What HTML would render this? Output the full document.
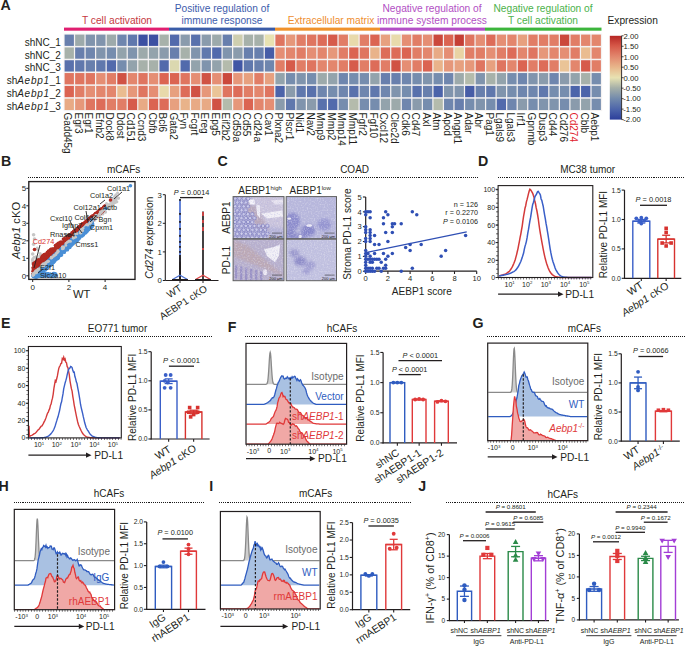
<!DOCTYPE html>
<html><head><meta charset="utf-8"><style>
html,body{margin:0;padding:0;background:#fff;width:685px;height:646px;overflow:hidden}
svg{display:block;font-family:"Liberation Sans",sans-serif}
</style></head><body>
<svg width="685" height="646" viewBox="0 0 685 646" font-family="Liberation Sans, sans-serif" font-size="10" fill="#231f20">
<rect width="685" height="646" fill="#fff"/>
<rect x="63.6" y="33.6" width="538.54" height="77.52" fill="#f4f2f2"/>
<rect x="64.6" y="34.6" width="9.3" height="11.3" fill="#687fad"/>
<rect x="75.14" y="34.6" width="9.3" height="11.3" fill="#9daaab"/>
<rect x="85.68" y="34.6" width="9.3" height="11.3" fill="#8094ad"/>
<rect x="96.22" y="34.6" width="9.3" height="11.3" fill="#8094ad"/>
<rect x="106.76" y="34.6" width="9.3" height="11.3" fill="#9daaab"/>
<rect x="117.3" y="34.6" width="9.3" height="11.3" fill="#6f86ae"/>
<rect x="127.84" y="34.6" width="9.3" height="11.3" fill="#6078ad"/>
<rect x="138.38" y="34.6" width="9.3" height="11.3" fill="#3c50a2"/>
<rect x="148.92" y="34.6" width="9.3" height="11.3" fill="#3c50a2"/>
<rect x="159.46" y="34.6" width="9.3" height="11.3" fill="#a7b1aa"/>
<rect x="170" y="34.6" width="9.3" height="11.3" fill="#526aac"/>
<rect x="180.54" y="34.6" width="9.3" height="11.3" fill="#8a9bac"/>
<rect x="191.08" y="34.6" width="9.3" height="11.3" fill="#5971ac"/>
<rect x="201.62" y="34.6" width="9.3" height="11.3" fill="#8a9bac"/>
<rect x="212.16" y="34.6" width="9.3" height="11.3" fill="#9daaab"/>
<rect x="222.7" y="34.6" width="9.3" height="11.3" fill="#687fad"/>
<rect x="233.24" y="34.6" width="9.3" height="11.3" fill="#ceceaf"/>
<rect x="243.78" y="34.6" width="9.3" height="11.3" fill="#a7b1aa"/>
<rect x="254.32" y="34.6" width="9.3" height="11.3" fill="#a7b1aa"/>
<rect x="264.86" y="34.6" width="9.3" height="11.3" fill="#e8e2b2"/>
<rect x="275.4" y="34.6" width="9.3" height="11.3" fill="#df7560"/>
<rect x="285.94" y="34.6" width="9.3" height="11.3" fill="#e6977a"/>
<rect x="296.48" y="34.6" width="9.3" height="11.3" fill="#e17d66"/>
<rect x="307.02" y="34.6" width="9.3" height="11.3" fill="#df7560"/>
<rect x="317.56" y="34.6" width="9.3" height="11.3" fill="#dd6c59"/>
<rect x="328.1" y="34.6" width="9.3" height="11.3" fill="#d65b4b"/>
<rect x="338.64" y="34.6" width="9.3" height="11.3" fill="#e17d66"/>
<rect x="349.18" y="34.6" width="9.3" height="11.3" fill="#e8daab"/>
<rect x="359.72" y="34.6" width="9.3" height="11.3" fill="#e17d66"/>
<rect x="370.26" y="34.6" width="9.3" height="11.3" fill="#db6452"/>
<rect x="380.8" y="34.6" width="9.3" height="11.3" fill="#e7a07f"/>
<rect x="391.34" y="34.6" width="9.3" height="11.3" fill="#e8daab"/>
<rect x="401.88" y="34.6" width="9.3" height="11.3" fill="#e58e74"/>
<rect x="412.42" y="34.6" width="9.3" height="11.3" fill="#e17d66"/>
<rect x="422.96" y="34.6" width="9.3" height="11.3" fill="#e58e74"/>
<rect x="433.5" y="34.6" width="9.3" height="11.3" fill="#cb483c"/>
<rect x="444.04" y="34.6" width="9.3" height="11.3" fill="#db6452"/>
<rect x="454.58" y="34.6" width="9.3" height="11.3" fill="#c53f35"/>
<rect x="465.12" y="34.6" width="9.3" height="11.3" fill="#df7560"/>
<rect x="475.66" y="34.6" width="9.3" height="11.3" fill="#e58e74"/>
<rect x="486.2" y="34.6" width="9.3" height="11.3" fill="#dd6c59"/>
<rect x="496.74" y="34.6" width="9.3" height="11.3" fill="#e58e74"/>
<rect x="507.28" y="34.6" width="9.3" height="11.3" fill="#e3866d"/>
<rect x="517.82" y="34.6" width="9.3" height="11.3" fill="#e7a07f"/>
<rect x="528.36" y="34.6" width="9.3" height="11.3" fill="#e17d66"/>
<rect x="538.9" y="34.6" width="9.3" height="11.3" fill="#e17d66"/>
<rect x="549.44" y="34.6" width="9.3" height="11.3" fill="#e17d66"/>
<rect x="559.98" y="34.6" width="9.3" height="11.3" fill="#cb483c"/>
<rect x="570.52" y="34.6" width="9.3" height="11.3" fill="#e17d66"/>
<rect x="581.06" y="34.6" width="9.3" height="11.3" fill="#e3866d"/>
<rect x="591.6" y="34.6" width="9.3" height="11.3" fill="#e3866d"/>
<rect x="64.6" y="47.42" width="9.3" height="11.3" fill="#a7b1aa"/>
<rect x="75.14" y="47.42" width="9.3" height="11.3" fill="#687fad"/>
<rect x="85.68" y="47.42" width="9.3" height="11.3" fill="#6f86ae"/>
<rect x="96.22" y="47.42" width="9.3" height="11.3" fill="#8094ad"/>
<rect x="106.76" y="47.42" width="9.3" height="11.3" fill="#768dae"/>
<rect x="117.3" y="47.42" width="9.3" height="11.3" fill="#93a3ac"/>
<rect x="127.84" y="47.42" width="9.3" height="11.3" fill="#8094ad"/>
<rect x="138.38" y="47.42" width="9.3" height="11.3" fill="#9daaab"/>
<rect x="148.92" y="47.42" width="9.3" height="11.3" fill="#93a3ac"/>
<rect x="159.46" y="47.42" width="9.3" height="11.3" fill="#8a9bac"/>
<rect x="170" y="47.42" width="9.3" height="11.3" fill="#687fad"/>
<rect x="180.54" y="47.42" width="9.3" height="11.3" fill="#a7b1aa"/>
<rect x="191.08" y="47.42" width="9.3" height="11.3" fill="#8094ad"/>
<rect x="201.62" y="47.42" width="9.3" height="11.3" fill="#6078ad"/>
<rect x="212.16" y="47.42" width="9.3" height="11.3" fill="#526aac"/>
<rect x="222.7" y="47.42" width="9.3" height="11.3" fill="#8094ad"/>
<rect x="233.24" y="47.42" width="9.3" height="11.3" fill="#8a9bac"/>
<rect x="243.78" y="47.42" width="9.3" height="11.3" fill="#687fad"/>
<rect x="254.32" y="47.42" width="9.3" height="11.3" fill="#687fad"/>
<rect x="264.86" y="47.42" width="9.3" height="11.3" fill="#475da7"/>
<rect x="275.4" y="47.42" width="9.3" height="11.3" fill="#e58e74"/>
<rect x="285.94" y="47.42" width="9.3" height="11.3" fill="#e3866d"/>
<rect x="296.48" y="47.42" width="9.3" height="11.3" fill="#e17d66"/>
<rect x="307.02" y="47.42" width="9.3" height="11.3" fill="#e58e74"/>
<rect x="317.56" y="47.42" width="9.3" height="11.3" fill="#e3866d"/>
<rect x="328.1" y="47.42" width="9.3" height="11.3" fill="#e6977a"/>
<rect x="338.64" y="47.42" width="9.3" height="11.3" fill="#e17d66"/>
<rect x="349.18" y="47.42" width="9.3" height="11.3" fill="#db6452"/>
<rect x="359.72" y="47.42" width="9.3" height="11.3" fill="#df7560"/>
<rect x="370.26" y="47.42" width="9.3" height="11.3" fill="#e9b38a"/>
<rect x="380.8" y="47.42" width="9.3" height="11.3" fill="#dd6c59"/>
<rect x="391.34" y="47.42" width="9.3" height="11.3" fill="#dd6c59"/>
<rect x="401.88" y="47.42" width="9.3" height="11.3" fill="#db6452"/>
<rect x="412.42" y="47.42" width="9.3" height="11.3" fill="#e17d66"/>
<rect x="422.96" y="47.42" width="9.3" height="11.3" fill="#e3866d"/>
<rect x="433.5" y="47.42" width="9.3" height="11.3" fill="#e8aa85"/>
<rect x="444.04" y="47.42" width="9.3" height="11.3" fill="#e58e74"/>
<rect x="454.58" y="47.42" width="9.3" height="11.3" fill="#e9d3a4"/>
<rect x="465.12" y="47.42" width="9.3" height="11.3" fill="#e17d66"/>
<rect x="475.66" y="47.42" width="9.3" height="11.3" fill="#e17d66"/>
<rect x="486.2" y="47.42" width="9.3" height="11.3" fill="#e58e74"/>
<rect x="496.74" y="47.42" width="9.3" height="11.3" fill="#e17d66"/>
<rect x="507.28" y="47.42" width="9.3" height="11.3" fill="#dd6c59"/>
<rect x="517.82" y="47.42" width="9.3" height="11.3" fill="#e3866d"/>
<rect x="528.36" y="47.42" width="9.3" height="11.3" fill="#df7560"/>
<rect x="538.9" y="47.42" width="9.3" height="11.3" fill="#e6977a"/>
<rect x="549.44" y="47.42" width="9.3" height="11.3" fill="#e3866d"/>
<rect x="559.98" y="47.42" width="9.3" height="11.3" fill="#e58e74"/>
<rect x="570.52" y="47.42" width="9.3" height="11.3" fill="#e17d66"/>
<rect x="581.06" y="47.42" width="9.3" height="11.3" fill="#eabc90"/>
<rect x="591.6" y="47.42" width="9.3" height="11.3" fill="#e3866d"/>
<rect x="64.6" y="60.24" width="9.3" height="11.3" fill="#5971ac"/>
<rect x="75.14" y="60.24" width="9.3" height="11.3" fill="#6078ad"/>
<rect x="85.68" y="60.24" width="9.3" height="11.3" fill="#687fad"/>
<rect x="96.22" y="60.24" width="9.3" height="11.3" fill="#6078ad"/>
<rect x="106.76" y="60.24" width="9.3" height="11.3" fill="#526aac"/>
<rect x="117.3" y="60.24" width="9.3" height="11.3" fill="#768dae"/>
<rect x="127.84" y="60.24" width="9.3" height="11.3" fill="#93a3ac"/>
<rect x="138.38" y="60.24" width="9.3" height="11.3" fill="#a7b1aa"/>
<rect x="148.92" y="60.24" width="9.3" height="11.3" fill="#a7b1aa"/>
<rect x="159.46" y="60.24" width="9.3" height="11.3" fill="#526aac"/>
<rect x="170" y="60.24" width="9.3" height="11.3" fill="#dbd8b0"/>
<rect x="180.54" y="60.24" width="9.3" height="11.3" fill="#526aac"/>
<rect x="191.08" y="60.24" width="9.3" height="11.3" fill="#93a3ac"/>
<rect x="201.62" y="60.24" width="9.3" height="11.3" fill="#8094ad"/>
<rect x="212.16" y="60.24" width="9.3" height="11.3" fill="#93a3ac"/>
<rect x="222.7" y="60.24" width="9.3" height="11.3" fill="#b4bbac"/>
<rect x="233.24" y="60.24" width="9.3" height="11.3" fill="#4157a5"/>
<rect x="243.78" y="60.24" width="9.3" height="11.3" fill="#6078ad"/>
<rect x="254.32" y="60.24" width="9.3" height="11.3" fill="#687fad"/>
<rect x="264.86" y="60.24" width="9.3" height="11.3" fill="#6f86ae"/>
<rect x="275.4" y="60.24" width="9.3" height="11.3" fill="#e17d66"/>
<rect x="285.94" y="60.24" width="9.3" height="11.3" fill="#d65b4b"/>
<rect x="296.48" y="60.24" width="9.3" height="11.3" fill="#e17d66"/>
<rect x="307.02" y="60.24" width="9.3" height="11.3" fill="#df7560"/>
<rect x="317.56" y="60.24" width="9.3" height="11.3" fill="#e3866d"/>
<rect x="328.1" y="60.24" width="9.3" height="11.3" fill="#e3866d"/>
<rect x="338.64" y="60.24" width="9.3" height="11.3" fill="#e17d66"/>
<rect x="349.18" y="60.24" width="9.3" height="11.3" fill="#d65b4b"/>
<rect x="359.72" y="60.24" width="9.3" height="11.3" fill="#e17d66"/>
<rect x="370.26" y="60.24" width="9.3" height="11.3" fill="#dd6c59"/>
<rect x="380.8" y="60.24" width="9.3" height="11.3" fill="#e17d66"/>
<rect x="391.34" y="60.24" width="9.3" height="11.3" fill="#d05244"/>
<rect x="401.88" y="60.24" width="9.3" height="11.3" fill="#e58e74"/>
<rect x="412.42" y="60.24" width="9.3" height="11.3" fill="#e17d66"/>
<rect x="422.96" y="60.24" width="9.3" height="11.3" fill="#db6452"/>
<rect x="433.5" y="60.24" width="9.3" height="11.3" fill="#e9b38a"/>
<rect x="444.04" y="60.24" width="9.3" height="11.3" fill="#e6977a"/>
<rect x="454.58" y="60.24" width="9.3" height="11.3" fill="#e7a07f"/>
<rect x="465.12" y="60.24" width="9.3" height="11.3" fill="#e6977a"/>
<rect x="475.66" y="60.24" width="9.3" height="11.3" fill="#df7560"/>
<rect x="486.2" y="60.24" width="9.3" height="11.3" fill="#e7a07f"/>
<rect x="496.74" y="60.24" width="9.3" height="11.3" fill="#df7560"/>
<rect x="507.28" y="60.24" width="9.3" height="11.3" fill="#e3866d"/>
<rect x="517.82" y="60.24" width="9.3" height="11.3" fill="#db6452"/>
<rect x="528.36" y="60.24" width="9.3" height="11.3" fill="#e17d66"/>
<rect x="538.9" y="60.24" width="9.3" height="11.3" fill="#dd6c59"/>
<rect x="549.44" y="60.24" width="9.3" height="11.3" fill="#e17d66"/>
<rect x="559.98" y="60.24" width="9.3" height="11.3" fill="#eac497"/>
<rect x="570.52" y="60.24" width="9.3" height="11.3" fill="#e3866d"/>
<rect x="581.06" y="60.24" width="9.3" height="11.3" fill="#d65b4b"/>
<rect x="591.6" y="60.24" width="9.3" height="11.3" fill="#e17d66"/>
<rect x="64.6" y="73.06" width="9.3" height="11.3" fill="#df7560"/>
<rect x="75.14" y="73.06" width="9.3" height="11.3" fill="#df7560"/>
<rect x="85.68" y="73.06" width="9.3" height="11.3" fill="#df7560"/>
<rect x="96.22" y="73.06" width="9.3" height="11.3" fill="#e58e74"/>
<rect x="106.76" y="73.06" width="9.3" height="11.3" fill="#e17d66"/>
<rect x="117.3" y="73.06" width="9.3" height="11.3" fill="#d05244"/>
<rect x="127.84" y="73.06" width="9.3" height="11.3" fill="#e3866d"/>
<rect x="138.38" y="73.06" width="9.3" height="11.3" fill="#df7560"/>
<rect x="148.92" y="73.06" width="9.3" height="11.3" fill="#e58e74"/>
<rect x="159.46" y="73.06" width="9.3" height="11.3" fill="#db6452"/>
<rect x="170" y="73.06" width="9.3" height="11.3" fill="#db6452"/>
<rect x="180.54" y="73.06" width="9.3" height="11.3" fill="#df7560"/>
<rect x="191.08" y="73.06" width="9.3" height="11.3" fill="#e58e74"/>
<rect x="201.62" y="73.06" width="9.3" height="11.3" fill="#d05244"/>
<rect x="212.16" y="73.06" width="9.3" height="11.3" fill="#e58e74"/>
<rect x="222.7" y="73.06" width="9.3" height="11.3" fill="#cb483c"/>
<rect x="233.24" y="73.06" width="9.3" height="11.3" fill="#e6977a"/>
<rect x="243.78" y="73.06" width="9.3" height="11.3" fill="#e7a07f"/>
<rect x="254.32" y="73.06" width="9.3" height="11.3" fill="#e17d66"/>
<rect x="264.86" y="73.06" width="9.3" height="11.3" fill="#e7a07f"/>
<rect x="275.4" y="73.06" width="9.3" height="11.3" fill="#93a3ac"/>
<rect x="285.94" y="73.06" width="9.3" height="11.3" fill="#768dae"/>
<rect x="296.48" y="73.06" width="9.3" height="11.3" fill="#8094ad"/>
<rect x="307.02" y="73.06" width="9.3" height="11.3" fill="#768dae"/>
<rect x="317.56" y="73.06" width="9.3" height="11.3" fill="#9daaab"/>
<rect x="328.1" y="73.06" width="9.3" height="11.3" fill="#93a3ac"/>
<rect x="338.64" y="73.06" width="9.3" height="11.3" fill="#6f86ae"/>
<rect x="349.18" y="73.06" width="9.3" height="11.3" fill="#768dae"/>
<rect x="359.72" y="73.06" width="9.3" height="11.3" fill="#768dae"/>
<rect x="370.26" y="73.06" width="9.3" height="11.3" fill="#93a3ac"/>
<rect x="380.8" y="73.06" width="9.3" height="11.3" fill="#687fad"/>
<rect x="391.34" y="73.06" width="9.3" height="11.3" fill="#687fad"/>
<rect x="401.88" y="73.06" width="9.3" height="11.3" fill="#6f86ae"/>
<rect x="412.42" y="73.06" width="9.3" height="11.3" fill="#768dae"/>
<rect x="422.96" y="73.06" width="9.3" height="11.3" fill="#8094ad"/>
<rect x="433.5" y="73.06" width="9.3" height="11.3" fill="#768dae"/>
<rect x="444.04" y="73.06" width="9.3" height="11.3" fill="#6f86ae"/>
<rect x="454.58" y="73.06" width="9.3" height="11.3" fill="#9daaab"/>
<rect x="465.12" y="73.06" width="9.3" height="11.3" fill="#b4bbac"/>
<rect x="475.66" y="73.06" width="9.3" height="11.3" fill="#8094ad"/>
<rect x="486.2" y="73.06" width="9.3" height="11.3" fill="#a7b1aa"/>
<rect x="496.74" y="73.06" width="9.3" height="11.3" fill="#93a3ac"/>
<rect x="507.28" y="73.06" width="9.3" height="11.3" fill="#768dae"/>
<rect x="517.82" y="73.06" width="9.3" height="11.3" fill="#6f86ae"/>
<rect x="528.36" y="73.06" width="9.3" height="11.3" fill="#8094ad"/>
<rect x="538.9" y="73.06" width="9.3" height="11.3" fill="#8a9bac"/>
<rect x="549.44" y="73.06" width="9.3" height="11.3" fill="#6f86ae"/>
<rect x="559.98" y="73.06" width="9.3" height="11.3" fill="#8a9bac"/>
<rect x="570.52" y="73.06" width="9.3" height="11.3" fill="#93a3ac"/>
<rect x="581.06" y="73.06" width="9.3" height="11.3" fill="#a7b1aa"/>
<rect x="591.6" y="73.06" width="9.3" height="11.3" fill="#768dae"/>
<rect x="64.6" y="85.88" width="9.3" height="11.3" fill="#db6452"/>
<rect x="75.14" y="85.88" width="9.3" height="11.3" fill="#e17d66"/>
<rect x="85.68" y="85.88" width="9.3" height="11.3" fill="#e58e74"/>
<rect x="96.22" y="85.88" width="9.3" height="11.3" fill="#e3866d"/>
<rect x="106.76" y="85.88" width="9.3" height="11.3" fill="#e3866d"/>
<rect x="117.3" y="85.88" width="9.3" height="11.3" fill="#eabc90"/>
<rect x="127.84" y="85.88" width="9.3" height="11.3" fill="#e6977a"/>
<rect x="138.38" y="85.88" width="9.3" height="11.3" fill="#df7560"/>
<rect x="148.92" y="85.88" width="9.3" height="11.3" fill="#e58e74"/>
<rect x="159.46" y="85.88" width="9.3" height="11.3" fill="#e8daab"/>
<rect x="170" y="85.88" width="9.3" height="11.3" fill="#e7a07f"/>
<rect x="180.54" y="85.88" width="9.3" height="11.3" fill="#dd6c59"/>
<rect x="191.08" y="85.88" width="9.3" height="11.3" fill="#d05244"/>
<rect x="201.62" y="85.88" width="9.3" height="11.3" fill="#e6977a"/>
<rect x="212.16" y="85.88" width="9.3" height="11.3" fill="#eac497"/>
<rect x="222.7" y="85.88" width="9.3" height="11.3" fill="#df7560"/>
<rect x="233.24" y="85.88" width="9.3" height="11.3" fill="#dd6c59"/>
<rect x="243.78" y="85.88" width="9.3" height="11.3" fill="#e17d66"/>
<rect x="254.32" y="85.88" width="9.3" height="11.3" fill="#e3866d"/>
<rect x="264.86" y="85.88" width="9.3" height="11.3" fill="#df7560"/>
<rect x="275.4" y="85.88" width="9.3" height="11.3" fill="#4c64aa"/>
<rect x="285.94" y="85.88" width="9.3" height="11.3" fill="#8a9bac"/>
<rect x="296.48" y="85.88" width="9.3" height="11.3" fill="#6078ad"/>
<rect x="307.02" y="85.88" width="9.3" height="11.3" fill="#5971ac"/>
<rect x="317.56" y="85.88" width="9.3" height="11.3" fill="#6f86ae"/>
<rect x="328.1" y="85.88" width="9.3" height="11.3" fill="#768dae"/>
<rect x="338.64" y="85.88" width="9.3" height="11.3" fill="#6f86ae"/>
<rect x="349.18" y="85.88" width="9.3" height="11.3" fill="#5971ac"/>
<rect x="359.72" y="85.88" width="9.3" height="11.3" fill="#6f86ae"/>
<rect x="370.26" y="85.88" width="9.3" height="11.3" fill="#6078ad"/>
<rect x="380.8" y="85.88" width="9.3" height="11.3" fill="#6f86ae"/>
<rect x="391.34" y="85.88" width="9.3" height="11.3" fill="#8094ad"/>
<rect x="401.88" y="85.88" width="9.3" height="11.3" fill="#768dae"/>
<rect x="412.42" y="85.88" width="9.3" height="11.3" fill="#5971ac"/>
<rect x="422.96" y="85.88" width="9.3" height="11.3" fill="#687fad"/>
<rect x="433.5" y="85.88" width="9.3" height="11.3" fill="#4c64aa"/>
<rect x="444.04" y="85.88" width="9.3" height="11.3" fill="#8094ad"/>
<rect x="454.58" y="85.88" width="9.3" height="11.3" fill="#8094ad"/>
<rect x="465.12" y="85.88" width="9.3" height="11.3" fill="#475da7"/>
<rect x="475.66" y="85.88" width="9.3" height="11.3" fill="#687fad"/>
<rect x="486.2" y="85.88" width="9.3" height="11.3" fill="#6078ad"/>
<rect x="496.74" y="85.88" width="9.3" height="11.3" fill="#8094ad"/>
<rect x="507.28" y="85.88" width="9.3" height="11.3" fill="#768dae"/>
<rect x="517.82" y="85.88" width="9.3" height="11.3" fill="#6f86ae"/>
<rect x="528.36" y="85.88" width="9.3" height="11.3" fill="#6f86ae"/>
<rect x="538.9" y="85.88" width="9.3" height="11.3" fill="#6078ad"/>
<rect x="549.44" y="85.88" width="9.3" height="11.3" fill="#768dae"/>
<rect x="559.98" y="85.88" width="9.3" height="11.3" fill="#768dae"/>
<rect x="570.52" y="85.88" width="9.3" height="11.3" fill="#4c64aa"/>
<rect x="581.06" y="85.88" width="9.3" height="11.3" fill="#4c64aa"/>
<rect x="591.6" y="85.88" width="9.3" height="11.3" fill="#768dae"/>
<rect x="64.6" y="98.7" width="9.3" height="11.3" fill="#e8aa85"/>
<rect x="75.14" y="98.7" width="9.3" height="11.3" fill="#e6977a"/>
<rect x="85.68" y="98.7" width="9.3" height="11.3" fill="#df7560"/>
<rect x="96.22" y="98.7" width="9.3" height="11.3" fill="#dd6c59"/>
<rect x="106.76" y="98.7" width="9.3" height="11.3" fill="#e17d66"/>
<rect x="117.3" y="98.7" width="9.3" height="11.3" fill="#e17d66"/>
<rect x="127.84" y="98.7" width="9.3" height="11.3" fill="#d65b4b"/>
<rect x="138.38" y="98.7" width="9.3" height="11.3" fill="#e8aa85"/>
<rect x="148.92" y="98.7" width="9.3" height="11.3" fill="#db6452"/>
<rect x="159.46" y="98.7" width="9.3" height="11.3" fill="#dd6c59"/>
<rect x="170" y="98.7" width="9.3" height="11.3" fill="#e7a07f"/>
<rect x="180.54" y="98.7" width="9.3" height="11.3" fill="#e9b38a"/>
<rect x="191.08" y="98.7" width="9.3" height="11.3" fill="#e8aa85"/>
<rect x="201.62" y="98.7" width="9.3" height="11.3" fill="#e8aa85"/>
<rect x="212.16" y="98.7" width="9.3" height="11.3" fill="#d05244"/>
<rect x="222.7" y="98.7" width="9.3" height="11.3" fill="#b4bbac"/>
<rect x="233.24" y="98.7" width="9.3" height="11.3" fill="#e6977a"/>
<rect x="243.78" y="98.7" width="9.3" height="11.3" fill="#db6452"/>
<rect x="254.32" y="98.7" width="9.3" height="11.3" fill="#e3866d"/>
<rect x="264.86" y="98.7" width="9.3" height="11.3" fill="#e58e74"/>
<rect x="275.4" y="98.7" width="9.3" height="11.3" fill="#8a9bac"/>
<rect x="285.94" y="98.7" width="9.3" height="11.3" fill="#6078ad"/>
<rect x="296.48" y="98.7" width="9.3" height="11.3" fill="#8094ad"/>
<rect x="307.02" y="98.7" width="9.3" height="11.3" fill="#8a9bac"/>
<rect x="317.56" y="98.7" width="9.3" height="11.3" fill="#5971ac"/>
<rect x="328.1" y="98.7" width="9.3" height="11.3" fill="#526aac"/>
<rect x="338.64" y="98.7" width="9.3" height="11.3" fill="#768dae"/>
<rect x="349.18" y="98.7" width="9.3" height="11.3" fill="#b4bbac"/>
<rect x="359.72" y="98.7" width="9.3" height="11.3" fill="#768dae"/>
<rect x="370.26" y="98.7" width="9.3" height="11.3" fill="#768dae"/>
<rect x="380.8" y="98.7" width="9.3" height="11.3" fill="#93a3ac"/>
<rect x="391.34" y="98.7" width="9.3" height="11.3" fill="#9daaab"/>
<rect x="401.88" y="98.7" width="9.3" height="11.3" fill="#6f86ae"/>
<rect x="412.42" y="98.7" width="9.3" height="11.3" fill="#8a9bac"/>
<rect x="422.96" y="98.7" width="9.3" height="11.3" fill="#768dae"/>
<rect x="433.5" y="98.7" width="9.3" height="11.3" fill="#b4bbac"/>
<rect x="444.04" y="98.7" width="9.3" height="11.3" fill="#6f86ae"/>
<rect x="454.58" y="98.7" width="9.3" height="11.3" fill="#687fad"/>
<rect x="465.12" y="98.7" width="9.3" height="11.3" fill="#768dae"/>
<rect x="475.66" y="98.7" width="9.3" height="11.3" fill="#8094ad"/>
<rect x="486.2" y="98.7" width="9.3" height="11.3" fill="#768dae"/>
<rect x="496.74" y="98.7" width="9.3" height="11.3" fill="#526aac"/>
<rect x="507.28" y="98.7" width="9.3" height="11.3" fill="#6f86ae"/>
<rect x="517.82" y="98.7" width="9.3" height="11.3" fill="#8a9bac"/>
<rect x="528.36" y="98.7" width="9.3" height="11.3" fill="#768dae"/>
<rect x="538.9" y="98.7" width="9.3" height="11.3" fill="#8094ad"/>
<rect x="549.44" y="98.7" width="9.3" height="11.3" fill="#8094ad"/>
<rect x="559.98" y="98.7" width="9.3" height="11.3" fill="#768dae"/>
<rect x="570.52" y="98.7" width="9.3" height="11.3" fill="#8a9bac"/>
<rect x="581.06" y="98.7" width="9.3" height="11.3" fill="#93a3ac"/>
<rect x="591.6" y="98.7" width="9.3" height="11.3" fill="#768dae"/>
<text x="60.8" y="45.85" text-anchor="end">shNC_1</text>
<text x="60.8" y="58.67" text-anchor="end">shNC_2</text>
<text x="60.8" y="71.49" text-anchor="end">shNC_3</text>
<text x="60.8" y="84.31" text-anchor="end">sh<tspan font-style="italic" letter-spacing="0.7">Aebp1</tspan>_1</text>
<text x="60.8" y="97.13" text-anchor="end">sh<tspan font-style="italic" letter-spacing="0.7">Aebp1</tspan>_2</text>
<text x="60.8" y="109.95" text-anchor="end">sh<tspan font-style="italic" letter-spacing="0.7">Aebp1</tspan>_3</text>
<text x="64.25" y="112.5" transform="rotate(90 64.25 112.5)">Gadd45g</text>
<text x="74.79" y="112.5" transform="rotate(90 74.79 112.5)">Egr3</text>
<text x="85.33" y="112.5" transform="rotate(90 85.33 112.5)">Egr1</text>
<text x="95.87" y="112.5" transform="rotate(90 95.87 112.5)">Efnb2</text>
<text x="106.41" y="112.5" transform="rotate(90 106.41 112.5)">Dock8</text>
<text x="116.95" y="112.5" transform="rotate(90 116.95 112.5)">Ddost</text>
<text x="127.49" y="112.5" transform="rotate(90 127.49 112.5)">Cd151</text>
<text x="138.03" y="112.5" transform="rotate(90 138.03 112.5)">Ccnd3</text>
<text x="148.57" y="112.5" transform="rotate(90 148.57 112.5)">Cbfb</text>
<text x="159.11" y="112.5" transform="rotate(90 159.11 112.5)">Bcl6</text>
<text x="169.65" y="112.5" transform="rotate(90 169.65 112.5)">Gata2</text>
<text x="180.19" y="112.5" transform="rotate(90 180.19 112.5)">Fyn</text>
<text x="190.73" y="112.5" transform="rotate(90 190.73 112.5)">Fcgrt</text>
<text x="201.27" y="112.5" transform="rotate(90 201.27 112.5)">Ereg</text>
<text x="211.81" y="112.5" transform="rotate(90 211.81 112.5)">Epg5</text>
<text x="222.35" y="112.5" transform="rotate(90 222.35 112.5)">Eif2b2</text>
<text x="232.89" y="112.5" transform="rotate(90 232.89 112.5)">Cd59a</text>
<text x="243.43" y="112.5" transform="rotate(90 243.43 112.5)">Cd55</text>
<text x="253.97" y="112.5" transform="rotate(90 253.97 112.5)">Cd24a</text>
<text x="264.51" y="112.5" transform="rotate(90 264.51 112.5)">Cav1</text>
<text x="275.05" y="112.5" transform="rotate(90 275.05 112.5)">Plxna2</text>
<text x="285.59" y="112.5" transform="rotate(90 285.59 112.5)">Plscr1</text>
<text x="296.13" y="112.5" transform="rotate(90 296.13 112.5)">Nid1</text>
<text x="306.67" y="112.5" transform="rotate(90 306.67 112.5)">Nav2</text>
<text x="317.21" y="112.5" transform="rotate(90 317.21 112.5)">Mmp9</text>
<text x="327.75" y="112.5" transform="rotate(90 327.75 112.5)">Mmp2</text>
<text x="338.29" y="112.5" transform="rotate(90 338.29 112.5)">Mmp14</text>
<text x="348.83" y="112.5" transform="rotate(90 348.83 112.5)">Mmp11</text>
<text x="359.37" y="112.5" transform="rotate(90 359.37 112.5)">Fgfr2</text>
<text x="369.91" y="112.5" transform="rotate(90 369.91 112.5)">Fgf10</text>
<text x="380.45" y="112.5" transform="rotate(90 380.45 112.5)">Cxcl12</text>
<text x="390.99" y="112.5" transform="rotate(90 390.99 112.5)">Clec2d</text>
<text x="401.53" y="112.5" transform="rotate(90 401.53 112.5)">Cdk6</text>
<text x="412.07" y="112.5" transform="rotate(90 412.07 112.5)">Cd47</text>
<text x="422.61" y="112.5" transform="rotate(90 422.61 112.5)">Axl</text>
<text x="433.15" y="112.5" transform="rotate(90 433.15 112.5)">Atm</text>
<text x="443.69" y="112.5" transform="rotate(90 443.69 112.5)">Apod</text>
<text x="454.23" y="112.5" transform="rotate(90 454.23 112.5)">Angpt1</text>
<text x="464.77" y="112.5" transform="rotate(90 464.77 112.5)">Adar</text>
<text x="475.31" y="112.5" transform="rotate(90 475.31 112.5)">Abr</text>
<text x="485.85" y="112.5" transform="rotate(90 485.85 112.5)">Pag1</text>
<text x="496.39" y="112.5" transform="rotate(90 496.39 112.5)">Lgals9</text>
<text x="506.93" y="112.5" transform="rotate(90 506.93 112.5)">Lgals3</text>
<text x="517.47" y="112.5" transform="rotate(90 517.47 112.5)">Irf1</text>
<text x="528.01" y="112.5" transform="rotate(90 528.01 112.5)">Gpnmb</text>
<text x="538.55" y="112.5" transform="rotate(90 538.55 112.5)">Dusp3</text>
<text x="549.09" y="112.5" transform="rotate(90 549.09 112.5)">Cd44</text>
<text x="559.63" y="112.5" transform="rotate(90 559.63 112.5)">Cd276</text>
<text x="570.17" y="112.5" fill="#e0202a" transform="rotate(90 570.17 112.5)">Cd274</text>
<text x="580.71" y="112.5" transform="rotate(90 580.71 112.5)">Cblb</text>
<text x="591.25" y="112.5" transform="rotate(90 591.25 112.5)">Aebp1</text>
<rect x="64" y="27.6" width="105" height="3.1" fill="#e01f70"/>
<rect x="169" y="27.6" width="106" height="3.1" fill="#3a5ca8"/>
<rect x="275" y="27.6" width="105" height="3.1" fill="#f0922c"/>
<rect x="380" y="27.6" width="105" height="3.1" fill="#b34fc6"/>
<rect x="485" y="27.6" width="116.5" height="3.1" fill="#3cb53c"/>
<text x="117" y="24.3" text-anchor="middle" fill="#c5383e" font-size="10.2">T cell activation</text>
<text x="222" y="12.2" text-anchor="middle" fill="#3d5cac" font-size="10.2">Positive regulation of</text>
<text x="222" y="24.3" text-anchor="middle" fill="#3d5cac" font-size="10.2">immune response</text>
<text x="331" y="24.3" text-anchor="middle" fill="#ee8e2e" font-size="10.2">Extracellular matrix</text>
<text x="432" y="12.2" text-anchor="middle" fill="#b24fc4" font-size="10.2">Negative regulation of</text>
<text x="432" y="24.3" text-anchor="middle" fill="#b24fc4" font-size="10.2">immune system process</text>
<text x="543" y="12.2" text-anchor="middle" fill="#4cb24c" font-size="10.2">Negative regulation of</text>
<text x="543" y="24.3" text-anchor="middle" fill="#4cb24c" font-size="10.2">T cell activation</text>
<text x="0.6" y="9.6" font-weight="bold" font-size="14.2">A</text>
<defs><linearGradient id="cb" x1="0" y1="1" x2="0" y2="0"><stop offset="0" stop-color="#2c3e9b"/><stop offset="0.12" stop-color="#4c64aa"/><stop offset="0.25" stop-color="#728aac"/><stop offset="0.38" stop-color="#a6b0a8"/><stop offset="0.5" stop-color="#e8e2b2"/><stop offset="0.62" stop-color="#e8b88c"/><stop offset="0.75" stop-color="#e2886e"/><stop offset="0.88" stop-color="#d65848"/><stop offset="1" stop-color="#b62624"/></linearGradient></defs>
<rect x="609.8" y="35.8" width="11.6" height="83.8" fill="url(#cb)"/>
<line x1="621.6" y1="35.8" x2="621.6" y2="119.6" stroke="#231f20" stroke-width="0.9"/>
<text x="607.5" y="24.2" font-size="10.2">Expression</text>
<line x1="621.6" y1="35.8" x2="623.6" y2="35.8" stroke="#231f20" stroke-width="0.8"/>
<text x="623.6" y="38.6" font-size="7.7">2.00</text>
<line x1="621.6" y1="46.27" x2="623.6" y2="46.27" stroke="#231f20" stroke-width="0.8"/>
<text x="623.6" y="49.07" font-size="7.7">1.50</text>
<line x1="621.6" y1="56.75" x2="623.6" y2="56.75" stroke="#231f20" stroke-width="0.8"/>
<text x="623.6" y="59.55" font-size="7.7">1.00</text>
<line x1="621.6" y1="67.22" x2="623.6" y2="67.22" stroke="#231f20" stroke-width="0.8"/>
<text x="623.6" y="70.02" font-size="7.7">0.50</text>
<line x1="621.6" y1="77.7" x2="623.6" y2="77.7" stroke="#231f20" stroke-width="0.8"/>
<text x="623.6" y="80.5" font-size="7.7">0.00</text>
<line x1="621.6" y1="88.17" x2="623.6" y2="88.17" stroke="#231f20" stroke-width="0.8"/>
<text x="623.3" y="90.97" font-size="7.7">-0.50</text>
<line x1="621.6" y1="98.65" x2="623.6" y2="98.65" stroke="#231f20" stroke-width="0.8"/>
<text x="623.3" y="101.45" font-size="7.7">-1.00</text>
<line x1="621.6" y1="109.12" x2="623.6" y2="109.12" stroke="#231f20" stroke-width="0.8"/>
<text x="623.3" y="111.92" font-size="7.7">-1.50</text>
<line x1="621.6" y1="119.6" x2="623.6" y2="119.6" stroke="#231f20" stroke-width="0.8"/>
<text x="623.3" y="122.4" font-size="7.7">-2.00</text>
<text x="1" y="165.9" font-weight="bold" font-size="14.2">B</text>
<text x="123.6" y="173" text-anchor="middle">mCAFs</text>
<path d="M28 177.5 H219" stroke="#1a1a1a" stroke-width="1.3" stroke-dasharray="1.1 1" shape-rendering="crispEdges"/>
<clipPath id="cpB"><rect x="29.4" y="182.2" width="105" height="96.6"/></clipPath>
<g clip-path="url(#cpB)">
<circle cx="48.21" cy="262.95" r="1.5" fill="#c6c6c6"/>
<circle cx="80.13" cy="232.13" r="1.5" fill="#c6c6c6"/>
<circle cx="82.2" cy="229.3" r="1.5" fill="#c6c6c6"/>
<circle cx="102.92" cy="210.45" r="1.5" fill="#c6c6c6"/>
<circle cx="49.9" cy="258.56" r="1.5" fill="#c6c6c6"/>
<circle cx="67.83" cy="235.36" r="1.5" fill="#c6c6c6"/>
<circle cx="102.82" cy="213.9" r="1.5" fill="#c6c6c6"/>
<circle cx="41.66" cy="255.48" r="1.5" fill="#c6c6c6"/>
<circle cx="72.63" cy="241.86" r="1.5" fill="#c6c6c6"/>
<circle cx="93.36" cy="219.78" r="1.5" fill="#c6c6c6"/>
<circle cx="95.03" cy="218.58" r="1.5" fill="#c6c6c6"/>
<circle cx="78.93" cy="232.82" r="1.5" fill="#c6c6c6"/>
<circle cx="105.76" cy="207.46" r="1.5" fill="#c6c6c6"/>
<circle cx="68.06" cy="243.53" r="1.5" fill="#c6c6c6"/>
<circle cx="90.7" cy="226.41" r="1.5" fill="#c6c6c6"/>
<circle cx="111.42" cy="206.02" r="1.5" fill="#c6c6c6"/>
<circle cx="65.55" cy="242.42" r="1.5" fill="#c6c6c6"/>
<circle cx="112.91" cy="200.68" r="1.5" fill="#c6c6c6"/>
<circle cx="40.63" cy="263.46" r="1.5" fill="#c6c6c6"/>
<circle cx="64.8" cy="239.84" r="1.5" fill="#c6c6c6"/>
<circle cx="82.28" cy="230.41" r="1.5" fill="#c6c6c6"/>
<circle cx="60.41" cy="247.08" r="1.5" fill="#c6c6c6"/>
<circle cx="57.43" cy="254.98" r="1.5" fill="#c6c6c6"/>
<circle cx="109.69" cy="205.92" r="1.5" fill="#c6c6c6"/>
<circle cx="87.58" cy="220.65" r="1.5" fill="#c6c6c6"/>
<circle cx="118.64" cy="198.1" r="1.5" fill="#c6c6c6"/>
<circle cx="86.55" cy="223.29" r="1.5" fill="#c6c6c6"/>
<circle cx="115.91" cy="194.81" r="1.5" fill="#c6c6c6"/>
<circle cx="109.74" cy="207.6" r="1.5" fill="#c6c6c6"/>
<circle cx="46.14" cy="264.27" r="1.5" fill="#c6c6c6"/>
<circle cx="102.33" cy="212.81" r="1.5" fill="#c6c6c6"/>
<circle cx="35.88" cy="256.63" r="1.5" fill="#c6c6c6"/>
<circle cx="37.44" cy="268.41" r="1.5" fill="#c6c6c6"/>
<circle cx="41.67" cy="263.05" r="1.5" fill="#c6c6c6"/>
<circle cx="106.49" cy="203.58" r="1.5" fill="#c6c6c6"/>
<circle cx="34.76" cy="272.06" r="1.5" fill="#c6c6c6"/>
<circle cx="91.12" cy="223.72" r="1.5" fill="#c6c6c6"/>
<circle cx="117.57" cy="193.05" r="1.5" fill="#c6c6c6"/>
<circle cx="71.01" cy="237.95" r="1.5" fill="#c6c6c6"/>
<circle cx="36.7" cy="270.14" r="1.5" fill="#c6c6c6"/>
<circle cx="45.1" cy="264.05" r="1.5" fill="#c6c6c6"/>
<circle cx="62.32" cy="248.91" r="1.5" fill="#c6c6c6"/>
<circle cx="34.66" cy="268.78" r="1.5" fill="#c6c6c6"/>
<circle cx="115.29" cy="200.7" r="1.5" fill="#c6c6c6"/>
<circle cx="108.92" cy="206.91" r="1.5" fill="#c6c6c6"/>
<circle cx="72.35" cy="236.93" r="1.5" fill="#c6c6c6"/>
<circle cx="83.93" cy="230.45" r="1.5" fill="#c6c6c6"/>
<circle cx="81.67" cy="231.77" r="1.5" fill="#c6c6c6"/>
<circle cx="113.43" cy="203.37" r="1.5" fill="#c6c6c6"/>
<circle cx="91.31" cy="221.38" r="1.5" fill="#c6c6c6"/>
<circle cx="48.19" cy="262.85" r="1.5" fill="#c6c6c6"/>
<circle cx="72.44" cy="232.64" r="1.5" fill="#c6c6c6"/>
<circle cx="74.95" cy="233.94" r="1.5" fill="#c6c6c6"/>
<circle cx="77.89" cy="233.43" r="1.5" fill="#c6c6c6"/>
<circle cx="33.5" cy="266.8" r="1.5" fill="#c6c6c6"/>
<circle cx="35.67" cy="265.89" r="1.5" fill="#c6c6c6"/>
<circle cx="87.32" cy="227.07" r="1.5" fill="#c6c6c6"/>
<circle cx="93.04" cy="216.83" r="1.5" fill="#c6c6c6"/>
<circle cx="33.6" cy="270.05" r="1.5" fill="#c6c6c6"/>
<circle cx="115.77" cy="198.82" r="1.5" fill="#c6c6c6"/>
<circle cx="79.08" cy="229.99" r="1.5" fill="#c6c6c6"/>
<circle cx="54.84" cy="256.06" r="1.5" fill="#c6c6c6"/>
<circle cx="58.98" cy="249.48" r="1.5" fill="#c6c6c6"/>
<circle cx="79.35" cy="232.94" r="1.5" fill="#c6c6c6"/>
<circle cx="96.42" cy="214.47" r="1.5" fill="#c6c6c6"/>
<circle cx="33.84" cy="268.69" r="1.5" fill="#c6c6c6"/>
<circle cx="54.01" cy="254.82" r="1.5" fill="#c6c6c6"/>
<circle cx="48.27" cy="256.75" r="1.5" fill="#c6c6c6"/>
<circle cx="44.35" cy="267.64" r="1.5" fill="#c6c6c6"/>
<circle cx="38.3" cy="266.94" r="1.5" fill="#c6c6c6"/>
<circle cx="102.53" cy="209.12" r="1.5" fill="#c6c6c6"/>
<circle cx="65" cy="244.58" r="1.5" fill="#c6c6c6"/>
<circle cx="56.23" cy="254.58" r="1.5" fill="#c6c6c6"/>
<circle cx="84.53" cy="225.62" r="1.5" fill="#c6c6c6"/>
<circle cx="47.21" cy="263.42" r="1.5" fill="#c6c6c6"/>
<circle cx="39.59" cy="268.09" r="1.5" fill="#c6c6c6"/>
<circle cx="99.85" cy="212.66" r="1.5" fill="#c6c6c6"/>
<circle cx="51.44" cy="259.11" r="1.5" fill="#c6c6c6"/>
<circle cx="99.89" cy="215.97" r="1.5" fill="#c6c6c6"/>
<circle cx="56.95" cy="256.03" r="1.5" fill="#c6c6c6"/>
<circle cx="40.19" cy="253.55" r="1.5" fill="#c6c6c6"/>
<circle cx="50.85" cy="259.78" r="1.5" fill="#c6c6c6"/>
<circle cx="63.36" cy="245" r="1.5" fill="#c6c6c6"/>
<circle cx="62.46" cy="246.6" r="1.5" fill="#c6c6c6"/>
<circle cx="32.84" cy="258.78" r="1.5" fill="#c6c6c6"/>
<circle cx="118.22" cy="198.19" r="1.5" fill="#c6c6c6"/>
<circle cx="64.64" cy="240.81" r="1.5" fill="#c6c6c6"/>
<circle cx="46.98" cy="263.59" r="1.5" fill="#c6c6c6"/>
<circle cx="93.78" cy="217.26" r="1.5" fill="#c6c6c6"/>
<circle cx="72.25" cy="241.64" r="1.5" fill="#c6c6c6"/>
<circle cx="52.29" cy="257.99" r="1.5" fill="#c6c6c6"/>
<circle cx="36.16" cy="266.35" r="1.5" fill="#c6c6c6"/>
<circle cx="100.19" cy="214.1" r="1.5" fill="#c6c6c6"/>
<circle cx="34.81" cy="266.1" r="1.5" fill="#c6c6c6"/>
<circle cx="111.7" cy="198.65" r="1.5" fill="#c6c6c6"/>
<circle cx="77.6" cy="236.81" r="1.5" fill="#c6c6c6"/>
<circle cx="33.18" cy="269.97" r="1.5" fill="#c6c6c6"/>
<circle cx="53.18" cy="257.74" r="1.5" fill="#c6c6c6"/>
<circle cx="62.83" cy="249.8" r="1.5" fill="#c6c6c6"/>
<circle cx="113.26" cy="202.68" r="1.5" fill="#c6c6c6"/>
<circle cx="49.36" cy="261.15" r="1.5" fill="#c6c6c6"/>
<circle cx="105.37" cy="212.29" r="1.5" fill="#c6c6c6"/>
<circle cx="57.5" cy="251.75" r="1.5" fill="#c6c6c6"/>
<circle cx="45.09" cy="267.81" r="1.5" fill="#c6c6c6"/>
<circle cx="43.16" cy="266.4" r="1.5" fill="#c6c6c6"/>
<circle cx="98.34" cy="211.18" r="1.5" fill="#c6c6c6"/>
<circle cx="101.52" cy="213.83" r="1.5" fill="#c6c6c6"/>
<circle cx="32.95" cy="262.96" r="1.5" fill="#c6c6c6"/>
<circle cx="35.08" cy="266.64" r="1.5" fill="#c6c6c6"/>
<circle cx="73" cy="240.36" r="1.5" fill="#c6c6c6"/>
<circle cx="96.83" cy="214.99" r="1.5" fill="#c6c6c6"/>
<circle cx="32.74" cy="274.22" r="1.5" fill="#c6c6c6"/>
<circle cx="39.84" cy="259.01" r="1.5" fill="#c6c6c6"/>
<circle cx="104.64" cy="206.72" r="1.5" fill="#c6c6c6"/>
<circle cx="54.5" cy="253.7" r="1.5" fill="#c6c6c6"/>
<circle cx="54.39" cy="257.13" r="1.5" fill="#c6c6c6"/>
<circle cx="78.51" cy="230.38" r="1.5" fill="#c6c6c6"/>
<circle cx="58.27" cy="250.88" r="1.5" fill="#c6c6c6"/>
<circle cx="39.78" cy="255.91" r="1.5" fill="#c6c6c6"/>
<circle cx="59.93" cy="251.33" r="1.5" fill="#c6c6c6"/>
<circle cx="36.89" cy="264.13" r="1.5" fill="#c6c6c6"/>
<circle cx="80.18" cy="231.03" r="1.5" fill="#c6c6c6"/>
<circle cx="99.29" cy="216.12" r="1.5" fill="#c6c6c6"/>
<circle cx="81.93" cy="231.88" r="1.5" fill="#c6c6c6"/>
<circle cx="70.17" cy="239.77" r="1.5" fill="#c6c6c6"/>
<circle cx="89.61" cy="225.9" r="1.5" fill="#c6c6c6"/>
<circle cx="66.99" cy="241.93" r="1.5" fill="#c6c6c6"/>
<circle cx="48.77" cy="263.76" r="1.5" fill="#c6c6c6"/>
<circle cx="36.37" cy="264.04" r="1.5" fill="#c6c6c6"/>
<circle cx="107.19" cy="205.59" r="1.5" fill="#c6c6c6"/>
<circle cx="113" cy="204.76" r="1.5" fill="#c6c6c6"/>
<circle cx="98.27" cy="211.42" r="1.5" fill="#c6c6c6"/>
<circle cx="50.13" cy="260.23" r="1.5" fill="#c6c6c6"/>
<circle cx="100.49" cy="212.57" r="1.5" fill="#c6c6c6"/>
<circle cx="85.69" cy="223.36" r="1.5" fill="#c6c6c6"/>
<circle cx="86.19" cy="228.59" r="1.5" fill="#c6c6c6"/>
<circle cx="92.62" cy="221.04" r="1.5" fill="#c6c6c6"/>
<circle cx="78.62" cy="233.34" r="1.5" fill="#c6c6c6"/>
<circle cx="32.85" cy="263.82" r="1.5" fill="#c6c6c6"/>
<circle cx="34.76" cy="271.62" r="1.5" fill="#c6c6c6"/>
<circle cx="107.27" cy="206.39" r="1.5" fill="#c6c6c6"/>
<circle cx="103.33" cy="209.78" r="1.5" fill="#c6c6c6"/>
<circle cx="39.61" cy="258.24" r="1.5" fill="#c6c6c6"/>
<circle cx="102.79" cy="207.86" r="1.5" fill="#c6c6c6"/>
<circle cx="99.05" cy="215.04" r="1.5" fill="#c6c6c6"/>
<circle cx="34.32" cy="263.82" r="1.5" fill="#c6c6c6"/>
<circle cx="90.8" cy="218.77" r="1.5" fill="#c6c6c6"/>
<circle cx="112.8" cy="199.17" r="1.5" fill="#c6c6c6"/>
<circle cx="35.74" cy="262.79" r="1.5" fill="#c6c6c6"/>
<circle cx="101.98" cy="211.4" r="1.5" fill="#c6c6c6"/>
<circle cx="49.16" cy="258.55" r="1.5" fill="#c6c6c6"/>
<circle cx="81.27" cy="230.43" r="1.5" fill="#c6c6c6"/>
<circle cx="58.83" cy="253.37" r="1.5" fill="#c6c6c6"/>
<circle cx="61.34" cy="250.19" r="1.5" fill="#c6c6c6"/>
<circle cx="37.1" cy="248.02" r="1.5" fill="#c6c6c6"/>
<circle cx="62.75" cy="247.51" r="1.5" fill="#c6c6c6"/>
<circle cx="93.96" cy="216.97" r="1.5" fill="#c6c6c6"/>
<circle cx="94.82" cy="215.09" r="1.5" fill="#c6c6c6"/>
<circle cx="86.8" cy="228.01" r="1.5" fill="#c6c6c6"/>
<circle cx="83.84" cy="228.41" r="1.5" fill="#c6c6c6"/>
<circle cx="109" cy="204.42" r="1.5" fill="#c6c6c6"/>
<circle cx="94.04" cy="217.94" r="1.5" fill="#c6c6c6"/>
<circle cx="110.96" cy="205.66" r="1.5" fill="#c6c6c6"/>
<circle cx="91.17" cy="221.66" r="1.5" fill="#c6c6c6"/>
<circle cx="44.25" cy="264.65" r="1.5" fill="#c6c6c6"/>
<circle cx="78.41" cy="231.6" r="1.5" fill="#c6c6c6"/>
<circle cx="54.41" cy="254.77" r="1.5" fill="#c6c6c6"/>
<circle cx="114.75" cy="196.27" r="1.5" fill="#c6c6c6"/>
<circle cx="52.85" cy="257.24" r="1.5" fill="#c6c6c6"/>
<circle cx="104.55" cy="211.36" r="1.5" fill="#c6c6c6"/>
<circle cx="78.32" cy="233.37" r="1.5" fill="#c6c6c6"/>
<circle cx="33.65" cy="266.36" r="1.5" fill="#c6c6c6"/>
<circle cx="43.23" cy="265.14" r="1.5" fill="#c6c6c6"/>
<circle cx="58.24" cy="253.36" r="1.5" fill="#c6c6c6"/>
<circle cx="41.16" cy="257.63" r="1.5" fill="#c6c6c6"/>
<circle cx="79.67" cy="232.1" r="1.5" fill="#c6c6c6"/>
<circle cx="67.64" cy="240.87" r="1.5" fill="#c6c6c6"/>
<circle cx="75.76" cy="239.19" r="1.5" fill="#c6c6c6"/>
<circle cx="68.83" cy="242.74" r="1.5" fill="#c6c6c6"/>
<circle cx="61.66" cy="252.91" r="1.5" fill="#c6c6c6"/>
<circle cx="92.6" cy="217.6" r="1.5" fill="#c6c6c6"/>
<circle cx="47.56" cy="262.08" r="1.5" fill="#c6c6c6"/>
<circle cx="47.97" cy="261.77" r="1.5" fill="#c6c6c6"/>
<circle cx="115.29" cy="202.58" r="1.5" fill="#c6c6c6"/>
<circle cx="104.58" cy="209.01" r="1.5" fill="#c6c6c6"/>
<circle cx="49.84" cy="257.88" r="1.5" fill="#c6c6c6"/>
<circle cx="44.33" cy="265.68" r="1.5" fill="#c6c6c6"/>
<circle cx="109.24" cy="209.12" r="1.5" fill="#c6c6c6"/>
<circle cx="49.56" cy="258.31" r="1.5" fill="#c6c6c6"/>
<circle cx="63.67" cy="248.14" r="1.5" fill="#c6c6c6"/>
<circle cx="92.15" cy="219.63" r="1.5" fill="#c6c6c6"/>
<circle cx="102.57" cy="210.41" r="1.5" fill="#c6c6c6"/>
<circle cx="52.51" cy="258.76" r="1.5" fill="#c6c6c6"/>
<circle cx="86.96" cy="222.91" r="1.5" fill="#c6c6c6"/>
<circle cx="32.92" cy="267.52" r="1.5" fill="#c6c6c6"/>
<circle cx="69.24" cy="240.79" r="1.5" fill="#c6c6c6"/>
<circle cx="114.94" cy="196.63" r="1.5" fill="#c6c6c6"/>
<circle cx="60.85" cy="250.35" r="1.5" fill="#c6c6c6"/>
<circle cx="51.14" cy="258.48" r="1.5" fill="#c6c6c6"/>
<circle cx="85.99" cy="222.54" r="1.5" fill="#c6c6c6"/>
<circle cx="110.16" cy="200.87" r="1.5" fill="#c6c6c6"/>
<circle cx="37.98" cy="267.64" r="1.5" fill="#c6c6c6"/>
<circle cx="96.43" cy="216.48" r="1.5" fill="#c6c6c6"/>
<circle cx="87" cy="227.13" r="1.5" fill="#c6c6c6"/>
<circle cx="84.9" cy="226.54" r="1.5" fill="#c6c6c6"/>
<circle cx="94.63" cy="219.9" r="1.5" fill="#c6c6c6"/>
<circle cx="115.56" cy="200.3" r="1.5" fill="#c6c6c6"/>
<circle cx="39.07" cy="261.5" r="1.5" fill="#c6c6c6"/>
<circle cx="91.09" cy="221.39" r="1.5" fill="#c6c6c6"/>
<circle cx="87.25" cy="226.31" r="1.5" fill="#c6c6c6"/>
<circle cx="84.1" cy="228.48" r="1.5" fill="#c6c6c6"/>
<circle cx="82.69" cy="227.13" r="1.5" fill="#c6c6c6"/>
<circle cx="85.02" cy="222.73" r="1.5" fill="#c6c6c6"/>
<circle cx="39.74" cy="266.99" r="1.5" fill="#c6c6c6"/>
<circle cx="55.8" cy="254.45" r="1.5" fill="#c6c6c6"/>
<circle cx="75.55" cy="238.75" r="1.5" fill="#c6c6c6"/>
<circle cx="84.27" cy="229.63" r="1.5" fill="#c6c6c6"/>
<circle cx="43.53" cy="264.63" r="1.5" fill="#c6c6c6"/>
<circle cx="36.19" cy="258.1" r="1.5" fill="#c6c6c6"/>
<circle cx="74.46" cy="236.88" r="1.5" fill="#c6c6c6"/>
<circle cx="50.42" cy="260.97" r="1.5" fill="#c6c6c6"/>
<circle cx="60.2" cy="249.38" r="1.5" fill="#c6c6c6"/>
<circle cx="70.94" cy="240.45" r="1.5" fill="#c6c6c6"/>
<circle cx="48.94" cy="259.93" r="1.5" fill="#c6c6c6"/>
<circle cx="55.91" cy="255.9" r="1.5" fill="#c6c6c6"/>
<circle cx="61.92" cy="252.04" r="1.5" fill="#c6c6c6"/>
<circle cx="57.59" cy="253.24" r="1.5" fill="#c6c6c6"/>
<circle cx="103.87" cy="208.35" r="1.5" fill="#c6c6c6"/>
<circle cx="38.16" cy="258.97" r="1.5" fill="#c6c6c6"/>
<circle cx="91.99" cy="218.07" r="1.5" fill="#c6c6c6"/>
<circle cx="44.16" cy="263.7" r="1.5" fill="#c6c6c6"/>
<circle cx="93.56" cy="217.01" r="1.5" fill="#c6c6c6"/>
<circle cx="100.74" cy="212.63" r="1.5" fill="#c6c6c6"/>
<circle cx="41.37" cy="262.81" r="1.5" fill="#c6c6c6"/>
<circle cx="73.04" cy="237.16" r="1.5" fill="#c6c6c6"/>
<circle cx="76.8" cy="234.08" r="1.5" fill="#c6c6c6"/>
<circle cx="97.35" cy="214.07" r="1.5" fill="#c6c6c6"/>
<circle cx="34" cy="257.13" r="1.5" fill="#c6c6c6"/>
<circle cx="114.32" cy="202.27" r="1.5" fill="#c6c6c6"/>
<circle cx="78.18" cy="231.4" r="1.5" fill="#c6c6c6"/>
<circle cx="82.95" cy="225.52" r="1.5" fill="#c6c6c6"/>
<circle cx="53.14" cy="256.83" r="1.5" fill="#c6c6c6"/>
<circle cx="105.2" cy="211.58" r="1.5" fill="#c6c6c6"/>
<circle cx="91.94" cy="220.38" r="1.5" fill="#c6c6c6"/>
<circle cx="32.76" cy="262.96" r="1.5" fill="#c6c6c6"/>
<circle cx="69.78" cy="243.54" r="1.5" fill="#c6c6c6"/>
<circle cx="44.8" cy="264.36" r="1.5" fill="#c6c6c6"/>
<circle cx="73.21" cy="235.28" r="1.5" fill="#c6c6c6"/>
<circle cx="84.12" cy="227.25" r="1.5" fill="#c6c6c6"/>
<circle cx="65.51" cy="250.22" r="1.5" fill="#c6c6c6"/>
<circle cx="108.45" cy="207.84" r="1.5" fill="#c6c6c6"/>
<circle cx="40.6" cy="256.37" r="1.5" fill="#c6c6c6"/>
<circle cx="35.12" cy="268.54" r="1.5" fill="#c6c6c6"/>
<circle cx="36.76" cy="267" r="1.5" fill="#c6c6c6"/>
<circle cx="55.1" cy="252.12" r="1.5" fill="#c6c6c6"/>
<circle cx="40.51" cy="260.78" r="1.5" fill="#c6c6c6"/>
<circle cx="112.02" cy="204.64" r="1.5" fill="#c6c6c6"/>
<circle cx="90.88" cy="221.8" r="1.5" fill="#c6c6c6"/>
<circle cx="99.84" cy="215.52" r="1.5" fill="#c6c6c6"/>
<circle cx="112.51" cy="200.22" r="1.5" fill="#c6c6c6"/>
<circle cx="94.89" cy="219.84" r="1.5" fill="#c6c6c6"/>
<circle cx="69.16" cy="241.09" r="1.5" fill="#c6c6c6"/>
<circle cx="36.76" cy="270.28" r="1.5" fill="#c6c6c6"/>
<circle cx="70.26" cy="239.32" r="1.5" fill="#c6c6c6"/>
<circle cx="89.26" cy="225.47" r="1.5" fill="#c6c6c6"/>
<circle cx="84.44" cy="228.13" r="1.5" fill="#c6c6c6"/>
<circle cx="53.57" cy="259.66" r="1.5" fill="#c6c6c6"/>
<circle cx="61.76" cy="247.56" r="1.5" fill="#c6c6c6"/>
<circle cx="43.84" cy="261.94" r="1.5" fill="#c6c6c6"/>
<circle cx="58.79" cy="253.28" r="1.5" fill="#c6c6c6"/>
<circle cx="59.13" cy="253.83" r="1.5" fill="#c6c6c6"/>
<circle cx="47.12" cy="262.42" r="1.5" fill="#c6c6c6"/>
<circle cx="32.77" cy="260.94" r="1.5" fill="#c6c6c6"/>
<circle cx="41.15" cy="266.19" r="1.5" fill="#c6c6c6"/>
<circle cx="46" cy="261.78" r="1.5" fill="#c6c6c6"/>
<circle cx="42.94" cy="263.67" r="1.5" fill="#c6c6c6"/>
<circle cx="33.86" cy="271.29" r="1.5" fill="#c6c6c6"/>
<circle cx="69.64" cy="240.72" r="1.5" fill="#c6c6c6"/>
<circle cx="65.85" cy="244.47" r="1.5" fill="#c6c6c6"/>
<circle cx="62.31" cy="248.12" r="1.5" fill="#c6c6c6"/>
<circle cx="61.92" cy="248.97" r="1.5" fill="#c6c6c6"/>
<circle cx="61.34" cy="242.97" r="1.5" fill="#c6c6c6"/>
<circle cx="46.74" cy="261.22" r="1.5" fill="#c6c6c6"/>
<circle cx="37.81" cy="270.03" r="1.5" fill="#c6c6c6"/>
<circle cx="81.89" cy="230.59" r="1.5" fill="#c6c6c6"/>
<circle cx="35.19" cy="272.41" r="1.5" fill="#c6c6c6"/>
<circle cx="97.96" cy="216.97" r="1.5" fill="#c6c6c6"/>
<circle cx="67.4" cy="241.47" r="1.5" fill="#c6c6c6"/>
<circle cx="49.16" cy="260.77" r="1.5" fill="#c6c6c6"/>
<circle cx="50.42" cy="257.56" r="1.5" fill="#c6c6c6"/>
<circle cx="56.91" cy="255.81" r="1.5" fill="#c6c6c6"/>
<circle cx="37.77" cy="249.86" r="1.5" fill="#c6c6c6"/>
<circle cx="79.04" cy="231.97" r="1.5" fill="#c6c6c6"/>
<circle cx="37.57" cy="269.95" r="1.5" fill="#c6c6c6"/>
<circle cx="35.31" cy="262.64" r="1.5" fill="#c6c6c6"/>
<circle cx="45.35" cy="267.51" r="1.5" fill="#c6c6c6"/>
<circle cx="116.86" cy="201.86" r="1.5" fill="#c6c6c6"/>
<circle cx="111.04" cy="202.55" r="1.5" fill="#c6c6c6"/>
<circle cx="113.37" cy="199.11" r="1.5" fill="#c6c6c6"/>
<circle cx="80.42" cy="230.86" r="1.5" fill="#c6c6c6"/>
<circle cx="100.85" cy="212.84" r="1.5" fill="#b02a22"/>
<circle cx="51.49" cy="250.21" r="1.5" fill="#b02a22"/>
<circle cx="39.39" cy="266.11" r="1.5" fill="#b02a22"/>
<circle cx="54.38" cy="249.81" r="1.5" fill="#b02a22"/>
<circle cx="99.43" cy="213.87" r="1.5" fill="#b02a22"/>
<circle cx="84.67" cy="223.73" r="1.5" fill="#b02a22"/>
<circle cx="92.13" cy="218.56" r="1.5" fill="#b02a22"/>
<circle cx="99.03" cy="213.48" r="1.5" fill="#b02a22"/>
<circle cx="60.2" cy="249.03" r="1.5" fill="#b02a22"/>
<circle cx="87.74" cy="222.8" r="1.5" fill="#b02a22"/>
<circle cx="49.81" cy="258.88" r="1.5" fill="#b02a22"/>
<circle cx="83.19" cy="225.92" r="1.5" fill="#b02a22"/>
<circle cx="82.42" cy="228.07" r="1.5" fill="#b02a22"/>
<circle cx="65.52" cy="244.74" r="1.5" fill="#b02a22"/>
<circle cx="82.43" cy="229.9" r="1.5" fill="#b02a22"/>
<circle cx="64.03" cy="240.84" r="1.5" fill="#b02a22"/>
<circle cx="79.86" cy="231.98" r="1.5" fill="#b02a22"/>
<circle cx="47.57" cy="253.53" r="1.5" fill="#b02a22"/>
<circle cx="77.19" cy="228.77" r="1.5" fill="#b02a22"/>
<circle cx="94.99" cy="216.63" r="1.5" fill="#b02a22"/>
<circle cx="96.93" cy="213.42" r="1.5" fill="#b02a22"/>
<circle cx="54.35" cy="253.07" r="1.5" fill="#b02a22"/>
<circle cx="36.71" cy="268.37" r="1.5" fill="#b02a22"/>
<circle cx="101.58" cy="212.13" r="1.5" fill="#b02a22"/>
<circle cx="71.63" cy="239.43" r="1.5" fill="#b02a22"/>
<circle cx="37.25" cy="264.76" r="1.5" fill="#b02a22"/>
<circle cx="47.81" cy="261.54" r="1.5" fill="#b02a22"/>
<circle cx="41.86" cy="260.89" r="1.5" fill="#b02a22"/>
<circle cx="72.89" cy="238.69" r="1.5" fill="#b02a22"/>
<circle cx="47.07" cy="252.29" r="1.5" fill="#b02a22"/>
<circle cx="46.4" cy="258" r="1.5" fill="#b02a22"/>
<circle cx="60.55" cy="243.5" r="1.5" fill="#b02a22"/>
<circle cx="74.31" cy="231.96" r="1.5" fill="#b02a22"/>
<circle cx="69.1" cy="241.27" r="1.5" fill="#b02a22"/>
<circle cx="43.52" cy="265.28" r="1.5" fill="#b02a22"/>
<circle cx="91.33" cy="221.45" r="1.5" fill="#b02a22"/>
<circle cx="33.9" cy="262.94" r="1.5" fill="#b02a22"/>
<circle cx="44.98" cy="255" r="1.5" fill="#b02a22"/>
<circle cx="37.56" cy="266.84" r="1.5" fill="#b02a22"/>
<circle cx="46.58" cy="254.53" r="1.5" fill="#b02a22"/>
<circle cx="75.15" cy="232.52" r="1.5" fill="#b02a22"/>
<circle cx="86.34" cy="221.31" r="1.5" fill="#b02a22"/>
<circle cx="55.23" cy="249.94" r="1.5" fill="#b02a22"/>
<circle cx="62.46" cy="247.79" r="1.5" fill="#b02a22"/>
<circle cx="92.1" cy="218.34" r="1.5" fill="#b02a22"/>
<circle cx="90.5" cy="221.83" r="1.5" fill="#b02a22"/>
<circle cx="69.4" cy="238.97" r="1.5" fill="#b02a22"/>
<circle cx="83.76" cy="228.5" r="1.5" fill="#b02a22"/>
<circle cx="55.24" cy="251.17" r="1.5" fill="#b02a22"/>
<circle cx="36.68" cy="266.52" r="1.5" fill="#b02a22"/>
<circle cx="84.33" cy="226.16" r="1.5" fill="#b02a22"/>
<circle cx="77.65" cy="230.67" r="1.5" fill="#b02a22"/>
<circle cx="45.99" cy="260.68" r="1.5" fill="#b02a22"/>
<circle cx="104.76" cy="208.5" r="1.5" fill="#b02a22"/>
<circle cx="61.37" cy="248.93" r="1.5" fill="#b02a22"/>
<circle cx="46.25" cy="262.15" r="1.5" fill="#b02a22"/>
<circle cx="99.62" cy="211.2" r="1.5" fill="#b02a22"/>
<circle cx="95.19" cy="213.32" r="1.5" fill="#b02a22"/>
<circle cx="74.9" cy="230.16" r="1.5" fill="#b02a22"/>
<circle cx="69.14" cy="239.57" r="1.5" fill="#b02a22"/>
<circle cx="100.97" cy="209.12" r="1.5" fill="#b02a22"/>
<circle cx="101.1" cy="211.12" r="1.5" fill="#b02a22"/>
<circle cx="87.28" cy="223.66" r="1.5" fill="#b02a22"/>
<circle cx="104.89" cy="205.84" r="1.5" fill="#b02a22"/>
<circle cx="51.4" cy="249.23" r="1.5" fill="#b02a22"/>
<circle cx="43.99" cy="264.74" r="1.5" fill="#b02a22"/>
<circle cx="83.33" cy="227.83" r="1.5" fill="#b02a22"/>
<circle cx="67.92" cy="238.71" r="1.5" fill="#b02a22"/>
<circle cx="34.83" cy="265.48" r="1.5" fill="#b02a22"/>
<circle cx="50.27" cy="256.06" r="1.5" fill="#b02a22"/>
<circle cx="55.14" cy="248.47" r="1.5" fill="#b02a22"/>
<circle cx="85.21" cy="226.18" r="1.5" fill="#b02a22"/>
<circle cx="38.66" cy="267.74" r="1.5" fill="#b02a22"/>
<circle cx="59.93" cy="250.29" r="1.5" fill="#b02a22"/>
<circle cx="41.9" cy="259.32" r="1.5" fill="#b02a22"/>
<circle cx="81.64" cy="224.3" r="1.5" fill="#b02a22"/>
<circle cx="103.48" cy="207.21" r="1.5" fill="#b02a22"/>
<circle cx="57.14" cy="252.3" r="1.5" fill="#b02a22"/>
<circle cx="52.8" cy="253.52" r="1.5" fill="#b02a22"/>
<circle cx="68.41" cy="239.17" r="1.5" fill="#b02a22"/>
<circle cx="56.21" cy="246.29" r="1.5" fill="#b02a22"/>
<circle cx="50.91" cy="255.17" r="1.5" fill="#b02a22"/>
<circle cx="96.14" cy="213.66" r="1.5" fill="#b02a22"/>
<circle cx="51.77" cy="256.51" r="1.5" fill="#b02a22"/>
<circle cx="89.86" cy="223.11" r="1.5" fill="#b02a22"/>
<circle cx="40.47" cy="263.51" r="1.5" fill="#b02a22"/>
<circle cx="69.15" cy="241.37" r="1.5" fill="#b02a22"/>
<circle cx="35.4" cy="271.64" r="1.5" fill="#b02a22"/>
<circle cx="87.01" cy="223.54" r="1.5" fill="#b02a22"/>
<circle cx="103.45" cy="207.69" r="1.5" fill="#b02a22"/>
<circle cx="103.45" cy="210.59" r="1.5" fill="#b02a22"/>
<circle cx="44.02" cy="265.19" r="1.5" fill="#b02a22"/>
<circle cx="61.48" cy="247.01" r="1.5" fill="#b02a22"/>
<circle cx="35.46" cy="267.66" r="1.5" fill="#b02a22"/>
<circle cx="38.06" cy="268.15" r="1.5" fill="#b02a22"/>
<circle cx="48.27" cy="253.49" r="1.5" fill="#b02a22"/>
<circle cx="60.45" cy="248.57" r="1.5" fill="#b02a22"/>
<circle cx="35.03" cy="269.49" r="1.5" fill="#b02a22"/>
<circle cx="76.06" cy="231.46" r="1.5" fill="#b02a22"/>
<circle cx="98.17" cy="211.96" r="1.5" fill="#b02a22"/>
<circle cx="48.27" cy="260.54" r="1.5" fill="#b02a22"/>
<circle cx="86.1" cy="222.12" r="1.5" fill="#b02a22"/>
<circle cx="67.13" cy="237.51" r="1.5" fill="#b02a22"/>
<circle cx="70.35" cy="239.54" r="1.5" fill="#b02a22"/>
<circle cx="42.93" cy="266.18" r="1.5" fill="#b02a22"/>
<circle cx="77.25" cy="228.56" r="1.5" fill="#b02a22"/>
<circle cx="97.66" cy="214.2" r="1.5" fill="#b02a22"/>
<circle cx="78.96" cy="226.88" r="1.5" fill="#b02a22"/>
<circle cx="90.43" cy="219.72" r="1.5" fill="#b02a22"/>
<circle cx="60.17" cy="246.53" r="1.5" fill="#b02a22"/>
<circle cx="43.06" cy="264.89" r="1.5" fill="#b02a22"/>
<circle cx="80.36" cy="225.2" r="1.5" fill="#b02a22"/>
<circle cx="69.99" cy="238.9" r="1.5" fill="#b02a22"/>
<circle cx="55.65" cy="251.1" r="1.5" fill="#b02a22"/>
<circle cx="89.57" cy="221.37" r="1.5" fill="#b02a22"/>
<circle cx="101.86" cy="211.72" r="1.5" fill="#b02a22"/>
<circle cx="53.01" cy="252.72" r="1.5" fill="#b02a22"/>
<circle cx="59.99" cy="243.19" r="1.5" fill="#b02a22"/>
<circle cx="91.5" cy="216.67" r="1.5" fill="#b02a22"/>
<circle cx="74.92" cy="236.77" r="1.5" fill="#b02a22"/>
<circle cx="72.05" cy="235.95" r="1.5" fill="#b02a22"/>
<circle cx="65.55" cy="243.84" r="1.5" fill="#b02a22"/>
<circle cx="82.33" cy="224.29" r="1.5" fill="#b02a22"/>
<circle cx="38.61" cy="263.35" r="1.5" fill="#b02a22"/>
<circle cx="57.05" cy="249.29" r="1.5" fill="#b02a22"/>
<circle cx="96.84" cy="212.15" r="1.5" fill="#b02a22"/>
<circle cx="77.28" cy="233.83" r="1.5" fill="#b02a22"/>
<circle cx="98.81" cy="214.4" r="1.5" fill="#b02a22"/>
<circle cx="57.91" cy="245.17" r="1.5" fill="#b02a22"/>
<circle cx="53.1" cy="255.08" r="1.5" fill="#b02a22"/>
<circle cx="101.12" cy="208.78" r="1.5" fill="#b02a22"/>
<circle cx="53.19" cy="253.88" r="1.5" fill="#b02a22"/>
<circle cx="50.69" cy="258.38" r="1.5" fill="#b02a22"/>
<circle cx="48.47" cy="250.99" r="1.5" fill="#b02a22"/>
<circle cx="37.15" cy="269.8" r="1.5" fill="#b02a22"/>
<circle cx="45.03" cy="263.9" r="1.5" fill="#b02a22"/>
<circle cx="68.43" cy="237.3" r="1.5" fill="#b02a22"/>
<circle cx="92.33" cy="217.92" r="1.5" fill="#b02a22"/>
<circle cx="90.73" cy="222.32" r="1.5" fill="#b02a22"/>
<circle cx="50.7" cy="249.44" r="1.5" fill="#b02a22"/>
<circle cx="36.55" cy="269.96" r="1.5" fill="#b02a22"/>
<circle cx="65.2" cy="244.24" r="1.5" fill="#b02a22"/>
<circle cx="69.92" cy="241.29" r="1.5" fill="#b02a22"/>
<circle cx="47.49" cy="252.09" r="1.5" fill="#b02a22"/>
<circle cx="41.3" cy="257.83" r="1.5" fill="#b02a22"/>
<circle cx="43.54" cy="254.78" r="1.5" fill="#b02a22"/>
<circle cx="79.66" cy="228.63" r="1.5" fill="#b02a22"/>
<circle cx="41.17" cy="267.59" r="1.5" fill="#b02a22"/>
<circle cx="86.19" cy="225.86" r="1.5" fill="#b02a22"/>
<circle cx="44.32" cy="256.49" r="1.5" fill="#b02a22"/>
<circle cx="95.2" cy="218.12" r="1.5" fill="#b02a22"/>
<circle cx="101.98" cy="210.12" r="1.5" fill="#b02a22"/>
<circle cx="57.85" cy="252.02" r="1.5" fill="#b02a22"/>
<circle cx="58.39" cy="242.91" r="1.5" fill="#b02a22"/>
<circle cx="50.6" cy="258.45" r="1.5" fill="#b02a22"/>
<circle cx="41.37" cy="266.89" r="1.5" fill="#b02a22"/>
<circle cx="55.69" cy="245.97" r="1.5" fill="#b02a22"/>
<circle cx="37.01" cy="270.29" r="1.5" fill="#b02a22"/>
<circle cx="100.28" cy="209.16" r="1.5" fill="#b02a22"/>
<circle cx="103.5" cy="209.94" r="1.5" fill="#b02a22"/>
<circle cx="55.83" cy="245.42" r="1.5" fill="#b02a22"/>
<circle cx="65.37" cy="240.26" r="1.5" fill="#b02a22"/>
<circle cx="52.9" cy="257.01" r="1.5" fill="#b02a22"/>
<circle cx="55.18" cy="248.36" r="1.5" fill="#b02a22"/>
<circle cx="87.94" cy="222.08" r="1.5" fill="#b02a22"/>
<circle cx="63.82" cy="243.18" r="1.5" fill="#b02a22"/>
<circle cx="62.21" cy="244.61" r="1.5" fill="#b02a22"/>
<circle cx="91.92" cy="220.57" r="1.5" fill="#b02a22"/>
<circle cx="73.55" cy="231.25" r="1.5" fill="#b02a22"/>
<circle cx="93.12" cy="219.57" r="1.5" fill="#b02a22"/>
<circle cx="102.19" cy="208.46" r="1.5" fill="#b02a22"/>
<circle cx="42.87" cy="264.31" r="1.5" fill="#b02a22"/>
<circle cx="45.19" cy="263.92" r="1.5" fill="#b02a22"/>
<circle cx="103.38" cy="209.44" r="1.5" fill="#b02a22"/>
<circle cx="95.03" cy="218.08" r="1.5" fill="#b02a22"/>
<circle cx="33.36" cy="264.87" r="1.5" fill="#b02a22"/>
<circle cx="88.88" cy="218.36" r="1.5" fill="#b02a22"/>
<circle cx="80.49" cy="228.83" r="1.5" fill="#b02a22"/>
<circle cx="86.7" cy="225.75" r="1.5" fill="#b02a22"/>
<circle cx="69.49" cy="239.08" r="1.5" fill="#b02a22"/>
<circle cx="41.44" cy="261.81" r="1.5" fill="#b02a22"/>
<circle cx="53.6" cy="252.37" r="1.5" fill="#b02a22"/>
<circle cx="57.21" cy="250.99" r="1.5" fill="#b02a22"/>
<circle cx="56.12" cy="249.2" r="1.5" fill="#b02a22"/>
<circle cx="103.55" cy="206.85" r="1.5" fill="#b02a22"/>
<circle cx="94.2" cy="215.09" r="1.5" fill="#b02a22"/>
<circle cx="51.03" cy="248.97" r="1.5" fill="#b02a22"/>
<circle cx="49.83" cy="259.21" r="1.5" fill="#b02a22"/>
<circle cx="66.54" cy="239" r="1.5" fill="#b02a22"/>
<circle cx="54.87" cy="249.78" r="1.5" fill="#b02a22"/>
<circle cx="50.72" cy="249.35" r="1.5" fill="#b02a22"/>
<circle cx="62.99" cy="244.46" r="1.5" fill="#b02a22"/>
<circle cx="68.82" cy="235.68" r="1.5" fill="#b02a22"/>
<circle cx="104.03" cy="208.37" r="1.5" fill="#b02a22"/>
<circle cx="62.16" cy="243.84" r="1.5" fill="#b02a22"/>
<circle cx="36.54" cy="268.21" r="1.5" fill="#b02a22"/>
<circle cx="93.05" cy="216.41" r="1.5" fill="#b02a22"/>
<circle cx="35.94" cy="262.97" r="1.5" fill="#b02a22"/>
<circle cx="57.97" cy="243.33" r="1.5" fill="#b02a22"/>
<circle cx="56.71" cy="252.29" r="1.5" fill="#b02a22"/>
<circle cx="70.11" cy="234.53" r="1.5" fill="#b02a22"/>
<circle cx="61.39" cy="241.86" r="1.5" fill="#b02a22"/>
<circle cx="82.48" cy="228.18" r="1.5" fill="#b02a22"/>
<circle cx="52" cy="253.78" r="1.5" fill="#b02a22"/>
<circle cx="59.05" cy="248.87" r="1.5" fill="#b02a22"/>
<circle cx="77.91" cy="228.21" r="1.5" fill="#b02a22"/>
<circle cx="72.8" cy="238.17" r="1.5" fill="#b02a22"/>
<circle cx="46.38" cy="260.12" r="1.5" fill="#b02a22"/>
<circle cx="75.09" cy="236.12" r="1.5" fill="#b02a22"/>
<circle cx="37.3" cy="268.73" r="1.5" fill="#b02a22"/>
<circle cx="50.76" cy="258.93" r="1.5" fill="#b02a22"/>
<circle cx="69.37" cy="234.76" r="1.5" fill="#b02a22"/>
<circle cx="69.04" cy="236.84" r="1.5" fill="#b02a22"/>
<circle cx="91.56" cy="217.26" r="1.5" fill="#b02a22"/>
<circle cx="98.21" cy="213.85" r="1.5" fill="#b02a22"/>
<circle cx="80.26" cy="231.51" r="1.5" fill="#b02a22"/>
<circle cx="95.6" cy="216.45" r="1.5" fill="#b02a22"/>
<circle cx="64.65" cy="238.93" r="1.5" fill="#b02a22"/>
<circle cx="51.02" cy="257.63" r="1.5" fill="#b02a22"/>
<circle cx="91.18" cy="219.1" r="1.5" fill="#b02a22"/>
<circle cx="37.5" cy="271.1" r="1.5" fill="#b02a22"/>
<circle cx="55.61" cy="254.57" r="1.5" fill="#b02a22"/>
<circle cx="91.87" cy="220.68" r="1.5" fill="#b02a22"/>
<circle cx="50.14" cy="256.61" r="1.5" fill="#b02a22"/>
<circle cx="67.35" cy="241.03" r="1.5" fill="#b02a22"/>
<circle cx="76.15" cy="231.52" r="1.5" fill="#b02a22"/>
<circle cx="61.77" cy="248.5" r="1.5" fill="#b02a22"/>
<circle cx="103.44" cy="208.15" r="1.5" fill="#b02a22"/>
<circle cx="37.42" cy="267.25" r="1.5" fill="#b02a22"/>
<circle cx="85.74" cy="220.88" r="1.5" fill="#b02a22"/>
<circle cx="36.34" cy="272.25" r="1.5" fill="#b02a22"/>
<circle cx="64.99" cy="243.2" r="1.5" fill="#b02a22"/>
<circle cx="96.74" cy="213.04" r="1.5" fill="#b02a22"/>
<circle cx="54.2" cy="252.73" r="1.5" fill="#b02a22"/>
<circle cx="72.68" cy="232.42" r="1.5" fill="#b02a22"/>
<circle cx="45.16" cy="260.99" r="1.5" fill="#b02a22"/>
<circle cx="37.73" cy="264.46" r="1.5" fill="#b02a22"/>
<circle cx="34.04" cy="263.31" r="1.5" fill="#b02a22"/>
<circle cx="68.24" cy="239.03" r="1.5" fill="#b02a22"/>
<circle cx="37.53" cy="269.44" r="1.5" fill="#b02a22"/>
<circle cx="64.16" cy="239.69" r="1.5" fill="#b02a22"/>
<circle cx="69.39" cy="240.37" r="1.5" fill="#b02a22"/>
<circle cx="103.67" cy="208.09" r="1.5" fill="#b02a22"/>
<circle cx="68.59" cy="241.65" r="1.5" fill="#b02a22"/>
<circle cx="51.85" cy="249.29" r="1.5" fill="#b02a22"/>
<circle cx="40.56" cy="263.42" r="1.5" fill="#b02a22"/>
<circle cx="75.49" cy="234.43" r="1.5" fill="#b02a22"/>
<circle cx="86.91" cy="220.56" r="1.5" fill="#b02a22"/>
<circle cx="93.84" cy="215.99" r="1.5" fill="#b02a22"/>
<circle cx="45.27" cy="263.8" r="1.5" fill="#b02a22"/>
<circle cx="61.52" cy="247.19" r="1.5" fill="#b02a22"/>
<circle cx="44.62" cy="255.59" r="1.5" fill="#b02a22"/>
<circle cx="46.12" cy="255" r="1.5" fill="#b02a22"/>
<circle cx="100.15" cy="213.39" r="1.5" fill="#b02a22"/>
<circle cx="98.25" cy="214.02" r="1.5" fill="#b02a22"/>
<circle cx="45.84" cy="262.35" r="1.5" fill="#b02a22"/>
<circle cx="34.67" cy="268.95" r="1.5" fill="#b02a22"/>
<circle cx="57.99" cy="244.84" r="1.5" fill="#b02a22"/>
<circle cx="91.92" cy="221.1" r="1.5" fill="#b02a22"/>
<circle cx="59.22" cy="248.58" r="1.5" fill="#b02a22"/>
<circle cx="43.52" cy="263.87" r="1.5" fill="#b02a22"/>
<circle cx="49.39" cy="253.88" r="1.5" fill="#b02a22"/>
<circle cx="54.81" cy="254.76" r="1.5" fill="#b02a22"/>
<circle cx="46.42" cy="259.33" r="1.5" fill="#b02a22"/>
<circle cx="71.32" cy="238.9" r="1.5" fill="#b02a22"/>
<circle cx="81.58" cy="229.84" r="1.5" fill="#b02a22"/>
<circle cx="79.37" cy="229.17" r="1.5" fill="#b02a22"/>
<circle cx="43.39" cy="258.21" r="1.5" fill="#b02a22"/>
<circle cx="58.71" cy="247.6" r="1.5" fill="#b02a22"/>
<circle cx="73.81" cy="233.78" r="1.5" fill="#b02a22"/>
<circle cx="62.22" cy="248.31" r="1.5" fill="#b02a22"/>
<circle cx="88.31" cy="219.79" r="1.5" fill="#b02a22"/>
<circle cx="65.75" cy="241.14" r="1.5" fill="#b02a22"/>
<circle cx="49.74" cy="251.03" r="1.5" fill="#b02a22"/>
<circle cx="80.5" cy="230.77" r="1.5" fill="#b02a22"/>
<circle cx="90.7" cy="216.93" r="1.5" fill="#b02a22"/>
<circle cx="55.22" cy="245.36" r="1.5" fill="#b02a22"/>
<circle cx="65.22" cy="244.85" r="1.5" fill="#b02a22"/>
<circle cx="82.9" cy="227.94" r="1.5" fill="#b02a22"/>
<circle cx="84.09" cy="225.3" r="1.5" fill="#b02a22"/>
<circle cx="38.94" cy="264.87" r="1.5" fill="#b02a22"/>
<circle cx="93.31" cy="217.95" r="1.5" fill="#b02a22"/>
<circle cx="69.41" cy="235.31" r="1.5" fill="#b02a22"/>
<circle cx="62.53" cy="244.72" r="1.5" fill="#b02a22"/>
<circle cx="72.68" cy="232.99" r="1.5" fill="#b02a22"/>
<circle cx="45.24" cy="263.61" r="1.5" fill="#b02a22"/>
<circle cx="86.33" cy="223.58" r="1.5" fill="#b02a22"/>
<circle cx="52.15" cy="249.14" r="1.5" fill="#b02a22"/>
<circle cx="95.96" cy="215.3" r="1.5" fill="#b02a22"/>
<circle cx="104.18" cy="206.84" r="1.5" fill="#b02a22"/>
<circle cx="85.31" cy="226.07" r="1.5" fill="#b02a22"/>
<circle cx="33.2" cy="267.8" r="1.5" fill="#b02a22"/>
<circle cx="84.31" cy="226.62" r="1.5" fill="#b02a22"/>
<circle cx="64.9" cy="241.97" r="1.5" fill="#b02a22"/>
<circle cx="48.45" cy="254.64" r="1.5" fill="#b02a22"/>
<circle cx="71.15" cy="238.05" r="1.5" fill="#b02a22"/>
<circle cx="39.06" cy="264.44" r="1.5" fill="#b02a22"/>
<circle cx="53.35" cy="250.17" r="1.5" fill="#b02a22"/>
<circle cx="43.18" cy="262.71" r="1.5" fill="#b02a22"/>
<circle cx="44.77" cy="261.15" r="1.5" fill="#b02a22"/>
<circle cx="72.19" cy="238.93" r="1.5" fill="#b02a22"/>
<circle cx="35.67" cy="268.29" r="1.5" fill="#b02a22"/>
<circle cx="45.13" cy="259.76" r="1.5" fill="#b02a22"/>
<circle cx="42.82" cy="265.77" r="1.5" fill="#b02a22"/>
<circle cx="69.27" cy="234.82" r="1.5" fill="#b02a22"/>
<circle cx="94.7" cy="216.54" r="1.5" fill="#b02a22"/>
<circle cx="58.93" cy="251.26" r="1.5" fill="#b02a22"/>
<circle cx="50.29" cy="257.2" r="1.5" fill="#b02a22"/>
<circle cx="100.46" cy="213.12" r="1.5" fill="#b02a22"/>
<circle cx="100.97" cy="211.27" r="1.5" fill="#b02a22"/>
<circle cx="61.61" cy="247.51" r="1.5" fill="#b02a22"/>
<circle cx="102.12" cy="211.39" r="1.5" fill="#b02a22"/>
<circle cx="71.81" cy="236.48" r="1.5" fill="#b02a22"/>
<circle cx="44.99" cy="262.79" r="1.5" fill="#b02a22"/>
<circle cx="103.94" cy="207.25" r="1.5" fill="#b02a22"/>
<circle cx="84.18" cy="222.84" r="1.5" fill="#b02a22"/>
<circle cx="38.36" cy="263.09" r="1.5" fill="#b02a22"/>
<circle cx="85.5" cy="226.24" r="1.5" fill="#b02a22"/>
<circle cx="63.3" cy="239.11" r="1.5" fill="#b02a22"/>
<circle cx="53.85" cy="249.31" r="1.5" fill="#b02a22"/>
<circle cx="42.69" cy="259.89" r="1.5" fill="#b02a22"/>
<circle cx="49.81" cy="255.64" r="1.5" fill="#b02a22"/>
<circle cx="57.12" cy="245.33" r="1.5" fill="#b02a22"/>
<circle cx="85.06" cy="224.99" r="1.5" fill="#b02a22"/>
<circle cx="80.62" cy="229.39" r="1.5" fill="#b02a22"/>
<circle cx="89.68" cy="222.33" r="1.5" fill="#b02a22"/>
<circle cx="69.77" cy="237.61" r="1.5" fill="#b02a22"/>
<circle cx="58.26" cy="251.98" r="1.5" fill="#b02a22"/>
<circle cx="43.01" cy="259.96" r="1.5" fill="#b02a22"/>
<circle cx="45.8" cy="256.11" r="1.5" fill="#b02a22"/>
<circle cx="66.84" cy="236.48" r="1.5" fill="#b02a22"/>
<circle cx="93.08" cy="216.7" r="1.5" fill="#b02a22"/>
<circle cx="57.13" cy="253.02" r="1.5" fill="#b02a22"/>
<circle cx="70.71" cy="235.36" r="1.5" fill="#b02a22"/>
<circle cx="98.84" cy="214.3" r="1.5" fill="#b02a22"/>
<circle cx="42.24" cy="256" r="1.5" fill="#b02a22"/>
<circle cx="84.64" cy="225.49" r="1.5" fill="#b02a22"/>
<circle cx="84.57" cy="227.46" r="1.5" fill="#b02a22"/>
<circle cx="69.76" cy="236.87" r="1.5" fill="#b02a22"/>
<circle cx="74.26" cy="236.76" r="1.5" fill="#b02a22"/>
<circle cx="40.82" cy="262.03" r="1.5" fill="#b02a22"/>
<circle cx="95.94" cy="217.16" r="1.5" fill="#b02a22"/>
<circle cx="33.01" cy="274.86" r="1.5" fill="#b02a22"/>
<circle cx="88.19" cy="222.94" r="1.5" fill="#b02a22"/>
<circle cx="63.21" cy="238.96" r="1.5" fill="#b02a22"/>
<circle cx="74.82" cy="235.64" r="1.5" fill="#b02a22"/>
<circle cx="81.68" cy="230.64" r="1.5" fill="#b02a22"/>
<circle cx="50.66" cy="252.75" r="1.5" fill="#b02a22"/>
<circle cx="43.06" cy="265.98" r="1.5" fill="#b02a22"/>
<circle cx="67.83" cy="241.44" r="1.5" fill="#b02a22"/>
<circle cx="102.81" cy="211.02" r="1.5" fill="#b02a22"/>
<circle cx="89.51" cy="221.79" r="1.5" fill="#b02a22"/>
<circle cx="89.76" cy="221.25" r="1.5" fill="#b02a22"/>
<circle cx="79.11" cy="231.4" r="1.5" fill="#b02a22"/>
<circle cx="46.7" cy="258.97" r="1.5" fill="#b02a22"/>
<circle cx="89.36" cy="222.16" r="1.5" fill="#b02a22"/>
<circle cx="47.07" cy="259.04" r="1.5" fill="#b02a22"/>
<circle cx="38.19" cy="267.99" r="1.5" fill="#b02a22"/>
<circle cx="71.93" cy="236.09" r="1.5" fill="#b02a22"/>
<circle cx="73.78" cy="236.39" r="1.5" fill="#b02a22"/>
<circle cx="33.94" cy="274.38" r="1.5" fill="#b02a22"/>
<circle cx="54.73" cy="254.22" r="1.5" fill="#b02a22"/>
<circle cx="71.63" cy="238.48" r="1.5" fill="#b02a22"/>
<circle cx="86.38" cy="223.21" r="1.5" fill="#b02a22"/>
<circle cx="78.72" cy="228.72" r="1.5" fill="#b02a22"/>
<circle cx="68.09" cy="240.43" r="1.5" fill="#b02a22"/>
<circle cx="52.55" cy="257.12" r="1.5" fill="#b02a22"/>
<circle cx="88.91" cy="221.67" r="1.5" fill="#b02a22"/>
<circle cx="38.43" cy="259.87" r="1.5" fill="#b02a22"/>
<circle cx="72.62" cy="234.84" r="1.5" fill="#b02a22"/>
<circle cx="61.95" cy="248.16" r="1.5" fill="#b02a22"/>
<circle cx="105.06" cy="208.78" r="1.5" fill="#b02a22"/>
<circle cx="56.68" cy="244.14" r="1.5" fill="#b02a22"/>
<circle cx="39.86" cy="264.41" r="1.5" fill="#b02a22"/>
<circle cx="64.97" cy="244.6" r="1.5" fill="#b02a22"/>
<circle cx="99.12" cy="213.17" r="1.5" fill="#b02a22"/>
<circle cx="33.24" cy="270.52" r="1.5" fill="#b02a22"/>
<circle cx="32.9" cy="267.63" r="1.5" fill="#b02a22"/>
<circle cx="94.74" cy="214.2" r="1.5" fill="#b02a22"/>
<circle cx="35.26" cy="266.1" r="1.5" fill="#b02a22"/>
<circle cx="52.29" cy="253.87" r="1.5" fill="#b02a22"/>
<circle cx="51.99" cy="255.77" r="1.5" fill="#b02a22"/>
<circle cx="40.55" cy="262.25" r="1.5" fill="#b02a22"/>
<circle cx="37.73" cy="259.88" r="1.5" fill="#b02a22"/>
<circle cx="35.02" cy="262.07" r="1.5" fill="#b02a22"/>
<circle cx="44.46" cy="264.4" r="1.5" fill="#b02a22"/>
<circle cx="85.06" cy="224.82" r="1.5" fill="#b02a22"/>
<circle cx="86.93" cy="223.34" r="1.5" fill="#b02a22"/>
<circle cx="76.29" cy="235.3" r="1.5" fill="#b02a22"/>
<circle cx="79.6" cy="229.69" r="1.5" fill="#b02a22"/>
<circle cx="102.1" cy="211.88" r="1.5" fill="#b02a22"/>
<circle cx="36.48" cy="265.05" r="1.5" fill="#b02a22"/>
<circle cx="99.24" cy="213.03" r="1.5" fill="#b02a22"/>
<circle cx="82.45" cy="226.88" r="1.5" fill="#b02a22"/>
<circle cx="58.46" cy="248.53" r="1.5" fill="#b02a22"/>
<circle cx="74.1" cy="237.52" r="1.5" fill="#b02a22"/>
<circle cx="52.35" cy="250.86" r="1.5" fill="#b02a22"/>
<circle cx="49.02" cy="256.72" r="1.5" fill="#b02a22"/>
<circle cx="48.92" cy="258" r="1.5" fill="#b02a22"/>
<circle cx="77.82" cy="229.41" r="1.5" fill="#b02a22"/>
<circle cx="101.67" cy="210.65" r="1.5" fill="#b02a22"/>
<circle cx="45.21" cy="261.51" r="1.5" fill="#b02a22"/>
<circle cx="35.89" cy="270.84" r="1.5" fill="#b02a22"/>
<circle cx="72.81" cy="234.78" r="1.5" fill="#b02a22"/>
<circle cx="47.87" cy="260.55" r="1.5" fill="#b02a22"/>
<circle cx="38.33" cy="269.22" r="1.5" fill="#b02a22"/>
<circle cx="66.58" cy="243.1" r="1.5" fill="#b02a22"/>
<circle cx="95.89" cy="215.24" r="1.5" fill="#b02a22"/>
<circle cx="54.81" cy="252.07" r="1.5" fill="#b02a22"/>
<circle cx="34.8" cy="265.68" r="1.5" fill="#b02a22"/>
<circle cx="85.54" cy="225.44" r="1.5" fill="#b02a22"/>
<circle cx="83.57" cy="227.73" r="1.5" fill="#b02a22"/>
<circle cx="46.36" cy="261.52" r="1.5" fill="#b02a22"/>
<circle cx="44.8" cy="258.85" r="1.5" fill="#b02a22"/>
<circle cx="77.17" cy="230.08" r="1.5" fill="#b02a22"/>
<circle cx="38.69" cy="261.95" r="1.5" fill="#b02a22"/>
<circle cx="64.86" cy="243.67" r="1.5" fill="#b02a22"/>
<circle cx="66.7" cy="241.6" r="1.5" fill="#b02a22"/>
<circle cx="45.03" cy="261.06" r="1.5" fill="#b02a22"/>
<circle cx="77.48" cy="229.93" r="1.5" fill="#b02a22"/>
<circle cx="98.36" cy="214.76" r="1.5" fill="#b02a22"/>
<circle cx="96.47" cy="213.42" r="1.5" fill="#b02a22"/>
<circle cx="82.6" cy="223.5" r="1.5" fill="#b02a22"/>
<circle cx="40.89" cy="259.97" r="1.5" fill="#b02a22"/>
<circle cx="97.13" cy="216.14" r="1.5" fill="#b02a22"/>
<circle cx="73.57" cy="231.09" r="1.5" fill="#b02a22"/>
<circle cx="51.46" cy="250.17" r="1.5" fill="#b02a22"/>
<circle cx="97.68" cy="214.35" r="1.5" fill="#b02a22"/>
<circle cx="41.37" cy="266.13" r="1.5" fill="#b02a22"/>
<circle cx="91.67" cy="219.7" r="1.5" fill="#b02a22"/>
<circle cx="53.07" cy="253.49" r="1.5" fill="#b02a22"/>
<circle cx="99.4" cy="213.6" r="1.5" fill="#b02a22"/>
<circle cx="33.59" cy="263.46" r="1.5" fill="#b02a22"/>
<circle cx="53.15" cy="253.98" r="1.5" fill="#b02a22"/>
<circle cx="103.18" cy="210.1" r="1.5" fill="#b02a22"/>
<circle cx="37.56" cy="261.15" r="1.5" fill="#b02a22"/>
<circle cx="48.03" cy="260.07" r="1.5" fill="#b02a22"/>
<circle cx="100.15" cy="213.02" r="1.5" fill="#b02a22"/>
<circle cx="97.27" cy="215.18" r="1.5" fill="#b02a22"/>
<circle cx="52.19" cy="256.37" r="1.5" fill="#b02a22"/>
<circle cx="69.63" cy="237.95" r="1.5" fill="#b02a22"/>
<circle cx="59" cy="247.66" r="1.5" fill="#b02a22"/>
<circle cx="51.82" cy="250.09" r="1.5" fill="#b02a22"/>
<circle cx="99.85" cy="210.86" r="1.5" fill="#b02a22"/>
<circle cx="90.88" cy="222.01" r="1.5" fill="#b02a22"/>
<circle cx="48.48" cy="259.81" r="1.5" fill="#b02a22"/>
<circle cx="42" cy="256.37" r="1.5" fill="#b02a22"/>
<circle cx="97.59" cy="211.82" r="1.5" fill="#b02a22"/>
<circle cx="70.8" cy="240.15" r="1.5" fill="#b02a22"/>
<circle cx="61.1" cy="249.33" r="1.5" fill="#b02a22"/>
<circle cx="97.54" cy="215.22" r="1.5" fill="#b02a22"/>
<circle cx="51.12" cy="249.3" r="1.5" fill="#b02a22"/>
<circle cx="45.06" cy="254.53" r="1.5" fill="#b02a22"/>
<circle cx="52.74" cy="251.38" r="1.5" fill="#b02a22"/>
<circle cx="38.88" cy="259.92" r="1.5" fill="#b02a22"/>
<circle cx="59.02" cy="249.14" r="1.5" fill="#b02a22"/>
<circle cx="78.11" cy="230.37" r="1.5" fill="#b02a22"/>
<circle cx="48.52" cy="260.4" r="1.5" fill="#b02a22"/>
<circle cx="72.12" cy="239.35" r="1.5" fill="#b02a22"/>
<circle cx="94.93" cy="217.21" r="1.5" fill="#b02a22"/>
<circle cx="42.98" cy="263.59" r="1.5" fill="#b02a22"/>
<circle cx="39.33" cy="266.96" r="1.5" fill="#b02a22"/>
<circle cx="69.7" cy="239.17" r="1.5" fill="#b02a22"/>
<circle cx="54.39" cy="253.75" r="1.5" fill="#b02a22"/>
<circle cx="65.47" cy="239.42" r="1.5" fill="#b02a22"/>
<circle cx="61.88" cy="242.54" r="1.5" fill="#b02a22"/>
<circle cx="65.19" cy="245.24" r="1.5" fill="#b02a22"/>
<circle cx="43.03" cy="257.23" r="1.5" fill="#b02a22"/>
<circle cx="64.94" cy="243.57" r="1.5" fill="#b02a22"/>
<circle cx="67.64" cy="236.94" r="1.5" fill="#b02a22"/>
<circle cx="57.34" cy="250.49" r="1.5" fill="#b02a22"/>
<circle cx="56.66" cy="253.59" r="1.5" fill="#b02a22"/>
<circle cx="69.82" cy="238.48" r="1.5" fill="#b02a22"/>
<circle cx="66.16" cy="241.91" r="1.5" fill="#b02a22"/>
<circle cx="64.44" cy="240.93" r="1.5" fill="#b02a22"/>
<circle cx="44.09" cy="254.5" r="1.5" fill="#b02a22"/>
<circle cx="39.39" cy="259.96" r="1.5" fill="#b02a22"/>
<circle cx="43.35" cy="257.67" r="1.5" fill="#b02a22"/>
<circle cx="49.19" cy="260.1" r="1.5" fill="#b02a22"/>
<circle cx="69.51" cy="235.46" r="1.5" fill="#b02a22"/>
<circle cx="92.89" cy="215.9" r="1.5" fill="#b02a22"/>
<circle cx="103.49" cy="210.52" r="1.5" fill="#b02a22"/>
<circle cx="57.61" cy="252.24" r="1.5" fill="#b02a22"/>
<circle cx="85.86" cy="224.63" r="1.5" fill="#b02a22"/>
<circle cx="85" cy="222.99" r="1.5" fill="#b02a22"/>
<circle cx="105.02" cy="206.88" r="1.5" fill="#b02a22"/>
<circle cx="95.23" cy="215.91" r="1.5" fill="#b02a22"/>
<circle cx="37.24" cy="261.36" r="1.5" fill="#b02a22"/>
<circle cx="37.89" cy="270.38" r="1.5" fill="#b02a22"/>
<circle cx="91.71" cy="220.39" r="1.5" fill="#b02a22"/>
<circle cx="78.72" cy="233.28" r="1.5" fill="#b02a22"/>
<circle cx="45.76" cy="256.68" r="1.5" fill="#b02a22"/>
<circle cx="34.66" cy="268.8" r="1.5" fill="#b02a22"/>
<circle cx="100.14" cy="213.09" r="1.5" fill="#b02a22"/>
<circle cx="81.97" cy="225.92" r="1.5" fill="#b02a22"/>
<circle cx="75.49" cy="231.17" r="1.5" fill="#b02a22"/>
<circle cx="81.46" cy="230.81" r="1.5" fill="#b02a22"/>
<circle cx="44.47" cy="259.97" r="1.5" fill="#b02a22"/>
<circle cx="102.7" cy="210.76" r="1.5" fill="#b02a22"/>
<circle cx="72.98" cy="238.1" r="1.5" fill="#b02a22"/>
<circle cx="93" cy="218.4" r="1.5" fill="#b02a22"/>
<circle cx="68.11" cy="238.27" r="1.5" fill="#b02a22"/>
<circle cx="40.8" cy="260.69" r="1.5" fill="#b02a22"/>
<circle cx="89.33" cy="218.94" r="1.5" fill="#b02a22"/>
<circle cx="50.65" cy="257.6" r="1.5" fill="#b02a22"/>
<circle cx="42.67" cy="256.8" r="1.5" fill="#b02a22"/>
<circle cx="61.9" cy="246.2" r="1.5" fill="#b02a22"/>
<circle cx="68" cy="238.09" r="1.5" fill="#b02a22"/>
<circle cx="53.24" cy="254.37" r="1.5" fill="#b02a22"/>
<circle cx="86.72" cy="221.7" r="1.5" fill="#b02a22"/>
<circle cx="51.67" cy="257.86" r="1.5" fill="#b02a22"/>
<circle cx="99.39" cy="211.37" r="1.5" fill="#b02a22"/>
<circle cx="73.54" cy="235.8" r="1.5" fill="#b02a22"/>
<circle cx="101.83" cy="210.72" r="1.5" fill="#b02a22"/>
<circle cx="46.15" cy="262.73" r="1.5" fill="#b02a22"/>
<circle cx="55.59" cy="249.65" r="1.5" fill="#b02a22"/>
<circle cx="56.56" cy="244.88" r="1.5" fill="#b02a22"/>
<circle cx="77.76" cy="231.69" r="1.5" fill="#b02a22"/>
<circle cx="78.56" cy="229.92" r="1.5" fill="#b02a22"/>
<circle cx="75.31" cy="233.56" r="1.5" fill="#b02a22"/>
<circle cx="68.19" cy="239.8" r="1.5" fill="#b02a22"/>
<circle cx="91.79" cy="220.72" r="1.5" fill="#b02a22"/>
<circle cx="88.21" cy="223.43" r="1.5" fill="#b02a22"/>
<circle cx="93.15" cy="219.93" r="1.5" fill="#b02a22"/>
<circle cx="65.36" cy="242.69" r="1.5" fill="#b02a22"/>
<circle cx="82.49" cy="229.08" r="1.5" fill="#b02a22"/>
<circle cx="49.32" cy="259.61" r="1.5" fill="#b02a22"/>
<circle cx="71.07" cy="236.57" r="1.5" fill="#b02a22"/>
<circle cx="32.72" cy="274.31" r="1.5" fill="#b02a22"/>
<circle cx="45" cy="254.1" r="1.5" fill="#b02a22"/>
<circle cx="63.15" cy="243.5" r="1.5" fill="#b02a22"/>
<circle cx="51.23" cy="252.73" r="1.5" fill="#b02a22"/>
<circle cx="90.35" cy="219.36" r="1.5" fill="#b02a22"/>
<circle cx="32.75" cy="271.37" r="1.5" fill="#b02a22"/>
<circle cx="65.65" cy="245.22" r="1.5" fill="#b02a22"/>
<circle cx="88.56" cy="223.01" r="1.5" fill="#b02a22"/>
<circle cx="51.49" cy="252.9" r="1.5" fill="#b02a22"/>
<circle cx="72.83" cy="235.71" r="1.5" fill="#b02a22"/>
<circle cx="93.98" cy="217.15" r="1.5" fill="#b02a22"/>
<circle cx="55.03" cy="254.85" r="1.5" fill="#b02a22"/>
<circle cx="70.43" cy="238.86" r="1.5" fill="#b02a22"/>
<circle cx="69.2" cy="240.07" r="1.5" fill="#b02a22"/>
<circle cx="33" cy="275.17" r="1.5" fill="#b02a22"/>
<circle cx="42.2" cy="266.38" r="1.5" fill="#b02a22"/>
<circle cx="93.36" cy="217.34" r="1.5" fill="#b02a22"/>
<circle cx="47.66" cy="255.14" r="1.5" fill="#b02a22"/>
<circle cx="76.59" cy="235.12" r="1.5" fill="#b02a22"/>
<circle cx="85.56" cy="226.18" r="1.5" fill="#b02a22"/>
<circle cx="104.89" cy="209.01" r="1.5" fill="#b02a22"/>
<circle cx="50.96" cy="257.19" r="1.5" fill="#b02a22"/>
<circle cx="94.2" cy="215.19" r="1.5" fill="#b02a22"/>
<circle cx="72.42" cy="238.5" r="1.5" fill="#b02a22"/>
<circle cx="61.21" cy="243.79" r="1.5" fill="#b02a22"/>
<circle cx="35.85" cy="262.05" r="1.5" fill="#b02a22"/>
<circle cx="92.57" cy="215.8" r="1.5" fill="#b02a22"/>
<circle cx="81.5" cy="227.28" r="1.5" fill="#b02a22"/>
<circle cx="103.12" cy="210.21" r="1.5" fill="#b02a22"/>
<circle cx="52.35" cy="256.92" r="1.5" fill="#b02a22"/>
<circle cx="43.7" cy="257.33" r="1.5" fill="#b02a22"/>
<circle cx="38.15" cy="262.71" r="1.5" fill="#b02a22"/>
<circle cx="58.85" cy="243.83" r="1.5" fill="#b02a22"/>
<circle cx="86.21" cy="222.77" r="1.5" fill="#b02a22"/>
<circle cx="92.86" cy="220.28" r="1.5" fill="#b02a22"/>
<circle cx="49.53" cy="257.35" r="1.5" fill="#b02a22"/>
<circle cx="61.26" cy="244.08" r="1.5" fill="#b02a22"/>
<circle cx="95.54" cy="214.55" r="1.5" fill="#b02a22"/>
<circle cx="99.44" cy="211.51" r="1.5" fill="#b02a22"/>
<circle cx="55.98" cy="250.28" r="1.5" fill="#b02a22"/>
<circle cx="85.35" cy="222.56" r="1.5" fill="#b02a22"/>
<circle cx="56.95" cy="250.9" r="1.5" fill="#b02a22"/>
<circle cx="75.08" cy="235.63" r="1.5" fill="#b02a22"/>
<circle cx="95.84" cy="217.63" r="1.5" fill="#b02a22"/>
<circle cx="77.68" cy="231.56" r="1.5" fill="#b02a22"/>
<circle cx="44.69" cy="259.38" r="1.5" fill="#b02a22"/>
<circle cx="64.56" cy="238.23" r="1.5" fill="#b02a22"/>
<circle cx="95.97" cy="215.06" r="1.5" fill="#b02a22"/>
<circle cx="94.93" cy="214.19" r="1.5" fill="#b02a22"/>
<circle cx="42.69" cy="257.78" r="1.5" fill="#b02a22"/>
<circle cx="91.94" cy="215.9" r="1.5" fill="#b02a22"/>
<circle cx="86.21" cy="224.69" r="1.5" fill="#b02a22"/>
<circle cx="45.46" cy="257.72" r="1.5" fill="#b02a22"/>
<circle cx="45.76" cy="256.15" r="1.5" fill="#b02a22"/>
<circle cx="72.04" cy="233.5" r="1.5" fill="#b02a22"/>
<circle cx="55.98" cy="252.22" r="1.5" fill="#b02a22"/>
<circle cx="97.53" cy="213.31" r="1.5" fill="#b02a22"/>
<circle cx="57.55" cy="248.39" r="1.5" fill="#b02a22"/>
<circle cx="61.72" cy="243.97" r="1.5" fill="#b02a22"/>
<circle cx="67.72" cy="241.85" r="1.5" fill="#b02a22"/>
<circle cx="103.48" cy="207.16" r="1.5" fill="#b02a22"/>
<circle cx="86.13" cy="225.4" r="1.5" fill="#b02a22"/>
<circle cx="44.64" cy="257.43" r="1.5" fill="#b02a22"/>
<circle cx="91.08" cy="218.85" r="1.5" fill="#b02a22"/>
<circle cx="45.95" cy="256.46" r="1.5" fill="#b02a22"/>
<circle cx="68.21" cy="240.75" r="1.5" fill="#b02a22"/>
<circle cx="73.14" cy="235.81" r="1.5" fill="#b02a22"/>
<circle cx="77.68" cy="229.46" r="1.5" fill="#b02a22"/>
<circle cx="103.73" cy="210.16" r="1.5" fill="#b02a22"/>
<circle cx="71.79" cy="232.55" r="1.5" fill="#b02a22"/>
<circle cx="78.31" cy="230.31" r="1.5" fill="#b02a22"/>
<circle cx="93.48" cy="219.74" r="1.5" fill="#b02a22"/>
<circle cx="88.77" cy="221.02" r="1.5" fill="#b02a22"/>
<circle cx="72.79" cy="237.14" r="1.5" fill="#b02a22"/>
<circle cx="75.43" cy="235.88" r="1.5" fill="#b02a22"/>
<circle cx="68.38" cy="241.47" r="1.5" fill="#b02a22"/>
<circle cx="99.68" cy="210.73" r="1.5" fill="#b02a22"/>
<circle cx="64.46" cy="240.51" r="1.5" fill="#b02a22"/>
<circle cx="58.02" cy="248.35" r="1.5" fill="#b02a22"/>
<circle cx="42.44" cy="257.56" r="1.5" fill="#b02a22"/>
<circle cx="86.55" cy="221.96" r="1.5" fill="#b02a22"/>
<circle cx="37.4" cy="262.27" r="1.5" fill="#b02a22"/>
<circle cx="33.26" cy="269.31" r="1.5" fill="#b02a22"/>
<circle cx="65.57" cy="245.22" r="1.5" fill="#b02a22"/>
<circle cx="60.71" cy="242.2" r="1.5" fill="#b02a22"/>
<circle cx="75.82" cy="234.41" r="1.5" fill="#b02a22"/>
<circle cx="90.46" cy="221.13" r="1.5" fill="#b02a22"/>
<circle cx="96.95" cy="215.15" r="1.5" fill="#b02a22"/>
<circle cx="37.05" cy="260.31" r="1.5" fill="#b02a22"/>
<circle cx="36.65" cy="270.02" r="1.5" fill="#b02a22"/>
<circle cx="87.09" cy="225.31" r="1.5" fill="#b02a22"/>
<circle cx="69.77" cy="235.05" r="1.5" fill="#b02a22"/>
<circle cx="73.22" cy="236.49" r="1.5" fill="#b02a22"/>
<circle cx="86.08" cy="221.87" r="1.5" fill="#b02a22"/>
<circle cx="72.42" cy="234.98" r="1.5" fill="#b02a22"/>
<circle cx="53.54" cy="253.42" r="1.5" fill="#b02a22"/>
<circle cx="104.45" cy="205.94" r="1.5" fill="#b02a22"/>
<circle cx="32.77" cy="274.09" r="1.5" fill="#b02a22"/>
<circle cx="46.75" cy="254.86" r="1.5" fill="#b02a22"/>
<circle cx="45.07" cy="263.19" r="1.5" fill="#b02a22"/>
<circle cx="86.69" cy="225.44" r="1.5" fill="#b02a22"/>
<circle cx="103.3" cy="209.32" r="1.5" fill="#b02a22"/>
<circle cx="97.07" cy="212.81" r="1.5" fill="#b02a22"/>
<circle cx="45.51" cy="255.99" r="1.5" fill="#b02a22"/>
<circle cx="60.21" cy="249.07" r="1.5" fill="#b02a22"/>
<circle cx="35.15" cy="265.8" r="1.5" fill="#b02a22"/>
<circle cx="71.04" cy="238.76" r="1.5" fill="#b02a22"/>
<circle cx="91.9" cy="220.6" r="1.5" fill="#b02a22"/>
<circle cx="62.39" cy="247.98" r="1.5" fill="#b02a22"/>
<circle cx="55.54" cy="246.46" r="1.5" fill="#b02a22"/>
<circle cx="66.48" cy="243.87" r="1.5" fill="#b02a22"/>
<circle cx="47.53" cy="256.06" r="1.5" fill="#b02a22"/>
<circle cx="50.39" cy="250.65" r="1.5" fill="#b02a22"/>
<circle cx="36.01" cy="262.7" r="1.5" fill="#b02a22"/>
<circle cx="75.64" cy="230.55" r="1.5" fill="#b02a22"/>
<circle cx="55.82" cy="254.09" r="1.5" fill="#b02a22"/>
<circle cx="43.15" cy="260.01" r="1.5" fill="#b02a22"/>
<circle cx="34" cy="273.74" r="1.5" fill="#b02a22"/>
<circle cx="87.96" cy="219.93" r="1.5" fill="#b02a22"/>
<circle cx="93.73" cy="215.47" r="1.5" fill="#b02a22"/>
<circle cx="70.59" cy="234.22" r="1.5" fill="#b02a22"/>
<circle cx="81.42" cy="227.79" r="1.5" fill="#b02a22"/>
<circle cx="61" cy="249.56" r="1.5" fill="#b02a22"/>
<circle cx="37.8" cy="269.02" r="1.5" fill="#b02a22"/>
<circle cx="63.58" cy="246.7" r="1.5" fill="#b02a22"/>
<circle cx="102.75" cy="209.27" r="1.5" fill="#b02a22"/>
<circle cx="84.72" cy="222.48" r="1.5" fill="#b02a22"/>
<circle cx="46.82" cy="253.59" r="1.5" fill="#b02a22"/>
<circle cx="101.77" cy="211.42" r="1.5" fill="#b02a22"/>
<circle cx="40.08" cy="260.32" r="1.5" fill="#b02a22"/>
<circle cx="96.37" cy="213.51" r="1.5" fill="#b02a22"/>
<circle cx="59.73" cy="246.09" r="1.5" fill="#b02a22"/>
<circle cx="39.33" cy="267.79" r="1.5" fill="#b02a22"/>
<circle cx="60.5" cy="243.94" r="1.5" fill="#b02a22"/>
<circle cx="37.75" cy="260.4" r="1.5" fill="#b02a22"/>
<circle cx="34.22" cy="262.63" r="1.5" fill="#b02a22"/>
<circle cx="47.55" cy="253.86" r="1.5" fill="#b02a22"/>
<circle cx="90.75" cy="217.12" r="1.5" fill="#b02a22"/>
<circle cx="64.27" cy="241.24" r="1.5" fill="#b02a22"/>
<circle cx="51.39" cy="250.51" r="1.5" fill="#b02a22"/>
<circle cx="39.01" cy="260.02" r="1.5" fill="#b02a22"/>
<circle cx="73.4" cy="238.04" r="1.5" fill="#b02a22"/>
<circle cx="100.44" cy="212.42" r="1.5" fill="#b02a22"/>
<circle cx="36.47" cy="270.12" r="1.5" fill="#b02a22"/>
<circle cx="34.08" cy="272.03" r="1.5" fill="#b02a22"/>
<circle cx="82.37" cy="223.61" r="1.5" fill="#b02a22"/>
<circle cx="76.36" cy="229.67" r="1.5" fill="#b02a22"/>
<circle cx="91.08" cy="218.46" r="1.5" fill="#b02a22"/>
<circle cx="57.99" cy="250.84" r="1.5" fill="#b02a22"/>
<circle cx="42.08" cy="261.91" r="1.5" fill="#b02a22"/>
<circle cx="45.31" cy="256.75" r="1.5" fill="#b02a22"/>
<circle cx="53.41" cy="251.76" r="1.5" fill="#b02a22"/>
<circle cx="69.94" cy="237.09" r="1.5" fill="#b02a22"/>
<circle cx="42.03" cy="265.15" r="1.5" fill="#b02a22"/>
<circle cx="80.73" cy="230.61" r="1.5" fill="#b02a22"/>
<circle cx="79.42" cy="226.19" r="1.5" fill="#b02a22"/>
<circle cx="58.34" cy="243.26" r="1.5" fill="#b02a22"/>
<circle cx="75.06" cy="229.91" r="1.5" fill="#b02a22"/>
<circle cx="68.43" cy="237.2" r="1.5" fill="#b02a22"/>
<circle cx="80.26" cy="231.13" r="1.5" fill="#b02a22"/>
<circle cx="67.81" cy="239.34" r="1.5" fill="#b02a22"/>
<circle cx="63.78" cy="242.04" r="1.5" fill="#b02a22"/>
<circle cx="97.9" cy="212.27" r="1.5" fill="#b02a22"/>
<circle cx="90.3" cy="222.28" r="1.5" fill="#b02a22"/>
<circle cx="81.85" cy="226.91" r="1.5" fill="#b02a22"/>
<circle cx="100.2" cy="213.62" r="1.5" fill="#b02a22"/>
<circle cx="43.17" cy="255.32" r="1.5" fill="#b02a22"/>
<circle cx="57.13" cy="247.2" r="1.5" fill="#b02a22"/>
<circle cx="73.35" cy="236.01" r="1.5" fill="#b02a22"/>
<circle cx="61.94" cy="244.58" r="1.5" fill="#b02a22"/>
<circle cx="103.92" cy="208.45" r="1.5" fill="#b02a22"/>
<circle cx="88.58" cy="223.07" r="1.5" fill="#b02a22"/>
<circle cx="82.51" cy="226.51" r="1.5" fill="#b02a22"/>
<circle cx="84.95" cy="222.39" r="1.5" fill="#b02a22"/>
<circle cx="37.19" cy="260.27" r="1.5" fill="#b02a22"/>
<circle cx="74.75" cy="235.73" r="1.5" fill="#b02a22"/>
<circle cx="63.84" cy="246.61" r="1.5" fill="#b02a22"/>
<circle cx="47.15" cy="253.95" r="1.5" fill="#b02a22"/>
<circle cx="82.46" cy="224.54" r="1.5" fill="#b02a22"/>
<circle cx="42.5" cy="266.01" r="1.5" fill="#b02a22"/>
<circle cx="57.63" cy="248.97" r="1.5" fill="#b02a22"/>
<circle cx="82.44" cy="228.6" r="1.5" fill="#b02a22"/>
<circle cx="84.48" cy="224.96" r="1.5" fill="#b02a22"/>
<circle cx="51.16" cy="251.26" r="1.5" fill="#b02a22"/>
<circle cx="36.81" cy="265.89" r="1.5" fill="#b02a22"/>
<circle cx="44.2" cy="264.88" r="1.5" fill="#b02a22"/>
<circle cx="64.87" cy="242.44" r="1.5" fill="#b02a22"/>
<circle cx="74.93" cy="234.78" r="1.5" fill="#b02a22"/>
<circle cx="99.51" cy="210.98" r="1.5" fill="#b02a22"/>
<circle cx="41.94" cy="267.12" r="1.5" fill="#b02a22"/>
<circle cx="101.97" cy="210.68" r="1.5" fill="#b02a22"/>
<circle cx="38.76" cy="268.83" r="1.5" fill="#b02a22"/>
<circle cx="81.62" cy="230" r="1.5" fill="#b02a22"/>
<circle cx="57.17" cy="247.48" r="1.5" fill="#b02a22"/>
<circle cx="55.68" cy="249.01" r="1.5" fill="#b02a22"/>
<circle cx="101" cy="209.69" r="1.5" fill="#b02a22"/>
<circle cx="76.12" cy="231.83" r="1.5" fill="#b02a22"/>
<circle cx="52.63" cy="251.75" r="1.5" fill="#b02a22"/>
<circle cx="77.71" cy="230.77" r="1.5" fill="#b02a22"/>
<circle cx="65.79" cy="239.43" r="1.5" fill="#b02a22"/>
<circle cx="45.33" cy="257.07" r="1.5" fill="#b02a22"/>
<circle cx="103.39" cy="210.64" r="1.5" fill="#b02a22"/>
<circle cx="48.6" cy="250.81" r="1.5" fill="#b02a22"/>
<circle cx="37.35" cy="262.34" r="1.5" fill="#b02a22"/>
<circle cx="72.54" cy="238.79" r="1.5" fill="#b02a22"/>
<circle cx="76.23" cy="235.63" r="1.5" fill="#b02a22"/>
<circle cx="93.19" cy="218.96" r="1.5" fill="#b02a22"/>
<circle cx="99.07" cy="210.71" r="1.5" fill="#b02a22"/>
<circle cx="40.8" cy="264.71" r="1.5" fill="#b02a22"/>
<circle cx="41.85" cy="259.42" r="1.5" fill="#b02a22"/>
<circle cx="38.16" cy="270.22" r="1.5" fill="#b02a22"/>
<circle cx="39.48" cy="259.99" r="1.5" fill="#b02a22"/>
<circle cx="48.25" cy="258.93" r="1.5" fill="#b02a22"/>
<circle cx="62.5" cy="244.19" r="1.5" fill="#b02a22"/>
<circle cx="60.08" cy="242.02" r="1.5" fill="#b02a22"/>
<circle cx="54.84" cy="251.6" r="1.5" fill="#b02a22"/>
<circle cx="94.2" cy="218.32" r="1.5" fill="#b02a22"/>
<circle cx="43.28" cy="257.17" r="1.5" fill="#b02a22"/>
<circle cx="53.09" cy="248.38" r="1.5" fill="#b02a22"/>
<circle cx="91.07" cy="220.5" r="1.5" fill="#b02a22"/>
<circle cx="54.29" cy="255.3" r="1.5" fill="#b02a22"/>
<circle cx="95.09" cy="216.58" r="1.5" fill="#b02a22"/>
<circle cx="51.96" cy="257.8" r="1.5" fill="#4a8fd6"/>
<circle cx="45.23" cy="269.31" r="1.5" fill="#4a8fd6"/>
<circle cx="39.97" cy="271.52" r="1.5" fill="#4a8fd6"/>
<circle cx="69.2" cy="244.4" r="1.5" fill="#4a8fd6"/>
<circle cx="61.61" cy="250.45" r="1.5" fill="#4a8fd6"/>
<circle cx="43.31" cy="270.63" r="1.5" fill="#4a8fd6"/>
<circle cx="86.59" cy="228.77" r="1.5" fill="#4a8fd6"/>
<circle cx="46.7" cy="268.3" r="1.5" fill="#4a8fd6"/>
<circle cx="43.87" cy="265.2" r="1.5" fill="#4a8fd6"/>
<circle cx="69.28" cy="246.87" r="1.5" fill="#4a8fd6"/>
<circle cx="65.93" cy="244.57" r="1.5" fill="#4a8fd6"/>
<circle cx="91.95" cy="220.94" r="1.5" fill="#4a8fd6"/>
<circle cx="52.05" cy="264.05" r="1.5" fill="#4a8fd6"/>
<circle cx="79.83" cy="236.54" r="1.5" fill="#4a8fd6"/>
<circle cx="37.1" cy="276.6" r="1.5" fill="#4a8fd6"/>
<circle cx="55.41" cy="253.75" r="1.5" fill="#4a8fd6"/>
<circle cx="79.63" cy="238.2" r="1.5" fill="#4a8fd6"/>
<circle cx="35.7" cy="274.67" r="1.5" fill="#4a8fd6"/>
<circle cx="86.9" cy="226.76" r="1.5" fill="#4a8fd6"/>
<circle cx="49.66" cy="264.44" r="1.5" fill="#4a8fd6"/>
<circle cx="57.89" cy="258.77" r="1.5" fill="#4a8fd6"/>
<circle cx="83.94" cy="233.63" r="1.5" fill="#4a8fd6"/>
<circle cx="74.39" cy="237.31" r="1.5" fill="#4a8fd6"/>
<circle cx="73.13" cy="241.25" r="1.5" fill="#4a8fd6"/>
<circle cx="60.42" cy="252.83" r="1.5" fill="#4a8fd6"/>
<circle cx="49.8" cy="259.92" r="1.5" fill="#4a8fd6"/>
<circle cx="87.59" cy="226.36" r="1.5" fill="#4a8fd6"/>
<circle cx="38.65" cy="276.25" r="1.5" fill="#4a8fd6"/>
<circle cx="62.13" cy="252.13" r="1.5" fill="#4a8fd6"/>
<circle cx="51.79" cy="257.79" r="1.5" fill="#4a8fd6"/>
<circle cx="51.39" cy="263.31" r="1.5" fill="#4a8fd6"/>
<circle cx="47.98" cy="267.13" r="1.5" fill="#4a8fd6"/>
<circle cx="49.75" cy="265.37" r="1.5" fill="#4a8fd6"/>
<circle cx="42.61" cy="268.25" r="1.5" fill="#4a8fd6"/>
<circle cx="39.88" cy="268.73" r="1.5" fill="#4a8fd6"/>
<circle cx="62.85" cy="249.07" r="1.5" fill="#4a8fd6"/>
<circle cx="63.78" cy="247.2" r="1.5" fill="#4a8fd6"/>
<circle cx="50.1" cy="260.48" r="1.5" fill="#4a8fd6"/>
<circle cx="86.69" cy="225.35" r="1.5" fill="#4a8fd6"/>
<circle cx="56.38" cy="258.91" r="1.5" fill="#4a8fd6"/>
<circle cx="65.92" cy="245.49" r="1.5" fill="#4a8fd6"/>
<circle cx="93.15" cy="219.56" r="1.5" fill="#4a8fd6"/>
<circle cx="40.31" cy="267.64" r="1.5" fill="#4a8fd6"/>
<circle cx="57.76" cy="257.68" r="1.5" fill="#4a8fd6"/>
<circle cx="48.47" cy="261.73" r="1.5" fill="#4a8fd6"/>
<circle cx="80.21" cy="231.27" r="1.5" fill="#4a8fd6"/>
<circle cx="34.3" cy="277.01" r="1.5" fill="#4a8fd6"/>
<circle cx="63.15" cy="247.33" r="1.5" fill="#4a8fd6"/>
<circle cx="67.77" cy="248.43" r="1.5" fill="#4a8fd6"/>
<circle cx="58.61" cy="252.33" r="1.5" fill="#4a8fd6"/>
<circle cx="69.12" cy="245.92" r="1.5" fill="#4a8fd6"/>
<circle cx="36.16" cy="272.72" r="1.5" fill="#4a8fd6"/>
<circle cx="54.01" cy="258.25" r="1.5" fill="#4a8fd6"/>
<circle cx="47.96" cy="265.01" r="1.5" fill="#4a8fd6"/>
<circle cx="46.92" cy="268.04" r="1.5" fill="#4a8fd6"/>
<circle cx="52.53" cy="257.57" r="1.5" fill="#4a8fd6"/>
<circle cx="37.24" cy="271.02" r="1.5" fill="#4a8fd6"/>
<circle cx="44.65" cy="269.93" r="1.5" fill="#4a8fd6"/>
<circle cx="56.4" cy="255.57" r="1.5" fill="#4a8fd6"/>
<circle cx="90.69" cy="228.36" r="1.5" fill="#4a8fd6"/>
<circle cx="78.14" cy="234.17" r="1.5" fill="#4a8fd6"/>
<circle cx="51.09" cy="260.92" r="1.5" fill="#4a8fd6"/>
<circle cx="47.07" cy="263.44" r="1.5" fill="#4a8fd6"/>
<circle cx="44.48" cy="265.09" r="1.5" fill="#4a8fd6"/>
<circle cx="77.1" cy="237.8" r="1.5" fill="#4a8fd6"/>
<circle cx="58.15" cy="254.18" r="1.5" fill="#4a8fd6"/>
<circle cx="68.5" cy="246.36" r="1.5" fill="#4a8fd6"/>
<circle cx="34.54" cy="276.23" r="1.5" fill="#4a8fd6"/>
<circle cx="51.95" cy="263.88" r="1.5" fill="#4a8fd6"/>
<circle cx="77.56" cy="235.46" r="1.5" fill="#4a8fd6"/>
<circle cx="34.62" cy="275.54" r="1.5" fill="#4a8fd6"/>
<circle cx="57.8" cy="253.78" r="1.5" fill="#4a8fd6"/>
<circle cx="38.23" cy="273.29" r="1.5" fill="#4a8fd6"/>
<circle cx="46.87" cy="266.86" r="1.5" fill="#4a8fd6"/>
<circle cx="63.22" cy="248.22" r="1.5" fill="#4a8fd6"/>
<circle cx="82.01" cy="232.08" r="1.5" fill="#4a8fd6"/>
<circle cx="37.54" cy="271.72" r="1.5" fill="#4a8fd6"/>
<circle cx="35.95" cy="274.26" r="1.5" fill="#4a8fd6"/>
<circle cx="87.37" cy="231.19" r="1.5" fill="#4a8fd6"/>
<circle cx="70.92" cy="240.25" r="1.5" fill="#4a8fd6"/>
<circle cx="46.01" cy="263.43" r="1.5" fill="#4a8fd6"/>
<circle cx="53.78" cy="259.5" r="1.5" fill="#4a8fd6"/>
<circle cx="34.51" cy="276.03" r="1.5" fill="#4a8fd6"/>
<circle cx="56.95" cy="256.78" r="1.5" fill="#4a8fd6"/>
<circle cx="82.04" cy="231.68" r="1.5" fill="#4a8fd6"/>
<circle cx="67.83" cy="243.85" r="1.5" fill="#4a8fd6"/>
<circle cx="58.69" cy="254.97" r="1.5" fill="#4a8fd6"/>
<circle cx="35.93" cy="274.91" r="1.5" fill="#4a8fd6"/>
<circle cx="61.61" cy="248.99" r="1.5" fill="#4a8fd6"/>
<circle cx="46.53" cy="267.7" r="1.5" fill="#4a8fd6"/>
<circle cx="52.39" cy="257.51" r="1.5" fill="#4a8fd6"/>
<circle cx="48.6" cy="263.34" r="1.5" fill="#4a8fd6"/>
<circle cx="55.33" cy="255.88" r="1.5" fill="#4a8fd6"/>
<circle cx="50.81" cy="259.11" r="1.5" fill="#4a8fd6"/>
<circle cx="61.75" cy="251.87" r="1.5" fill="#4a8fd6"/>
<circle cx="37.78" cy="273.81" r="1.5" fill="#4a8fd6"/>
<circle cx="49.94" cy="265.9" r="1.5" fill="#4a8fd6"/>
<circle cx="89.28" cy="223.25" r="1.5" fill="#4a8fd6"/>
<circle cx="73.71" cy="238.95" r="1.5" fill="#4a8fd6"/>
<circle cx="38.94" cy="275.11" r="1.5" fill="#4a8fd6"/>
<circle cx="87.34" cy="229.9" r="1.5" fill="#4a8fd6"/>
<circle cx="69.95" cy="247.52" r="1.5" fill="#4a8fd6"/>
<circle cx="64.9" cy="249.59" r="1.5" fill="#4a8fd6"/>
<circle cx="70.96" cy="245.56" r="1.5" fill="#4a8fd6"/>
<circle cx="83.95" cy="229.27" r="1.5" fill="#4a8fd6"/>
<circle cx="44.21" cy="267.55" r="1.5" fill="#4a8fd6"/>
<circle cx="67.02" cy="245.16" r="1.5" fill="#4a8fd6"/>
<circle cx="84.25" cy="233.26" r="1.5" fill="#4a8fd6"/>
<circle cx="73.12" cy="240.93" r="1.5" fill="#4a8fd6"/>
<circle cx="73.65" cy="237.99" r="1.5" fill="#4a8fd6"/>
<circle cx="80.83" cy="230.99" r="1.5" fill="#4a8fd6"/>
<circle cx="87.03" cy="228.86" r="1.5" fill="#4a8fd6"/>
<circle cx="48.17" cy="261.37" r="1.5" fill="#4a8fd6"/>
<circle cx="67.64" cy="245.4" r="1.5" fill="#4a8fd6"/>
<circle cx="73.74" cy="237.33" r="1.5" fill="#4a8fd6"/>
<circle cx="85.19" cy="229.02" r="1.5" fill="#4a8fd6"/>
<circle cx="57.8" cy="256.63" r="1.5" fill="#4a8fd6"/>
<circle cx="68.05" cy="244.88" r="1.5" fill="#4a8fd6"/>
<circle cx="49.07" cy="262.48" r="1.5" fill="#4a8fd6"/>
<circle cx="34.93" cy="273.96" r="1.5" fill="#4a8fd6"/>
<circle cx="81.99" cy="229.88" r="1.5" fill="#4a8fd6"/>
<circle cx="37.62" cy="276.08" r="1.5" fill="#4a8fd6"/>
<circle cx="53.84" cy="258.59" r="1.5" fill="#4a8fd6"/>
<circle cx="66.88" cy="248.12" r="1.5" fill="#4a8fd6"/>
<circle cx="50.58" cy="263.52" r="1.5" fill="#4a8fd6"/>
<circle cx="33.62" cy="276.55" r="1.5" fill="#4a8fd6"/>
<circle cx="69.24" cy="242.77" r="1.5" fill="#4a8fd6"/>
<circle cx="77.09" cy="236.08" r="1.5" fill="#4a8fd6"/>
<circle cx="67.8" cy="244.21" r="1.5" fill="#4a8fd6"/>
<circle cx="82.43" cy="234.33" r="1.5" fill="#4a8fd6"/>
<circle cx="43.84" cy="269.6" r="1.5" fill="#4a8fd6"/>
<circle cx="89.56" cy="223.65" r="1.5" fill="#4a8fd6"/>
<circle cx="43.24" cy="271.64" r="1.5" fill="#4a8fd6"/>
<circle cx="90.9" cy="221.75" r="1.5" fill="#4a8fd6"/>
<circle cx="78.77" cy="239" r="1.5" fill="#4a8fd6"/>
<circle cx="47.37" cy="266.56" r="1.5" fill="#4a8fd6"/>
<circle cx="49.34" cy="264.81" r="1.5" fill="#4a8fd6"/>
<circle cx="61.99" cy="250.66" r="1.5" fill="#4a8fd6"/>
<circle cx="39.65" cy="272.59" r="1.5" fill="#4a8fd6"/>
<circle cx="73.98" cy="238.33" r="1.5" fill="#4a8fd6"/>
<circle cx="35.57" cy="272.35" r="1.5" fill="#4a8fd6"/>
<circle cx="47.15" cy="268.63" r="1.5" fill="#4a8fd6"/>
<circle cx="76.74" cy="240.57" r="1.5" fill="#4a8fd6"/>
<circle cx="77.11" cy="234.44" r="1.5" fill="#4a8fd6"/>
<circle cx="54.56" cy="261.4" r="1.5" fill="#4a8fd6"/>
<circle cx="83.66" cy="235.04" r="1.5" fill="#4a8fd6"/>
<circle cx="81.61" cy="234.53" r="1.5" fill="#4a8fd6"/>
<circle cx="77.98" cy="239.59" r="1.5" fill="#4a8fd6"/>
<circle cx="57.16" cy="252.23" r="1.5" fill="#4a8fd6"/>
<circle cx="50.22" cy="258.52" r="1.5" fill="#4a8fd6"/>
<circle cx="47.91" cy="264.51" r="1.5" fill="#4a8fd6"/>
<circle cx="48.05" cy="261.85" r="1.5" fill="#4a8fd6"/>
<circle cx="38.07" cy="271.78" r="1.5" fill="#4a8fd6"/>
<circle cx="62.45" cy="251.16" r="1.5" fill="#4a8fd6"/>
<circle cx="89.6" cy="222.62" r="1.5" fill="#4a8fd6"/>
<circle cx="46.9" cy="261.87" r="1.5" fill="#4a8fd6"/>
<circle cx="88.76" cy="227.32" r="1.5" fill="#4a8fd6"/>
<circle cx="71.2" cy="244.95" r="1.5" fill="#4a8fd6"/>
<circle cx="33.69" cy="276.5" r="1.5" fill="#4a8fd6"/>
<circle cx="69.45" cy="243.3" r="1.5" fill="#4a8fd6"/>
<circle cx="76.86" cy="235.76" r="1.5" fill="#4a8fd6"/>
<circle cx="48.19" cy="261.74" r="1.5" fill="#4a8fd6"/>
<circle cx="75.52" cy="238.11" r="1.5" fill="#4a8fd6"/>
<circle cx="41.31" cy="268.79" r="1.5" fill="#4a8fd6"/>
<circle cx="65.66" cy="246.54" r="1.5" fill="#4a8fd6"/>
<circle cx="67.19" cy="248.88" r="1.5" fill="#4a8fd6"/>
<circle cx="70.17" cy="245.79" r="1.5" fill="#4a8fd6"/>
<circle cx="49.69" cy="265.19" r="1.5" fill="#4a8fd6"/>
<circle cx="89.45" cy="225.88" r="1.5" fill="#4a8fd6"/>
<circle cx="34.55" cy="273.26" r="1.5" fill="#4a8fd6"/>
<circle cx="77.6" cy="239.53" r="1.5" fill="#4a8fd6"/>
<circle cx="75.5" cy="238.52" r="1.5" fill="#4a8fd6"/>
<circle cx="63.95" cy="246.43" r="1.5" fill="#4a8fd6"/>
<circle cx="67.56" cy="249.91" r="1.5" fill="#4a8fd6"/>
<circle cx="44.09" cy="268.18" r="1.5" fill="#4a8fd6"/>
<circle cx="83.6" cy="232.21" r="1.5" fill="#4a8fd6"/>
<circle cx="52.46" cy="257.73" r="1.5" fill="#4a8fd6"/>
<circle cx="76.03" cy="241.49" r="1.5" fill="#4a8fd6"/>
<circle cx="85.35" cy="228.67" r="1.5" fill="#4a8fd6"/>
<circle cx="76.8" cy="239.79" r="1.5" fill="#4a8fd6"/>
<circle cx="53.93" cy="260.32" r="1.5" fill="#4a8fd6"/>
<circle cx="54.56" cy="255.56" r="1.5" fill="#4a8fd6"/>
<circle cx="33.62" cy="275.62" r="1.5" fill="#4a8fd6"/>
<circle cx="35.47" cy="272.29" r="1.5" fill="#4a8fd6"/>
<circle cx="50.59" cy="259.27" r="1.5" fill="#4a8fd6"/>
<circle cx="75.97" cy="235.84" r="1.5" fill="#4a8fd6"/>
<circle cx="66.72" cy="246.92" r="1.5" fill="#4a8fd6"/>
<circle cx="52.36" cy="262.61" r="1.5" fill="#4a8fd6"/>
<circle cx="57.66" cy="254.94" r="1.5" fill="#4a8fd6"/>
<circle cx="71.81" cy="241.13" r="1.5" fill="#4a8fd6"/>
<circle cx="42.99" cy="272.06" r="1.5" fill="#4a8fd6"/>
<circle cx="77.24" cy="237.21" r="1.5" fill="#4a8fd6"/>
<circle cx="61.23" cy="252.49" r="1.5" fill="#4a8fd6"/>
<circle cx="49.21" cy="259.73" r="1.5" fill="#4a8fd6"/>
<circle cx="64.24" cy="252.08" r="1.5" fill="#4a8fd6"/>
<circle cx="38.29" cy="276.62" r="1.5" fill="#4a8fd6"/>
<circle cx="53.83" cy="262.5" r="1.5" fill="#4a8fd6"/>
<circle cx="78.38" cy="234.16" r="1.5" fill="#4a8fd6"/>
<circle cx="44.5" cy="270.11" r="1.5" fill="#4a8fd6"/>
<circle cx="91.99" cy="225.78" r="1.5" fill="#4a8fd6"/>
<circle cx="66.68" cy="246.9" r="1.5" fill="#4a8fd6"/>
<circle cx="79.2" cy="237.68" r="1.5" fill="#4a8fd6"/>
<circle cx="82.55" cy="230.45" r="1.5" fill="#4a8fd6"/>
<circle cx="82.08" cy="236.16" r="1.5" fill="#4a8fd6"/>
<circle cx="66.07" cy="243.95" r="1.5" fill="#4a8fd6"/>
<circle cx="43.13" cy="269.39" r="1.5" fill="#4a8fd6"/>
<circle cx="56.91" cy="258.97" r="1.5" fill="#4a8fd6"/>
<circle cx="70.27" cy="244.85" r="1.5" fill="#4a8fd6"/>
<circle cx="41.1" cy="270.25" r="1.5" fill="#4a8fd6"/>
<circle cx="74.61" cy="242.7" r="1.5" fill="#4a8fd6"/>
<circle cx="86.91" cy="226.26" r="1.5" fill="#4a8fd6"/>
<circle cx="61.58" cy="255.21" r="1.5" fill="#4a8fd6"/>
<circle cx="37.83" cy="270.17" r="1.5" fill="#4a8fd6"/>
<circle cx="42.75" cy="270.39" r="1.5" fill="#4a8fd6"/>
<circle cx="50.96" cy="262.66" r="1.5" fill="#4a8fd6"/>
<circle cx="82.09" cy="234.9" r="1.5" fill="#4a8fd6"/>
<circle cx="35.33" cy="276.85" r="1.5" fill="#4a8fd6"/>
<circle cx="80.22" cy="235.74" r="1.5" fill="#4a8fd6"/>
<circle cx="84.46" cy="232.8" r="1.5" fill="#4a8fd6"/>
<circle cx="68.52" cy="247.86" r="1.5" fill="#4a8fd6"/>
<circle cx="64.21" cy="246.14" r="1.5" fill="#4a8fd6"/>
<circle cx="48.62" cy="266.71" r="1.5" fill="#4a8fd6"/>
<circle cx="51.62" cy="260.17" r="1.5" fill="#4a8fd6"/>
<circle cx="85.05" cy="231.16" r="1.5" fill="#4a8fd6"/>
<circle cx="79.74" cy="234.34" r="1.5" fill="#4a8fd6"/>
<circle cx="61.95" cy="248.05" r="1.5" fill="#4a8fd6"/>
<circle cx="43.75" cy="265.23" r="1.5" fill="#4a8fd6"/>
<circle cx="63.76" cy="249.45" r="1.5" fill="#4a8fd6"/>
<circle cx="36.92" cy="274.96" r="1.5" fill="#4a8fd6"/>
<circle cx="38.43" cy="271.65" r="1.5" fill="#4a8fd6"/>
<circle cx="34.71" cy="275.74" r="1.5" fill="#4a8fd6"/>
<circle cx="40.74" cy="274.02" r="1.5" fill="#4a8fd6"/>
<circle cx="53.14" cy="261.67" r="1.5" fill="#4a8fd6"/>
<circle cx="57.95" cy="253.3" r="1.5" fill="#4a8fd6"/>
<circle cx="82.91" cy="230.02" r="1.5" fill="#4a8fd6"/>
<circle cx="62.39" cy="251.6" r="1.5" fill="#4a8fd6"/>
<circle cx="92.94" cy="224.06" r="1.5" fill="#4a8fd6"/>
<circle cx="35.89" cy="274.51" r="1.5" fill="#4a8fd6"/>
<circle cx="90.2" cy="227.85" r="1.5" fill="#4a8fd6"/>
<circle cx="53.55" cy="256.05" r="1.5" fill="#4a8fd6"/>
<circle cx="47.71" cy="266.05" r="1.5" fill="#4a8fd6"/>
<circle cx="42.69" cy="271.81" r="1.5" fill="#4a8fd6"/>
<circle cx="47.5" cy="265.69" r="1.5" fill="#4a8fd6"/>
<circle cx="73.56" cy="238.39" r="1.5" fill="#4a8fd6"/>
<circle cx="62.62" cy="251.3" r="1.5" fill="#4a8fd6"/>
<circle cx="47.7" cy="264.24" r="1.5" fill="#4a8fd6"/>
<circle cx="69.38" cy="247.86" r="1.5" fill="#4a8fd6"/>
<circle cx="48.56" cy="260.91" r="1.5" fill="#4a8fd6"/>
<circle cx="61.9" cy="251.71" r="1.5" fill="#4a8fd6"/>
<circle cx="60.68" cy="255.46" r="1.5" fill="#4a8fd6"/>
<circle cx="43.87" cy="267.58" r="1.5" fill="#4a8fd6"/>
<circle cx="59.72" cy="250.81" r="1.5" fill="#4a8fd6"/>
<circle cx="58.71" cy="253.53" r="1.5" fill="#4a8fd6"/>
<circle cx="53.93" cy="260.47" r="1.5" fill="#4a8fd6"/>
<circle cx="92.44" cy="226.78" r="1.5" fill="#4a8fd6"/>
<circle cx="44.79" cy="265.71" r="1.5" fill="#4a8fd6"/>
<circle cx="90.02" cy="222.3" r="1.5" fill="#4a8fd6"/>
<circle cx="37.81" cy="270.16" r="1.5" fill="#4a8fd6"/>
<circle cx="90.71" cy="224.53" r="1.5" fill="#4a8fd6"/>
<circle cx="57.4" cy="252.34" r="1.5" fill="#4a8fd6"/>
<circle cx="85.77" cy="233.12" r="1.5" fill="#4a8fd6"/>
<circle cx="73.18" cy="243.98" r="1.5" fill="#4a8fd6"/>
<circle cx="65.66" cy="246.11" r="1.5" fill="#4a8fd6"/>
<circle cx="42.63" cy="267.22" r="1.5" fill="#4a8fd6"/>
<circle cx="41.01" cy="269.16" r="1.5" fill="#4a8fd6"/>
<circle cx="35.69" cy="271.99" r="1.5" fill="#4a8fd6"/>
<circle cx="86.63" cy="231.07" r="1.5" fill="#4a8fd6"/>
<circle cx="81.28" cy="232.05" r="1.5" fill="#4a8fd6"/>
<circle cx="58.45" cy="254.45" r="1.5" fill="#4a8fd6"/>
<circle cx="79.52" cy="233.33" r="1.5" fill="#4a8fd6"/>
<circle cx="62.23" cy="251.03" r="1.5" fill="#4a8fd6"/>
<circle cx="82.98" cy="230.48" r="1.5" fill="#4a8fd6"/>
<circle cx="33.72" cy="276.12" r="1.5" fill="#4a8fd6"/>
<circle cx="85.75" cy="226.76" r="1.5" fill="#4a8fd6"/>
<circle cx="69.31" cy="241.6" r="1.5" fill="#4a8fd6"/>
<circle cx="47.82" cy="264.87" r="1.5" fill="#4a8fd6"/>
<circle cx="38.49" cy="272.11" r="1.5" fill="#4a8fd6"/>
<circle cx="66.83" cy="245.58" r="1.5" fill="#4a8fd6"/>
<circle cx="77.52" cy="239.42" r="1.5" fill="#4a8fd6"/>
<circle cx="48.28" cy="265.56" r="1.5" fill="#4a8fd6"/>
<circle cx="77.5" cy="237.38" r="1.5" fill="#4a8fd6"/>
<circle cx="67.11" cy="246.69" r="1.5" fill="#4a8fd6"/>
<circle cx="76.48" cy="239.08" r="1.5" fill="#4a8fd6"/>
<circle cx="47.81" cy="265.08" r="1.5" fill="#4a8fd6"/>
<circle cx="74.65" cy="238.96" r="1.5" fill="#4a8fd6"/>
<circle cx="86.54" cy="226.96" r="1.5" fill="#4a8fd6"/>
<circle cx="64.64" cy="248.97" r="1.5" fill="#4a8fd6"/>
<circle cx="67.87" cy="243.24" r="1.5" fill="#4a8fd6"/>
<circle cx="71.94" cy="239.09" r="1.5" fill="#4a8fd6"/>
<circle cx="63.52" cy="249.1" r="1.5" fill="#4a8fd6"/>
<circle cx="73.65" cy="243.07" r="1.5" fill="#4a8fd6"/>
<circle cx="92.31" cy="221.08" r="1.5" fill="#4a8fd6"/>
<circle cx="87.45" cy="227.27" r="1.5" fill="#4a8fd6"/>
<circle cx="61.74" cy="248.06" r="1.5" fill="#4a8fd6"/>
<circle cx="84.17" cy="228.55" r="1.5" fill="#4a8fd6"/>
<circle cx="48.18" cy="262.12" r="1.5" fill="#4a8fd6"/>
<circle cx="45.69" cy="264.3" r="1.5" fill="#4a8fd6"/>
<circle cx="48.8" cy="263.24" r="1.5" fill="#4a8fd6"/>
<circle cx="53.01" cy="261.18" r="1.5" fill="#4a8fd6"/>
<circle cx="88.93" cy="229.68" r="1.5" fill="#4a8fd6"/>
<circle cx="53.92" cy="259.73" r="1.5" fill="#4a8fd6"/>
<circle cx="76.02" cy="239.78" r="1.5" fill="#4a8fd6"/>
<circle cx="55.36" cy="254.78" r="1.5" fill="#4a8fd6"/>
<circle cx="77.63" cy="237.74" r="1.5" fill="#4a8fd6"/>
<circle cx="52.51" cy="260.9" r="1.5" fill="#4a8fd6"/>
<circle cx="36.67" cy="276.42" r="1.5" fill="#4a8fd6"/>
<circle cx="86.7" cy="232.07" r="1.5" fill="#4a8fd6"/>
<circle cx="39.09" cy="273.42" r="1.5" fill="#4a8fd6"/>
<circle cx="79.16" cy="232.6" r="1.5" fill="#4a8fd6"/>
<circle cx="68.29" cy="242.89" r="1.5" fill="#4a8fd6"/>
<circle cx="44.8" cy="263.56" r="1.5" fill="#4a8fd6"/>
<circle cx="48.39" cy="266.21" r="1.5" fill="#4a8fd6"/>
<circle cx="66.82" cy="248.83" r="1.5" fill="#4a8fd6"/>
<circle cx="91.4" cy="221.42" r="1.5" fill="#4a8fd6"/>
<circle cx="83.38" cy="234.46" r="1.5" fill="#4a8fd6"/>
<circle cx="70.74" cy="241.61" r="1.5" fill="#4a8fd6"/>
<circle cx="42.42" cy="268.39" r="1.5" fill="#4a8fd6"/>
<circle cx="53.76" cy="256.7" r="1.5" fill="#4a8fd6"/>
<circle cx="72.33" cy="242.44" r="1.5" fill="#4a8fd6"/>
<circle cx="47.08" cy="262.26" r="1.5" fill="#4a8fd6"/>
<circle cx="61.41" cy="253.08" r="1.5" fill="#4a8fd6"/>
<circle cx="71.77" cy="243" r="1.5" fill="#4a8fd6"/>
<circle cx="86.6" cy="230.34" r="1.5" fill="#4a8fd6"/>
<circle cx="57.95" cy="256.55" r="1.5" fill="#4a8fd6"/>
<circle cx="71.72" cy="240.75" r="1.5" fill="#4a8fd6"/>
<circle cx="41.96" cy="268.35" r="1.5" fill="#4a8fd6"/>
<circle cx="75.1" cy="240.84" r="1.5" fill="#4a8fd6"/>
<circle cx="49.73" cy="262.46" r="1.5" fill="#4a8fd6"/>
<circle cx="37.05" cy="274.54" r="1.5" fill="#4a8fd6"/>
<circle cx="58.36" cy="256.36" r="1.5" fill="#4a8fd6"/>
<circle cx="84.27" cy="227.43" r="1.5" fill="#4a8fd6"/>
<circle cx="91.05" cy="221.87" r="1.5" fill="#4a8fd6"/>
<circle cx="90.97" cy="228.28" r="1.5" fill="#4a8fd6"/>
<circle cx="45.01" cy="264.95" r="1.5" fill="#4a8fd6"/>
<circle cx="40.76" cy="273.74" r="1.5" fill="#4a8fd6"/>
<circle cx="77.56" cy="240.43" r="1.5" fill="#4a8fd6"/>
<circle cx="80.78" cy="232.57" r="1.5" fill="#4a8fd6"/>
<circle cx="78.67" cy="234.48" r="1.5" fill="#4a8fd6"/>
<circle cx="51.22" cy="260.2" r="1.5" fill="#4a8fd6"/>
<circle cx="73.96" cy="238.52" r="1.5" fill="#4a8fd6"/>
<circle cx="65.18" cy="248.47" r="1.5" fill="#4a8fd6"/>
<circle cx="79.98" cy="234.12" r="1.5" fill="#4a8fd6"/>
<circle cx="56.64" cy="256.22" r="1.5" fill="#4a8fd6"/>
<circle cx="59.08" cy="255.4" r="1.5" fill="#4a8fd6"/>
<circle cx="38.74" cy="269.96" r="1.5" fill="#4a8fd6"/>
<circle cx="35.26" cy="274.77" r="1.5" fill="#4a8fd6"/>
<circle cx="83.47" cy="231.92" r="1.5" fill="#4a8fd6"/>
<circle cx="69.93" cy="247.16" r="1.5" fill="#4a8fd6"/>
<circle cx="81.71" cy="231.24" r="1.5" fill="#4a8fd6"/>
<circle cx="45.02" cy="266.75" r="1.5" fill="#4a8fd6"/>
<circle cx="45.42" cy="266.84" r="1.5" fill="#4a8fd6"/>
<circle cx="37.28" cy="272.75" r="1.5" fill="#4a8fd6"/>
<circle cx="75.34" cy="236.83" r="1.5" fill="#4a8fd6"/>
<circle cx="40.97" cy="272.17" r="1.5" fill="#4a8fd6"/>
<circle cx="43.42" cy="271.22" r="1.5" fill="#4a8fd6"/>
<circle cx="68.48" cy="248.1" r="1.5" fill="#4a8fd6"/>
<circle cx="63.46" cy="249.44" r="1.5" fill="#4a8fd6"/>
<circle cx="47.06" cy="261.63" r="1.5" fill="#4a8fd6"/>
<circle cx="90.28" cy="222.87" r="1.5" fill="#4a8fd6"/>
<circle cx="37.37" cy="277.04" r="1.5" fill="#4a8fd6"/>
<circle cx="63.74" cy="249.89" r="1.5" fill="#4a8fd6"/>
<circle cx="88.03" cy="228.8" r="1.5" fill="#4a8fd6"/>
<circle cx="47.13" cy="262.94" r="1.5" fill="#4a8fd6"/>
<circle cx="71.19" cy="243.85" r="1.5" fill="#4a8fd6"/>
<circle cx="45.2" cy="264.49" r="1.5" fill="#4a8fd6"/>
<circle cx="62.02" cy="247.89" r="1.5" fill="#4a8fd6"/>
<circle cx="80.63" cy="234.99" r="1.5" fill="#4a8fd6"/>
<circle cx="41.07" cy="270.71" r="1.5" fill="#4a8fd6"/>
<circle cx="67.17" cy="243.32" r="1.5" fill="#4a8fd6"/>
<circle cx="57.2" cy="257.63" r="1.5" fill="#4a8fd6"/>
<circle cx="58.72" cy="255.69" r="1.5" fill="#4a8fd6"/>
<circle cx="45.66" cy="270" r="1.5" fill="#4a8fd6"/>
<circle cx="71.95" cy="242.18" r="1.5" fill="#4a8fd6"/>
<circle cx="34.03" cy="275.48" r="1.5" fill="#4a8fd6"/>
<circle cx="33.67" cy="276.42" r="1.5" fill="#4a8fd6"/>
<circle cx="42.5" cy="266.93" r="1.5" fill="#4a8fd6"/>
<circle cx="49.83" cy="259.57" r="1.5" fill="#4a8fd6"/>
<circle cx="48.53" cy="263.26" r="1.5" fill="#4a8fd6"/>
<circle cx="40.17" cy="271.38" r="1.5" fill="#4a8fd6"/>
<circle cx="90" cy="226.91" r="1.5" fill="#4a8fd6"/>
<circle cx="90.33" cy="222.15" r="1.5" fill="#4a8fd6"/>
<circle cx="71.48" cy="240.29" r="1.5" fill="#4a8fd6"/>
<circle cx="89.07" cy="225.97" r="1.5" fill="#4a8fd6"/>
<circle cx="75.35" cy="240.82" r="1.5" fill="#4a8fd6"/>
<circle cx="40.07" cy="268.27" r="1.5" fill="#4a8fd6"/>
<circle cx="81.02" cy="235.98" r="1.5" fill="#4a8fd6"/>
<circle cx="57.45" cy="251.92" r="1.5" fill="#4a8fd6"/>
<circle cx="34.6" cy="275.74" r="1.5" fill="#4a8fd6"/>
<circle cx="53.83" cy="259.78" r="1.5" fill="#4a8fd6"/>
<circle cx="80.84" cy="230.37" r="1.5" fill="#4a8fd6"/>
<circle cx="76.85" cy="241.18" r="1.5" fill="#4a8fd6"/>
<circle cx="84.8" cy="233.06" r="1.5" fill="#4a8fd6"/>
<circle cx="57.81" cy="255.54" r="1.5" fill="#4a8fd6"/>
<circle cx="39.09" cy="274.27" r="1.5" fill="#4a8fd6"/>
<circle cx="71.42" cy="241.5" r="1.5" fill="#4a8fd6"/>
<circle cx="35.8" cy="272.66" r="1.5" fill="#4a8fd6"/>
<circle cx="55.51" cy="260.28" r="1.5" fill="#4a8fd6"/>
<circle cx="59.73" cy="255.93" r="1.5" fill="#4a8fd6"/>
<circle cx="43.06" cy="266.47" r="1.5" fill="#4a8fd6"/>
<circle cx="45.83" cy="264.16" r="1.5" fill="#4a8fd6"/>
<circle cx="80.02" cy="233.33" r="1.5" fill="#4a8fd6"/>
<circle cx="50.66" cy="262.71" r="1.5" fill="#4a8fd6"/>
<circle cx="58.22" cy="257.43" r="1.5" fill="#4a8fd6"/>
<circle cx="73.68" cy="242.83" r="1.5" fill="#4a8fd6"/>
<circle cx="57.05" cy="254.62" r="1.5" fill="#4a8fd6"/>
<circle cx="58.56" cy="258.07" r="1.5" fill="#4a8fd6"/>
<circle cx="89.67" cy="225.97" r="1.5" fill="#4a8fd6"/>
<circle cx="61.07" cy="248.83" r="1.5" fill="#4a8fd6"/>
<circle cx="84.07" cy="231.45" r="1.5" fill="#4a8fd6"/>
<circle cx="56.13" cy="253.92" r="1.5" fill="#4a8fd6"/>
<circle cx="59.68" cy="254.65" r="1.5" fill="#4a8fd6"/>
<circle cx="47.68" cy="262.31" r="1.5" fill="#4a8fd6"/>
<circle cx="62.17" cy="250.68" r="1.5" fill="#4a8fd6"/>
<circle cx="33.86" cy="273.78" r="1.5" fill="#4a8fd6"/>
<circle cx="53.86" cy="260" r="1.5" fill="#4a8fd6"/>
<circle cx="54.32" cy="254.77" r="1.5" fill="#4a8fd6"/>
<circle cx="46.23" cy="263.18" r="1.5" fill="#4a8fd6"/>
<circle cx="78.04" cy="234.17" r="1.5" fill="#4a8fd6"/>
<circle cx="92.09" cy="221.68" r="1.5" fill="#4a8fd6"/>
<circle cx="42.67" cy="265.48" r="1.5" fill="#4a8fd6"/>
<circle cx="60.95" cy="251.95" r="1.5" fill="#4a8fd6"/>
<circle cx="79.12" cy="236.47" r="1.5" fill="#4a8fd6"/>
<circle cx="64.11" cy="245.94" r="1.5" fill="#4a8fd6"/>
<circle cx="88.57" cy="224.64" r="1.5" fill="#4a8fd6"/>
<circle cx="45.72" cy="263.51" r="1.5" fill="#4a8fd6"/>
<circle cx="66.9" cy="247.58" r="1.5" fill="#4a8fd6"/>
<circle cx="50.41" cy="259.74" r="1.5" fill="#4a8fd6"/>
<circle cx="34.02" cy="275.71" r="1.5" fill="#4a8fd6"/>
<circle cx="39.39" cy="269.76" r="1.5" fill="#4a8fd6"/>
<circle cx="77.24" cy="238.54" r="1.5" fill="#4a8fd6"/>
<circle cx="40.3" cy="274.84" r="1.5" fill="#4a8fd6"/>
<circle cx="75.01" cy="240.63" r="1.5" fill="#4a8fd6"/>
<circle cx="50.72" cy="265.08" r="1.5" fill="#4a8fd6"/>
<circle cx="57.92" cy="255.68" r="1.5" fill="#4a8fd6"/>
<circle cx="92.19" cy="225.85" r="1.5" fill="#4a8fd6"/>
<circle cx="42.43" cy="266.27" r="1.5" fill="#4a8fd6"/>
<circle cx="44.3" cy="264.49" r="1.5" fill="#4a8fd6"/>
<circle cx="85.84" cy="229.3" r="1.5" fill="#4a8fd6"/>
<circle cx="60.02" cy="251.7" r="1.5" fill="#4a8fd6"/>
<circle cx="61.27" cy="251.06" r="1.5" fill="#4a8fd6"/>
<circle cx="75.56" cy="237.77" r="1.5" fill="#4a8fd6"/>
<circle cx="84.65" cy="232.87" r="1.5" fill="#4a8fd6"/>
<circle cx="84.73" cy="231.99" r="1.5" fill="#4a8fd6"/>
<circle cx="42.24" cy="268.42" r="1.5" fill="#4a8fd6"/>
<circle cx="82.94" cy="230.56" r="1.5" fill="#4a8fd6"/>
<circle cx="65.94" cy="245.18" r="1.5" fill="#4a8fd6"/>
<circle cx="81.92" cy="231.33" r="1.5" fill="#4a8fd6"/>
<circle cx="53.12" cy="261.59" r="1.5" fill="#4a8fd6"/>
<circle cx="37.78" cy="269.92" r="1.5" fill="#4a8fd6"/>
<circle cx="56.89" cy="255.14" r="1.5" fill="#4a8fd6"/>
<circle cx="39.02" cy="271.16" r="1.5" fill="#4a8fd6"/>
<circle cx="78.36" cy="238.97" r="1.5" fill="#4a8fd6"/>
<circle cx="88.24" cy="229.14" r="1.5" fill="#4a8fd6"/>
<circle cx="37.01" cy="272.81" r="1.5" fill="#4a8fd6"/>
<circle cx="58.31" cy="251.16" r="1.5" fill="#4a8fd6"/>
<circle cx="79.09" cy="233.55" r="1.5" fill="#4a8fd6"/>
<circle cx="79.05" cy="236.59" r="1.5" fill="#4a8fd6"/>
<circle cx="47.57" cy="262.95" r="1.5" fill="#4a8fd6"/>
<circle cx="58.42" cy="251.99" r="1.5" fill="#4a8fd6"/>
<circle cx="34.05" cy="275.95" r="1.5" fill="#4a8fd6"/>
<circle cx="45.35" cy="264.38" r="1.5" fill="#4a8fd6"/>
<circle cx="79.5" cy="236.73" r="1.5" fill="#4a8fd6"/>
<circle cx="56.06" cy="253.21" r="1.5" fill="#4a8fd6"/>
<circle cx="78" cy="234.45" r="1.5" fill="#4a8fd6"/>
<circle cx="38.37" cy="274.59" r="1.5" fill="#4a8fd6"/>
<circle cx="87.15" cy="225.99" r="1.5" fill="#4a8fd6"/>
<circle cx="64.24" cy="251.97" r="1.5" fill="#4a8fd6"/>
<circle cx="62.68" cy="249.11" r="1.5" fill="#4a8fd6"/>
<circle cx="41.35" cy="266.73" r="1.5" fill="#4a8fd6"/>
<circle cx="86.26" cy="231.1" r="1.5" fill="#4a8fd6"/>
<circle cx="42.75" cy="269.69" r="1.5" fill="#4a8fd6"/>
<circle cx="43.35" cy="269.98" r="1.5" fill="#4a8fd6"/>
<circle cx="54" cy="259.77" r="1.5" fill="#4a8fd6"/>
<circle cx="63.59" cy="246.57" r="1.5" fill="#4a8fd6"/>
<circle cx="65.74" cy="248.64" r="1.5" fill="#4a8fd6"/>
<circle cx="35.64" cy="272.01" r="1.5" fill="#4a8fd6"/>
<circle cx="47.74" cy="265.73" r="1.5" fill="#4a8fd6"/>
<circle cx="91.83" cy="223.06" r="1.5" fill="#4a8fd6"/>
<circle cx="84.14" cy="232.21" r="1.5" fill="#4a8fd6"/>
<circle cx="47.93" cy="263.38" r="1.5" fill="#4a8fd6"/>
<circle cx="83.25" cy="231.21" r="1.5" fill="#4a8fd6"/>
<circle cx="61.85" cy="252.77" r="1.5" fill="#4a8fd6"/>
<circle cx="40.92" cy="269.92" r="1.5" fill="#4a8fd6"/>
<circle cx="62.71" cy="250.74" r="1.5" fill="#4a8fd6"/>
<circle cx="73.48" cy="238.65" r="1.5" fill="#4a8fd6"/>
<circle cx="59.87" cy="252.52" r="1.5" fill="#4a8fd6"/>
<circle cx="38.52" cy="274.74" r="1.5" fill="#4a8fd6"/>
<circle cx="90.67" cy="225" r="1.5" fill="#4a8fd6"/>
<circle cx="56.05" cy="255.35" r="1.5" fill="#4a8fd6"/>
<circle cx="58.62" cy="253" r="1.5" fill="#4a8fd6"/>
<circle cx="47.84" cy="267.56" r="1.5" fill="#4a8fd6"/>
<circle cx="53.39" cy="256.72" r="1.5" fill="#4a8fd6"/>
<circle cx="71.36" cy="239.08" r="1.5" fill="#4a8fd6"/>
<circle cx="52.62" cy="259.95" r="1.5" fill="#4a8fd6"/>
<circle cx="81.57" cy="231.44" r="1.5" fill="#4a8fd6"/>
<circle cx="35.92" cy="277.18" r="1.5" fill="#4a8fd6"/>
<circle cx="56.51" cy="255.99" r="1.5" fill="#4a8fd6"/>
<circle cx="92.51" cy="221.77" r="1.5" fill="#4a8fd6"/>
<circle cx="46.14" cy="263.86" r="1.5" fill="#4a8fd6"/>
<circle cx="53.92" cy="255.81" r="1.5" fill="#4a8fd6"/>
<circle cx="86.77" cy="228.21" r="1.5" fill="#4a8fd6"/>
<circle cx="76.13" cy="236.26" r="1.5" fill="#4a8fd6"/>
<circle cx="71.83" cy="245.22" r="1.5" fill="#4a8fd6"/>
<circle cx="45.5" cy="269.78" r="1.5" fill="#4a8fd6"/>
<circle cx="48.61" cy="264.89" r="1.5" fill="#4a8fd6"/>
<circle cx="89.53" cy="225.3" r="1.5" fill="#4a8fd6"/>
<circle cx="88.84" cy="225.43" r="1.5" fill="#4a8fd6"/>
<circle cx="57.63" cy="258.36" r="1.5" fill="#4a8fd6"/>
<circle cx="67.8" cy="242.55" r="1.5" fill="#4a8fd6"/>
<circle cx="41" cy="270.42" r="1.5" fill="#4a8fd6"/>
<circle cx="51.82" cy="257.25" r="1.5" fill="#4a8fd6"/>
<circle cx="81.26" cy="231.89" r="1.5" fill="#4a8fd6"/>
<circle cx="87.06" cy="226.85" r="1.5" fill="#4a8fd6"/>
<circle cx="42.86" cy="267.87" r="1.5" fill="#4a8fd6"/>
<circle cx="82.04" cy="235.77" r="1.5" fill="#4a8fd6"/>
<circle cx="65.33" cy="246" r="1.5" fill="#4a8fd6"/>
<circle cx="63.17" cy="248.06" r="1.5" fill="#4a8fd6"/>
<circle cx="53.09" cy="255.86" r="1.5" fill="#4a8fd6"/>
<circle cx="34.34" cy="275.59" r="1.5" fill="#4a8fd6"/>
<circle cx="46.25" cy="266.24" r="1.5" fill="#4a8fd6"/>
<circle cx="35.38" cy="275.91" r="1.5" fill="#4a8fd6"/>
<circle cx="75.24" cy="238.17" r="1.5" fill="#4a8fd6"/>
<circle cx="57.49" cy="257.56" r="1.5" fill="#4a8fd6"/>
<circle cx="50.55" cy="258.52" r="1.5" fill="#4a8fd6"/>
<circle cx="39.15" cy="275.28" r="1.5" fill="#4a8fd6"/>
<circle cx="48.2" cy="260.61" r="1.5" fill="#4a8fd6"/>
<circle cx="65.51" cy="245.07" r="1.5" fill="#4a8fd6"/>
<circle cx="57" cy="257.65" r="1.5" fill="#4a8fd6"/>
<circle cx="45.67" cy="265.27" r="1.5" fill="#4a8fd6"/>
<circle cx="88.89" cy="229.18" r="1.5" fill="#4a8fd6"/>
<circle cx="84.76" cy="226.9" r="1.5" fill="#4a8fd6"/>
<circle cx="91.55" cy="224.19" r="1.5" fill="#4a8fd6"/>
<circle cx="41.02" cy="274.16" r="1.5" fill="#4a8fd6"/>
<circle cx="39.56" cy="275.49" r="1.5" fill="#4a8fd6"/>
<circle cx="34.91" cy="272.89" r="1.5" fill="#4a8fd6"/>
<circle cx="59.81" cy="253.72" r="1.5" fill="#4a8fd6"/>
<circle cx="66.74" cy="249.07" r="1.5" fill="#4a8fd6"/>
<circle cx="38.78" cy="273.99" r="1.5" fill="#4a8fd6"/>
<circle cx="50.71" cy="264.98" r="1.5" fill="#4a8fd6"/>
<circle cx="69.27" cy="245.69" r="1.5" fill="#4a8fd6"/>
<circle cx="40.06" cy="274.41" r="1.5" fill="#4a8fd6"/>
<circle cx="48.88" cy="260.83" r="1.5" fill="#4a8fd6"/>
<circle cx="56.64" cy="258.06" r="1.5" fill="#4a8fd6"/>
<circle cx="50.82" cy="260.91" r="1.5" fill="#4a8fd6"/>
<circle cx="67.93" cy="243.59" r="1.5" fill="#4a8fd6"/>
<circle cx="39.33" cy="270.98" r="1.5" fill="#4a8fd6"/>
<circle cx="74.76" cy="240.56" r="1.5" fill="#4a8fd6"/>
<circle cx="44.45" cy="268.22" r="1.5" fill="#4a8fd6"/>
<circle cx="82.67" cy="233.5" r="1.5" fill="#4a8fd6"/>
<circle cx="42.83" cy="265.44" r="1.5" fill="#4a8fd6"/>
<circle cx="92.4" cy="224.61" r="1.5" fill="#4a8fd6"/>
<circle cx="47.95" cy="265.7" r="1.5" fill="#4a8fd6"/>
<circle cx="66.43" cy="247.82" r="1.5" fill="#4a8fd6"/>
<circle cx="52.96" cy="260.5" r="1.5" fill="#4a8fd6"/>
<circle cx="54.35" cy="257.02" r="1.5" fill="#4a8fd6"/>
<circle cx="50.92" cy="262.93" r="1.5" fill="#4a8fd6"/>
<circle cx="84.22" cy="228.93" r="1.5" fill="#4a8fd6"/>
<circle cx="37.05" cy="271.99" r="1.5" fill="#4a8fd6"/>
<circle cx="77.51" cy="235.54" r="1.5" fill="#4a8fd6"/>
<circle cx="34.01" cy="276.29" r="1.5" fill="#4a8fd6"/>
<circle cx="36.68" cy="276.1" r="1.5" fill="#4a8fd6"/>
<circle cx="61.95" cy="253.74" r="1.5" fill="#4a8fd6"/>
<circle cx="82.58" cy="234.59" r="1.5" fill="#4a8fd6"/>
<circle cx="85.64" cy="228.28" r="1.5" fill="#4a8fd6"/>
<circle cx="80.91" cy="233.46" r="1.5" fill="#4a8fd6"/>
<circle cx="70.91" cy="240.65" r="1.5" fill="#4a8fd6"/>
<circle cx="69.24" cy="241.33" r="1.5" fill="#4a8fd6"/>
<circle cx="84.24" cy="228.16" r="1.5" fill="#4a8fd6"/>
<circle cx="65.75" cy="250.2" r="1.5" fill="#4a8fd6"/>
<circle cx="82.09" cy="235.31" r="1.5" fill="#4a8fd6"/>
<circle cx="56.93" cy="252.62" r="1.5" fill="#4a8fd6"/>
<circle cx="92.37" cy="221.54" r="1.5" fill="#4a8fd6"/>
<circle cx="84.5" cy="229.52" r="1.5" fill="#4a8fd6"/>
<circle cx="57.88" cy="254.97" r="1.5" fill="#4a8fd6"/>
<circle cx="64.27" cy="251.03" r="1.5" fill="#4a8fd6"/>
<circle cx="66.87" cy="244.05" r="1.5" fill="#4a8fd6"/>
<circle cx="63.45" cy="246.76" r="1.5" fill="#4a8fd6"/>
<circle cx="83.81" cy="228.55" r="1.5" fill="#4a8fd6"/>
<circle cx="53.28" cy="259.58" r="1.5" fill="#4a8fd6"/>
<circle cx="51.95" cy="263.33" r="1.5" fill="#4a8fd6"/>
<circle cx="79.86" cy="233.22" r="1.5" fill="#4a8fd6"/>
<circle cx="57.15" cy="257.22" r="1.5" fill="#4a8fd6"/>
<circle cx="62.13" cy="251.81" r="1.5" fill="#4a8fd6"/>
<circle cx="51.63" cy="260.92" r="1.5" fill="#4a8fd6"/>
<circle cx="67.17" cy="249.39" r="1.5" fill="#4a8fd6"/>
<circle cx="52.51" cy="262.01" r="1.5" fill="#4a8fd6"/>
<circle cx="44.56" cy="265.35" r="1.5" fill="#4a8fd6"/>
<circle cx="45.59" cy="269.46" r="1.5" fill="#4a8fd6"/>
<circle cx="38.11" cy="271.25" r="1.5" fill="#4a8fd6"/>
<circle cx="59.54" cy="254.79" r="1.5" fill="#4a8fd6"/>
<circle cx="71.51" cy="239.51" r="1.5" fill="#4a8fd6"/>
<circle cx="54.84" cy="259.2" r="1.5" fill="#4a8fd6"/>
<circle cx="40.64" cy="267.87" r="1.5" fill="#4a8fd6"/>
<circle cx="81.87" cy="229.41" r="1.5" fill="#4a8fd6"/>
<circle cx="37.29" cy="271.34" r="1.5" fill="#4a8fd6"/>
<circle cx="82.59" cy="230.82" r="1.5" fill="#4a8fd6"/>
<circle cx="57.18" cy="255.61" r="1.5" fill="#4a8fd6"/>
<circle cx="86.23" cy="225.57" r="1.5" fill="#4a8fd6"/>
<circle cx="43.41" cy="267.2" r="1.5" fill="#4a8fd6"/>
<circle cx="70.29" cy="240.7" r="1.5" fill="#4a8fd6"/>
<circle cx="57.52" cy="255.52" r="1.5" fill="#4a8fd6"/>
<circle cx="36.56" cy="272.99" r="1.5" fill="#4a8fd6"/>
<circle cx="36.35" cy="277.18" r="1.5" fill="#4a8fd6"/>
<circle cx="41.53" cy="270.56" r="1.5" fill="#4a8fd6"/>
<circle cx="45.47" cy="266.63" r="1.5" fill="#4a8fd6"/>
<circle cx="51.91" cy="264.2" r="1.5" fill="#4a8fd6"/>
<circle cx="65.69" cy="246.38" r="1.5" fill="#4a8fd6"/>
<circle cx="42.69" cy="268.45" r="1.5" fill="#4a8fd6"/>
<circle cx="78.62" cy="237.31" r="1.5" fill="#4a8fd6"/>
<circle cx="74.29" cy="239.7" r="1.5" fill="#4a8fd6"/>
<circle cx="89.05" cy="225.26" r="1.5" fill="#4a8fd6"/>
<circle cx="64.36" cy="252.45" r="1.5" fill="#4a8fd6"/>
<circle cx="79.69" cy="234.41" r="1.5" fill="#4a8fd6"/>
<circle cx="80.04" cy="236.48" r="1.5" fill="#4a8fd6"/>
<circle cx="49.12" cy="261.94" r="1.5" fill="#4a8fd6"/>
<circle cx="77.59" cy="235.6" r="1.5" fill="#4a8fd6"/>
<circle cx="52.46" cy="259.91" r="1.5" fill="#4a8fd6"/>
<circle cx="37.12" cy="271.98" r="1.5" fill="#4a8fd6"/>
<circle cx="92.47" cy="221.06" r="1.5" fill="#4a8fd6"/>
<circle cx="80.77" cy="230.44" r="1.5" fill="#4a8fd6"/>
<circle cx="49.92" cy="262.07" r="1.5" fill="#4a8fd6"/>
<circle cx="50.25" cy="265.31" r="1.5" fill="#4a8fd6"/>
<circle cx="90.58" cy="223.13" r="1.5" fill="#4a8fd6"/>
<circle cx="40.33" cy="274.22" r="1.5" fill="#4a8fd6"/>
<circle cx="80" cy="234.48" r="1.5" fill="#4a8fd6"/>
<circle cx="36.24" cy="271.35" r="1.5" fill="#4a8fd6"/>
<circle cx="73.23" cy="242.01" r="1.5" fill="#4a8fd6"/>
<circle cx="59.4" cy="252.02" r="1.5" fill="#4a8fd6"/>
<circle cx="48.09" cy="262.68" r="1.5" fill="#4a8fd6"/>
<circle cx="56.5" cy="256.79" r="1.5" fill="#4a8fd6"/>
<circle cx="56.26" cy="254.93" r="1.5" fill="#4a8fd6"/>
<circle cx="45.18" cy="267.58" r="1.5" fill="#4a8fd6"/>
<circle cx="89.19" cy="223.65" r="1.5" fill="#4a8fd6"/>
<circle cx="78.54" cy="236.82" r="1.5" fill="#4a8fd6"/>
<circle cx="45.56" cy="263.43" r="1.5" fill="#4a8fd6"/>
<circle cx="82.67" cy="229.43" r="1.5" fill="#4a8fd6"/>
<circle cx="39.34" cy="268.89" r="1.5" fill="#4a8fd6"/>
<circle cx="81.26" cy="232.26" r="1.5" fill="#4a8fd6"/>
<circle cx="33.64" cy="275.31" r="1.5" fill="#4a8fd6"/>
<circle cx="62.63" cy="250.09" r="1.5" fill="#4a8fd6"/>
<circle cx="40.87" cy="273.11" r="1.5" fill="#4a8fd6"/>
<circle cx="73.71" cy="238.46" r="1.5" fill="#4a8fd6"/>
<circle cx="50.58" cy="259.58" r="1.5" fill="#4a8fd6"/>
<circle cx="34.48" cy="277" r="1.5" fill="#4a8fd6"/>
<circle cx="47.99" cy="265.01" r="1.5" fill="#4a8fd6"/>
<circle cx="82.78" cy="230.45" r="1.5" fill="#4a8fd6"/>
<circle cx="48.67" cy="262.1" r="1.5" fill="#4a8fd6"/>
<circle cx="59.99" cy="249.7" r="1.5" fill="#4a8fd6"/>
<circle cx="54.79" cy="256.11" r="1.5" fill="#4a8fd6"/>
<circle cx="38.93" cy="274.76" r="1.5" fill="#4a8fd6"/>
<circle cx="49.08" cy="274.97" r="1.5" fill="#4a8fd6"/>
<circle cx="34.43" cy="274.13" r="1.5" fill="#4a8fd6"/>
<circle cx="41.63" cy="273.59" r="1.5" fill="#4a8fd6"/>
<circle cx="47.92" cy="275.84" r="1.5" fill="#4a8fd6"/>
<circle cx="50.4" cy="274.6" r="1.5" fill="#4a8fd6"/>
<circle cx="41.04" cy="273.89" r="1.5" fill="#4a8fd6"/>
<circle cx="40.46" cy="276.17" r="1.5" fill="#4a8fd6"/>
<circle cx="33.72" cy="274.53" r="1.5" fill="#4a8fd6"/>
<circle cx="39.14" cy="276.12" r="1.5" fill="#4a8fd6"/>
<circle cx="33.82" cy="273.97" r="1.5" fill="#4a8fd6"/>
<circle cx="39.27" cy="273.67" r="1.5" fill="#4a8fd6"/>
<circle cx="53.72" cy="273.81" r="1.5" fill="#4a8fd6"/>
<circle cx="37.98" cy="273.37" r="1.5" fill="#4a8fd6"/>
<circle cx="47.36" cy="273.71" r="1.5" fill="#4a8fd6"/>
<circle cx="54.06" cy="275.56" r="1.5" fill="#4a8fd6"/>
<circle cx="41.53" cy="273.54" r="1.5" fill="#4a8fd6"/>
<circle cx="39.53" cy="276.33" r="1.5" fill="#4a8fd6"/>
<circle cx="33.6" cy="274.73" r="1.5" fill="#4a8fd6"/>
<circle cx="39.92" cy="273.36" r="1.5" fill="#4a8fd6"/>
<circle cx="32.95" cy="275.28" r="1.5" fill="#4a8fd6"/>
<circle cx="49.45" cy="274.55" r="1.5" fill="#4a8fd6"/>
<circle cx="52.31" cy="274.4" r="1.5" fill="#4a8fd6"/>
<circle cx="53.23" cy="273.29" r="1.5" fill="#4a8fd6"/>
<circle cx="52.99" cy="274.57" r="1.5" fill="#4a8fd6"/>
<circle cx="42.08" cy="274.82" r="1.5" fill="#4a8fd6"/>
<circle cx="37.88" cy="275.78" r="1.5" fill="#4a8fd6"/>
<circle cx="44.92" cy="275.14" r="1.5" fill="#4a8fd6"/>
<circle cx="41.83" cy="276.38" r="1.5" fill="#4a8fd6"/>
<circle cx="55.78" cy="275.51" r="1.5" fill="#4a8fd6"/>
<circle cx="43.99" cy="275.45" r="1.5" fill="#4a8fd6"/>
<circle cx="45.77" cy="273.94" r="1.5" fill="#4a8fd6"/>
<circle cx="54.77" cy="274.56" r="1.5" fill="#4a8fd6"/>
<circle cx="54.76" cy="275.39" r="1.5" fill="#4a8fd6"/>
<circle cx="43.83" cy="275.49" r="1.5" fill="#4a8fd6"/>
<circle cx="55.42" cy="276.22" r="1.5" fill="#4a8fd6"/>
<circle cx="37.99" cy="273.99" r="1.5" fill="#4a8fd6"/>
<circle cx="38.31" cy="276.45" r="1.5" fill="#4a8fd6"/>
<circle cx="41.37" cy="275.05" r="1.5" fill="#4a8fd6"/>
<circle cx="43.4" cy="275.86" r="1.5" fill="#4a8fd6"/>
<circle cx="40.88" cy="275.67" r="1.5" fill="#4a8fd6"/>
<circle cx="36.83" cy="274.9" r="1.5" fill="#4a8fd6"/>
<circle cx="38.06" cy="276" r="1.5" fill="#4a8fd6"/>
<circle cx="54.57" cy="273.57" r="1.5" fill="#4a8fd6"/>
<circle cx="41.64" cy="274.82" r="1.5" fill="#4a8fd6"/>
<circle cx="34.99" cy="276.61" r="1.5" fill="#4a8fd6"/>
<circle cx="44.78" cy="273.37" r="1.5" fill="#4a8fd6"/>
<circle cx="34.55" cy="275.08" r="1.5" fill="#4a8fd6"/>
<circle cx="51.37" cy="276.64" r="1.5" fill="#4a8fd6"/>
<circle cx="46.5" cy="275.76" r="1.5" fill="#4a8fd6"/>
<circle cx="50.45" cy="273.79" r="1.5" fill="#4a8fd6"/>
<circle cx="53.47" cy="273.94" r="1.5" fill="#4a8fd6"/>
<circle cx="34.75" cy="274.37" r="1.5" fill="#4a8fd6"/>
<circle cx="45.87" cy="275.62" r="1.5" fill="#4a8fd6"/>
<circle cx="37.43" cy="275.02" r="1.5" fill="#4a8fd6"/>
<circle cx="42.64" cy="275.25" r="1.5" fill="#4a8fd6"/>
<circle cx="55.13" cy="275.87" r="1.5" fill="#4a8fd6"/>
<circle cx="52.84" cy="276.17" r="1.5" fill="#4a8fd6"/>
<circle cx="48.93" cy="275.12" r="1.5" fill="#4a8fd6"/>
<circle cx="41.97" cy="275" r="1.5" fill="#4a8fd6"/>
<circle cx="35.83" cy="275.9" r="1.5" fill="#4a8fd6"/>
<circle cx="42.39" cy="276" r="1.5" fill="#4a8fd6"/>
<circle cx="52.59" cy="274.26" r="1.5" fill="#4a8fd6"/>
<circle cx="47.51" cy="274.24" r="1.5" fill="#4a8fd6"/>
<circle cx="36.53" cy="276.64" r="1.5" fill="#4a8fd6"/>
<circle cx="34.57" cy="273.58" r="1.5" fill="#4a8fd6"/>
<circle cx="44.17" cy="273.27" r="1.5" fill="#4a8fd6"/>
<circle cx="40.32" cy="275.33" r="1.5" fill="#4a8fd6"/>
<circle cx="47.97" cy="273.71" r="1.5" fill="#4a8fd6"/>
<circle cx="42.76" cy="274.98" r="1.5" fill="#4a8fd6"/>
<circle cx="41.07" cy="275.84" r="1.5" fill="#4a8fd6"/>
<circle cx="54.02" cy="273.51" r="1.5" fill="#4a8fd6"/>
<circle cx="42.97" cy="276.19" r="1.5" fill="#4a8fd6"/>
<circle cx="53.18" cy="275.05" r="1.5" fill="#4a8fd6"/>
<circle cx="50.28" cy="275.22" r="1.5" fill="#4a8fd6"/>
<circle cx="34.59" cy="274.06" r="1.5" fill="#4a8fd6"/>
<circle cx="35.19" cy="273.39" r="1.5" fill="#4a8fd6"/>
<circle cx="36.68" cy="275.48" r="1.5" fill="#4a8fd6"/>
<circle cx="32.78" cy="275.91" r="1.5" fill="#4a8fd6"/>
<circle cx="47.99" cy="276.35" r="1.5" fill="#4a8fd6"/>
<circle cx="35.38" cy="276.46" r="1.5" fill="#4a8fd6"/>
<circle cx="33.02" cy="274.87" r="1.5" fill="#4a8fd6"/>
<circle cx="38.01" cy="274.04" r="1.5" fill="#4a8fd6"/>
<circle cx="48.67" cy="274.91" r="1.5" fill="#4a8fd6"/>
<circle cx="54.54" cy="273.28" r="1.5" fill="#4a8fd6"/>
<circle cx="39.94" cy="273.96" r="1.5" fill="#4a8fd6"/>
<circle cx="49.03" cy="276.02" r="1.5" fill="#4a8fd6"/>
<circle cx="51.16" cy="276.55" r="1.5" fill="#4a8fd6"/>
<circle cx="48.54" cy="273.51" r="1.5" fill="#4a8fd6"/>
<circle cx="48.02" cy="274.23" r="1.5" fill="#4a8fd6"/>
<circle cx="48.21" cy="275.24" r="1.5" fill="#4a8fd6"/>
<circle cx="35.3" cy="275.35" r="1.5" fill="#4a8fd6"/>
<circle cx="40.03" cy="273.83" r="1.5" fill="#4a8fd6"/>
<circle cx="53.4" cy="273.28" r="1.5" fill="#4a8fd6"/>
<circle cx="40.53" cy="273.55" r="1.5" fill="#4a8fd6"/>
<circle cx="53.95" cy="276.6" r="1.5" fill="#4a8fd6"/>
<circle cx="45.58" cy="276.34" r="1.5" fill="#4a8fd6"/>
<circle cx="34.58" cy="275.12" r="1.5" fill="#4a8fd6"/>
<circle cx="49.3" cy="276.05" r="1.5" fill="#4a8fd6"/>
<circle cx="40.26" cy="274.98" r="1.5" fill="#4a8fd6"/>
<circle cx="45.51" cy="276.24" r="1.5" fill="#4a8fd6"/>
<circle cx="36.78" cy="276.63" r="1.5" fill="#4a8fd6"/>
<circle cx="40.27" cy="273.22" r="1.5" fill="#4a8fd6"/>
<circle cx="37.08" cy="274.03" r="1.5" fill="#4a8fd6"/>
<circle cx="47.96" cy="273.66" r="1.5" fill="#4a8fd6"/>
<circle cx="51.61" cy="276.46" r="1.5" fill="#4a8fd6"/>
<circle cx="40.46" cy="273.76" r="1.5" fill="#4a8fd6"/>
<circle cx="47.9" cy="273.68" r="1.5" fill="#4a8fd6"/>
<circle cx="33.46" cy="273.74" r="1.5" fill="#4a8fd6"/>
<circle cx="42.02" cy="273.92" r="1.5" fill="#4a8fd6"/>
<circle cx="46.42" cy="275.43" r="1.5" fill="#4a8fd6"/>
<circle cx="45.07" cy="276.59" r="1.5" fill="#4a8fd6"/>
<circle cx="54.71" cy="273.62" r="1.5" fill="#4a8fd6"/>
<circle cx="47.97" cy="274.41" r="1.5" fill="#4a8fd6"/>
<circle cx="50.02" cy="275.14" r="1.5" fill="#4a8fd6"/>
<circle cx="38.42" cy="274.4" r="1.5" fill="#4a8fd6"/>
<circle cx="55.85" cy="273.64" r="1.5" fill="#4a8fd6"/>
<circle cx="51.48" cy="276.1" r="1.5" fill="#4a8fd6"/>
<circle cx="40.03" cy="275.69" r="1.5" fill="#4a8fd6"/>
<circle cx="45.98" cy="273.52" r="1.5" fill="#4a8fd6"/>
<circle cx="47.31" cy="274.63" r="1.5" fill="#4a8fd6"/>
<circle cx="57.86" cy="251.68" r="1.4" fill="#c6c6c6"/>
<circle cx="106.97" cy="206.26" r="1.4" fill="#c6c6c6"/>
<circle cx="99.75" cy="214.28" r="1.4" fill="#c6c6c6"/>
<circle cx="43.68" cy="266.1" r="1.4" fill="#c6c6c6"/>
<circle cx="33.27" cy="274.42" r="1.4" fill="#c6c6c6"/>
<circle cx="42.27" cy="266.28" r="1.4" fill="#c6c6c6"/>
<circle cx="106.86" cy="207.53" r="1.4" fill="#c6c6c6"/>
<circle cx="36.09" cy="272.27" r="1.4" fill="#c6c6c6"/>
<circle cx="33.09" cy="274.27" r="1.4" fill="#c6c6c6"/>
<circle cx="51.13" cy="258.13" r="1.4" fill="#c6c6c6"/>
<circle cx="39.48" cy="268.71" r="1.4" fill="#c6c6c6"/>
<circle cx="37.97" cy="269.04" r="1.4" fill="#c6c6c6"/>
<circle cx="38.38" cy="269.79" r="1.4" fill="#c6c6c6"/>
<circle cx="74.31" cy="237.58" r="1.4" fill="#c6c6c6"/>
<circle cx="47.56" cy="261.49" r="1.4" fill="#c6c6c6"/>
<circle cx="46.58" cy="262.47" r="1.4" fill="#c6c6c6"/>
<circle cx="95.59" cy="217.67" r="1.4" fill="#c6c6c6"/>
<circle cx="42.76" cy="264.66" r="1.4" fill="#c6c6c6"/>
<circle cx="36.85" cy="272.15" r="1.4" fill="#c6c6c6"/>
<circle cx="33.68" cy="273.76" r="1.4" fill="#c6c6c6"/>
<circle cx="65.85" cy="245.38" r="1.4" fill="#c6c6c6"/>
<circle cx="85.77" cy="225.98" r="1.4" fill="#c6c6c6"/>
<circle cx="97.87" cy="215.87" r="1.4" fill="#c6c6c6"/>
<circle cx="86.88" cy="224.93" r="1.4" fill="#c6c6c6"/>
<circle cx="85.77" cy="227.56" r="1.4" fill="#c6c6c6"/>
<circle cx="51.51" cy="257.92" r="1.4" fill="#c6c6c6"/>
<circle cx="82.73" cy="230.68" r="1.4" fill="#c6c6c6"/>
<circle cx="48.6" cy="261.31" r="1.4" fill="#c6c6c6"/>
<circle cx="34.95" cy="272.26" r="1.4" fill="#c6c6c6"/>
<circle cx="89.73" cy="223.58" r="1.4" fill="#c6c6c6"/>
<circle cx="84.68" cy="227.25" r="1.4" fill="#c6c6c6"/>
<circle cx="95.63" cy="218.12" r="1.4" fill="#c6c6c6"/>
<circle cx="73.28" cy="238.27" r="1.4" fill="#c6c6c6"/>
<circle cx="36.29" cy="271.51" r="1.4" fill="#c6c6c6"/>
<circle cx="43.97" cy="265.08" r="1.4" fill="#c6c6c6"/>
<circle cx="73.58" cy="236.84" r="1.4" fill="#c6c6c6"/>
<circle cx="104.78" cy="210.08" r="1.4" fill="#c6c6c6"/>
<circle cx="32.9" cy="275.42" r="1.4" fill="#c6c6c6"/>
<circle cx="80.16" cy="232.99" r="1.4" fill="#c6c6c6"/>
<circle cx="52.08" cy="257.62" r="1.4" fill="#c6c6c6"/>
<circle cx="75.6" cy="237.22" r="1.4" fill="#c6c6c6"/>
<circle cx="58.4" cy="251.61" r="1.4" fill="#c6c6c6"/>
<circle cx="91.9" cy="220" r="1.4" fill="#c6c6c6"/>
<circle cx="63.7" cy="247.41" r="1.4" fill="#c6c6c6"/>
<circle cx="81.03" cy="233.01" r="1.4" fill="#c6c6c6"/>
<circle cx="102.27" cy="211.47" r="1.4" fill="#c6c6c6"/>
<circle cx="63.38" cy="247.08" r="1.4" fill="#c6c6c6"/>
<circle cx="99.4" cy="214.22" r="1.4" fill="#c6c6c6"/>
<circle cx="73.44" cy="237.56" r="1.4" fill="#c6c6c6"/>
<circle cx="93.82" cy="218.94" r="1.4" fill="#c6c6c6"/>
<circle cx="87.89" cy="225.07" r="1.4" fill="#c6c6c6"/>
<circle cx="44.8" cy="264.59" r="1.4" fill="#c6c6c6"/>
<circle cx="62.27" cy="246.91" r="1.4" fill="#c6c6c6"/>
<circle cx="34.02" cy="274.57" r="1.4" fill="#c6c6c6"/>
<circle cx="42.49" cy="264.6" r="1.4" fill="#c6c6c6"/>
<circle cx="93.94" cy="217.96" r="1.4" fill="#c6c6c6"/>
<circle cx="101.48" cy="212.62" r="1.4" fill="#c6c6c6"/>
<circle cx="34.71" cy="272.93" r="1.4" fill="#c6c6c6"/>
<circle cx="45.56" cy="263.77" r="1.4" fill="#c6c6c6"/>
<circle cx="51.35" cy="257.25" r="1.4" fill="#c6c6c6"/>
<circle cx="83.02" cy="228.34" r="1.4" fill="#c6c6c6"/>
<circle cx="91.18" cy="222.05" r="1.4" fill="#c6c6c6"/>
<circle cx="48.05" cy="261.15" r="1.4" fill="#c6c6c6"/>
<circle cx="35.99" cy="270.53" r="1.4" fill="#c6c6c6"/>
<circle cx="35.34" cy="271.69" r="1.4" fill="#c6c6c6"/>
<circle cx="56.51" cy="253.27" r="1.4" fill="#c6c6c6"/>
<circle cx="87" cy="224.58" r="1.4" fill="#c6c6c6"/>
<circle cx="90.13" cy="222.88" r="1.4" fill="#c6c6c6"/>
<circle cx="38.01" cy="269.54" r="1.4" fill="#c6c6c6"/>
<circle cx="54.72" cy="255.46" r="1.4" fill="#c6c6c6"/>
<circle cx="33.03" cy="274.01" r="1.4" fill="#c6c6c6"/>
<circle cx="37.27" cy="270.54" r="1.4" fill="#c6c6c6"/>
<circle cx="77.05" cy="233.65" r="1.4" fill="#c6c6c6"/>
<circle cx="85.3" cy="226.8" r="1.4" fill="#c6c6c6"/>
<circle cx="70.52" cy="241.47" r="1.4" fill="#c6c6c6"/>
<circle cx="62.34" cy="248.9" r="1.4" fill="#c6c6c6"/>
<circle cx="92.25" cy="219.69" r="1.4" fill="#c6c6c6"/>
<circle cx="65.92" cy="243.47" r="1.4" fill="#c6c6c6"/>
<circle cx="41.95" cy="266.32" r="1.4" fill="#c6c6c6"/>
<circle cx="74.96" cy="234.18" r="1.4" fill="#c6c6c6"/>
<circle cx="63.33" cy="248.67" r="1.4" fill="#c6c6c6"/>
<circle cx="74.66" cy="236.57" r="1.4" fill="#c6c6c6"/>
<circle cx="43.43" cy="263.66" r="1.4" fill="#c6c6c6"/>
<circle cx="87.82" cy="225.11" r="1.4" fill="#c6c6c6"/>
<circle cx="81.36" cy="230.76" r="1.4" fill="#c6c6c6"/>
<circle cx="106.48" cy="208.01" r="1.4" fill="#c6c6c6"/>
<circle cx="81.62" cy="229.35" r="1.4" fill="#c6c6c6"/>
<circle cx="57.86" cy="250.63" r="1.4" fill="#c6c6c6"/>
<circle cx="34.7" cy="272.8" r="1.4" fill="#c6c6c6"/>
<circle cx="57.39" cy="252.84" r="1.4" fill="#c6c6c6"/>
<circle cx="36.24" cy="272.92" r="1.4" fill="#c6c6c6"/>
<circle cx="91.61" cy="221.15" r="1.4" fill="#c6c6c6"/>
<circle cx="104.16" cy="208.48" r="1.4" fill="#c6c6c6"/>
<circle cx="55.88" cy="254.66" r="1.4" fill="#c6c6c6"/>
<circle cx="102.72" cy="210.69" r="1.4" fill="#c6c6c6"/>
<circle cx="68.87" cy="241.12" r="1.4" fill="#c6c6c6"/>
<circle cx="53.42" cy="256.47" r="1.4" fill="#c6c6c6"/>
<circle cx="44.92" cy="264.06" r="1.4" fill="#c6c6c6"/>
<circle cx="33.19" cy="275.24" r="1.4" fill="#c6c6c6"/>
<circle cx="91.01" cy="221.27" r="1.4" fill="#c6c6c6"/>
<circle cx="45.61" cy="262.75" r="1.4" fill="#c6c6c6"/>
<circle cx="41.72" cy="265.52" r="1.4" fill="#c6c6c6"/>
<circle cx="93.19" cy="220.02" r="1.4" fill="#c6c6c6"/>
<circle cx="80.6" cy="231.19" r="1.4" fill="#c6c6c6"/>
<circle cx="108.45" cy="205.92" r="1.4" fill="#c6c6c6"/>
<circle cx="67.34" cy="242.25" r="1.4" fill="#c6c6c6"/>
<circle cx="103.85" cy="209.43" r="1.4" fill="#c6c6c6"/>
<circle cx="54.45" cy="255.15" r="1.4" fill="#c6c6c6"/>
<circle cx="90.27" cy="223.13" r="1.4" fill="#c6c6c6"/>
<circle cx="69" cy="241.25" r="1.4" fill="#c6c6c6"/>
<circle cx="34.51" cy="249.55" r="1.8" fill="#b02a22"/>
<circle cx="33.61" cy="244.3" r="1.8" fill="#c6c6c6"/>
<circle cx="33.61" cy="234.68" r="1.8" fill="#c6c6c6"/>
<circle cx="32.7" cy="260.05" r="1.8" fill="#c6c6c6"/>
<circle cx="34.51" cy="239.05" r="1.8" fill="#c6c6c6"/>
<circle cx="106.01" cy="208.43" r="1.8" fill="#4a8fd6"/>
<circle cx="130.44" cy="185.68" r="1.8" fill="#4a8fd6"/>
<circle cx="110.53" cy="200.03" r="1.8" fill="#b02a22"/>
<circle cx="91.53" cy="219.8" r="1.8" fill="#4a8fd6"/>
<circle cx="86.1" cy="227.68" r="1.8" fill="#4a8fd6"/>
<circle cx="32.7" cy="253.93" r="1.8" fill="#c6c6c6"/>
<circle cx="96.05" cy="215.43" r="1.8" fill="#c6c6c6"/>
<circle cx="100.58" cy="211.93" r="1.8" fill="#c6c6c6"/>
</g>
<rect x="28.8" y="181.6" width="106.2" height="97.8" fill="none" stroke="#231f20" stroke-width="1.35"/>
<line x1="26.3" y1="275.8" x2="28.8" y2="275.8" stroke="#231f20" stroke-width="1"/>
<text x="26.2" y="278.7" text-anchor="end" font-size="8">0</text>
<line x1="26.3" y1="258.3" x2="28.8" y2="258.3" stroke="#231f20" stroke-width="1"/>
<text x="26.2" y="261.2" text-anchor="end" font-size="8">1</text>
<line x1="26.3" y1="240.8" x2="28.8" y2="240.8" stroke="#231f20" stroke-width="1"/>
<text x="26.2" y="243.7" text-anchor="end" font-size="8">2</text>
<line x1="26.3" y1="223.3" x2="28.8" y2="223.3" stroke="#231f20" stroke-width="1"/>
<text x="26.2" y="226.2" text-anchor="end" font-size="8">3</text>
<line x1="26.3" y1="205.8" x2="28.8" y2="205.8" stroke="#231f20" stroke-width="1"/>
<text x="26.2" y="208.7" text-anchor="end" font-size="8">4</text>
<line x1="26.3" y1="188.3" x2="28.8" y2="188.3" stroke="#231f20" stroke-width="1"/>
<text x="26.2" y="191.2" text-anchor="end" font-size="8">5</text>
<line x1="32.7" y1="279.4" x2="32.7" y2="282" stroke="#231f20" stroke-width="1"/>
<text x="32.7" y="289.5" text-anchor="middle" font-size="8">0</text>
<line x1="68.9" y1="279.4" x2="68.9" y2="282" stroke="#231f20" stroke-width="1"/>
<text x="68.9" y="289.5" text-anchor="middle" font-size="8">2</text>
<line x1="105.1" y1="279.4" x2="105.1" y2="282" stroke="#231f20" stroke-width="1"/>
<text x="105.1" y="289.5" text-anchor="middle" font-size="8">4</text>
<text x="81.7" y="297.5" text-anchor="middle" font-size="11.2">WT</text>
<text x="20.03" y="230.5" text-anchor="middle" font-size="11.2" transform="rotate(-90 20.03 230.5)"><tspan font-style="italic">Aebp1</tspan> cKO</text>
<text x="107" y="190.5" font-size="7.3">Col1a1</text>
<text x="90" y="198" font-size="7.3">Col1a2</text>
<text x="73.6" y="210" font-size="7.3">Col12a1 Actb</text>
<text x="98.5" y="221.5" font-size="7.3">Bgn</text>
<text x="74.5" y="219.5" font-size="7.3">Col6a2</text>
<text x="50" y="220.5" font-size="7.3">Cxcl10</text>
<text x="62" y="227.5" font-size="7.3">Igfbp7</text>
<text x="90" y="229.5" font-size="7.3">Cpxm1</text>
<text x="50" y="236.5" font-size="7.3">Rnase4</text>
<text x="75.5" y="247" font-size="7.3">Cmss1</text>
<text x="32.8" y="244" fill="#d8322e" font-size="7.3">Cd274</text>
<text x="40" y="270" font-size="7.3">E2f1</text>
<text x="40" y="277.5" font-size="7.3">Slc2a10</text>
<line x1="122" y1="192" x2="114" y2="199" stroke="#231f20" stroke-width="0.9"/>
<line x1="105" y1="200" x2="100" y2="204" stroke="#231f20" stroke-width="0.9"/>
<line x1="86" y1="211" x2="88" y2="222" stroke="#231f20" stroke-width="0.9"/>
<line x1="96" y1="216" x2="90" y2="222" stroke="#231f20" stroke-width="0.9"/>
<line x1="70" y1="221" x2="76" y2="233" stroke="#231f20" stroke-width="0.9"/>
<line x1="77" y1="226" x2="82" y2="233" stroke="#231f20" stroke-width="0.9"/>
<line x1="65" y1="235" x2="72" y2="235" stroke="#231f20" stroke-width="0.9"/>
<line x1="40" y1="245" x2="34" y2="268" stroke="#231f20" stroke-width="0.9"/>
<line x1="43" y1="269" x2="38" y2="273" stroke="#231f20" stroke-width="0.9"/>
<line x1="165.3" y1="194.8" x2="165.3" y2="280.5" stroke="#231f20" stroke-width="1.1"/>
<line x1="165.3" y1="280.5" x2="218.5" y2="280.5" stroke="#231f20" stroke-width="1.1"/>
<line x1="162.8" y1="280.5" x2="165.3" y2="280.5" stroke="#231f20" stroke-width="1"/>
<text x="161.8" y="283.3" text-anchor="end" font-size="7.8">0</text>
<line x1="162.8" y1="251.9" x2="165.3" y2="251.9" stroke="#231f20" stroke-width="1"/>
<text x="161.8" y="254.7" text-anchor="end" font-size="7.8">1</text>
<line x1="162.8" y1="223.3" x2="165.3" y2="223.3" stroke="#231f20" stroke-width="1"/>
<text x="161.8" y="226.1" text-anchor="end" font-size="7.8">2</text>
<line x1="162.8" y1="194.7" x2="165.3" y2="194.7" stroke="#231f20" stroke-width="1"/>
<text x="161.8" y="197.5" text-anchor="end" font-size="7.8">3</text>
<line x1="180" y1="280.5" x2="180" y2="283" stroke="#231f20" stroke-width="1"/>
<line x1="203" y1="280.5" x2="203" y2="283" stroke="#231f20" stroke-width="1"/>
<text x="153.17" y="237.6" text-anchor="middle" font-size="10.2" transform="rotate(-90 153.17 237.6)"><tspan font-style="italic">Cd274</tspan> expression</text>
<line x1="180" y1="197.6" x2="203" y2="197.6" stroke="#231f20" stroke-width="1.3"/>
<text x="191.5" y="194.6" text-anchor="middle" font-size="7.3"><tspan font-style="italic">P</tspan> = 0.0014</text>
<line x1="180" y1="200" x2="180" y2="279" stroke="#4a6fd0" stroke-width="1.7"/>
<rect x="179.1" y="199" width="1.8" height="1.8" fill="#231f20"/>
<rect x="179.1" y="213" width="1.8" height="1.8" fill="#231f20"/>
<rect x="179.1" y="221" width="1.8" height="1.8" fill="#231f20"/>
<rect x="179.1" y="228" width="1.8" height="1.8" fill="#231f20"/>
<rect x="179.1" y="235" width="1.8" height="1.8" fill="#231f20"/>
<rect x="179.1" y="241" width="1.8" height="1.8" fill="#231f20"/>
<rect x="179.1" y="246" width="1.8" height="1.8" fill="#231f20"/>
<rect x="179.1" y="251" width="1.8" height="1.8" fill="#231f20"/>
<rect x="179.1" y="255" width="1.8" height="3.3" fill="#231f20"/>
<rect x="179.1" y="258" width="1.8" height="3.3" fill="#231f20"/>
<rect x="179.1" y="261" width="1.8" height="3.3" fill="#231f20"/>
<rect x="179.1" y="264" width="1.8" height="3.3" fill="#231f20"/>
<rect x="179.1" y="266" width="1.8" height="3.3" fill="#231f20"/>
<rect x="179.1" y="268" width="1.8" height="3.3" fill="#231f20"/>
<rect x="179.1" y="270" width="1.8" height="3.3" fill="#231f20"/>
<rect x="179.1" y="272" width="1.8" height="3.3" fill="#231f20"/>
<rect x="179.1" y="274" width="1.8" height="3.3" fill="#231f20"/>
<rect x="179.1" y="276" width="1.8" height="3.3" fill="#231f20"/>
<line x1="180" y1="262" x2="180" y2="279" stroke="#231f20" stroke-width="1.7"/>
<line x1="203" y1="211.5" x2="203" y2="279" stroke="#231f20" stroke-width="1.7"/>
<line x1="203" y1="212" x2="203" y2="216" stroke="#dd4444" stroke-width="1.7"/>
<line x1="203" y1="220" x2="203" y2="223" stroke="#dd4444" stroke-width="1.7"/>
<line x1="203" y1="227" x2="203" y2="231" stroke="#dd4444" stroke-width="1.7"/>
<line x1="203" y1="248" x2="203" y2="250" stroke="#dd4444" stroke-width="1.7"/>
<path d="M172.5 279.6 L180 275.3 L187.5 279.6" fill="none" stroke="#4a6fd0" stroke-width="1.2"/>
<rect x="172" y="279" width="16" height="1.8" fill="#231f20"/>
<path d="M195.5 279.6 L203 275.3 L210.5 279.6" fill="none" stroke="#dd4444" stroke-width="1.2"/>
<rect x="195" y="279" width="16" height="1.8" fill="#231f20"/>
<text x="182.5" y="290" text-anchor="end" transform="rotate(-33 182.5 290)">WT</text>
<text x="208" y="290.5" text-anchor="end" transform="rotate(-33 208 290.5)">AEBP1 cKO</text>
<defs><filter id="tex" x="0" y="0" width="100%" height="100%"><feTurbulence type="fractalNoise" baseFrequency="0.9" numOctaves="2" seed="4"/><feColorMatrix values="0 0 0 0 0.45  0 0 0 0 0.44  0 0 0 0 0.75  0 0 0 -2.2 1.2"/></filter><filter id="tex2" x="0" y="0" width="100%" height="100%"><feTurbulence type="fractalNoise" baseFrequency="0.7" numOctaves="1" seed="9"/><feColorMatrix values="0 0 0 0 0.95  0 0 0 0 0.94  0 0 0 0 0.98  0 0 0 -2.4 1.25"/></filter><filter id="bl2" x="-20%" y="-20%" width="140%" height="140%"><feGaussianBlur stdDeviation="1.6"/></filter><filter id="bl1" x="-20%" y="-20%" width="140%" height="140%"><feGaussianBlur stdDeviation="0.7"/></filter></defs>
<text x="217.5" y="166" font-weight="bold" font-size="14.2">C</text>
<text x="354.6" y="172.5" text-anchor="middle">COAD</text>
<path d="M221 177.5 H478" stroke="#1a1a1a" stroke-width="1.3" stroke-dasharray="1.1 1" shape-rendering="crispEdges"/>
<clipPath id="ci1"><rect x="233.1" y="196.6" width="50.9" height="42.1"/></clipPath>
<g clip-path="url(#ci1)">
<rect x="233.1" y="196.6" width="50.9" height="42.1" fill="#b6b4d8"/>
<g filter="url(#bl2)">
<path d="M251.1 194.6 L286 194.6 L286 228.6 L267.1 226.6 L255.1 214.6 Z" fill="#cac4dc"/>
<path d="M243.1 202.6 L257.1 206.6 L269.1 230.6 L255.1 228.6 Z" fill="#b8a8bc"/>
</g>
<g filter="url(#bl1)">
<path d="M248.1 199.6 L254.1 199.6 L255.1 204.6 L250.1 204.6 Z" fill="#f6f4fa"/>
<path d="M256.1 204.6 L260.1 205.6 L260.1 218.6 L257.1 214.6 Z" fill="#f0eef6"/>
<path d="M261.1 213.6 L282.1 210.6 L283.1 216.6 L267.1 218.6 Z" fill="#f2f0f6"/>
<path d="M271.1 200.6 L283.1 199.6 L283.1 204.6 L275.1 204.6 Z" fill="#e8e4f0"/>
</g>
<circle cx="235.1" cy="198.6" r="1.75" fill="#c8c8e8" stroke="#7c7cc0" stroke-width="0.8"/>
<circle cx="239.4" cy="198.6" r="1.75" fill="#c8c8e8" stroke="#7c7cc0" stroke-width="0.8"/>
<circle cx="243.7" cy="198.6" r="1.75" fill="#c8c8e8" stroke="#7c7cc0" stroke-width="0.8"/>
<circle cx="248" cy="198.6" r="1.75" fill="#c8c8e8" stroke="#7c7cc0" stroke-width="0.8"/>
<circle cx="237.25" cy="202.5" r="1.75" fill="#c8c8e8" stroke="#7c7cc0" stroke-width="0.8"/>
<circle cx="241.55" cy="202.5" r="1.75" fill="#c8c8e8" stroke="#7c7cc0" stroke-width="0.8"/>
<circle cx="245.85" cy="202.5" r="1.75" fill="#c8c8e8" stroke="#7c7cc0" stroke-width="0.8"/>
<circle cx="235.1" cy="206.4" r="1.75" fill="#c8c8e8" stroke="#7c7cc0" stroke-width="0.8"/>
<circle cx="239.4" cy="206.4" r="1.75" fill="#c8c8e8" stroke="#7c7cc0" stroke-width="0.8"/>
<circle cx="243.7" cy="206.4" r="1.75" fill="#c8c8e8" stroke="#7c7cc0" stroke-width="0.8"/>
<circle cx="248" cy="206.4" r="1.75" fill="#c8c8e8" stroke="#7c7cc0" stroke-width="0.8"/>
<circle cx="237.25" cy="210.3" r="1.75" fill="#c8c8e8" stroke="#7c7cc0" stroke-width="0.8"/>
<circle cx="241.55" cy="210.3" r="1.75" fill="#c8c8e8" stroke="#7c7cc0" stroke-width="0.8"/>
<circle cx="245.85" cy="210.3" r="1.75" fill="#c8c8e8" stroke="#7c7cc0" stroke-width="0.8"/>
<circle cx="235.1" cy="214.2" r="1.75" fill="#c8c8e8" stroke="#7c7cc0" stroke-width="0.8"/>
<circle cx="239.4" cy="214.2" r="1.75" fill="#c8c8e8" stroke="#7c7cc0" stroke-width="0.8"/>
<circle cx="243.7" cy="214.2" r="1.75" fill="#c8c8e8" stroke="#7c7cc0" stroke-width="0.8"/>
<circle cx="248" cy="214.2" r="1.75" fill="#c8c8e8" stroke="#7c7cc0" stroke-width="0.8"/>
<circle cx="252.3" cy="214.2" r="1.75" fill="#c8c8e8" stroke="#7c7cc0" stroke-width="0.8"/>
<circle cx="237.25" cy="218.1" r="1.75" fill="#c8c8e8" stroke="#7c7cc0" stroke-width="0.8"/>
<circle cx="241.55" cy="218.1" r="1.75" fill="#c8c8e8" stroke="#7c7cc0" stroke-width="0.8"/>
<circle cx="245.85" cy="218.1" r="1.75" fill="#c8c8e8" stroke="#7c7cc0" stroke-width="0.8"/>
<circle cx="250.15" cy="218.1" r="1.75" fill="#c8c8e8" stroke="#7c7cc0" stroke-width="0.8"/>
<circle cx="254.45" cy="218.1" r="1.75" fill="#c8c8e8" stroke="#7c7cc0" stroke-width="0.8"/>
<circle cx="235.1" cy="222" r="1.75" fill="#c8c8e8" stroke="#7c7cc0" stroke-width="0.8"/>
<circle cx="239.4" cy="222" r="1.75" fill="#c8c8e8" stroke="#7c7cc0" stroke-width="0.8"/>
<circle cx="243.7" cy="222" r="1.75" fill="#c8c8e8" stroke="#7c7cc0" stroke-width="0.8"/>
<circle cx="248" cy="222" r="1.75" fill="#c8c8e8" stroke="#7c7cc0" stroke-width="0.8"/>
<circle cx="252.3" cy="222" r="1.75" fill="#c8c8e8" stroke="#7c7cc0" stroke-width="0.8"/>
<circle cx="237.25" cy="225.9" r="1.75" fill="#c8c8e8" stroke="#7c7cc0" stroke-width="0.8"/>
<circle cx="241.55" cy="225.9" r="1.75" fill="#c8c8e8" stroke="#7c7cc0" stroke-width="0.8"/>
<circle cx="245.85" cy="225.9" r="1.75" fill="#c8c8e8" stroke="#7c7cc0" stroke-width="0.8"/>
<circle cx="250.15" cy="225.9" r="1.75" fill="#c8c8e8" stroke="#7c7cc0" stroke-width="0.8"/>
<circle cx="254.45" cy="225.9" r="1.75" fill="#c8c8e8" stroke="#7c7cc0" stroke-width="0.8"/>
<circle cx="258.75" cy="225.9" r="1.75" fill="#c8c8e8" stroke="#7c7cc0" stroke-width="0.8"/>
<circle cx="263.05" cy="225.9" r="1.75" fill="#c8c8e8" stroke="#7c7cc0" stroke-width="0.8"/>
<circle cx="267.35" cy="225.9" r="1.75" fill="#c8c8e8" stroke="#7c7cc0" stroke-width="0.8"/>
<circle cx="235.1" cy="229.8" r="1.75" fill="#c8c8e8" stroke="#7c7cc0" stroke-width="0.8"/>
<circle cx="239.4" cy="229.8" r="1.75" fill="#c8c8e8" stroke="#7c7cc0" stroke-width="0.8"/>
<circle cx="243.7" cy="229.8" r="1.75" fill="#c8c8e8" stroke="#7c7cc0" stroke-width="0.8"/>
<circle cx="248" cy="229.8" r="1.75" fill="#c8c8e8" stroke="#7c7cc0" stroke-width="0.8"/>
<circle cx="252.3" cy="229.8" r="1.75" fill="#c8c8e8" stroke="#7c7cc0" stroke-width="0.8"/>
<circle cx="256.6" cy="229.8" r="1.75" fill="#c8c8e8" stroke="#7c7cc0" stroke-width="0.8"/>
<circle cx="260.9" cy="229.8" r="1.75" fill="#c8c8e8" stroke="#7c7cc0" stroke-width="0.8"/>
<circle cx="265.2" cy="229.8" r="1.75" fill="#c8c8e8" stroke="#7c7cc0" stroke-width="0.8"/>
<circle cx="237.25" cy="233.7" r="1.75" fill="#c8c8e8" stroke="#7c7cc0" stroke-width="0.8"/>
<circle cx="241.55" cy="233.7" r="1.75" fill="#c8c8e8" stroke="#7c7cc0" stroke-width="0.8"/>
<circle cx="245.85" cy="233.7" r="1.75" fill="#c8c8e8" stroke="#7c7cc0" stroke-width="0.8"/>
<circle cx="250.15" cy="233.7" r="1.75" fill="#c8c8e8" stroke="#7c7cc0" stroke-width="0.8"/>
<circle cx="254.45" cy="233.7" r="1.75" fill="#c8c8e8" stroke="#7c7cc0" stroke-width="0.8"/>
<circle cx="258.75" cy="233.7" r="1.75" fill="#c8c8e8" stroke="#7c7cc0" stroke-width="0.8"/>
<circle cx="263.05" cy="233.7" r="1.75" fill="#c8c8e8" stroke="#7c7cc0" stroke-width="0.8"/>
<circle cx="267.35" cy="233.7" r="1.75" fill="#c8c8e8" stroke="#7c7cc0" stroke-width="0.8"/>
<circle cx="235.1" cy="237.6" r="1.75" fill="#c8c8e8" stroke="#7c7cc0" stroke-width="0.8"/>
<circle cx="239.4" cy="237.6" r="1.75" fill="#c8c8e8" stroke="#7c7cc0" stroke-width="0.8"/>
<circle cx="243.7" cy="237.6" r="1.75" fill="#c8c8e8" stroke="#7c7cc0" stroke-width="0.8"/>
<circle cx="248" cy="237.6" r="1.75" fill="#c8c8e8" stroke="#7c7cc0" stroke-width="0.8"/>
<circle cx="252.3" cy="237.6" r="1.75" fill="#c8c8e8" stroke="#7c7cc0" stroke-width="0.8"/>
<circle cx="256.6" cy="237.6" r="1.75" fill="#c8c8e8" stroke="#7c7cc0" stroke-width="0.8"/>
<circle cx="260.9" cy="237.6" r="1.75" fill="#c8c8e8" stroke="#7c7cc0" stroke-width="0.8"/>
<circle cx="265.2" cy="237.6" r="1.75" fill="#c8c8e8" stroke="#7c7cc0" stroke-width="0.8"/>
<rect x="233.1" y="196.6" width="50.9" height="42.1" filter="url(#tex)" opacity="0.5"/>
<rect x="233.1" y="196.6" width="50.9" height="42.1" filter="url(#tex2)" opacity="0.45"/>
<line x1="272" y1="233.1" x2="282" y2="233.1" stroke="#333" stroke-width="0.6"/>
<text x="276" y="237.5" text-anchor="middle" fill="#222" font-size="4">200 μm</text>
</g>
<rect x="233.1" y="196.6" width="50.9" height="42.1" fill="none" stroke="#5e5e5e" stroke-width="1"/>
<clipPath id="ci2"><rect x="286.2" y="196.6" width="50.3" height="42.1"/></clipPath>
<g clip-path="url(#ci2)">
<rect x="286.2" y="196.6" width="50.3" height="42.1" fill="#b8b8dc"/>
<g filter="url(#bl2)">
<ellipse cx="292.2" cy="221.6" rx="8" ry="9" fill="#8c8ccc"/>
<ellipse cx="308.2" cy="230.6" rx="7" ry="6" fill="#8484c8"/>
<ellipse cx="324.2" cy="224.6" rx="7" ry="6" fill="#9494d0"/>
<ellipse cx="290.2" cy="234.6" rx="6" ry="5" fill="#8888c8"/>
<ellipse cx="300.2" cy="236.6" rx="6" ry="3" fill="#8a8aca"/>
</g>
<ellipse cx="309.2" cy="225.6" rx="3" ry="1.4" fill="#eceaf6"/>
<ellipse cx="289.2" cy="218.6" rx="2" ry="1.2" fill="#eceaf6"/>
<ellipse cx="300.2" cy="236.6" rx="1.6" ry="1.8" fill="#eceaf6"/>
<rect x="286.2" y="196.6" width="50.3" height="42.1" filter="url(#tex)" opacity="0.5"/>
<rect x="286.2" y="196.6" width="50.3" height="42.1" filter="url(#tex2)" opacity="0.45"/>
<line x1="324.5" y1="233.1" x2="334.5" y2="233.1" stroke="#333" stroke-width="0.6"/>
<text x="328.5" y="237.5" text-anchor="middle" fill="#222" font-size="4">200 μm</text>
</g>
<rect x="286.2" y="196.6" width="50.3" height="42.1" fill="none" stroke="#5e5e5e" stroke-width="1"/>
<clipPath id="ci3"><rect x="233.1" y="239.2" width="50.9" height="41.5"/></clipPath>
<g clip-path="url(#ci3)">
<rect x="233.1" y="239.2" width="50.9" height="41.5" fill="#b8b0cc"/>
<g filter="url(#bl2)">
<path d="M231.1 239.2 L247.1 245.2 L286 277.2 L231.1 255.2 Z" fill="#bca8b4"/>
</g>
<g filter="url(#bl1)">
<path d="M264.1 249.2 L273.1 247.2 L280.1 244.2 L279.1 255.2 L275.1 262.2 L267.1 256.2 Z" fill="#f2f0f6"/>
<rect x="235.1" y="265.2" width="2.2" height="14" fill="#9890c4"/>
<rect x="240.1" y="266.4" width="2.2" height="14" fill="#9890c4"/>
<rect x="245.1" y="267.6" width="2.2" height="14" fill="#9890c4"/>
<rect x="250.1" y="268.8" width="2.2" height="14" fill="#9890c4"/>
<rect x="255.1" y="270" width="2.2" height="14" fill="#9890c4"/>
<rect x="260.1" y="271.2" width="2.2" height="14" fill="#9890c4"/>
<ellipse cx="265.1" cy="272.2" rx="2" ry="3" fill="#eeeaf4"/>
</g>
<rect x="233.1" y="239.2" width="50.9" height="41.5" filter="url(#tex)" opacity="0.5"/>
<rect x="233.1" y="239.2" width="50.9" height="41.5" filter="url(#tex2)" opacity="0.45"/>
<line x1="272" y1="275.1" x2="282" y2="275.1" stroke="#333" stroke-width="0.6"/>
<text x="276" y="279.5" text-anchor="middle" fill="#222" font-size="4">200 μm</text>
</g>
<rect x="233.1" y="239.2" width="50.9" height="41.5" fill="none" stroke="#5e5e5e" stroke-width="1"/>
<clipPath id="ci4"><rect x="286.2" y="239.2" width="50.3" height="41.5"/></clipPath>
<g clip-path="url(#ci4)">
<rect x="286.2" y="239.2" width="50.3" height="41.5" fill="#c2c2e0"/>
<g filter="url(#bl2)">
<ellipse cx="294.2" cy="253.2" rx="5" ry="4" fill="#9a98cc"/>
<ellipse cx="300.2" cy="261.2" rx="6" ry="5" fill="#8e8cc8"/>
<ellipse cx="310.2" cy="265.2" rx="5" ry="4" fill="#9e9cd0"/>
<ellipse cx="306.2" cy="271.2" rx="4" ry="3" fill="#a09ed2"/>
</g>
<rect x="286.2" y="239.2" width="50.3" height="41.5" filter="url(#tex)" opacity="0.5"/>
<rect x="286.2" y="239.2" width="50.3" height="41.5" filter="url(#tex2)" opacity="0.45"/>
<line x1="324.5" y1="275.1" x2="334.5" y2="275.1" stroke="#333" stroke-width="0.6"/>
<text x="328.5" y="279.5" text-anchor="middle" fill="#222" font-size="4">200 μm</text>
</g>
<rect x="286.2" y="239.2" width="50.3" height="41.5" fill="none" stroke="#5e5e5e" stroke-width="1"/>
<text x="238.3" y="193.8">AEBP1<tspan font-size="6" dy="-3.5">high</tspan></text>
<text x="289.5" y="193.8">AEBP1<tspan font-size="6" dy="-3.5">low</tspan></text>
<text x="229.8" y="217.6" text-anchor="middle" transform="rotate(-90 229.8 217.6)">AEBP1</text>
<text x="229.8" y="260" text-anchor="middle" transform="rotate(-90 229.8 260)">PD-L1</text>
<line x1="365.7" y1="197" x2="365.7" y2="271.7" stroke="#231f20" stroke-width="1.2"/>
<line x1="365.2" y1="271.2" x2="476.8" y2="271.2" stroke="#231f20" stroke-width="1.2"/>
<line x1="362.9" y1="271.2" x2="365.7" y2="271.2" stroke="#231f20" stroke-width="1.1"/>
<text x="361.7" y="273.9" text-anchor="end" font-size="7.6">0</text>
<line x1="362.9" y1="256.36" x2="365.7" y2="256.36" stroke="#231f20" stroke-width="1.1"/>
<text x="361.7" y="259.06" text-anchor="end" font-size="7.6">1</text>
<line x1="362.9" y1="241.52" x2="365.7" y2="241.52" stroke="#231f20" stroke-width="1.1"/>
<text x="361.7" y="244.22" text-anchor="end" font-size="7.6">2</text>
<line x1="362.9" y1="226.68" x2="365.7" y2="226.68" stroke="#231f20" stroke-width="1.1"/>
<text x="361.7" y="229.38" text-anchor="end" font-size="7.6">3</text>
<line x1="362.9" y1="211.84" x2="365.7" y2="211.84" stroke="#231f20" stroke-width="1.1"/>
<text x="361.7" y="214.54" text-anchor="end" font-size="7.6">4</text>
<line x1="362.9" y1="197" x2="365.7" y2="197" stroke="#231f20" stroke-width="1.1"/>
<text x="361.7" y="199.7" text-anchor="end" font-size="7.6">5</text>
<line x1="365.7" y1="271.2" x2="365.7" y2="274" stroke="#231f20" stroke-width="1.1"/>
<text x="365.7" y="281.4" text-anchor="middle" font-size="7.6">0</text>
<line x1="387.9" y1="271.2" x2="387.9" y2="274" stroke="#231f20" stroke-width="1.1"/>
<text x="387.9" y="281.4" text-anchor="middle" font-size="7.6">2</text>
<line x1="410.1" y1="271.2" x2="410.1" y2="274" stroke="#231f20" stroke-width="1.1"/>
<text x="410.1" y="281.4" text-anchor="middle" font-size="7.6">4</text>
<line x1="432.3" y1="271.2" x2="432.3" y2="274" stroke="#231f20" stroke-width="1.1"/>
<text x="432.3" y="281.4" text-anchor="middle" font-size="7.6">6</text>
<line x1="454.5" y1="271.2" x2="454.5" y2="274" stroke="#231f20" stroke-width="1.1"/>
<text x="454.5" y="281.4" text-anchor="middle" font-size="7.6">8</text>
<line x1="476.7" y1="271.2" x2="476.7" y2="274" stroke="#231f20" stroke-width="1.1"/>
<text x="476.7" y="281.4" text-anchor="middle" font-size="7.6">10</text>
<text x="421.8" y="294.5" text-anchor="middle" font-size="10.1">AEBP1 score</text>
<text x="351.34" y="234" text-anchor="middle" font-size="10.1" transform="rotate(-90 351.34 234)">Stroma PD-L1 score</text>
<text x="477.9" y="206.5" text-anchor="end" font-size="7.2">n = 126</text>
<text x="477.9" y="215" text-anchor="end" font-size="7.2">r = 0.2270</text>
<text x="477.9" y="223.9" text-anchor="end" font-size="7.2"><tspan font-style="italic">P</tspan> = 0.0106</text>
<circle cx="365.7" cy="271.2" r="1.75" fill="#2f4fb4"/>
<circle cx="365.7" cy="268.23" r="1.75" fill="#2f4fb4"/>
<circle cx="365.7" cy="265.26" r="1.75" fill="#2f4fb4"/>
<circle cx="365.7" cy="262.3" r="1.75" fill="#2f4fb4"/>
<circle cx="365.7" cy="259.33" r="1.75" fill="#2f4fb4"/>
<circle cx="365.7" cy="256.36" r="1.75" fill="#2f4fb4"/>
<circle cx="365.7" cy="253.39" r="1.75" fill="#2f4fb4"/>
<circle cx="365.7" cy="250.42" r="1.75" fill="#2f4fb4"/>
<circle cx="365.7" cy="241.52" r="1.75" fill="#2f4fb4"/>
<circle cx="365.7" cy="238.55" r="1.75" fill="#2f4fb4"/>
<circle cx="365.7" cy="232.62" r="1.75" fill="#2f4fb4"/>
<circle cx="365.7" cy="229.65" r="1.75" fill="#2f4fb4"/>
<circle cx="365.7" cy="226.68" r="1.75" fill="#2f4fb4"/>
<circle cx="365.7" cy="214.81" r="1.75" fill="#2f4fb4"/>
<circle cx="365.7" cy="211.84" r="1.75" fill="#2f4fb4"/>
<circle cx="367.92" cy="271.2" r="1.75" fill="#2f4fb4"/>
<circle cx="367.92" cy="268.23" r="1.75" fill="#2f4fb4"/>
<circle cx="367.92" cy="259.33" r="1.75" fill="#2f4fb4"/>
<circle cx="367.92" cy="253.39" r="1.75" fill="#2f4fb4"/>
<circle cx="367.92" cy="211.84" r="1.75" fill="#2f4fb4"/>
<circle cx="370.14" cy="271.2" r="1.75" fill="#2f4fb4"/>
<circle cx="370.14" cy="268.23" r="1.75" fill="#2f4fb4"/>
<circle cx="370.14" cy="262.3" r="1.75" fill="#2f4fb4"/>
<circle cx="370.14" cy="259.33" r="1.75" fill="#2f4fb4"/>
<circle cx="370.14" cy="256.36" r="1.75" fill="#2f4fb4"/>
<circle cx="370.14" cy="241.52" r="1.75" fill="#2f4fb4"/>
<circle cx="370.14" cy="238.55" r="1.75" fill="#2f4fb4"/>
<circle cx="370.14" cy="235.58" r="1.75" fill="#2f4fb4"/>
<circle cx="370.14" cy="232.62" r="1.75" fill="#2f4fb4"/>
<circle cx="370.14" cy="229.65" r="1.75" fill="#2f4fb4"/>
<circle cx="370.14" cy="217.78" r="1.75" fill="#2f4fb4"/>
<circle cx="370.14" cy="211.84" r="1.75" fill="#2f4fb4"/>
<circle cx="372.36" cy="271.2" r="1.75" fill="#2f4fb4"/>
<circle cx="372.36" cy="268.23" r="1.75" fill="#2f4fb4"/>
<circle cx="372.36" cy="262.3" r="1.75" fill="#2f4fb4"/>
<circle cx="372.36" cy="259.33" r="1.75" fill="#2f4fb4"/>
<circle cx="374.58" cy="271.2" r="1.75" fill="#2f4fb4"/>
<circle cx="374.58" cy="259.33" r="1.75" fill="#2f4fb4"/>
<circle cx="374.58" cy="253.39" r="1.75" fill="#2f4fb4"/>
<circle cx="374.58" cy="244.49" r="1.75" fill="#2f4fb4"/>
<circle cx="374.58" cy="235.58" r="1.75" fill="#2f4fb4"/>
<circle cx="376.8" cy="268.23" r="1.75" fill="#2f4fb4"/>
<circle cx="376.8" cy="259.33" r="1.75" fill="#2f4fb4"/>
<circle cx="379.02" cy="268.23" r="1.75" fill="#2f4fb4"/>
<circle cx="379.02" cy="259.33" r="1.75" fill="#2f4fb4"/>
<circle cx="379.02" cy="244.49" r="1.75" fill="#2f4fb4"/>
<circle cx="381.24" cy="271.2" r="1.75" fill="#2f4fb4"/>
<circle cx="381.24" cy="262.3" r="1.75" fill="#2f4fb4"/>
<circle cx="383.46" cy="268.23" r="1.75" fill="#2f4fb4"/>
<circle cx="383.46" cy="253.39" r="1.75" fill="#2f4fb4"/>
<circle cx="383.46" cy="223.71" r="1.75" fill="#2f4fb4"/>
<circle cx="383.46" cy="217.78" r="1.75" fill="#2f4fb4"/>
<circle cx="385.68" cy="268.23" r="1.75" fill="#2f4fb4"/>
<circle cx="385.68" cy="265.26" r="1.75" fill="#2f4fb4"/>
<circle cx="385.68" cy="259.33" r="1.75" fill="#2f4fb4"/>
<circle cx="385.68" cy="232.62" r="1.75" fill="#2f4fb4"/>
<circle cx="385.68" cy="211.84" r="1.75" fill="#2f4fb4"/>
<circle cx="387.9" cy="256.36" r="1.75" fill="#2f4fb4"/>
<circle cx="387.9" cy="241.52" r="1.75" fill="#2f4fb4"/>
<circle cx="387.9" cy="214.81" r="1.75" fill="#2f4fb4"/>
<circle cx="392.34" cy="253.39" r="1.75" fill="#2f4fb4"/>
<circle cx="392.34" cy="232.62" r="1.75" fill="#2f4fb4"/>
<circle cx="392.34" cy="226.68" r="1.75" fill="#2f4fb4"/>
<circle cx="392.34" cy="223.71" r="1.75" fill="#2f4fb4"/>
<circle cx="394.56" cy="223.71" r="1.75" fill="#2f4fb4"/>
<circle cx="401.22" cy="271.2" r="1.75" fill="#2f4fb4"/>
<circle cx="401.22" cy="223.71" r="1.75" fill="#2f4fb4"/>
<circle cx="405.66" cy="247.46" r="1.75" fill="#2f4fb4"/>
<circle cx="410.1" cy="250.42" r="1.75" fill="#2f4fb4"/>
<circle cx="410.1" cy="244.49" r="1.75" fill="#2f4fb4"/>
<circle cx="412.32" cy="268.23" r="1.75" fill="#2f4fb4"/>
<circle cx="412.32" cy="211.84" r="1.75" fill="#2f4fb4"/>
<circle cx="416.76" cy="214.81" r="1.75" fill="#2f4fb4"/>
<circle cx="421.2" cy="244.49" r="1.75" fill="#2f4fb4"/>
<circle cx="441.18" cy="256.36" r="1.75" fill="#2f4fb4"/>
<circle cx="445.62" cy="250.42" r="1.75" fill="#2f4fb4"/>
<circle cx="465.6" cy="235.58" r="1.75" fill="#2f4fb4"/>
<line x1="365.7" y1="252.65" x2="466.71" y2="231.87" stroke="#2f4fb4" stroke-width="1.1"/>
<text x="478" y="165.9" font-weight="bold" font-size="14.2">D</text>
<text x="587.7" y="173" text-anchor="middle">MC38 tumor</text>
<path d="M498 177.5 H685" stroke="#1a1a1a" stroke-width="1.3" stroke-dasharray="1.1 1" shape-rendering="crispEdges"/>
<path d="M499.1 275.79 L499.8 275.63 L500.5 275.49 L501.2 275.31 L501.9 275.15 L502.6 274.95 L503.3 274.76 L504 274.51 L504.7 274.25 L505.4 273.95 L506.1 273.59 L506.8 273.19 L507.5 272.71 L508.2 272.19 L508.9 271.65 L509.6 270.92 L510.3 270.09 L511 269.04 L511.7 267.97 L512.4 266.66 L513.1 265.15 L513.8 263.55 L514.5 261.66 L515.2 259.67 L515.9 257.08 L516.6 254.6 L517.3 251.54 L518 248.58 L518.7 244.94 L519.4 241.28 L520.1 237.32 L520.8 234.11 L521.5 230 L522.2 226.01 L522.9 220.93 L523.6 216.2 L524.3 212.29 L525 208.18 L525.7 205.72 L526.4 201.84 L527.1 199.41 L527.8 196.63 L528.5 193.62 L529.2 191.01 L529.9 189.28 L530.6 189.79 L531.3 190.91 L532 192.14 L532.7 193.39 L533.4 195.6 L534.1 197.5 L534.8 201.28 L535.5 203.76 L536.2 207.97 L536.9 210.77 L537.6 214.75 L538.3 219.01 L539 224.52 L539.7 229.41 L540.4 233.66 L541.1 237.74 L541.8 241.66 L542.5 245.43 L543.2 249.03 L543.9 252.62 L544.6 255.86 L545.3 258.81 L546 261.35 L546.7 263.82 L547.4 265.81 L548.1 267.74 L548.8 269.39 L549.5 270.84 L550.2 272.04 L550.9 273.04 L551.6 273.89 L552.3 274.58 L553 275.18 L553.7 275.66 L554.4 276.04 L555.1 276.36 L555.8 276.62 L556.5 276.82 L557.2 276.98 L557.9 277.11 L558.6 277.2 L559.3 277.28 L560 277.34 L560.7 277.38 L561.4 277.41 L562.1 277.44 L562.8 277.45 L563.5 277.47 L564.2 277.48 L564.9 277.48 L565.6 277.49 L566.3 277.49 L567 277.49 L567.7 277.5 L568.4 277.5 L569.1 277.5 L569.8 277.5 L570.5 277.5 L571.2 277.5 L571.9 277.5 L572.6 277.5 L573.3 277.5 L574 277.5 L574.7 277.5 L575.4 277.5 L576.1 277.5 L576.8 277.5 L577.5 277.5 L578.2 277.5 L578.9 277.5 L579.6 277.5 L580.3 277.5 L581 277.5 L581.7 277.5 L582.4 277.5 L583.1 277.5 L583.8 277.5 L584.5 277.5 L585.2 277.5 L585.9 277.5 L586.6 277.5 L587.3 277.5 L588 277.5 L588.7 277.5 L589.4 277.5 L590.1 277.5 L590.8 277.5 L591.5 277.5" fill="none" stroke="#d43a3a" stroke-width="1.5"/>
<path d="M499.1 275.93 L499.8 275.81 L500.5 275.74 L501.2 275.6 L501.9 275.53 L502.6 275.33 L503.3 275.18 L504 274.95 L504.7 274.83 L505.4 274.67 L506.1 274.54 L506.8 274.38 L507.5 274.2 L508.2 274.04 L508.9 273.82 L509.6 273.57 L510.3 273.27 L511 273 L511.7 272.62 L512.4 272.28 L513.1 271.9 L513.8 271.58 L514.5 271.12 L515.2 270.55 L515.9 269.94 L516.6 268.98 L517.3 268.06 L518 267 L518.7 265.99 L519.4 264.42 L520.1 262.96 L520.8 261.46 L521.5 259.48 L522.2 257.6 L522.9 255.21 L523.6 253.09 L524.3 249.31 L525 246.39 L525.7 244.14 L526.4 241.36 L527.1 237.69 L527.8 233.14 L528.5 229.4 L529.2 225.12 L529.9 220.8 L530.6 217.4 L531.3 212.89 L532 208.35 L532.7 204.45 L533.4 202.43 L534.1 200.07 L534.8 197.16 L535.5 195.5 L536.2 194.82 L536.9 193.17 L537.6 191.7 L538.3 191.47 L539 192.63 L539.7 193.64 L540.4 195.03 L541.1 198.98 L541.8 200.3 L542.5 203.35 L543.2 206.22 L543.9 210.71 L544.6 214.85 L545.3 218.71 L546 223.2 L546.7 226.8 L547.4 231.17 L548.1 235.48 L548.8 239.91 L549.5 244.6 L550.2 249.08 L550.9 252.97 L551.6 256.34 L552.3 259.21 L553 261.78 L553.7 263.78 L554.4 265.85 L555.1 268.06 L555.8 269.56 L556.5 270.97 L557.2 272.02 L557.9 273.14 L558.6 274.07 L559.3 274.82 L560 275.41 L560.7 275.8 L561.4 276.16 L562.1 276.46 L562.8 276.7 L563.5 276.89 L564.2 277.04 L564.9 277.15 L565.6 277.24 L566.3 277.31 L567 277.36 L567.7 277.4 L568.4 277.43 L569.1 277.45 L569.8 277.46 L570.5 277.47 L571.2 277.48 L571.9 277.49 L572.6 277.49 L573.3 277.49 L574 277.5 L574.7 277.5 L575.4 277.5 L576.1 277.5 L576.8 277.5 L577.5 277.5 L578.2 277.5 L578.9 277.5 L579.6 277.5 L580.3 277.5 L581 277.5 L581.7 277.5 L582.4 277.5 L583.1 277.5 L583.8 277.5 L584.5 277.5 L585.2 277.5 L585.9 277.5 L586.6 277.5 L587.3 277.5 L588 277.5 L588.7 277.5 L589.4 277.5 L590.1 277.5 L590.8 277.5 L591.5 277.5" fill="none" stroke="#3a5fc8" stroke-width="1.5"/>
<rect x="498.1" y="185.6" width="94.7" height="91.9" fill="none" stroke="#231f20" stroke-width="1.1"/>
<line x1="495.6" y1="189.3" x2="498.1" y2="189.3" stroke="#231f20" stroke-width="1"/>
<text x="495.1" y="191.8" text-anchor="end" font-size="7">100</text>
<line x1="495.6" y1="207.3" x2="498.1" y2="207.3" stroke="#231f20" stroke-width="1"/>
<text x="495.1" y="209.8" text-anchor="end" font-size="7">80</text>
<line x1="495.6" y1="225" x2="498.1" y2="225" stroke="#231f20" stroke-width="1"/>
<text x="495.1" y="227.5" text-anchor="end" font-size="7">60</text>
<line x1="495.6" y1="242.6" x2="498.1" y2="242.6" stroke="#231f20" stroke-width="1"/>
<text x="495.1" y="245.1" text-anchor="end" font-size="7">40</text>
<line x1="495.6" y1="260.3" x2="498.1" y2="260.3" stroke="#231f20" stroke-width="1"/>
<text x="495.1" y="262.8" text-anchor="end" font-size="7">20</text>
<line x1="495.6" y1="277.5" x2="498.1" y2="277.5" stroke="#231f20" stroke-width="1"/>
<text x="495.1" y="280" text-anchor="end" font-size="7">0</text>
<text x="509.6" y="286.7" font-size="7" text-anchor="middle">10<tspan font-size="4.34" dy="-2.5">1</tspan></text>
<text x="527.2" y="286.7" font-size="7" text-anchor="middle">10<tspan font-size="4.34" dy="-2.5">2</tspan></text>
<text x="545.8" y="286.7" font-size="7" text-anchor="middle">10<tspan font-size="4.34" dy="-2.5">3</tspan></text>
<text x="565" y="286.7" font-size="7" text-anchor="middle">10<tspan font-size="4.34" dy="-2.5">4</tspan></text>
<text x="584.3" y="286.7" font-size="7" text-anchor="middle">10<tspan font-size="4.34" dy="-2.5">5</tspan></text>
<path d="M498.1 278.5 H592.8" stroke="#231f20" stroke-width="2" stroke-dasharray="0.6 2.2"/>
<path d="M497.1 189.6 V277.5" stroke="#231f20" stroke-width="2" stroke-dasharray="0.6 3.8"/>
<line x1="498.1" y1="294.2" x2="560.5" y2="294.2" stroke="#231f20" stroke-width="1.2"/>
<path d="M563.5 294.2 L558 291.6 L558 296.8 Z" fill="#231f20"/>
<text x="565.3" y="297.9" font-size="10.2">PD-L1</text>
<line x1="624.5" y1="190.1" x2="624.5" y2="278.8" stroke="#231f20" stroke-width="1.2"/>
<line x1="624" y1="278.3" x2="681.3" y2="278.3" stroke="#231f20" stroke-width="1.2"/>
<line x1="621.7" y1="278.3" x2="624.5" y2="278.3" stroke="#231f20" stroke-width="1.1"/>
<text x="620.9" y="280.7" text-anchor="end" font-size="6.8">0.0</text>
<line x1="621.7" y1="248.9" x2="624.5" y2="248.9" stroke="#231f20" stroke-width="1.1"/>
<text x="620.9" y="251.3" text-anchor="end" font-size="6.8">0.5</text>
<line x1="621.7" y1="219.5" x2="624.5" y2="219.5" stroke="#231f20" stroke-width="1.1"/>
<text x="620.9" y="221.9" text-anchor="end" font-size="6.8">1.0</text>
<line x1="621.7" y1="190.1" x2="624.5" y2="190.1" stroke="#231f20" stroke-width="1.1"/>
<text x="620.9" y="192.5" text-anchor="end" font-size="6.8">1.5</text>
<text x="607.3" y="234.5" text-anchor="middle" transform="rotate(-90 607.3 234.5)">Relative PD-L1 MFI</text>
<path d="M632.8 278.3 L632.8 221.26 L649.8 221.26 L649.8 278.3" fill="none" stroke="#3a5fc8" stroke-width="1.4"/>
<line x1="641.3" y1="278.3" x2="641.3" y2="281.1" stroke="#231f20" stroke-width="1.1"/>
<line x1="641.3" y1="219.5" x2="641.3" y2="223.03" stroke="#3a5fc8" stroke-width="1.3"/>
<line x1="637.3" y1="219.5" x2="645.3" y2="219.5" stroke="#3a5fc8" stroke-width="1.3"/>
<line x1="637.3" y1="223.03" x2="645.3" y2="223.03" stroke="#3a5fc8" stroke-width="1.3"/>
<line x1="632.8" y1="221.26" x2="649.8" y2="221.26" stroke="#3a5fc8" stroke-width="1.4"/>
<circle cx="636.3" cy="218.32" r="1.9" fill="#3a5fc8"/>
<circle cx="641.3" cy="217.74" r="1.9" fill="#3a5fc8"/>
<circle cx="646.3" cy="218.32" r="1.9" fill="#3a5fc8"/>
<circle cx="639.3" cy="221.26" r="1.9" fill="#3a5fc8"/>
<circle cx="641.3" cy="223.62" r="1.9" fill="#3a5fc8"/>
<circle cx="644.3" cy="220.68" r="1.9" fill="#3a5fc8"/>
<path d="M657.8 278.3 L657.8 239.08 L674.5 239.08 L674.5 278.3" fill="none" stroke="#d7322e" stroke-width="1.4"/>
<line x1="666.15" y1="278.3" x2="666.15" y2="281.1" stroke="#231f20" stroke-width="1.1"/>
<line x1="666.15" y1="235.26" x2="666.15" y2="242.9" stroke="#d7322e" stroke-width="1.3"/>
<line x1="662.15" y1="235.26" x2="670.15" y2="235.26" stroke="#d7322e" stroke-width="1.3"/>
<line x1="662.15" y1="242.9" x2="670.15" y2="242.9" stroke="#d7322e" stroke-width="1.3"/>
<line x1="657.8" y1="239.08" x2="674.5" y2="239.08" stroke="#d7322e" stroke-width="1.4"/>
<rect x="664.35" y="226.52" width="3.6" height="3.6" fill="#d7322e"/>
<rect x="664.35" y="230.64" width="3.6" height="3.6" fill="#d7322e"/>
<rect x="660.35" y="241.22" width="3.6" height="3.6" fill="#d7322e"/>
<rect x="664.35" y="244.16" width="3.6" height="3.6" fill="#d7322e"/>
<rect x="669.35" y="241.22" width="3.6" height="3.6" fill="#d7322e"/>
<line x1="640" y1="205.3" x2="667" y2="205.3" stroke="#231f20" stroke-width="1.3"/>
<text x="653.5" y="202" text-anchor="middle" font-size="7.4"><tspan font-style="italic">P</tspan> = 0.0018</text>
<text x="644" y="287" text-anchor="end" font-size="10.5" transform="rotate(-33 644 287)">WT</text>
<text x="669.5" y="287.5" text-anchor="end" font-size="10.5" transform="rotate(-33 669.5 287.5)"><tspan font-style="italic">Aebp1</tspan> cKO</text>
<text x="1" y="327.9" font-weight="bold" font-size="14.2">E</text>
<text x="117.5" y="332.2" text-anchor="middle">EO771 tumor</text>
<path d="M28 336.5 H212" stroke="#1a1a1a" stroke-width="1.3" stroke-dasharray="1.1 1" shape-rendering="crispEdges"/>
<path d="M29 425.9 L29.4 436.33 L30.1 436.02 L30.8 435.7 L31.5 435.43 L32.2 435.12 L32.9 434.68 L33.6 434.09 L34.3 433.68 L35 433.29 L35.7 432.78 L36.4 432.03 L37.1 431.07 L37.8 430.31 L38.5 429.61 L39.2 429.05 L39.9 427.95 L40.6 427.05 L41.3 426.16 L42 425.88 L42.7 424.74 L43.4 423.36 L44.1 421.9 L44.8 420.58 L45.5 419.08 L46.2 417.13 L46.9 414.95 L47.6 413.05 L48.3 412.06 L49 410.1 L49.7 408.65 L50.4 405.4 L51.1 404.11 L51.8 400.58 L52.5 398.19 L53.2 394.05 L53.9 388.39 L54.6 384.48 L55.3 380.57 L56 381.57 L56.7 378.73 L57.4 375.96 L58.1 371.8 L58.8 368.37 L59.5 366.58 L60.2 365.55 L60.9 363.53 L61.6 363.28 L62.3 358.57 L63 359.34 L63.7 357.23 L64.4 359.98 L65.1 359 L65.8 362.12 L66.5 362.9 L67.2 366.73 L67.9 367.57 L68.6 371.42 L69.3 374.9 L70 380.87 L70.7 384.81 L71.4 388.71 L72.1 391.14 L72.8 396.27 L73.5 400.39 L74.2 405.04 L74.9 408.49 L75.6 412.21 L76.3 415.64 L77 418.94 L77.7 421.98 L78.4 424.49 L79.1 426.35 L79.8 427.82 L80.5 429.35 L81.2 430.8 L81.9 432.17 L82.6 433.27 L83.3 434.23 L84 434.98 L84.7 435.55 L85.4 436.07 L86.1 436.52 L86.8 436.84 L87.5 437.09 L88.2 437.28 L88.9 437.43 L89.6 437.55 L90.3 437.64 L91 437.71 L91.7 437.76 L92.4 437.8 L93.1 437.83 L93.8 437.85 L94.5 437.86 L95.2 437.87 L95.9 437.88 L96.6 437.89 L97.3 437.89 L98 437.89 L98.7 437.9 L99.4 437.9 L100.1 437.9 L100.8 437.9 L101.5 437.9 L102.2 437.9 L102.9 437.9 L103.6 437.9 L104.3 437.9 L105 437.9 L105.7 437.9 L106.4 437.9 L107.1 437.9 L107.8 437.9 L108.5 437.9 L109.2 437.9 L109.9 437.9 L110.6 437.9 L111.3 437.9 L112 437.9 L112.7 437.9 L113.4 437.9 L114.1 437.9 L114.8 437.9 L115.5 437.9 L116.2 437.9 L116.9 437.9 L117.6 437.9 L118.3 437.9 L119 437.9 L119.7 437.9" fill="none" stroke="#d43a3a" stroke-width="1.4"/>
<path d="M29.4 437.9 L30.1 437.9 L30.8 437.9 L31.5 437.9 L32.2 437.9 L32.9 437.9 L33.6 437.9 L34.3 437.9 L35 437.89 L35.7 437.89 L36.4 437.89 L37.1 437.88 L37.8 437.87 L38.5 437.86 L39.2 437.85 L39.9 437.83 L40.6 437.81 L41.3 437.77 L42 437.73 L42.7 437.67 L43.4 437.6 L44.1 437.5 L44.8 437.38 L45.5 437.23 L46.2 437.03 L46.9 436.79 L47.6 436.48 L48.3 436.07 L49 435.59 L49.7 435 L50.4 434.41 L51.1 433.57 L51.8 432.64 L52.5 431.66 L53.2 430.53 L53.9 429.23 L54.6 427.62 L55.3 425.56 L56 423.1 L56.7 420.91 L57.4 418.44 L58.1 416.61 L58.8 413.68 L59.5 411.01 L60.2 407.27 L60.9 403.76 L61.6 401.8 L62.3 397.51 L63 393.9 L63.7 388.82 L64.4 385.95 L65.1 382.96 L65.8 380.68 L66.5 378.1 L67.2 374.56 L67.9 371.77 L68.6 369.63 L69.3 368.39 L70 367.93 L70.7 366.53 L71.4 366.85 L72.1 367.59 L72.8 370.34 L73.5 372.21 L74.2 372.09 L74.9 376.6 L75.6 378.61 L76.3 381.89 L77 383.57 L77.7 387.67 L78.4 391.22 L79.1 395.09 L79.8 399.26 L80.5 404.24 L81.2 407.54 L81.9 410.52 L82.6 413.29 L83.3 416.69 L84 419.55 L84.7 422.81 L85.4 424.95 L86.1 427.52 L86.8 428.71 L87.5 430.12 L88.2 430.95 L88.9 432.24 L89.6 433.32 L90.3 434.31 L91 435.1 L91.7 435.65 L92.4 436.11 L93.1 436.44 L93.8 436.78 L94.5 437.03 L95.2 437.23 L95.9 437.39 L96.6 437.51 L97.3 437.61 L98 437.68 L98.7 437.74 L99.4 437.78 L100.1 437.81 L100.8 437.84 L101.5 437.86 L102.2 437.87 L102.9 437.88 L103.6 437.88 L104.3 437.89 L105 437.89 L105.7 437.89 L106.4 437.9 L107.1 437.9 L107.8 437.9 L108.5 437.9 L109.2 437.9 L109.9 437.9 L110.6 437.9 L111.3 437.9 L112 437.9 L112.7 437.9 L113.4 437.9 L114.1 437.9 L114.8 437.9 L115.5 437.9 L116.2 437.9 L116.9 437.9 L117.6 437.9 L118.3 437.9 L119 437.9 L119.7 437.9" fill="none" stroke="#3a5fc8" stroke-width="1.4"/>
<rect x="28.4" y="346.5" width="92.9" height="91.4" fill="none" stroke="#231f20" stroke-width="1.1"/>
<line x1="25.9" y1="350.8" x2="28.4" y2="350.8" stroke="#231f20" stroke-width="1"/>
<text x="25.4" y="353.3" text-anchor="end" font-size="7">100</text>
<line x1="25.9" y1="368.2" x2="28.4" y2="368.2" stroke="#231f20" stroke-width="1"/>
<text x="25.4" y="370.7" text-anchor="end" font-size="7">80</text>
<line x1="25.9" y1="385.5" x2="28.4" y2="385.5" stroke="#231f20" stroke-width="1"/>
<text x="25.4" y="388" text-anchor="end" font-size="7">60</text>
<line x1="25.9" y1="403.2" x2="28.4" y2="403.2" stroke="#231f20" stroke-width="1"/>
<text x="25.4" y="405.7" text-anchor="end" font-size="7">40</text>
<line x1="25.9" y1="420.5" x2="28.4" y2="420.5" stroke="#231f20" stroke-width="1"/>
<text x="25.4" y="423" text-anchor="end" font-size="7">20</text>
<line x1="25.9" y1="437.9" x2="28.4" y2="437.9" stroke="#231f20" stroke-width="1"/>
<text x="25.4" y="440.4" text-anchor="end" font-size="7">0</text>
<text x="39" y="447.1" font-size="7" text-anchor="middle">10<tspan font-size="4.34" dy="-2.5">1</tspan></text>
<text x="56.8" y="447.1" font-size="7" text-anchor="middle">10<tspan font-size="4.34" dy="-2.5">2</tspan></text>
<text x="75.7" y="447.1" font-size="7" text-anchor="middle">10<tspan font-size="4.34" dy="-2.5">3</tspan></text>
<text x="94.3" y="447.1" font-size="7" text-anchor="middle">10<tspan font-size="4.34" dy="-2.5">4</tspan></text>
<text x="112.9" y="447.1" font-size="7" text-anchor="middle">10<tspan font-size="4.34" dy="-2.5">5</tspan></text>
<path d="M28.4 438.9 H121.3" stroke="#231f20" stroke-width="2" stroke-dasharray="0.6 2.2"/>
<path d="M27.4 350.5 V437.9" stroke="#231f20" stroke-width="2" stroke-dasharray="0.6 3.8"/>
<line x1="28.4" y1="455.2" x2="88.5" y2="455.2" stroke="#231f20" stroke-width="1.2"/>
<path d="M91.5 455.2 L86 452.6 L86 457.8 Z" fill="#231f20"/>
<text x="94.3" y="458.9" font-size="10.2">PD-L1</text>
<line x1="151.2" y1="351.7" x2="151.2" y2="439.5" stroke="#231f20" stroke-width="1.2"/>
<line x1="150.7" y1="439" x2="209.6" y2="439" stroke="#231f20" stroke-width="1.2"/>
<line x1="148.4" y1="439" x2="151.2" y2="439" stroke="#231f20" stroke-width="1.1"/>
<text x="147.6" y="441.4" text-anchor="end" font-size="6.8">0.0</text>
<line x1="148.4" y1="409.9" x2="151.2" y2="409.9" stroke="#231f20" stroke-width="1.1"/>
<text x="147.6" y="412.3" text-anchor="end" font-size="6.8">0.5</text>
<line x1="148.4" y1="380.8" x2="151.2" y2="380.8" stroke="#231f20" stroke-width="1.1"/>
<text x="147.6" y="383.2" text-anchor="end" font-size="6.8">1.0</text>
<line x1="148.4" y1="351.7" x2="151.2" y2="351.7" stroke="#231f20" stroke-width="1.1"/>
<text x="147.6" y="354.1" text-anchor="end" font-size="6.8">1.5</text>
<text x="135.7" y="397.3" text-anchor="middle" transform="rotate(-90 135.7 397.3)">Relative PD-L1 MFI</text>
<path d="M160.3 439 L160.3 381.21 L177 381.21 L177 439" fill="none" stroke="#3a5fc8" stroke-width="1.4"/>
<line x1="168.65" y1="439" x2="168.65" y2="441.8" stroke="#231f20" stroke-width="1.1"/>
<line x1="168.65" y1="378.88" x2="168.65" y2="383.54" stroke="#3a5fc8" stroke-width="1.3"/>
<line x1="164.65" y1="378.88" x2="172.65" y2="378.88" stroke="#3a5fc8" stroke-width="1.3"/>
<line x1="164.65" y1="383.54" x2="172.65" y2="383.54" stroke="#3a5fc8" stroke-width="1.3"/>
<line x1="160.3" y1="381.21" x2="177" y2="381.21" stroke="#3a5fc8" stroke-width="1.4"/>
<circle cx="165.65" cy="374.98" r="1.9" fill="#3a5fc8"/>
<circle cx="170.65" cy="374.98" r="1.9" fill="#3a5fc8"/>
<circle cx="164.65" cy="380.8" r="1.9" fill="#3a5fc8"/>
<circle cx="167.65" cy="382.55" r="1.9" fill="#3a5fc8"/>
<circle cx="164.65" cy="387.78" r="1.9" fill="#3a5fc8"/>
<circle cx="170.65" cy="387.78" r="1.9" fill="#3a5fc8"/>
<path d="M185.4 439 L185.4 412 L201.9 412 L201.9 439" fill="none" stroke="#d7322e" stroke-width="1.4"/>
<line x1="193.65" y1="439" x2="193.65" y2="441.8" stroke="#231f20" stroke-width="1.1"/>
<line x1="193.65" y1="410.25" x2="193.65" y2="413.74" stroke="#d7322e" stroke-width="1.3"/>
<line x1="189.65" y1="410.25" x2="197.65" y2="410.25" stroke="#d7322e" stroke-width="1.3"/>
<line x1="189.65" y1="413.74" x2="197.65" y2="413.74" stroke="#d7322e" stroke-width="1.3"/>
<line x1="185.4" y1="412" x2="201.9" y2="412" stroke="#d7322e" stroke-width="1.4"/>
<rect x="187.85" y="405.77" width="3.6" height="3.6" fill="#d7322e"/>
<rect x="195.85" y="405.77" width="3.6" height="3.6" fill="#d7322e"/>
<rect x="186.85" y="410.43" width="3.6" height="3.6" fill="#d7322e"/>
<rect x="191.85" y="412.76" width="3.6" height="3.6" fill="#d7322e"/>
<rect x="188.85" y="415.08" width="3.6" height="3.6" fill="#d7322e"/>
<rect x="195.85" y="410.43" width="3.6" height="3.6" fill="#d7322e"/>
<line x1="168.9" y1="366.2" x2="194" y2="366.2" stroke="#231f20" stroke-width="1.3"/>
<text x="181.45" y="362.8" text-anchor="middle" font-size="7.6"><tspan font-style="italic">P</tspan> &lt; 0.0001</text>
<text x="171.8" y="451.2" text-anchor="end" font-size="10.5" transform="rotate(-33 171.8 451.2)">WT</text>
<text x="197" y="450" text-anchor="end" font-size="10.5" transform="rotate(-33 197 450)"><tspan font-style="italic">Aebp1</tspan> cKO</text>
<text x="227.7" y="331.6" font-weight="bold" font-size="14.2">F</text>
<text x="342" y="332" text-anchor="middle">hCAFs</text>
<path d="M245 336.5 H440" stroke="#1a1a1a" stroke-width="1.3" stroke-dasharray="1.1 1" shape-rendering="crispEdges"/>
<clipPath id="cpF"><rect x="246" y="343.4" width="100.60000000000002" height="100.80000000000001"/></clipPath>
<g clip-path="url(#cpF)">
<path d="M246.5 384.3 L246.8 384.3 L247.1 384.3 L247.4 384.3 L247.7 384.3 L248 384.3 L248.3 384.3 L248.6 384.3 L248.9 384.3 L249.2 384.3 L249.5 384.3 L249.8 384.3 L250.1 384.3 L250.4 384.3 L250.7 384.3 L251 384.3 L251.3 384.3 L251.6 384.3 L251.9 384.3 L252.2 384.3 L252.5 384.3 L252.8 384.3 L253.1 384.3 L253.4 384.3 L253.7 384.3 L254 384.3 L254.3 384.3 L254.6 384.3 L254.9 384.3 L255.2 384.3 L255.5 384.3 L255.8 384.3 L256.1 384.3 L256.4 384.3 L256.7 384.3 L257 384.3 L257.3 384.3 L257.6 384.3 L257.9 384.3 L258.2 384.3 L258.5 384.3 L258.8 384.3 L259.1 384.3 L259.4 384.3 L259.7 384.3 L260 384.3 L260.3 384.3 L260.6 384.3 L260.9 384.3 L261.2 384.3 L261.5 384.3 L261.8 384.3 L262.1 384.3 L262.4 384.3 L262.7 384.3 L263 384.3 L263.3 384.3 L263.6 384.3 L263.9 384.3 L264.2 384.3 L264.5 384.3 L264.8 384.3 L265.1 384.3 L265.4 384.29 L265.7 384.28 L266 384.26 L266.3 384.2 L266.6 384.06 L266.9 383.78 L267.2 383.23 L267.5 382.27 L267.8 380.67 L268.1 378.26 L268.4 374.9 L268.7 370.63 L269 365.73 L269.3 360.74 L269.6 356.37 L269.9 353.37 L270.2 352.3 L270.5 353.37 L270.8 356.37 L271.1 360.74 L271.4 365.73 L271.7 370.63 L272 374.9 L272.3 378.26 L272.6 380.67 L272.9 382.27 L273.2 383.23 L273.5 383.78 L273.8 384.06 L274.1 384.2 L274.4 384.26 L274.7 384.28 L275 384.29 L275.3 384.3 L275.6 384.3 L275.9 384.3 L276.2 384.3 L276.5 384.3 L276.8 384.3 L277.1 384.3 L277.4 384.3 L277.7 384.3 L278 384.3 L278.3 384.3 L278.6 384.3 L278.9 384.3 L279.2 384.3 L279.5 384.3 L279.8 384.3 L280.1 384.3 L280.4 384.3 L280.7 384.3 L281 384.3 L281.3 384.3 L281.6 384.3 L281.9 384.3 L282.2 384.3 L282.5 384.3 L282.8 384.3 L283.1 384.3 L283.4 384.3 L283.7 384.3 L284 384.3 L284.3 384.3 L284.6 384.3 L284.9 384.3 L285.2 384.3 L285.5 384.3 L285.8 384.3 L286.1 384.3 L286.4 384.3 L286.7 384.3 L287 384.3 L287.3 384.3 L287.6 384.3 L287.9 384.3 L288.2 384.3 L288.5 384.3 L288.8 384.3 L289.1 384.3 L289.4 384.3 L289.7 384.3 L290 384.3 L290.3 384.3 L290.6 384.3 L290.9 384.3 L291.2 384.3 L291.5 384.3 L291.8 384.3 L292.1 384.3 L292.4 384.3 L292.7 384.3 L293 384.3 L293.3 384.3 L293.6 384.3 L293.9 384.3 L294.2 384.3 L294.5 384.3 L294.8 384.3 L295.1 384.3 L295.4 384.3 L295.7 384.3 L296 384.3 L296.3 384.3 L296.6 384.3 L296.9 384.3 L297.2 384.3 L297.5 384.3 L297.8 384.3 L298.1 384.3 L298.4 384.3 L298.7 384.3 L299 384.3 L299.3 384.3 L299.6 384.3 L299.9 384.3 L300.2 384.3 L300.5 384.3 L300.8 384.3 L301.1 384.3 L301.4 384.3 L301.7 384.3 L302 384.3 L302.3 384.3 L302.6 384.3 L302.9 384.3 L303.2 384.3 L303.5 384.3 L303.8 384.3 L304.1 384.3 L304.4 384.3 L304.7 384.3 L305 384.3 L305.3 384.3 L305.6 384.3 L305.9 384.3 L306.2 384.3 L306.5 384.3 L306.8 384.3 L307.1 384.3 L307.4 384.3 L307.7 384.3 L308 384.3 L308.3 384.3 L308.6 384.3 L308.9 384.3 L309.2 384.3 L309.5 384.3 L309.8 384.3 L310.1 384.3 L310.4 384.3 L310.7 384.3 L311 384.3 L311.3 384.3 L311.6 384.3 L311.9 384.3 L312.2 384.3 L312.5 384.3 L312.8 384.3 L313.1 384.3 L313.4 384.3 L313.7 384.3 L314 384.3 L314.3 384.3 L314.6 384.3 L314.9 384.3 L315.2 384.3 L315.5 384.3 L315.8 384.3 L316.1 384.3 L316.4 384.3 L316.7 384.3 L317 384.3 L317.3 384.3 L317.6 384.3 L317.9 384.3 L318.2 384.3 L318.5 384.3 L318.8 384.3 L319.1 384.3 L319.4 384.3 L319.7 384.3 L320 384.3 L320.3 384.3 L320.6 384.3 L320.9 384.3 L321.2 384.3 L321.5 384.3 L321.8 384.3 L322.1 384.3 L322.4 384.3 L322.7 384.3 L323 384.3 L323.3 384.3 L323.6 384.3 L323.9 384.3 L324.2 384.3 L324.5 384.3 L324.8 384.3 L325.1 384.3 L325.4 384.3 L325.7 384.3 L326 384.3 L326.3 384.3 L326.6 384.3 L326.9 384.3 L327.2 384.3 L327.5 384.3 L327.8 384.3 L328.1 384.3 L328.4 384.3 L328.7 384.3 L329 384.3 L329.3 384.3 L329.6 384.3 L329.9 384.3 L330.2 384.3 L330.5 384.3 L330.8 384.3 L331.1 384.3 L331.4 384.3 L331.7 384.3 L332 384.3 L332.3 384.3 L332.6 384.3 L332.9 384.3 L333.2 384.3 L333.5 384.3 L333.8 384.3 L334.1 384.3 L334.4 384.3 L334.7 384.3 L335 384.3 L335.3 384.3 L335.6 384.3 L335.9 384.3 L336.2 384.3 L336.5 384.3 L336.8 384.3 L337.1 384.3 L337.4 384.3 L337.7 384.3 L338 384.3 L338.3 384.3 L338.6 384.3 L338.9 384.3 L339.2 384.3 L339.5 384.3 L339.8 384.3 L340.1 384.3 L340.4 384.3 L340.7 384.3 L341 384.3 L341.3 384.3 L341.6 384.3 L341.9 384.3 L342.2 384.3 L342.5 384.3 L342.8 384.3 L343.1 384.3 L343.4 384.3 L343.7 384.3 L344 384.3 L344.3 384.3 L344.6 384.3 L344.9 384.3 L345.2 384.3 L345.5 384.3 L345.8 384.3 L346.1 384.3 L346.1 384.3 L246.5 384.3 Z" fill="#cfcfcf"/>
<path d="M246.5 384.3 L246.8 384.3 L247.1 384.3 L247.4 384.3 L247.7 384.3 L248 384.3 L248.3 384.3 L248.6 384.3 L248.9 384.3 L249.2 384.3 L249.5 384.3 L249.8 384.3 L250.1 384.3 L250.4 384.3 L250.7 384.3 L251 384.3 L251.3 384.3 L251.6 384.3 L251.9 384.3 L252.2 384.3 L252.5 384.3 L252.8 384.3 L253.1 384.3 L253.4 384.3 L253.7 384.3 L254 384.3 L254.3 384.3 L254.6 384.3 L254.9 384.3 L255.2 384.3 L255.5 384.3 L255.8 384.3 L256.1 384.3 L256.4 384.3 L256.7 384.3 L257 384.3 L257.3 384.3 L257.6 384.3 L257.9 384.3 L258.2 384.3 L258.5 384.3 L258.8 384.3 L259.1 384.3 L259.4 384.3 L259.7 384.3 L260 384.3 L260.3 384.3 L260.6 384.3 L260.9 384.3 L261.2 384.3 L261.5 384.3 L261.8 384.3 L262.1 384.3 L262.4 384.3 L262.7 384.3 L263 384.3 L263.3 384.3 L263.6 384.3 L263.9 384.3 L264.2 384.3 L264.5 384.3 L264.8 384.3 L265.1 384.3 L265.4 384.29 L265.7 384.28 L266 384.26 L266.3 384.2 L266.6 384.06 L266.9 383.78 L267.2 383.23 L267.5 382.27 L267.8 380.67 L268.1 378.26 L268.4 374.9 L268.7 370.63 L269 365.73 L269.3 360.74 L269.6 356.37 L269.9 353.37 L270.2 352.3 L270.5 353.37 L270.8 356.37 L271.1 360.74 L271.4 365.73 L271.7 370.63 L272 374.9 L272.3 378.26 L272.6 380.67 L272.9 382.27 L273.2 383.23 L273.5 383.78 L273.8 384.06 L274.1 384.2 L274.4 384.26 L274.7 384.28 L275 384.29 L275.3 384.3 L275.6 384.3 L275.9 384.3 L276.2 384.3 L276.5 384.3 L276.8 384.3 L277.1 384.3 L277.4 384.3 L277.7 384.3 L278 384.3 L278.3 384.3 L278.6 384.3 L278.9 384.3 L279.2 384.3 L279.5 384.3 L279.8 384.3 L280.1 384.3 L280.4 384.3 L280.7 384.3 L281 384.3 L281.3 384.3 L281.6 384.3 L281.9 384.3 L282.2 384.3 L282.5 384.3 L282.8 384.3 L283.1 384.3 L283.4 384.3 L283.7 384.3 L284 384.3 L284.3 384.3 L284.6 384.3 L284.9 384.3 L285.2 384.3 L285.5 384.3 L285.8 384.3 L286.1 384.3 L286.4 384.3 L286.7 384.3 L287 384.3 L287.3 384.3 L287.6 384.3 L287.9 384.3 L288.2 384.3 L288.5 384.3 L288.8 384.3 L289.1 384.3 L289.4 384.3 L289.7 384.3 L290 384.3 L290.3 384.3 L290.6 384.3 L290.9 384.3 L291.2 384.3 L291.5 384.3 L291.8 384.3 L292.1 384.3 L292.4 384.3 L292.7 384.3 L293 384.3 L293.3 384.3 L293.6 384.3 L293.9 384.3 L294.2 384.3 L294.5 384.3 L294.8 384.3 L295.1 384.3 L295.4 384.3 L295.7 384.3 L296 384.3 L296.3 384.3 L296.6 384.3 L296.9 384.3 L297.2 384.3 L297.5 384.3 L297.8 384.3 L298.1 384.3 L298.4 384.3 L298.7 384.3 L299 384.3 L299.3 384.3 L299.6 384.3 L299.9 384.3 L300.2 384.3 L300.5 384.3 L300.8 384.3 L301.1 384.3 L301.4 384.3 L301.7 384.3 L302 384.3 L302.3 384.3 L302.6 384.3 L302.9 384.3 L303.2 384.3 L303.5 384.3 L303.8 384.3 L304.1 384.3 L304.4 384.3 L304.7 384.3 L305 384.3 L305.3 384.3 L305.6 384.3 L305.9 384.3 L306.2 384.3 L306.5 384.3 L306.8 384.3 L307.1 384.3 L307.4 384.3 L307.7 384.3 L308 384.3 L308.3 384.3 L308.6 384.3 L308.9 384.3 L309.2 384.3 L309.5 384.3 L309.8 384.3 L310.1 384.3 L310.4 384.3 L310.7 384.3 L311 384.3 L311.3 384.3 L311.6 384.3 L311.9 384.3 L312.2 384.3 L312.5 384.3 L312.8 384.3 L313.1 384.3 L313.4 384.3 L313.7 384.3 L314 384.3 L314.3 384.3 L314.6 384.3 L314.9 384.3 L315.2 384.3 L315.5 384.3 L315.8 384.3 L316.1 384.3 L316.4 384.3 L316.7 384.3 L317 384.3 L317.3 384.3 L317.6 384.3 L317.9 384.3 L318.2 384.3 L318.5 384.3 L318.8 384.3 L319.1 384.3 L319.4 384.3 L319.7 384.3 L320 384.3 L320.3 384.3 L320.6 384.3 L320.9 384.3 L321.2 384.3 L321.5 384.3 L321.8 384.3 L322.1 384.3 L322.4 384.3 L322.7 384.3 L323 384.3 L323.3 384.3 L323.6 384.3 L323.9 384.3 L324.2 384.3 L324.5 384.3 L324.8 384.3 L325.1 384.3 L325.4 384.3 L325.7 384.3 L326 384.3 L326.3 384.3 L326.6 384.3 L326.9 384.3 L327.2 384.3 L327.5 384.3 L327.8 384.3 L328.1 384.3 L328.4 384.3 L328.7 384.3 L329 384.3 L329.3 384.3 L329.6 384.3 L329.9 384.3 L330.2 384.3 L330.5 384.3 L330.8 384.3 L331.1 384.3 L331.4 384.3 L331.7 384.3 L332 384.3 L332.3 384.3 L332.6 384.3 L332.9 384.3 L333.2 384.3 L333.5 384.3 L333.8 384.3 L334.1 384.3 L334.4 384.3 L334.7 384.3 L335 384.3 L335.3 384.3 L335.6 384.3 L335.9 384.3 L336.2 384.3 L336.5 384.3 L336.8 384.3 L337.1 384.3 L337.4 384.3 L337.7 384.3 L338 384.3 L338.3 384.3 L338.6 384.3 L338.9 384.3 L339.2 384.3 L339.5 384.3 L339.8 384.3 L340.1 384.3 L340.4 384.3 L340.7 384.3 L341 384.3 L341.3 384.3 L341.6 384.3 L341.9 384.3 L342.2 384.3 L342.5 384.3 L342.8 384.3 L343.1 384.3 L343.4 384.3 L343.7 384.3 L344 384.3 L344.3 384.3 L344.6 384.3 L344.9 384.3 L345.2 384.3 L345.5 384.3 L345.8 384.3 L346.1 384.3" fill="none" stroke="#8a8a8a" stroke-width="1.3"/>
<path d="M246.5 404.4 L247.1 404.4 L247.7 404.4 L248.3 404.4 L248.9 404.4 L249.5 404.4 L250.1 404.4 L250.7 404.4 L251.3 404.4 L251.9 404.4 L252.5 404.4 L253.1 404.4 L253.7 404.4 L254.3 404.4 L254.9 404.4 L255.5 404.4 L256.1 404.4 L256.7 404.4 L257.3 404.4 L257.9 404.4 L258.5 404.4 L259.1 404.4 L259.7 404.4 L260.3 404.4 L260.9 404.4 L261.5 404.4 L262.1 404.4 L262.7 404.4 L263.3 404.4 L263.9 404.4 L264.5 404.19 L265.1 403.9 L265.7 403.64 L266.3 403.39 L266.9 403.05 L267.5 402.71 L268.1 402.28 L268.7 401.85 L269.3 401.36 L269.9 400.84 L270.5 400.53 L271.1 399.25 L271.7 398.66 L272.3 397.69 L272.9 397.91 L273.5 397.35 L274.1 396.7 L274.7 394.74 L275.3 392.36 L275.9 389.97 L276.5 388.4 L277.1 385.71 L277.7 384.19 L278.3 382.38 L278.9 381.54 L279.5 380.35 L280.1 378.64 L280.7 377.48 L281.3 376.35 L281.9 375.83 L282.5 376.04 L283.1 376.15 L283.7 378.25 L284.3 379.05 L284.9 378.85 L285.5 378.24 L286.1 378.22 L286.7 378.43 L287.3 376.84 L287.9 377.53 L288.5 378.16 L289.1 378.98 L289.7 377.96 L290.3 378.51 L290.9 377.52 L291.5 378.26 L292.1 376.72 L292.7 377.88 L293.3 377.09 L293.9 376.71 L294.5 376.19 L295.1 376.45 L295.7 378.19 L296.3 379.19 L296.9 380.33 L297.5 378.8 L298.1 379.6 L298.7 380.58 L299.3 381.24 L299.9 380.24 L300.5 379.75 L301.1 381.03 L301.7 383.04 L302.3 384.11 L302.9 385.26 L303.5 385.71 L304.1 386.71 L304.7 387.33 L305.3 388.58 L305.9 389.92 L306.5 392.63 L307.1 394.48 L307.7 396.19 L308.3 397.3 L308.9 398.36 L309.5 399.37 L310.1 400.07 L310.7 400.78 L311.3 401.47 L311.9 401.96 L312.5 402.54 L313.1 402.95 L313.7 403.34 L314.3 403.57 L314.9 403.79 L315.5 404.03 L316.1 404.27 L316.7 404.4 L317.3 404.4 L317.9 404.4 L318.5 404.4 L319.1 404.4 L319.7 404.4 L320.3 404.4 L320.9 404.4 L321.5 404.4 L322.1 404.4 L322.7 404.4 L323.3 404.4 L323.9 404.4 L324.5 404.4 L325.1 404.4 L325.7 404.4 L326.3 404.4 L326.9 404.4 L327.5 404.4 L328.1 404.4 L328.7 404.4 L329.3 404.4 L329.9 404.4 L330.5 404.4 L331.1 404.4 L331.7 404.4 L332.3 404.4 L332.9 404.4 L333.5 404.4 L334.1 404.4 L334.7 404.4 L335.3 404.4 L335.9 404.4 L336.5 404.4 L337.1 404.4 L337.7 404.4 L338.3 404.4 L338.9 404.4 L339.5 404.4 L340.1 404.4 L340.7 404.4 L341.3 404.4 L341.9 404.4 L342.5 404.4 L343.1 404.4 L343.7 404.4 L344.3 404.4 L344.9 404.4 L345.5 404.4 L346.1 404.4 L346.1 404.4 L246.5 404.4 Z" fill="#a9c1e2"/>
<path d="M246.5 404.4 L247.1 404.4 L247.7 404.4 L248.3 404.4 L248.9 404.4 L249.5 404.4 L250.1 404.4 L250.7 404.4 L251.3 404.4 L251.9 404.4 L252.5 404.4 L253.1 404.4 L253.7 404.4 L254.3 404.4 L254.9 404.4 L255.5 404.4 L256.1 404.4 L256.7 404.4 L257.3 404.4 L257.9 404.4 L258.5 404.4 L259.1 404.4 L259.7 404.4 L260.3 404.4 L260.9 404.4 L261.5 404.4 L262.1 404.4 L262.7 404.4 L263.3 404.4 L263.9 404.4 L264.5 404.19 L265.1 403.9 L265.7 403.64 L266.3 403.39 L266.9 403.05 L267.5 402.71 L268.1 402.28 L268.7 401.85 L269.3 401.36 L269.9 400.84 L270.5 400.53 L271.1 399.25 L271.7 398.66 L272.3 397.69 L272.9 397.91 L273.5 397.35 L274.1 396.7 L274.7 394.74 L275.3 392.36 L275.9 389.97 L276.5 388.4 L277.1 385.71 L277.7 384.19 L278.3 382.38 L278.9 381.54 L279.5 380.35 L280.1 378.64 L280.7 377.48 L281.3 376.35 L281.9 375.83 L282.5 376.04 L283.1 376.15 L283.7 378.25 L284.3 379.05 L284.9 378.85 L285.5 378.24 L286.1 378.22 L286.7 378.43 L287.3 376.84 L287.9 377.53 L288.5 378.16 L289.1 378.98 L289.7 377.96 L290.3 378.51 L290.9 377.52 L291.5 378.26 L292.1 376.72 L292.7 377.88 L293.3 377.09 L293.9 376.71 L294.5 376.19 L295.1 376.45 L295.7 378.19 L296.3 379.19 L296.9 380.33 L297.5 378.8 L298.1 379.6 L298.7 380.58 L299.3 381.24 L299.9 380.24 L300.5 379.75 L301.1 381.03 L301.7 383.04 L302.3 384.11 L302.9 385.26 L303.5 385.71 L304.1 386.71 L304.7 387.33 L305.3 388.58 L305.9 389.92 L306.5 392.63 L307.1 394.48 L307.7 396.19 L308.3 397.3 L308.9 398.36 L309.5 399.37 L310.1 400.07 L310.7 400.78 L311.3 401.47 L311.9 401.96 L312.5 402.54 L313.1 402.95 L313.7 403.34 L314.3 403.57 L314.9 403.79 L315.5 404.03 L316.1 404.27 L316.7 404.4 L317.3 404.4 L317.9 404.4 L318.5 404.4 L319.1 404.4 L319.7 404.4 L320.3 404.4 L320.9 404.4 L321.5 404.4 L322.1 404.4 L322.7 404.4 L323.3 404.4 L323.9 404.4 L324.5 404.4 L325.1 404.4 L325.7 404.4 L326.3 404.4 L326.9 404.4 L327.5 404.4 L328.1 404.4 L328.7 404.4 L329.3 404.4 L329.9 404.4 L330.5 404.4 L331.1 404.4 L331.7 404.4 L332.3 404.4 L332.9 404.4 L333.5 404.4 L334.1 404.4 L334.7 404.4 L335.3 404.4 L335.9 404.4 L336.5 404.4 L337.1 404.4 L337.7 404.4 L338.3 404.4 L338.9 404.4 L339.5 404.4 L340.1 404.4 L340.7 404.4 L341.3 404.4 L341.9 404.4 L342.5 404.4 L343.1 404.4 L343.7 404.4 L344.3 404.4 L344.9 404.4 L345.5 404.4 L346.1 404.4" fill="none" stroke="#2f5cc0" stroke-width="1.3"/>
<path d="M246.5 424.1 L247.1 424.1 L247.7 424.1 L248.3 424.1 L248.9 424.1 L249.5 424.1 L250.1 424.1 L250.7 424.1 L251.3 424.1 L251.9 424.1 L252.5 424.1 L253.1 424.1 L253.7 424.1 L254.3 424.1 L254.9 424.1 L255.5 424.1 L256.1 424.1 L256.7 424.1 L257.3 424.1 L257.9 424.1 L258.5 424.1 L259.1 424.1 L259.7 424.1 L260.3 424.1 L260.9 424.1 L261.5 424.1 L262.1 424.1 L262.7 424.1 L263.3 424.1 L263.9 424.1 L264.5 424.1 L265.1 424.1 L265.7 424.1 L266.3 423.94 L266.9 423.5 L267.5 423.08 L268.1 422.65 L268.7 422.2 L269.3 421.75 L269.9 421.19 L270.5 420.31 L271.1 418.84 L271.7 418.07 L272.3 417.45 L272.9 416.99 L273.5 416.35 L274.1 414.49 L274.7 412.89 L275.3 411.19 L275.9 410.39 L276.5 408.71 L277.1 406.43 L277.7 402.6 L278.3 400.81 L278.9 398.21 L279.5 397.47 L280.1 396.59 L280.7 394.43 L281.3 392.84 L281.9 392.52 L282.5 393.95 L283.1 396.69 L283.7 396.03 L284.3 396.57 L284.9 396.44 L285.5 398.25 L286.1 399.46 L286.7 399.58 L287.3 400.2 L287.9 401.44 L288.5 402.45 L289.1 403.08 L289.7 402.78 L290.3 403.21 L290.9 403.47 L291.5 405.34 L292.1 406.16 L292.7 407.05 L293.3 407.05 L293.9 407.49 L294.5 408.01 L295.1 409.02 L295.7 409.1 L296.3 409.12 L296.9 409.25 L297.5 409.94 L298.1 411.25 L298.7 412.08 L299.3 412.93 L299.9 412.5 L300.5 412.61 L301.1 413.63 L301.7 414.61 L302.3 415.29 L302.9 415.52 L303.5 415.99 L304.1 416.87 L304.7 417.69 L305.3 418.72 L305.9 418.4 L306.5 418.38 L307.1 418.68 L307.7 419.65 L308.3 419.99 L308.9 420 L309.5 420.46 L310.1 421.12 L310.7 421.48 L311.3 421.85 L311.9 422.29 L312.5 422.72 L313.1 423.05 L313.7 423.29 L314.3 423.47 L314.9 423.58 L315.5 423.67 L316.1 423.75 L316.7 423.81 L317.3 423.86 L317.9 423.92 L318.5 423.96 L319.1 424.01 L319.7 424.07 L320.3 424.1 L320.9 424.1 L321.5 424.1 L322.1 424.1 L322.7 424.1 L323.3 424.1 L323.9 424.1 L324.5 424.1 L325.1 424.1 L325.7 424.1 L326.3 424.1 L326.9 424.1 L327.5 424.1 L328.1 424.1 L328.7 424.1 L329.3 424.1 L329.9 424.1 L330.5 424.1 L331.1 424.1 L331.7 424.1 L332.3 424.1 L332.9 424.1 L333.5 424.1 L334.1 424.1 L334.7 424.1 L335.3 424.1 L335.9 424.1 L336.5 424.1 L337.1 424.1 L337.7 424.1 L338.3 424.1 L338.9 424.1 L339.5 424.1 L340.1 424.1 L340.7 424.1 L341.3 424.1 L341.9 424.1 L342.5 424.1 L343.1 424.1 L343.7 424.1 L344.3 424.1 L344.9 424.1 L345.5 424.1 L346.1 424.1 L346.1 424.1 L246.5 424.1 Z" fill="#f0a8a6"/>
<path d="M246.5 424.1 L247.1 424.1 L247.7 424.1 L248.3 424.1 L248.9 424.1 L249.5 424.1 L250.1 424.1 L250.7 424.1 L251.3 424.1 L251.9 424.1 L252.5 424.1 L253.1 424.1 L253.7 424.1 L254.3 424.1 L254.9 424.1 L255.5 424.1 L256.1 424.1 L256.7 424.1 L257.3 424.1 L257.9 424.1 L258.5 424.1 L259.1 424.1 L259.7 424.1 L260.3 424.1 L260.9 424.1 L261.5 424.1 L262.1 424.1 L262.7 424.1 L263.3 424.1 L263.9 424.1 L264.5 424.1 L265.1 424.1 L265.7 424.1 L266.3 423.94 L266.9 423.5 L267.5 423.08 L268.1 422.65 L268.7 422.2 L269.3 421.75 L269.9 421.19 L270.5 420.31 L271.1 418.84 L271.7 418.07 L272.3 417.45 L272.9 416.99 L273.5 416.35 L274.1 414.49 L274.7 412.89 L275.3 411.19 L275.9 410.39 L276.5 408.71 L277.1 406.43 L277.7 402.6 L278.3 400.81 L278.9 398.21 L279.5 397.47 L280.1 396.59 L280.7 394.43 L281.3 392.84 L281.9 392.52 L282.5 393.95 L283.1 396.69 L283.7 396.03 L284.3 396.57 L284.9 396.44 L285.5 398.25 L286.1 399.46 L286.7 399.58 L287.3 400.2 L287.9 401.44 L288.5 402.45 L289.1 403.08 L289.7 402.78 L290.3 403.21 L290.9 403.47 L291.5 405.34 L292.1 406.16 L292.7 407.05 L293.3 407.05 L293.9 407.49 L294.5 408.01 L295.1 409.02 L295.7 409.1 L296.3 409.12 L296.9 409.25 L297.5 409.94 L298.1 411.25 L298.7 412.08 L299.3 412.93 L299.9 412.5 L300.5 412.61 L301.1 413.63 L301.7 414.61 L302.3 415.29 L302.9 415.52 L303.5 415.99 L304.1 416.87 L304.7 417.69 L305.3 418.72 L305.9 418.4 L306.5 418.38 L307.1 418.68 L307.7 419.65 L308.3 419.99 L308.9 420 L309.5 420.46 L310.1 421.12 L310.7 421.48 L311.3 421.85 L311.9 422.29 L312.5 422.72 L313.1 423.05 L313.7 423.29 L314.3 423.47 L314.9 423.58 L315.5 423.67 L316.1 423.75 L316.7 423.81 L317.3 423.86 L317.9 423.92 L318.5 423.96 L319.1 424.01 L319.7 424.07 L320.3 424.1 L320.9 424.1 L321.5 424.1 L322.1 424.1 L322.7 424.1 L323.3 424.1 L323.9 424.1 L324.5 424.1 L325.1 424.1 L325.7 424.1 L326.3 424.1 L326.9 424.1 L327.5 424.1 L328.1 424.1 L328.7 424.1 L329.3 424.1 L329.9 424.1 L330.5 424.1 L331.1 424.1 L331.7 424.1 L332.3 424.1 L332.9 424.1 L333.5 424.1 L334.1 424.1 L334.7 424.1 L335.3 424.1 L335.9 424.1 L336.5 424.1 L337.1 424.1 L337.7 424.1 L338.3 424.1 L338.9 424.1 L339.5 424.1 L340.1 424.1 L340.7 424.1 L341.3 424.1 L341.9 424.1 L342.5 424.1 L343.1 424.1 L343.7 424.1 L344.3 424.1 L344.9 424.1 L345.5 424.1 L346.1 424.1" fill="none" stroke="#e0393a" stroke-width="1.3"/>
<path d="M246.5 444.2 L247.1 444.2 L247.7 444.2 L248.3 444.2 L248.9 444.2 L249.5 444.2 L250.1 444.2 L250.7 444.2 L251.3 444.2 L251.9 444.2 L252.5 444.2 L253.1 444.2 L253.7 444.2 L254.3 444.2 L254.9 444.2 L255.5 444.2 L256.1 444.2 L256.7 444.2 L257.3 444.2 L257.9 444.2 L258.5 444.2 L259.1 444.2 L259.7 444.2 L260.3 444.2 L260.9 444.2 L261.5 444.2 L262.1 444.2 L262.7 444.2 L263.3 444.2 L263.9 444.2 L264.5 444.2 L265.1 444.2 L265.7 444.2 L266.3 444.2 L266.9 444.2 L267.5 444.2 L268.1 444.2 L268.7 443.57 L269.3 442.85 L269.9 442.12 L270.5 441.42 L271.1 440.64 L271.7 439.71 L272.3 438.21 L272.9 436.54 L273.5 435.04 L274.1 433.32 L274.7 431.29 L275.3 428.04 L275.9 425.8 L276.5 423.66 L277.1 423.13 L277.7 423.38 L278.3 423.6 L278.9 423.3 L279.5 422.33 L280.1 423 L280.7 422.95 L281.3 423.34 L281.9 423.53 L282.5 423.89 L283.1 424.44 L283.7 423.81 L284.3 422.52 L284.9 419.91 L285.5 418.43 L286.1 418.79 L286.7 418.94 L287.3 419.22 L287.9 419.93 L288.5 422.35 L289.1 422.23 L289.7 423.29 L290.3 424 L290.9 425.35 L291.5 424.67 L292.1 424.12 L292.7 423.72 L293.3 424.26 L293.9 424.19 L294.5 424.95 L295.1 425.67 L295.7 426.16 L296.3 425.81 L296.9 426.51 L297.5 427.1 L298.1 428.48 L298.7 428.95 L299.3 429.75 L299.9 431.41 L300.5 432.16 L301.1 432.94 L301.7 432.79 L302.3 433.2 L302.9 434.29 L303.5 435.82 L304.1 436.34 L304.7 436.75 L305.3 437.88 L305.9 439.37 L306.5 440.7 L307.1 441.27 L307.7 441.82 L308.3 442.53 L308.9 443.14 L309.5 443.6 L310.1 443.91 L310.7 444.05 L311.3 444.12 L311.9 444.19 L312.5 444.2 L313.1 444.2 L313.7 444.2 L314.3 444.2 L314.9 444.2 L315.5 444.2 L316.1 444.2 L316.7 444.2 L317.3 444.2 L317.9 444.2 L318.5 444.2 L319.1 444.2 L319.7 444.2 L320.3 444.2 L320.9 444.2 L321.5 444.2 L322.1 444.2 L322.7 444.2 L323.3 444.2 L323.9 444.2 L324.5 444.2 L325.1 444.2 L325.7 444.2 L326.3 444.2 L326.9 444.2 L327.5 444.2 L328.1 444.2 L328.7 444.2 L329.3 444.2 L329.9 444.2 L330.5 444.2 L331.1 444.2 L331.7 444.2 L332.3 444.2 L332.9 444.2 L333.5 444.2 L334.1 444.2 L334.7 444.2 L335.3 444.2 L335.9 444.2 L336.5 444.2 L337.1 444.2 L337.7 444.2 L338.3 444.2 L338.9 444.2 L339.5 444.2 L340.1 444.2 L340.7 444.2 L341.3 444.2 L341.9 444.2 L342.5 444.2 L343.1 444.2 L343.7 444.2 L344.3 444.2 L344.9 444.2 L345.5 444.2 L346.1 444.2 L346.1 444.2 L246.5 444.2 Z" fill="#f0a8a6"/>
<path d="M246.5 444.2 L247.1 444.2 L247.7 444.2 L248.3 444.2 L248.9 444.2 L249.5 444.2 L250.1 444.2 L250.7 444.2 L251.3 444.2 L251.9 444.2 L252.5 444.2 L253.1 444.2 L253.7 444.2 L254.3 444.2 L254.9 444.2 L255.5 444.2 L256.1 444.2 L256.7 444.2 L257.3 444.2 L257.9 444.2 L258.5 444.2 L259.1 444.2 L259.7 444.2 L260.3 444.2 L260.9 444.2 L261.5 444.2 L262.1 444.2 L262.7 444.2 L263.3 444.2 L263.9 444.2 L264.5 444.2 L265.1 444.2 L265.7 444.2 L266.3 444.2 L266.9 444.2 L267.5 444.2 L268.1 444.2 L268.7 443.57 L269.3 442.85 L269.9 442.12 L270.5 441.42 L271.1 440.64 L271.7 439.71 L272.3 438.21 L272.9 436.54 L273.5 435.04 L274.1 433.32 L274.7 431.29 L275.3 428.04 L275.9 425.8 L276.5 423.66 L277.1 423.13 L277.7 423.38 L278.3 423.6 L278.9 423.3 L279.5 422.33 L280.1 423 L280.7 422.95 L281.3 423.34 L281.9 423.53 L282.5 423.89 L283.1 424.44 L283.7 423.81 L284.3 422.52 L284.9 419.91 L285.5 418.43 L286.1 418.79 L286.7 418.94 L287.3 419.22 L287.9 419.93 L288.5 422.35 L289.1 422.23 L289.7 423.29 L290.3 424 L290.9 425.35 L291.5 424.67 L292.1 424.12 L292.7 423.72 L293.3 424.26 L293.9 424.19 L294.5 424.95 L295.1 425.67 L295.7 426.16 L296.3 425.81 L296.9 426.51 L297.5 427.1 L298.1 428.48 L298.7 428.95 L299.3 429.75 L299.9 431.41 L300.5 432.16 L301.1 432.94 L301.7 432.79 L302.3 433.2 L302.9 434.29 L303.5 435.82 L304.1 436.34 L304.7 436.75 L305.3 437.88 L305.9 439.37 L306.5 440.7 L307.1 441.27 L307.7 441.82 L308.3 442.53 L308.9 443.14 L309.5 443.6 L310.1 443.91 L310.7 444.05 L311.3 444.12 L311.9 444.19 L312.5 444.2 L313.1 444.2 L313.7 444.2 L314.3 444.2 L314.9 444.2 L315.5 444.2 L316.1 444.2 L316.7 444.2 L317.3 444.2 L317.9 444.2 L318.5 444.2 L319.1 444.2 L319.7 444.2 L320.3 444.2 L320.9 444.2 L321.5 444.2 L322.1 444.2 L322.7 444.2 L323.3 444.2 L323.9 444.2 L324.5 444.2 L325.1 444.2 L325.7 444.2 L326.3 444.2 L326.9 444.2 L327.5 444.2 L328.1 444.2 L328.7 444.2 L329.3 444.2 L329.9 444.2 L330.5 444.2 L331.1 444.2 L331.7 444.2 L332.3 444.2 L332.9 444.2 L333.5 444.2 L334.1 444.2 L334.7 444.2 L335.3 444.2 L335.9 444.2 L336.5 444.2 L337.1 444.2 L337.7 444.2 L338.3 444.2 L338.9 444.2 L339.5 444.2 L340.1 444.2 L340.7 444.2 L341.3 444.2 L341.9 444.2 L342.5 444.2 L343.1 444.2 L343.7 444.2 L344.3 444.2 L344.9 444.2 L345.5 444.2 L346.1 444.2" fill="none" stroke="#e0393a" stroke-width="1.3"/>
</g>
<line x1="290.3" y1="378.2" x2="290.3" y2="444" stroke="#231f20" stroke-width="1.2" stroke-dasharray="2.4 1.6"/>
<text x="343.6" y="379.8" text-anchor="end" fill="#6b6b6b">Isotype</text>
<text x="343.6" y="399.6" text-anchor="end" fill="#2f5cc0">Vector</text>
<text x="343.6" y="419.5" text-anchor="end" fill="#e0393a">sh<tspan font-style="italic">AEBP1</tspan>-1</text>
<text x="343.6" y="439.2" text-anchor="end" fill="#e0393a">sh<tspan font-style="italic">AEBP1</tspan>-2</text>
<rect x="246" y="343.4" width="100.6" height="100.8" fill="none" stroke="#231f20" stroke-width="1.2"/>
<path d="M246 445.2 H346.6" stroke="#231f20" stroke-width="2" stroke-dasharray="0.6 2.2"/>
<text x="253" y="453.6" font-size="7" text-anchor="middle" fill="#231f20">-10<tspan font-size="4.34" dy="-2.6">3</tspan></text>
<text x="269.2" y="453.2" text-anchor="middle" font-size="7">0</text>
<text x="285.2" y="453.6" font-size="7" text-anchor="middle" fill="#231f20">10<tspan font-size="4.34" dy="-2.6">3</tspan></text>
<text x="313.4" y="453.6" font-size="7" text-anchor="middle" fill="#231f20">10<tspan font-size="4.34" dy="-2.6">4</tspan></text>
<text x="337.5" y="453.6" font-size="7" text-anchor="middle" fill="#231f20">10<tspan font-size="4.34" dy="-2.6">5</tspan></text>
<line x1="246" y1="458.7" x2="312.4" y2="458.7" stroke="#231f20" stroke-width="1.2"/>
<path d="M315.4 458.7 L309.9 456.1 L309.9 461.3 Z" fill="#231f20"/>
<text x="318" y="462.4" font-size="10.2">PD-L1</text>
<line x1="383.1" y1="352.45" x2="383.1" y2="443.4" stroke="#231f20" stroke-width="1.2"/>
<line x1="382.6" y1="442.9" x2="457" y2="442.9" stroke="#231f20" stroke-width="1.2"/>
<line x1="380.3" y1="442.9" x2="383.1" y2="442.9" stroke="#231f20" stroke-width="1.1"/>
<text x="379.5" y="445.3" text-anchor="end" font-size="6.8">0.0</text>
<line x1="380.3" y1="412.75" x2="383.1" y2="412.75" stroke="#231f20" stroke-width="1.1"/>
<text x="379.5" y="415.15" text-anchor="end" font-size="6.8">0.5</text>
<line x1="380.3" y1="382.6" x2="383.1" y2="382.6" stroke="#231f20" stroke-width="1.1"/>
<text x="379.5" y="385" text-anchor="end" font-size="6.8">1.0</text>
<line x1="380.3" y1="352.45" x2="383.1" y2="352.45" stroke="#231f20" stroke-width="1.1"/>
<text x="379.5" y="354.85" text-anchor="end" font-size="6.8">1.5</text>
<text x="363.6" y="398" text-anchor="middle" transform="rotate(-90 363.6 398)">Relative PD-L1 MFI</text>
<path d="M390 442.9 L390 382.6 L404.7 382.6 L404.7 442.9" fill="none" stroke="#2f5cc0" stroke-width="1.4"/>
<line x1="397.35" y1="442.9" x2="397.35" y2="445.7" stroke="#231f20" stroke-width="1.1"/>
<line x1="397.35" y1="382.3" x2="397.35" y2="382.9" stroke="#2f5cc0" stroke-width="1.3"/>
<line x1="393.35" y1="382.3" x2="401.35" y2="382.3" stroke="#2f5cc0" stroke-width="1.3"/>
<line x1="393.35" y1="382.9" x2="401.35" y2="382.9" stroke="#2f5cc0" stroke-width="1.3"/>
<line x1="390" y1="382.6" x2="404.7" y2="382.6" stroke="#2f5cc0" stroke-width="1.4"/>
<circle cx="393.35" cy="382.6" r="1.9" fill="#2f5cc0"/>
<circle cx="397.35" cy="382.6" r="1.9" fill="#2f5cc0"/>
<circle cx="401.35" cy="382.6" r="1.9" fill="#2f5cc0"/>
<path d="M412.3 442.9 L412.3 399.48 L426 399.48 L426 442.9" fill="none" stroke="#e0393a" stroke-width="1.4"/>
<line x1="419.15" y1="442.9" x2="419.15" y2="445.7" stroke="#231f20" stroke-width="1.1"/>
<line x1="419.15" y1="399.18" x2="419.15" y2="399.79" stroke="#e0393a" stroke-width="1.3"/>
<line x1="415.15" y1="399.18" x2="423.15" y2="399.18" stroke="#e0393a" stroke-width="1.3"/>
<line x1="415.15" y1="399.79" x2="423.15" y2="399.79" stroke="#e0393a" stroke-width="1.3"/>
<line x1="412.3" y1="399.48" x2="426" y2="399.48" stroke="#e0393a" stroke-width="1.4"/>
<circle cx="415.15" cy="399.48" r="1.9" fill="#e0393a"/>
<circle cx="419.15" cy="398.88" r="1.9" fill="#e0393a"/>
<circle cx="423.15" cy="399.48" r="1.9" fill="#e0393a"/>
<path d="M434.6 442.9 L434.6 401.29 L448.3 401.29 L448.3 442.9" fill="none" stroke="#e0393a" stroke-width="1.4"/>
<line x1="441.45" y1="442.9" x2="441.45" y2="445.7" stroke="#231f20" stroke-width="1.1"/>
<line x1="441.45" y1="400.99" x2="441.45" y2="401.59" stroke="#e0393a" stroke-width="1.3"/>
<line x1="437.45" y1="400.99" x2="445.45" y2="400.99" stroke="#e0393a" stroke-width="1.3"/>
<line x1="437.45" y1="401.59" x2="445.45" y2="401.59" stroke="#e0393a" stroke-width="1.3"/>
<line x1="434.6" y1="401.29" x2="448.3" y2="401.29" stroke="#e0393a" stroke-width="1.4"/>
<circle cx="437.45" cy="401.9" r="1.9" fill="#e0393a"/>
<circle cx="441.45" cy="400.69" r="1.9" fill="#e0393a"/>
<circle cx="445.45" cy="401.29" r="1.9" fill="#e0393a"/>
<line x1="398.5" y1="360.6" x2="442" y2="360.6" stroke="#231f20" stroke-width="1.3"/>
<text x="420.25" y="357.8" text-anchor="middle" font-size="7.3"><tspan font-style="italic">P</tspan> &lt; 0.0001</text>
<line x1="398.5" y1="374.6" x2="420.8" y2="374.6" stroke="#231f20" stroke-width="1.3"/>
<text x="409.65" y="371.8" text-anchor="middle" font-size="7.3"><tspan font-style="italic">P</tspan> &lt; 0.0001</text>
<text x="400" y="454.5" text-anchor="end" font-size="10.4" transform="rotate(-33 400 454.5)">shNC</text>
<text x="422" y="454.5" text-anchor="end" font-size="10.4" transform="rotate(-33 422 454.5)">shAEBP1-1</text>
<text x="444" y="454.5" text-anchor="end" font-size="10.4" transform="rotate(-33 444 454.5)">shAEBP1-2</text>
<text x="472.4" y="327.5" font-weight="bold" font-size="14.2">G</text>
<text x="584.3" y="332.2" text-anchor="middle">mCAFs</text>
<path d="M487 336.5 H685" stroke="#1a1a1a" stroke-width="1.3" stroke-dasharray="1.1 1" shape-rendering="crispEdges"/>
<clipPath id="cpG"><rect x="487.7" y="343.1" width="100.09999999999997" height="97.59999999999997"/></clipPath>
<g clip-path="url(#cpG)">
<path d="M488.2 392.4 L488.5 392.4 L488.8 392.4 L489.1 392.4 L489.4 392.4 L489.7 392.4 L490 392.4 L490.3 392.4 L490.6 392.4 L490.9 392.4 L491.2 392.4 L491.5 392.4 L491.8 392.4 L492.1 392.4 L492.4 392.4 L492.7 392.4 L493 392.4 L493.3 392.4 L493.6 392.4 L493.9 392.4 L494.2 392.4 L494.5 392.4 L494.8 392.4 L495.1 392.4 L495.4 392.4 L495.7 392.4 L496 392.4 L496.3 392.4 L496.6 392.4 L496.9 392.4 L497.2 392.4 L497.5 392.4 L497.8 392.4 L498.1 392.4 L498.4 392.4 L498.7 392.4 L499 392.4 L499.3 392.4 L499.6 392.4 L499.9 392.4 L500.2 392.4 L500.5 392.4 L500.8 392.4 L501.1 392.4 L501.4 392.4 L501.7 392.4 L502 392.4 L502.3 392.4 L502.6 392.4 L502.9 392.4 L503.2 392.4 L503.5 392.4 L503.8 392.4 L504.1 392.4 L504.4 392.4 L504.7 392.4 L505 392.4 L505.3 392.4 L505.6 392.4 L505.9 392.4 L506.2 392.4 L506.5 392.4 L506.8 392.4 L507.1 392.4 L507.4 392.4 L507.7 392.4 L508 392.4 L508.3 392.4 L508.6 392.4 L508.9 392.4 L509.2 392.4 L509.5 392.4 L509.8 392.39 L510.1 392.38 L510.4 392.34 L510.7 392.23 L511 391.97 L511.3 391.43 L511.6 390.34 L511.9 388.39 L512.2 385.2 L512.5 380.48 L512.8 374.23 L513.1 366.87 L513.4 359.33 L513.7 352.94 L514 348.99 L514.3 348.4 L514.6 351.29 L514.9 357.01 L515.2 364.32 L515.5 371.86 L515.8 378.56 L516.1 383.8 L516.4 387.48 L516.7 389.8 L517 391.14 L517.3 391.83 L517.6 392.17 L517.9 392.31 L518.2 392.37 L518.5 392.39 L518.8 392.4 L519.1 392.4 L519.4 392.4 L519.7 392.4 L520 392.4 L520.3 392.4 L520.6 392.4 L520.9 392.4 L521.2 392.4 L521.5 392.4 L521.8 392.4 L522.1 392.4 L522.4 392.4 L522.7 392.4 L523 392.4 L523.3 392.4 L523.6 392.4 L523.9 392.4 L524.2 392.4 L524.5 392.4 L524.8 392.4 L525.1 392.4 L525.4 392.4 L525.7 392.4 L526 392.4 L526.3 392.4 L526.6 392.4 L526.9 392.4 L527.2 392.4 L527.5 392.4 L527.8 392.4 L528.1 392.4 L528.4 392.4 L528.7 392.4 L529 392.4 L529.3 392.4 L529.6 392.4 L529.9 392.4 L530.2 392.4 L530.5 392.4 L530.8 392.4 L531.1 392.4 L531.4 392.4 L531.7 392.4 L532 392.4 L532.3 392.4 L532.6 392.4 L532.9 392.4 L533.2 392.4 L533.5 392.4 L533.8 392.4 L534.1 392.4 L534.4 392.4 L534.7 392.4 L535 392.4 L535.3 392.4 L535.6 392.4 L535.9 392.4 L536.2 392.4 L536.5 392.4 L536.8 392.4 L537.1 392.4 L537.4 392.4 L537.7 392.4 L538 392.4 L538.3 392.4 L538.6 392.4 L538.9 392.4 L539.2 392.4 L539.5 392.4 L539.8 392.4 L540.1 392.4 L540.4 392.4 L540.7 392.4 L541 392.4 L541.3 392.4 L541.6 392.4 L541.9 392.4 L542.2 392.4 L542.5 392.4 L542.8 392.4 L543.1 392.4 L543.4 392.4 L543.7 392.4 L544 392.4 L544.3 392.4 L544.6 392.4 L544.9 392.4 L545.2 392.4 L545.5 392.4 L545.8 392.4 L546.1 392.4 L546.4 392.4 L546.7 392.4 L547 392.4 L547.3 392.4 L547.6 392.4 L547.9 392.4 L548.2 392.4 L548.5 392.4 L548.8 392.4 L549.1 392.4 L549.4 392.4 L549.7 392.4 L550 392.4 L550.3 392.4 L550.6 392.4 L550.9 392.4 L551.2 392.4 L551.5 392.4 L551.8 392.4 L552.1 392.4 L552.4 392.4 L552.7 392.4 L553 392.4 L553.3 392.4 L553.6 392.4 L553.9 392.4 L554.2 392.4 L554.5 392.4 L554.8 392.4 L555.1 392.4 L555.4 392.4 L555.7 392.4 L556 392.4 L556.3 392.4 L556.6 392.4 L556.9 392.4 L557.2 392.4 L557.5 392.4 L557.8 392.4 L558.1 392.4 L558.4 392.4 L558.7 392.4 L559 392.4 L559.3 392.4 L559.6 392.4 L559.9 392.4 L560.2 392.4 L560.5 392.4 L560.8 392.4 L561.1 392.4 L561.4 392.4 L561.7 392.4 L562 392.4 L562.3 392.4 L562.6 392.4 L562.9 392.4 L563.2 392.4 L563.5 392.4 L563.8 392.4 L564.1 392.4 L564.4 392.4 L564.7 392.4 L565 392.4 L565.3 392.4 L565.6 392.4 L565.9 392.4 L566.2 392.4 L566.5 392.4 L566.8 392.4 L567.1 392.4 L567.4 392.4 L567.7 392.4 L568 392.4 L568.3 392.4 L568.6 392.4 L568.9 392.4 L569.2 392.4 L569.5 392.4 L569.8 392.4 L570.1 392.4 L570.4 392.4 L570.7 392.4 L571 392.4 L571.3 392.4 L571.6 392.4 L571.9 392.4 L572.2 392.4 L572.5 392.4 L572.8 392.4 L573.1 392.4 L573.4 392.4 L573.7 392.4 L574 392.4 L574.3 392.4 L574.6 392.4 L574.9 392.4 L575.2 392.4 L575.5 392.4 L575.8 392.4 L576.1 392.4 L576.4 392.4 L576.7 392.4 L577 392.4 L577.3 392.4 L577.6 392.4 L577.9 392.4 L578.2 392.4 L578.5 392.4 L578.8 392.4 L579.1 392.4 L579.4 392.4 L579.7 392.4 L580 392.4 L580.3 392.4 L580.6 392.4 L580.9 392.4 L581.2 392.4 L581.5 392.4 L581.8 392.4 L582.1 392.4 L582.4 392.4 L582.7 392.4 L583 392.4 L583.3 392.4 L583.6 392.4 L583.9 392.4 L584.2 392.4 L584.5 392.4 L584.8 392.4 L585.1 392.4 L585.4 392.4 L585.7 392.4 L586 392.4 L586.3 392.4 L586.6 392.4 L586.9 392.4 L587.2 392.4 L587.3 392.4 L488.2 392.4 Z" fill="#cfcfcf"/>
<path d="M488.2 392.4 L488.5 392.4 L488.8 392.4 L489.1 392.4 L489.4 392.4 L489.7 392.4 L490 392.4 L490.3 392.4 L490.6 392.4 L490.9 392.4 L491.2 392.4 L491.5 392.4 L491.8 392.4 L492.1 392.4 L492.4 392.4 L492.7 392.4 L493 392.4 L493.3 392.4 L493.6 392.4 L493.9 392.4 L494.2 392.4 L494.5 392.4 L494.8 392.4 L495.1 392.4 L495.4 392.4 L495.7 392.4 L496 392.4 L496.3 392.4 L496.6 392.4 L496.9 392.4 L497.2 392.4 L497.5 392.4 L497.8 392.4 L498.1 392.4 L498.4 392.4 L498.7 392.4 L499 392.4 L499.3 392.4 L499.6 392.4 L499.9 392.4 L500.2 392.4 L500.5 392.4 L500.8 392.4 L501.1 392.4 L501.4 392.4 L501.7 392.4 L502 392.4 L502.3 392.4 L502.6 392.4 L502.9 392.4 L503.2 392.4 L503.5 392.4 L503.8 392.4 L504.1 392.4 L504.4 392.4 L504.7 392.4 L505 392.4 L505.3 392.4 L505.6 392.4 L505.9 392.4 L506.2 392.4 L506.5 392.4 L506.8 392.4 L507.1 392.4 L507.4 392.4 L507.7 392.4 L508 392.4 L508.3 392.4 L508.6 392.4 L508.9 392.4 L509.2 392.4 L509.5 392.4 L509.8 392.39 L510.1 392.38 L510.4 392.34 L510.7 392.23 L511 391.97 L511.3 391.43 L511.6 390.34 L511.9 388.39 L512.2 385.2 L512.5 380.48 L512.8 374.23 L513.1 366.87 L513.4 359.33 L513.7 352.94 L514 348.99 L514.3 348.4 L514.6 351.29 L514.9 357.01 L515.2 364.32 L515.5 371.86 L515.8 378.56 L516.1 383.8 L516.4 387.48 L516.7 389.8 L517 391.14 L517.3 391.83 L517.6 392.17 L517.9 392.31 L518.2 392.37 L518.5 392.39 L518.8 392.4 L519.1 392.4 L519.4 392.4 L519.7 392.4 L520 392.4 L520.3 392.4 L520.6 392.4 L520.9 392.4 L521.2 392.4 L521.5 392.4 L521.8 392.4 L522.1 392.4 L522.4 392.4 L522.7 392.4 L523 392.4 L523.3 392.4 L523.6 392.4 L523.9 392.4 L524.2 392.4 L524.5 392.4 L524.8 392.4 L525.1 392.4 L525.4 392.4 L525.7 392.4 L526 392.4 L526.3 392.4 L526.6 392.4 L526.9 392.4 L527.2 392.4 L527.5 392.4 L527.8 392.4 L528.1 392.4 L528.4 392.4 L528.7 392.4 L529 392.4 L529.3 392.4 L529.6 392.4 L529.9 392.4 L530.2 392.4 L530.5 392.4 L530.8 392.4 L531.1 392.4 L531.4 392.4 L531.7 392.4 L532 392.4 L532.3 392.4 L532.6 392.4 L532.9 392.4 L533.2 392.4 L533.5 392.4 L533.8 392.4 L534.1 392.4 L534.4 392.4 L534.7 392.4 L535 392.4 L535.3 392.4 L535.6 392.4 L535.9 392.4 L536.2 392.4 L536.5 392.4 L536.8 392.4 L537.1 392.4 L537.4 392.4 L537.7 392.4 L538 392.4 L538.3 392.4 L538.6 392.4 L538.9 392.4 L539.2 392.4 L539.5 392.4 L539.8 392.4 L540.1 392.4 L540.4 392.4 L540.7 392.4 L541 392.4 L541.3 392.4 L541.6 392.4 L541.9 392.4 L542.2 392.4 L542.5 392.4 L542.8 392.4 L543.1 392.4 L543.4 392.4 L543.7 392.4 L544 392.4 L544.3 392.4 L544.6 392.4 L544.9 392.4 L545.2 392.4 L545.5 392.4 L545.8 392.4 L546.1 392.4 L546.4 392.4 L546.7 392.4 L547 392.4 L547.3 392.4 L547.6 392.4 L547.9 392.4 L548.2 392.4 L548.5 392.4 L548.8 392.4 L549.1 392.4 L549.4 392.4 L549.7 392.4 L550 392.4 L550.3 392.4 L550.6 392.4 L550.9 392.4 L551.2 392.4 L551.5 392.4 L551.8 392.4 L552.1 392.4 L552.4 392.4 L552.7 392.4 L553 392.4 L553.3 392.4 L553.6 392.4 L553.9 392.4 L554.2 392.4 L554.5 392.4 L554.8 392.4 L555.1 392.4 L555.4 392.4 L555.7 392.4 L556 392.4 L556.3 392.4 L556.6 392.4 L556.9 392.4 L557.2 392.4 L557.5 392.4 L557.8 392.4 L558.1 392.4 L558.4 392.4 L558.7 392.4 L559 392.4 L559.3 392.4 L559.6 392.4 L559.9 392.4 L560.2 392.4 L560.5 392.4 L560.8 392.4 L561.1 392.4 L561.4 392.4 L561.7 392.4 L562 392.4 L562.3 392.4 L562.6 392.4 L562.9 392.4 L563.2 392.4 L563.5 392.4 L563.8 392.4 L564.1 392.4 L564.4 392.4 L564.7 392.4 L565 392.4 L565.3 392.4 L565.6 392.4 L565.9 392.4 L566.2 392.4 L566.5 392.4 L566.8 392.4 L567.1 392.4 L567.4 392.4 L567.7 392.4 L568 392.4 L568.3 392.4 L568.6 392.4 L568.9 392.4 L569.2 392.4 L569.5 392.4 L569.8 392.4 L570.1 392.4 L570.4 392.4 L570.7 392.4 L571 392.4 L571.3 392.4 L571.6 392.4 L571.9 392.4 L572.2 392.4 L572.5 392.4 L572.8 392.4 L573.1 392.4 L573.4 392.4 L573.7 392.4 L574 392.4 L574.3 392.4 L574.6 392.4 L574.9 392.4 L575.2 392.4 L575.5 392.4 L575.8 392.4 L576.1 392.4 L576.4 392.4 L576.7 392.4 L577 392.4 L577.3 392.4 L577.6 392.4 L577.9 392.4 L578.2 392.4 L578.5 392.4 L578.8 392.4 L579.1 392.4 L579.4 392.4 L579.7 392.4 L580 392.4 L580.3 392.4 L580.6 392.4 L580.9 392.4 L581.2 392.4 L581.5 392.4 L581.8 392.4 L582.1 392.4 L582.4 392.4 L582.7 392.4 L583 392.4 L583.3 392.4 L583.6 392.4 L583.9 392.4 L584.2 392.4 L584.5 392.4 L584.8 392.4 L585.1 392.4 L585.4 392.4 L585.7 392.4 L586 392.4 L586.3 392.4 L586.6 392.4 L586.9 392.4 L587.2 392.4" fill="none" stroke="#8a8a8a" stroke-width="1.3"/>
<path d="M488.2 416.6 L488.8 416.6 L489.4 416.6 L490 416.6 L490.6 416.6 L491.2 416.6 L491.8 416.6 L492.4 416.6 L493 416.6 L493.6 416.6 L494.2 416.6 L494.8 416.6 L495.4 416.6 L496 416.6 L496.6 416.6 L497.2 416.6 L497.8 416.6 L498.4 416.6 L499 416.6 L499.6 416.6 L500.2 416.6 L500.8 416.6 L501.4 416.6 L502 416.6 L502.6 416.6 L503.2 416.6 L503.8 416.6 L504.4 416.6 L505 416.6 L505.6 416.6 L506.2 416.6 L506.8 416.6 L507.4 416.6 L508 416.6 L508.6 416.6 L509.2 416.6 L509.8 416.6 L510.4 416.41 L511 415.88 L511.6 415.3 L512.2 414.57 L512.8 413.7 L513.4 412.22 L514 409.86 L514.6 407.34 L515.2 404.75 L515.8 402.03 L516.4 399.79 L517 397.51 L517.6 394 L518.2 390.55 L518.8 385.32 L519.4 383.6 L520 380.66 L520.6 379.09 L521.2 377.36 L521.8 375.88 L522.4 375.15 L523 374.4 L523.6 373.35 L524.2 372.05 L524.8 373.21 L525.4 375.09 L526 376.99 L526.6 376.98 L527.2 376.96 L527.8 379.5 L528.4 380.82 L529 383.04 L529.6 385.16 L530.2 386.85 L530.8 389.36 L531.4 389.64 L532 391.59 L532.6 392.11 L533.2 392.32 L533.8 392.12 L534.4 392.53 L535 394.02 L535.6 395.69 L536.2 395.8 L536.8 396.17 L537.4 396.66 L538 398.42 L538.6 399.12 L539.2 399.26 L539.8 398.65 L540.4 399.62 L541 400.48 L541.6 401.25 L542.2 401.41 L542.8 401.32 L543.4 401.71 L544 402.74 L544.6 404.59 L545.2 405.58 L545.8 406.11 L546.4 405.8 L547 407.27 L547.6 407.58 L548.2 408.1 L548.8 407.88 L549.4 408.14 L550 408.58 L550.6 408.79 L551.2 409.01 L551.8 409.12 L552.4 409.29 L553 409.96 L553.6 410.67 L554.2 411.23 L554.8 411.62 L555.4 412.2 L556 412.58 L556.6 412.77 L557.2 413.01 L557.8 413.64 L558.4 413.83 L559 414.09 L559.6 414.33 L560.2 414.55 L560.8 414.74 L561.4 414.86 L562 415.01 L562.6 415.12 L563.2 415.24 L563.8 415.34 L564.4 415.46 L565 415.63 L565.6 415.75 L566.2 415.86 L566.8 415.93 L567.4 416.01 L568 416.11 L568.6 416.21 L569.2 416.33 L569.8 416.44 L570.4 416.56 L571 416.6 L571.6 416.6 L572.2 416.6 L572.8 416.6 L573.4 416.6 L574 416.6 L574.6 416.6 L575.2 416.6 L575.8 416.6 L576.4 416.6 L577 416.6 L577.6 416.6 L578.2 416.6 L578.8 416.6 L579.4 416.6 L580 416.6 L580.6 416.6 L581.2 416.6 L581.8 416.6 L582.4 416.6 L583 416.6 L583.6 416.6 L584.2 416.6 L584.8 416.6 L585.4 416.6 L586 416.6 L586.6 416.6 L587.2 416.6 L587.3 416.6 L488.2 416.6 Z" fill="#a9c1e2"/>
<path d="M488.2 416.6 L488.8 416.6 L489.4 416.6 L490 416.6 L490.6 416.6 L491.2 416.6 L491.8 416.6 L492.4 416.6 L493 416.6 L493.6 416.6 L494.2 416.6 L494.8 416.6 L495.4 416.6 L496 416.6 L496.6 416.6 L497.2 416.6 L497.8 416.6 L498.4 416.6 L499 416.6 L499.6 416.6 L500.2 416.6 L500.8 416.6 L501.4 416.6 L502 416.6 L502.6 416.6 L503.2 416.6 L503.8 416.6 L504.4 416.6 L505 416.6 L505.6 416.6 L506.2 416.6 L506.8 416.6 L507.4 416.6 L508 416.6 L508.6 416.6 L509.2 416.6 L509.8 416.6 L510.4 416.41 L511 415.88 L511.6 415.3 L512.2 414.57 L512.8 413.7 L513.4 412.22 L514 409.86 L514.6 407.34 L515.2 404.75 L515.8 402.03 L516.4 399.79 L517 397.51 L517.6 394 L518.2 390.55 L518.8 385.32 L519.4 383.6 L520 380.66 L520.6 379.09 L521.2 377.36 L521.8 375.88 L522.4 375.15 L523 374.4 L523.6 373.35 L524.2 372.05 L524.8 373.21 L525.4 375.09 L526 376.99 L526.6 376.98 L527.2 376.96 L527.8 379.5 L528.4 380.82 L529 383.04 L529.6 385.16 L530.2 386.85 L530.8 389.36 L531.4 389.64 L532 391.59 L532.6 392.11 L533.2 392.32 L533.8 392.12 L534.4 392.53 L535 394.02 L535.6 395.69 L536.2 395.8 L536.8 396.17 L537.4 396.66 L538 398.42 L538.6 399.12 L539.2 399.26 L539.8 398.65 L540.4 399.62 L541 400.48 L541.6 401.25 L542.2 401.41 L542.8 401.32 L543.4 401.71 L544 402.74 L544.6 404.59 L545.2 405.58 L545.8 406.11 L546.4 405.8 L547 407.27 L547.6 407.58 L548.2 408.1 L548.8 407.88 L549.4 408.14 L550 408.58 L550.6 408.79 L551.2 409.01 L551.8 409.12 L552.4 409.29 L553 409.96 L553.6 410.67 L554.2 411.23 L554.8 411.62 L555.4 412.2 L556 412.58 L556.6 412.77 L557.2 413.01 L557.8 413.64 L558.4 413.83 L559 414.09 L559.6 414.33 L560.2 414.55 L560.8 414.74 L561.4 414.86 L562 415.01 L562.6 415.12 L563.2 415.24 L563.8 415.34 L564.4 415.46 L565 415.63 L565.6 415.75 L566.2 415.86 L566.8 415.93 L567.4 416.01 L568 416.11 L568.6 416.21 L569.2 416.33 L569.8 416.44 L570.4 416.56 L571 416.6 L571.6 416.6 L572.2 416.6 L572.8 416.6 L573.4 416.6 L574 416.6 L574.6 416.6 L575.2 416.6 L575.8 416.6 L576.4 416.6 L577 416.6 L577.6 416.6 L578.2 416.6 L578.8 416.6 L579.4 416.6 L580 416.6 L580.6 416.6 L581.2 416.6 L581.8 416.6 L582.4 416.6 L583 416.6 L583.6 416.6 L584.2 416.6 L584.8 416.6 L585.4 416.6 L586 416.6 L586.6 416.6 L587.2 416.6" fill="none" stroke="#2f5cc0" stroke-width="1.3"/>
<path d="M488.2 440.7 L488.8 440.7 L489.4 440.7 L490 440.7 L490.6 440.7 L491.2 440.7 L491.8 440.7 L492.4 440.7 L493 440.7 L493.6 440.7 L494.2 440.7 L494.8 440.7 L495.4 440.7 L496 440.7 L496.6 440.7 L497.2 440.7 L497.8 440.7 L498.4 440.7 L499 440.7 L499.6 440.7 L500.2 440.7 L500.8 440.7 L501.4 440.7 L502 440.7 L502.6 440.7 L503.2 440.7 L503.8 440.7 L504.4 440.7 L505 440.7 L505.6 440.7 L506.2 440.7 L506.8 440.7 L507.4 440.7 L508 440.7 L508.6 440.7 L509.2 440.7 L509.8 440.7 L510.4 440.7 L511 440.7 L511.6 435.11 L512.2 425.62 L512.8 417.07 L513.4 407.26 L514 401.08 L514.6 396.41 L515.2 398.75 L515.8 400.5 L516.4 406.49 L517 409 L517.6 413.13 L518.2 415.11 L518.8 418.06 L519.4 419.64 L520 421.28 L520.6 421.67 L521.2 421.7 L521.8 420.95 L522.4 420.51 L523 420.07 L523.6 419.45 L524.2 419.98 L524.8 421.42 L525.4 424.51 L526 426.76 L526.6 427.62 L527.2 427.66 L527.8 428.15 L528.4 429.21 L529 430.01 L529.6 430.04 L530.2 429.76 L530.8 430.1 L531.4 430.68 L532 431.06 L532.6 431.6 L533.2 432.1 L533.8 432.87 L534.4 432.92 L535 432.86 L535.6 432.78 L536.2 432.91 L536.8 432.37 L537.4 432.51 L538 433.36 L538.6 434.62 L539.2 434.94 L539.8 434.84 L540.4 434.17 L541 434.58 L541.6 434.71 L542.2 435.46 L542.8 435.64 L543.4 435.65 L544 435.98 L544.6 436.08 L545.2 436.58 L545.8 437.34 L546.4 437.53 L547 437.26 L547.6 437.12 L548.2 437.56 L548.8 437.84 L549.4 438.06 L550 438.26 L550.6 438.52 L551.2 438.71 L551.8 438.94 L552.4 439.12 L553 439.36 L553.6 439.59 L554.2 439.86 L554.8 440.08 L555.4 440.3 L556 440.51 L556.6 440.7 L557.2 440.7 L557.8 440.7 L558.4 440.7 L559 440.7 L559.6 440.7 L560.2 440.7 L560.8 440.7 L561.4 440.7 L562 440.7 L562.6 440.7 L563.2 440.7 L563.8 440.7 L564.4 440.7 L565 440.7 L565.6 440.7 L566.2 440.7 L566.8 440.7 L567.4 440.7 L568 440.7 L568.6 440.7 L569.2 440.7 L569.8 440.7 L570.4 440.7 L571 440.7 L571.6 440.7 L572.2 440.7 L572.8 440.7 L573.4 440.7 L574 440.7 L574.6 440.7 L575.2 440.7 L575.8 440.7 L576.4 440.7 L577 440.7 L577.6 440.7 L578.2 440.7 L578.8 440.7 L579.4 440.7 L580 440.7 L580.6 440.7 L581.2 440.7 L581.8 440.7 L582.4 440.7 L583 440.7 L583.6 440.7 L584.2 440.7 L584.8 440.7 L585.4 440.7 L586 440.7 L586.6 440.7 L587.2 440.7 L587.3 440.7 L488.2 440.7 Z" fill="#f0a8a6"/>
<path d="M488.2 440.7 L488.8 440.7 L489.4 440.7 L490 440.7 L490.6 440.7 L491.2 440.7 L491.8 440.7 L492.4 440.7 L493 440.7 L493.6 440.7 L494.2 440.7 L494.8 440.7 L495.4 440.7 L496 440.7 L496.6 440.7 L497.2 440.7 L497.8 440.7 L498.4 440.7 L499 440.7 L499.6 440.7 L500.2 440.7 L500.8 440.7 L501.4 440.7 L502 440.7 L502.6 440.7 L503.2 440.7 L503.8 440.7 L504.4 440.7 L505 440.7 L505.6 440.7 L506.2 440.7 L506.8 440.7 L507.4 440.7 L508 440.7 L508.6 440.7 L509.2 440.7 L509.8 440.7 L510.4 440.7 L511 440.7 L511.6 435.11 L512.2 425.62 L512.8 417.07 L513.4 407.26 L514 401.08 L514.6 396.41 L515.2 398.75 L515.8 400.5 L516.4 406.49 L517 409 L517.6 413.13 L518.2 415.11 L518.8 418.06 L519.4 419.64 L520 421.28 L520.6 421.67 L521.2 421.7 L521.8 420.95 L522.4 420.51 L523 420.07 L523.6 419.45 L524.2 419.98 L524.8 421.42 L525.4 424.51 L526 426.76 L526.6 427.62 L527.2 427.66 L527.8 428.15 L528.4 429.21 L529 430.01 L529.6 430.04 L530.2 429.76 L530.8 430.1 L531.4 430.68 L532 431.06 L532.6 431.6 L533.2 432.1 L533.8 432.87 L534.4 432.92 L535 432.86 L535.6 432.78 L536.2 432.91 L536.8 432.37 L537.4 432.51 L538 433.36 L538.6 434.62 L539.2 434.94 L539.8 434.84 L540.4 434.17 L541 434.58 L541.6 434.71 L542.2 435.46 L542.8 435.64 L543.4 435.65 L544 435.98 L544.6 436.08 L545.2 436.58 L545.8 437.34 L546.4 437.53 L547 437.26 L547.6 437.12 L548.2 437.56 L548.8 437.84 L549.4 438.06 L550 438.26 L550.6 438.52 L551.2 438.71 L551.8 438.94 L552.4 439.12 L553 439.36 L553.6 439.59 L554.2 439.86 L554.8 440.08 L555.4 440.3 L556 440.51 L556.6 440.7 L557.2 440.7 L557.8 440.7 L558.4 440.7 L559 440.7 L559.6 440.7 L560.2 440.7 L560.8 440.7 L561.4 440.7 L562 440.7 L562.6 440.7 L563.2 440.7 L563.8 440.7 L564.4 440.7 L565 440.7 L565.6 440.7 L566.2 440.7 L566.8 440.7 L567.4 440.7 L568 440.7 L568.6 440.7 L569.2 440.7 L569.8 440.7 L570.4 440.7 L571 440.7 L571.6 440.7 L572.2 440.7 L572.8 440.7 L573.4 440.7 L574 440.7 L574.6 440.7 L575.2 440.7 L575.8 440.7 L576.4 440.7 L577 440.7 L577.6 440.7 L578.2 440.7 L578.8 440.7 L579.4 440.7 L580 440.7 L580.6 440.7 L581.2 440.7 L581.8 440.7 L582.4 440.7 L583 440.7 L583.6 440.7 L584.2 440.7 L584.8 440.7 L585.4 440.7 L586 440.7 L586.6 440.7 L587.2 440.7" fill="none" stroke="#e0393a" stroke-width="1.3"/>
</g>
<line x1="523.3" y1="374.3" x2="523.3" y2="440.7" stroke="#231f20" stroke-width="1.2" stroke-dasharray="2.4 1.6"/>
<text x="584.3" y="385" text-anchor="end" fill="#6b6b6b">Isotyoe</text>
<text x="584.3" y="408" text-anchor="end" fill="#2f5cc0">WT</text>
<text x="584.3" y="431.5" text-anchor="end" fill="#e0393a"><tspan font-style="italic">Aebp1</tspan><tspan font-size="6.5" dy="-3.2">-/-</tspan></text>
<rect x="487.7" y="343.1" width="100.1" height="97.6" fill="none" stroke="#231f20" stroke-width="1.2"/>
<path d="M487.7 441.7 H587.8" stroke="#231f20" stroke-width="2" stroke-dasharray="0.6 2.2"/>
<text x="494.1" y="450.1" font-size="7" text-anchor="middle" fill="#231f20">-10<tspan font-size="4.34" dy="-2.6">3</tspan></text>
<text x="512.8" y="449.7" text-anchor="middle" font-size="7">0</text>
<text x="532.8" y="450.1" font-size="7" text-anchor="middle" fill="#231f20">10<tspan font-size="4.34" dy="-2.6">3</tspan></text>
<text x="562.6" y="450.1" font-size="7" text-anchor="middle" fill="#231f20">10<tspan font-size="4.34" dy="-2.6">4</tspan></text>
<line x1="487.7" y1="456.9" x2="554.5" y2="456.9" stroke="#231f20" stroke-width="1.2"/>
<path d="M557.5 456.9 L552 454.3 L552 459.5 Z" fill="#231f20"/>
<text x="560.2" y="460.6" font-size="10.2">PD-L1</text>
<line x1="621.3" y1="353.8" x2="621.3" y2="441.6" stroke="#231f20" stroke-width="1.2"/>
<line x1="620.8" y1="441.1" x2="679.8" y2="441.1" stroke="#231f20" stroke-width="1.2"/>
<line x1="618.5" y1="441.1" x2="621.3" y2="441.1" stroke="#231f20" stroke-width="1.1"/>
<text x="617.7" y="443.5" text-anchor="end" font-size="6.8">0.0</text>
<line x1="618.5" y1="412" x2="621.3" y2="412" stroke="#231f20" stroke-width="1.1"/>
<text x="617.7" y="414.4" text-anchor="end" font-size="6.8">0.5</text>
<line x1="618.5" y1="382.9" x2="621.3" y2="382.9" stroke="#231f20" stroke-width="1.1"/>
<text x="617.7" y="385.3" text-anchor="end" font-size="6.8">1.0</text>
<line x1="618.5" y1="353.8" x2="621.3" y2="353.8" stroke="#231f20" stroke-width="1.1"/>
<text x="617.7" y="356.2" text-anchor="end" font-size="6.8">1.5</text>
<text x="602" y="396.6" text-anchor="middle" transform="rotate(-90 602 396.6)">Relative PD-L1 MFI</text>
<path d="M630.1 441.1 L630.1 382.9 L646 382.9 L646 441.1" fill="none" stroke="#2f5cc0" stroke-width="1.4"/>
<line x1="638.05" y1="441.1" x2="638.05" y2="443.9" stroke="#231f20" stroke-width="1.1"/>
<line x1="638.05" y1="377.08" x2="638.05" y2="388.72" stroke="#2f5cc0" stroke-width="1.3"/>
<line x1="634.05" y1="377.08" x2="642.05" y2="377.08" stroke="#2f5cc0" stroke-width="1.3"/>
<line x1="634.05" y1="388.72" x2="642.05" y2="388.72" stroke="#2f5cc0" stroke-width="1.3"/>
<line x1="630.1" y1="382.9" x2="646" y2="382.9" stroke="#2f5cc0" stroke-width="1.4"/>
<circle cx="638.05" cy="371.84" r="1.9" fill="#2f5cc0"/>
<circle cx="638.05" cy="386.97" r="1.9" fill="#2f5cc0"/>
<circle cx="638.05" cy="390.47" r="1.9" fill="#2f5cc0"/>
<path d="M655.4 441.1 L655.4 411.19 L671.4 411.19 L671.4 441.1" fill="none" stroke="#e0393a" stroke-width="1.4"/>
<line x1="663.4" y1="441.1" x2="663.4" y2="443.9" stroke="#231f20" stroke-width="1.1"/>
<line x1="663.4" y1="410.6" x2="663.4" y2="411.77" stroke="#e0393a" stroke-width="1.3"/>
<line x1="659.4" y1="410.6" x2="667.4" y2="410.6" stroke="#e0393a" stroke-width="1.3"/>
<line x1="659.4" y1="411.77" x2="667.4" y2="411.77" stroke="#e0393a" stroke-width="1.3"/>
<line x1="655.4" y1="411.19" x2="671.4" y2="411.19" stroke="#e0393a" stroke-width="1.4"/>
<rect x="656.6" y="408.45" width="3.6" height="3.6" fill="#e0393a"/>
<rect x="661.6" y="407.87" width="3.6" height="3.6" fill="#e0393a"/>
<rect x="666.6" y="408.45" width="3.6" height="3.6" fill="#e0393a"/>
<line x1="638.4" y1="356.5" x2="663.1" y2="356.5" stroke="#231f20" stroke-width="1.3"/>
<text x="650.75" y="353.3" text-anchor="middle" font-size="7.3"><tspan font-style="italic">P</tspan> = 0.0066</text>
<text x="640.5" y="451.5" text-anchor="end" font-size="10.5" transform="rotate(-33 640.5 451.5)">WT</text>
<text x="665.5" y="450.5" text-anchor="end" font-size="10.5" transform="rotate(-33 665.5 450.5)"><tspan font-style="italic">Aebp1</tspan><tspan font-size="6.5" dy="-3.2">-/-</tspan></text>
<text x="-1.5" y="490.7" font-weight="bold" font-size="14.2">H</text>
<text x="109" y="497.3" text-anchor="middle">hCAFs</text>
<path d="M14 502.5 H205" stroke="#1a1a1a" stroke-width="1.3" stroke-dasharray="1.1 1" shape-rendering="crispEdges"/>
<clipPath id="cpH"><rect x="14.3" y="509.4" width="100.3" height="100.30000000000007"/></clipPath>
<g clip-path="url(#cpH)">
<path d="M14.8 560.6 L15.1 560.6 L15.4 560.6 L15.7 560.6 L16 560.6 L16.3 560.6 L16.6 560.6 L16.9 560.6 L17.2 560.6 L17.5 560.6 L17.8 560.6 L18.1 560.6 L18.4 560.6 L18.7 560.6 L19 560.6 L19.3 560.6 L19.6 560.6 L19.9 560.6 L20.2 560.6 L20.5 560.6 L20.8 560.6 L21.1 560.6 L21.4 560.6 L21.7 560.6 L22 560.6 L22.3 560.6 L22.6 560.6 L22.9 560.6 L23.2 560.6 L23.5 560.6 L23.8 560.6 L24.1 560.6 L24.4 560.6 L24.7 560.6 L25 560.6 L25.3 560.6 L25.6 560.6 L25.9 560.6 L26.2 560.6 L26.5 560.6 L26.8 560.6 L27.1 560.6 L27.4 560.6 L27.7 560.6 L28 560.6 L28.3 560.6 L28.6 560.6 L28.9 560.6 L29.2 560.6 L29.5 560.6 L29.8 560.6 L30.1 560.6 L30.4 560.6 L30.7 560.6 L31 560.6 L31.3 560.6 L31.6 560.6 L31.9 560.6 L32.2 560.6 L32.5 560.6 L32.8 560.6 L33.1 560.59 L33.4 560.58 L33.7 560.54 L34 560.42 L34.3 560.13 L34.6 559.5 L34.9 558.24 L35.2 555.97 L35.5 552.29 L35.8 546.96 L36.1 540.16 L36.4 532.59 L36.7 525.52 L37 520.45 L37.3 518.6 L37.6 520.45 L37.9 525.52 L38.2 532.59 L38.5 540.16 L38.8 546.96 L39.1 552.29 L39.4 555.97 L39.7 558.24 L40 559.5 L40.3 560.13 L40.6 560.42 L40.9 560.54 L41.2 560.58 L41.5 560.59 L41.8 560.6 L42.1 560.6 L42.4 560.6 L42.7 560.6 L43 560.6 L43.3 560.6 L43.6 560.6 L43.9 560.6 L44.2 560.6 L44.5 560.6 L44.8 560.6 L45.1 560.6 L45.4 560.6 L45.7 560.6 L46 560.6 L46.3 560.6 L46.6 560.6 L46.9 560.6 L47.2 560.6 L47.5 560.6 L47.8 560.6 L48.1 560.6 L48.4 560.6 L48.7 560.6 L49 560.6 L49.3 560.6 L49.6 560.6 L49.9 560.6 L50.2 560.6 L50.5 560.6 L50.8 560.6 L51.1 560.6 L51.4 560.6 L51.7 560.6 L52 560.6 L52.3 560.6 L52.6 560.6 L52.9 560.6 L53.2 560.6 L53.5 560.6 L53.8 560.6 L54.1 560.6 L54.4 560.6 L54.7 560.6 L55 560.6 L55.3 560.6 L55.6 560.6 L55.9 560.6 L56.2 560.6 L56.5 560.6 L56.8 560.6 L57.1 560.6 L57.4 560.6 L57.7 560.6 L58 560.6 L58.3 560.6 L58.6 560.6 L58.9 560.6 L59.2 560.6 L59.5 560.6 L59.8 560.6 L60.1 560.6 L60.4 560.6 L60.7 560.6 L61 560.6 L61.3 560.6 L61.6 560.6 L61.9 560.6 L62.2 560.6 L62.5 560.6 L62.8 560.6 L63.1 560.6 L63.4 560.6 L63.7 560.6 L64 560.6 L64.3 560.6 L64.6 560.6 L64.9 560.6 L65.2 560.6 L65.5 560.6 L65.8 560.6 L66.1 560.6 L66.4 560.6 L66.7 560.6 L67 560.6 L67.3 560.6 L67.6 560.6 L67.9 560.6 L68.2 560.6 L68.5 560.6 L68.8 560.6 L69.1 560.6 L69.4 560.6 L69.7 560.6 L70 560.6 L70.3 560.6 L70.6 560.6 L70.9 560.6 L71.2 560.6 L71.5 560.6 L71.8 560.6 L72.1 560.6 L72.4 560.6 L72.7 560.6 L73 560.6 L73.3 560.6 L73.6 560.6 L73.9 560.6 L74.2 560.6 L74.5 560.6 L74.8 560.6 L75.1 560.6 L75.4 560.6 L75.7 560.6 L76 560.6 L76.3 560.6 L76.6 560.6 L76.9 560.6 L77.2 560.6 L77.5 560.6 L77.8 560.6 L78.1 560.6 L78.4 560.6 L78.7 560.6 L79 560.6 L79.3 560.6 L79.6 560.6 L79.9 560.6 L80.2 560.6 L80.5 560.6 L80.8 560.6 L81.1 560.6 L81.4 560.6 L81.7 560.6 L82 560.6 L82.3 560.6 L82.6 560.6 L82.9 560.6 L83.2 560.6 L83.5 560.6 L83.8 560.6 L84.1 560.6 L84.4 560.6 L84.7 560.6 L85 560.6 L85.3 560.6 L85.6 560.6 L85.9 560.6 L86.2 560.6 L86.5 560.6 L86.8 560.6 L87.1 560.6 L87.4 560.6 L87.7 560.6 L88 560.6 L88.3 560.6 L88.6 560.6 L88.9 560.6 L89.2 560.6 L89.5 560.6 L89.8 560.6 L90.1 560.6 L90.4 560.6 L90.7 560.6 L91 560.6 L91.3 560.6 L91.6 560.6 L91.9 560.6 L92.2 560.6 L92.5 560.6 L92.8 560.6 L93.1 560.6 L93.4 560.6 L93.7 560.6 L94 560.6 L94.3 560.6 L94.6 560.6 L94.9 560.6 L95.2 560.6 L95.5 560.6 L95.8 560.6 L96.1 560.6 L96.4 560.6 L96.7 560.6 L97 560.6 L97.3 560.6 L97.6 560.6 L97.9 560.6 L98.2 560.6 L98.5 560.6 L98.8 560.6 L99.1 560.6 L99.4 560.6 L99.7 560.6 L100 560.6 L100.3 560.6 L100.6 560.6 L100.9 560.6 L101.2 560.6 L101.5 560.6 L101.8 560.6 L102.1 560.6 L102.4 560.6 L102.7 560.6 L103 560.6 L103.3 560.6 L103.6 560.6 L103.9 560.6 L104.2 560.6 L104.5 560.6 L104.8 560.6 L105.1 560.6 L105.4 560.6 L105.7 560.6 L106 560.6 L106.3 560.6 L106.6 560.6 L106.9 560.6 L107.2 560.6 L107.5 560.6 L107.8 560.6 L108.1 560.6 L108.4 560.6 L108.7 560.6 L109 560.6 L109.3 560.6 L109.6 560.6 L109.9 560.6 L110.2 560.6 L110.5 560.6 L110.8 560.6 L111.1 560.6 L111.4 560.6 L111.7 560.6 L112 560.6 L112.3 560.6 L112.6 560.6 L112.9 560.6 L113.2 560.6 L113.5 560.6 L113.8 560.6 L114.1 560.6 L114.1 560.6 L14.8 560.6 Z" fill="#cfcfcf"/>
<path d="M14.8 560.6 L15.1 560.6 L15.4 560.6 L15.7 560.6 L16 560.6 L16.3 560.6 L16.6 560.6 L16.9 560.6 L17.2 560.6 L17.5 560.6 L17.8 560.6 L18.1 560.6 L18.4 560.6 L18.7 560.6 L19 560.6 L19.3 560.6 L19.6 560.6 L19.9 560.6 L20.2 560.6 L20.5 560.6 L20.8 560.6 L21.1 560.6 L21.4 560.6 L21.7 560.6 L22 560.6 L22.3 560.6 L22.6 560.6 L22.9 560.6 L23.2 560.6 L23.5 560.6 L23.8 560.6 L24.1 560.6 L24.4 560.6 L24.7 560.6 L25 560.6 L25.3 560.6 L25.6 560.6 L25.9 560.6 L26.2 560.6 L26.5 560.6 L26.8 560.6 L27.1 560.6 L27.4 560.6 L27.7 560.6 L28 560.6 L28.3 560.6 L28.6 560.6 L28.9 560.6 L29.2 560.6 L29.5 560.6 L29.8 560.6 L30.1 560.6 L30.4 560.6 L30.7 560.6 L31 560.6 L31.3 560.6 L31.6 560.6 L31.9 560.6 L32.2 560.6 L32.5 560.6 L32.8 560.6 L33.1 560.59 L33.4 560.58 L33.7 560.54 L34 560.42 L34.3 560.13 L34.6 559.5 L34.9 558.24 L35.2 555.97 L35.5 552.29 L35.8 546.96 L36.1 540.16 L36.4 532.59 L36.7 525.52 L37 520.45 L37.3 518.6 L37.6 520.45 L37.9 525.52 L38.2 532.59 L38.5 540.16 L38.8 546.96 L39.1 552.29 L39.4 555.97 L39.7 558.24 L40 559.5 L40.3 560.13 L40.6 560.42 L40.9 560.54 L41.2 560.58 L41.5 560.59 L41.8 560.6 L42.1 560.6 L42.4 560.6 L42.7 560.6 L43 560.6 L43.3 560.6 L43.6 560.6 L43.9 560.6 L44.2 560.6 L44.5 560.6 L44.8 560.6 L45.1 560.6 L45.4 560.6 L45.7 560.6 L46 560.6 L46.3 560.6 L46.6 560.6 L46.9 560.6 L47.2 560.6 L47.5 560.6 L47.8 560.6 L48.1 560.6 L48.4 560.6 L48.7 560.6 L49 560.6 L49.3 560.6 L49.6 560.6 L49.9 560.6 L50.2 560.6 L50.5 560.6 L50.8 560.6 L51.1 560.6 L51.4 560.6 L51.7 560.6 L52 560.6 L52.3 560.6 L52.6 560.6 L52.9 560.6 L53.2 560.6 L53.5 560.6 L53.8 560.6 L54.1 560.6 L54.4 560.6 L54.7 560.6 L55 560.6 L55.3 560.6 L55.6 560.6 L55.9 560.6 L56.2 560.6 L56.5 560.6 L56.8 560.6 L57.1 560.6 L57.4 560.6 L57.7 560.6 L58 560.6 L58.3 560.6 L58.6 560.6 L58.9 560.6 L59.2 560.6 L59.5 560.6 L59.8 560.6 L60.1 560.6 L60.4 560.6 L60.7 560.6 L61 560.6 L61.3 560.6 L61.6 560.6 L61.9 560.6 L62.2 560.6 L62.5 560.6 L62.8 560.6 L63.1 560.6 L63.4 560.6 L63.7 560.6 L64 560.6 L64.3 560.6 L64.6 560.6 L64.9 560.6 L65.2 560.6 L65.5 560.6 L65.8 560.6 L66.1 560.6 L66.4 560.6 L66.7 560.6 L67 560.6 L67.3 560.6 L67.6 560.6 L67.9 560.6 L68.2 560.6 L68.5 560.6 L68.8 560.6 L69.1 560.6 L69.4 560.6 L69.7 560.6 L70 560.6 L70.3 560.6 L70.6 560.6 L70.9 560.6 L71.2 560.6 L71.5 560.6 L71.8 560.6 L72.1 560.6 L72.4 560.6 L72.7 560.6 L73 560.6 L73.3 560.6 L73.6 560.6 L73.9 560.6 L74.2 560.6 L74.5 560.6 L74.8 560.6 L75.1 560.6 L75.4 560.6 L75.7 560.6 L76 560.6 L76.3 560.6 L76.6 560.6 L76.9 560.6 L77.2 560.6 L77.5 560.6 L77.8 560.6 L78.1 560.6 L78.4 560.6 L78.7 560.6 L79 560.6 L79.3 560.6 L79.6 560.6 L79.9 560.6 L80.2 560.6 L80.5 560.6 L80.8 560.6 L81.1 560.6 L81.4 560.6 L81.7 560.6 L82 560.6 L82.3 560.6 L82.6 560.6 L82.9 560.6 L83.2 560.6 L83.5 560.6 L83.8 560.6 L84.1 560.6 L84.4 560.6 L84.7 560.6 L85 560.6 L85.3 560.6 L85.6 560.6 L85.9 560.6 L86.2 560.6 L86.5 560.6 L86.8 560.6 L87.1 560.6 L87.4 560.6 L87.7 560.6 L88 560.6 L88.3 560.6 L88.6 560.6 L88.9 560.6 L89.2 560.6 L89.5 560.6 L89.8 560.6 L90.1 560.6 L90.4 560.6 L90.7 560.6 L91 560.6 L91.3 560.6 L91.6 560.6 L91.9 560.6 L92.2 560.6 L92.5 560.6 L92.8 560.6 L93.1 560.6 L93.4 560.6 L93.7 560.6 L94 560.6 L94.3 560.6 L94.6 560.6 L94.9 560.6 L95.2 560.6 L95.5 560.6 L95.8 560.6 L96.1 560.6 L96.4 560.6 L96.7 560.6 L97 560.6 L97.3 560.6 L97.6 560.6 L97.9 560.6 L98.2 560.6 L98.5 560.6 L98.8 560.6 L99.1 560.6 L99.4 560.6 L99.7 560.6 L100 560.6 L100.3 560.6 L100.6 560.6 L100.9 560.6 L101.2 560.6 L101.5 560.6 L101.8 560.6 L102.1 560.6 L102.4 560.6 L102.7 560.6 L103 560.6 L103.3 560.6 L103.6 560.6 L103.9 560.6 L104.2 560.6 L104.5 560.6 L104.8 560.6 L105.1 560.6 L105.4 560.6 L105.7 560.6 L106 560.6 L106.3 560.6 L106.6 560.6 L106.9 560.6 L107.2 560.6 L107.5 560.6 L107.8 560.6 L108.1 560.6 L108.4 560.6 L108.7 560.6 L109 560.6 L109.3 560.6 L109.6 560.6 L109.9 560.6 L110.2 560.6 L110.5 560.6 L110.8 560.6 L111.1 560.6 L111.4 560.6 L111.7 560.6 L112 560.6 L112.3 560.6 L112.6 560.6 L112.9 560.6 L113.2 560.6 L113.5 560.6 L113.8 560.6 L114.1 560.6" fill="none" stroke="#8a8a8a" stroke-width="1.3"/>
<path d="M14.8 585.2 L15.4 585.2 L16 585.2 L16.6 585.2 L17.2 585.2 L17.8 585.2 L18.4 585.2 L19 585.2 L19.6 585.2 L20.2 585.2 L20.8 585.2 L21.4 585.2 L22 585.2 L22.6 585.2 L23.2 585.2 L23.8 585.2 L24.4 585.2 L25 585.2 L25.6 585.2 L26.2 585.2 L26.8 585.2 L27.4 585.2 L28 585.05 L28.6 584.65 L29.2 584.32 L29.8 583.97 L30.4 583.65 L31 583.17 L31.6 582.59 L32.2 581.15 L32.8 580.04 L33.4 579.29 L34 579 L34.6 577.71 L35.2 575.69 L35.8 573.19 L36.4 571.43 L37 568.42 L37.6 563.94 L38.2 559.91 L38.8 557.59 L39.4 555.25 L40 552.14 L40.6 550.36 L41.2 548.87 L41.8 549.59 L42.4 547.71 L43 547.13 L43.6 545.54 L44.2 546.29 L44.8 546 L45.4 547.11 L46 545.2 L46.6 547.38 L47.2 546.86 L47.8 548.26 L48.4 547.68 L49 547.59 L49.6 547.52 L50.2 546 L50.8 546.4 L51.4 546.27 L52 549.15 L52.6 549.08 L53.2 549.59 L53.8 547.92 L54.4 547.93 L55 549.57 L55.6 551.9 L56.2 553.81 L56.8 553.82 L57.4 551.97 L58 553.1 L58.6 552.8 L59.2 553.3 L59.8 552.16 L60.4 553.49 L61 555.12 L61.6 554.86 L62.2 553.55 L62.8 553.32 L63.4 553.78 L64 553.65 L64.6 554.13 L65.2 553.33 L65.8 555.36 L66.4 554.17 L67 556.88 L67.6 555.67 L68.2 557.31 L68.8 557.73 L69.4 558.89 L70 558.88 L70.6 557.87 L71.2 558.24 L71.8 559.06 L72.4 559.97 L73 560.35 L73.6 559.86 L74.2 559.77 L74.8 559.8 L75.4 560.82 L76 560.68 L76.6 560.11 L77.2 559.4 L77.8 561.35 L78.4 563.64 L79 565.88 L79.6 565.86 L80.2 564.82 L80.8 564.95 L81.4 565.21 L82 566.82 L82.6 568.08 L83.2 569.2 L83.8 569.92 L84.4 569.89 L85 569.97 L85.6 570.33 L86.2 570.52 L86.8 571.55 L87.4 571.36 L88 571.52 L88.6 571.6 L89.2 572.67 L89.8 573.66 L90.4 574.56 L91 574.54 L91.6 574.81 L92.2 574.14 L92.8 574.3 L93.4 575.08 L94 576.29 L94.6 577.06 L95.2 577.23 L95.8 577.53 L96.4 578.29 L97 578.48 L97.6 579.21 L98.2 579.61 L98.8 579.97 L99.4 580.31 L100 580.97 L100.6 581.65 L101.2 581.77 L101.8 582.33 L102.4 582.74 L103 583.07 L103.6 583.39 L104.2 583.55 L104.8 583.73 L105.4 583.86 L106 584.05 L106.6 584.14 L107.2 584.23 L107.8 584.29 L108.4 584.38 L109 584.48 L109.6 584.55 L110.2 584.63 L110.8 584.69 L111.4 584.76 L112 584.83 L112.6 584.92 L113.2 585 L113.8 585.09 L114.1 585.2 L14.8 585.2 Z" fill="#a9c1e2"/>
<path d="M14.8 585.2 L15.4 585.2 L16 585.2 L16.6 585.2 L17.2 585.2 L17.8 585.2 L18.4 585.2 L19 585.2 L19.6 585.2 L20.2 585.2 L20.8 585.2 L21.4 585.2 L22 585.2 L22.6 585.2 L23.2 585.2 L23.8 585.2 L24.4 585.2 L25 585.2 L25.6 585.2 L26.2 585.2 L26.8 585.2 L27.4 585.2 L28 585.05 L28.6 584.65 L29.2 584.32 L29.8 583.97 L30.4 583.65 L31 583.17 L31.6 582.59 L32.2 581.15 L32.8 580.04 L33.4 579.29 L34 579 L34.6 577.71 L35.2 575.69 L35.8 573.19 L36.4 571.43 L37 568.42 L37.6 563.94 L38.2 559.91 L38.8 557.59 L39.4 555.25 L40 552.14 L40.6 550.36 L41.2 548.87 L41.8 549.59 L42.4 547.71 L43 547.13 L43.6 545.54 L44.2 546.29 L44.8 546 L45.4 547.11 L46 545.2 L46.6 547.38 L47.2 546.86 L47.8 548.26 L48.4 547.68 L49 547.59 L49.6 547.52 L50.2 546 L50.8 546.4 L51.4 546.27 L52 549.15 L52.6 549.08 L53.2 549.59 L53.8 547.92 L54.4 547.93 L55 549.57 L55.6 551.9 L56.2 553.81 L56.8 553.82 L57.4 551.97 L58 553.1 L58.6 552.8 L59.2 553.3 L59.8 552.16 L60.4 553.49 L61 555.12 L61.6 554.86 L62.2 553.55 L62.8 553.32 L63.4 553.78 L64 553.65 L64.6 554.13 L65.2 553.33 L65.8 555.36 L66.4 554.17 L67 556.88 L67.6 555.67 L68.2 557.31 L68.8 557.73 L69.4 558.89 L70 558.88 L70.6 557.87 L71.2 558.24 L71.8 559.06 L72.4 559.97 L73 560.35 L73.6 559.86 L74.2 559.77 L74.8 559.8 L75.4 560.82 L76 560.68 L76.6 560.11 L77.2 559.4 L77.8 561.35 L78.4 563.64 L79 565.88 L79.6 565.86 L80.2 564.82 L80.8 564.95 L81.4 565.21 L82 566.82 L82.6 568.08 L83.2 569.2 L83.8 569.92 L84.4 569.89 L85 569.97 L85.6 570.33 L86.2 570.52 L86.8 571.55 L87.4 571.36 L88 571.52 L88.6 571.6 L89.2 572.67 L89.8 573.66 L90.4 574.56 L91 574.54 L91.6 574.81 L92.2 574.14 L92.8 574.3 L93.4 575.08 L94 576.29 L94.6 577.06 L95.2 577.23 L95.8 577.53 L96.4 578.29 L97 578.48 L97.6 579.21 L98.2 579.61 L98.8 579.97 L99.4 580.31 L100 580.97 L100.6 581.65 L101.2 581.77 L101.8 582.33 L102.4 582.74 L103 583.07 L103.6 583.39 L104.2 583.55 L104.8 583.73 L105.4 583.86 L106 584.05 L106.6 584.14 L107.2 584.23 L107.8 584.29 L108.4 584.38 L109 584.48 L109.6 584.55 L110.2 584.63 L110.8 584.69 L111.4 584.76 L112 584.83 L112.6 584.92 L113.2 585 L113.8 585.09" fill="none" stroke="#2f5cc0" stroke-width="1.3"/>
<path d="M14.8 609.7 L15.4 609.7 L16 609.7 L16.6 609.7 L17.2 609.7 L17.8 609.7 L18.4 609.7 L19 609.7 L19.6 609.7 L20.2 609.7 L20.8 609.7 L21.4 609.7 L22 609.7 L22.6 609.7 L23.2 609.7 L23.8 609.7 L24.4 609.7 L25 609.7 L25.6 609.7 L26.2 609.7 L26.8 609.7 L27.4 609.7 L28 609.7 L28.6 609.7 L29.2 609.7 L29.8 609.7 L30.4 609.7 L31 609.7 L31.6 609.7 L32.2 609.7 L32.8 609.7 L33.4 609.7 L34 609.7 L34.6 609.36 L35.2 608.96 L35.8 608.56 L36.4 608.16 L37 607.69 L37.6 607.2 L38.2 606.49 L38.8 605.75 L39.4 604.15 L40 602.32 L40.6 600.24 L41.2 598.22 L41.8 596.08 L42.4 593.25 L43 590.49 L43.6 588.09 L44.2 586 L44.8 583.46 L45.4 581.55 L46 578.2 L46.6 577.74 L47.2 577.27 L47.8 577.67 L48.4 575.66 L49 574.13 L49.6 573.76 L50.2 573.49 L50.8 573.74 L51.4 575.3 L52 576.74 L52.6 576.77 L53.2 578.39 L53.8 579.84 L54.4 581.81 L55 581.72 L55.6 580.85 L56.2 579.58 L56.8 576.51 L57.4 575.42 L58 575.67 L58.6 577.74 L59.2 578.96 L59.8 578.16 L60.4 578.55 L61 578.45 L61.6 579.03 L62.2 579.56 L62.8 580.08 L63.4 582.07 L64 582.47 L64.6 582.68 L65.2 581.05 L65.8 579.25 L66.4 578.44 L67 577.99 L67.6 578.06 L68.2 576.6 L68.8 575.41 L69.4 574.4 L70 574.42 L70.6 572.55 L71.2 570.57 L71.8 567.06 L72.4 566.77 L73 565.27 L73.6 567.75 L74.2 568.43 L74.8 572.24 L75.4 574.47 L76 577.8 L76.6 578.67 L77.2 577.86 L77.8 576.99 L78.4 576.9 L79 579.98 L79.6 580.6 L80.2 581.23 L80.8 580.59 L81.4 582 L82 582.9 L82.6 582.06 L83.2 582.93 L83.8 583.82 L84.4 584.7 L85 585.05 L85.6 585.78 L86.2 587.35 L86.8 588.73 L87.4 589.46 L88 591.21 L88.6 591.32 L89.2 592.6 L89.8 592.27 L90.4 593.77 L91 594.43 L91.6 596.96 L92.2 598.15 L92.8 599.46 L93.4 599.28 L94 600.53 L94.6 601.01 L95.2 602.01 L95.8 601.71 L96.4 602.4 L97 603.13 L97.6 604.22 L98.2 605.23 L98.8 605.68 L99.4 606.09 L100 605.83 L100.6 606.71 L101.2 607.18 L101.8 607.8 L102.4 608.27 L103 608.76 L103.6 609.25 L104.2 609.7 L104.8 609.7 L105.4 609.7 L106 609.7 L106.6 609.7 L107.2 609.7 L107.8 609.7 L108.4 609.7 L109 609.7 L109.6 609.7 L110.2 609.7 L110.8 609.7 L111.4 609.7 L112 609.7 L112.6 609.7 L113.2 609.7 L113.8 609.7 L114.1 609.7 L14.8 609.7 Z" fill="#f0a8a6"/>
<path d="M14.8 609.7 L15.4 609.7 L16 609.7 L16.6 609.7 L17.2 609.7 L17.8 609.7 L18.4 609.7 L19 609.7 L19.6 609.7 L20.2 609.7 L20.8 609.7 L21.4 609.7 L22 609.7 L22.6 609.7 L23.2 609.7 L23.8 609.7 L24.4 609.7 L25 609.7 L25.6 609.7 L26.2 609.7 L26.8 609.7 L27.4 609.7 L28 609.7 L28.6 609.7 L29.2 609.7 L29.8 609.7 L30.4 609.7 L31 609.7 L31.6 609.7 L32.2 609.7 L32.8 609.7 L33.4 609.7 L34 609.7 L34.6 609.36 L35.2 608.96 L35.8 608.56 L36.4 608.16 L37 607.69 L37.6 607.2 L38.2 606.49 L38.8 605.75 L39.4 604.15 L40 602.32 L40.6 600.24 L41.2 598.22 L41.8 596.08 L42.4 593.25 L43 590.49 L43.6 588.09 L44.2 586 L44.8 583.46 L45.4 581.55 L46 578.2 L46.6 577.74 L47.2 577.27 L47.8 577.67 L48.4 575.66 L49 574.13 L49.6 573.76 L50.2 573.49 L50.8 573.74 L51.4 575.3 L52 576.74 L52.6 576.77 L53.2 578.39 L53.8 579.84 L54.4 581.81 L55 581.72 L55.6 580.85 L56.2 579.58 L56.8 576.51 L57.4 575.42 L58 575.67 L58.6 577.74 L59.2 578.96 L59.8 578.16 L60.4 578.55 L61 578.45 L61.6 579.03 L62.2 579.56 L62.8 580.08 L63.4 582.07 L64 582.47 L64.6 582.68 L65.2 581.05 L65.8 579.25 L66.4 578.44 L67 577.99 L67.6 578.06 L68.2 576.6 L68.8 575.41 L69.4 574.4 L70 574.42 L70.6 572.55 L71.2 570.57 L71.8 567.06 L72.4 566.77 L73 565.27 L73.6 567.75 L74.2 568.43 L74.8 572.24 L75.4 574.47 L76 577.8 L76.6 578.67 L77.2 577.86 L77.8 576.99 L78.4 576.9 L79 579.98 L79.6 580.6 L80.2 581.23 L80.8 580.59 L81.4 582 L82 582.9 L82.6 582.06 L83.2 582.93 L83.8 583.82 L84.4 584.7 L85 585.05 L85.6 585.78 L86.2 587.35 L86.8 588.73 L87.4 589.46 L88 591.21 L88.6 591.32 L89.2 592.6 L89.8 592.27 L90.4 593.77 L91 594.43 L91.6 596.96 L92.2 598.15 L92.8 599.46 L93.4 599.28 L94 600.53 L94.6 601.01 L95.2 602.01 L95.8 601.71 L96.4 602.4 L97 603.13 L97.6 604.22 L98.2 605.23 L98.8 605.68 L99.4 606.09 L100 605.83 L100.6 606.71 L101.2 607.18 L101.8 607.8 L102.4 608.27 L103 608.76 L103.6 609.25 L104.2 609.7 L104.8 609.7 L105.4 609.7 L106 609.7 L106.6 609.7 L107.2 609.7 L107.8 609.7 L108.4 609.7 L109 609.7 L109.6 609.7 L110.2 609.7 L110.8 609.7 L111.4 609.7 L112 609.7 L112.6 609.7 L113.2 609.7 L113.8 609.7" fill="none" stroke="#e0393a" stroke-width="1.3"/>
</g>
<line x1="57.5" y1="554.3" x2="57.5" y2="609.7" stroke="#231f20" stroke-width="1.2" stroke-dasharray="2.4 1.6"/>
<text x="110" y="554.7" text-anchor="end" fill="#6b6b6b">Isotype</text>
<text x="109.3" y="580.8" text-anchor="end" fill="#2f5cc0">IgG</text>
<text x="110" y="604.8" text-anchor="end" fill="#e0393a">rhAEBP1</text>
<rect x="14.3" y="509.4" width="100.3" height="100.3" fill="none" stroke="#231f20" stroke-width="1.2"/>
<path d="M14.3 610.7 H114.6" stroke="#231f20" stroke-width="2" stroke-dasharray="0.6 2.2"/>
<text x="21.6" y="619.1" font-size="7" text-anchor="middle" fill="#231f20">-10<tspan font-size="4.34" dy="-2.6">3</tspan></text>
<text x="37.3" y="618.7" text-anchor="middle" font-size="7">0</text>
<text x="52.9" y="619.1" font-size="7" text-anchor="middle" fill="#231f20">10<tspan font-size="4.34" dy="-2.6">3</tspan></text>
<text x="81.1" y="619.1" font-size="7" text-anchor="middle" fill="#231f20">10<tspan font-size="4.34" dy="-2.6">4</tspan></text>
<text x="104.1" y="619.1" font-size="7" text-anchor="middle" fill="#231f20">10<tspan font-size="4.34" dy="-2.6">5</tspan></text>
<line x1="14.3" y1="626.4" x2="81.3" y2="626.4" stroke="#231f20" stroke-width="1.2"/>
<path d="M84.3 626.4 L78.8 623.8 L78.8 629 Z" fill="#231f20"/>
<text x="85.7" y="630.1" font-size="10.2">PD-L1</text>
<line x1="146.7" y1="521.9" x2="146.7" y2="609.8" stroke="#231f20" stroke-width="1.2"/>
<line x1="146.2" y1="609.3" x2="205.5" y2="609.3" stroke="#231f20" stroke-width="1.2"/>
<line x1="143.9" y1="609.3" x2="146.7" y2="609.3" stroke="#231f20" stroke-width="1.1"/>
<text x="143.1" y="611.7" text-anchor="end" font-size="6.8">0.0</text>
<line x1="143.9" y1="587.45" x2="146.7" y2="587.45" stroke="#231f20" stroke-width="1.1"/>
<text x="143.1" y="589.85" text-anchor="end" font-size="6.8">0.5</text>
<line x1="143.9" y1="565.6" x2="146.7" y2="565.6" stroke="#231f20" stroke-width="1.1"/>
<text x="143.1" y="568" text-anchor="end" font-size="6.8">1.0</text>
<line x1="143.9" y1="543.75" x2="146.7" y2="543.75" stroke="#231f20" stroke-width="1.1"/>
<text x="143.1" y="546.15" text-anchor="end" font-size="6.8">1.5</text>
<line x1="143.9" y1="521.9" x2="146.7" y2="521.9" stroke="#231f20" stroke-width="1.1"/>
<text x="143.1" y="524.3" text-anchor="end" font-size="6.8">2.0</text>
<text x="128.1" y="565.6" text-anchor="middle" transform="rotate(-90 128.1 565.6)">Relative PD-L1 MFI</text>
<path d="M155.3 609.3 L155.3 566.47 L171.6 566.47 L171.6 609.3" fill="none" stroke="#2f5cc0" stroke-width="1.4"/>
<line x1="163.45" y1="609.3" x2="163.45" y2="612.1" stroke="#231f20" stroke-width="1.1"/>
<line x1="163.45" y1="565.16" x2="163.45" y2="567.78" stroke="#2f5cc0" stroke-width="1.3"/>
<line x1="159.45" y1="565.16" x2="167.45" y2="565.16" stroke="#2f5cc0" stroke-width="1.3"/>
<line x1="159.45" y1="567.78" x2="167.45" y2="567.78" stroke="#2f5cc0" stroke-width="1.3"/>
<line x1="155.3" y1="566.47" x2="171.6" y2="566.47" stroke="#2f5cc0" stroke-width="1.4"/>
<circle cx="163.45" cy="562.1" r="1.9" fill="#2f5cc0"/>
<circle cx="159.45" cy="566.47" r="1.9" fill="#2f5cc0"/>
<circle cx="167.45" cy="566.47" r="1.9" fill="#2f5cc0"/>
<path d="M180.6 609.3 L180.6 551.18 L196.4 551.18 L196.4 609.3" fill="none" stroke="#e0393a" stroke-width="1.4"/>
<line x1="188.5" y1="609.3" x2="188.5" y2="612.1" stroke="#231f20" stroke-width="1.1"/>
<line x1="188.5" y1="548.12" x2="188.5" y2="554.24" stroke="#e0393a" stroke-width="1.3"/>
<line x1="184.5" y1="548.12" x2="192.5" y2="548.12" stroke="#e0393a" stroke-width="1.3"/>
<line x1="184.5" y1="554.24" x2="192.5" y2="554.24" stroke="#e0393a" stroke-width="1.3"/>
<line x1="180.6" y1="551.18" x2="196.4" y2="551.18" stroke="#e0393a" stroke-width="1.4"/>
<circle cx="188.5" cy="544.62" r="1.9" fill="#e0393a"/>
<circle cx="188.5" cy="548.99" r="1.9" fill="#e0393a"/>
<circle cx="188.5" cy="554.24" r="1.9" fill="#e0393a"/>
<line x1="162.5" y1="538.9" x2="187.9" y2="538.9" stroke="#231f20" stroke-width="1.3"/>
<text x="175.2" y="535.3" text-anchor="middle" font-size="7.3"><tspan font-style="italic">P</tspan> = 0.0100</text>
<text x="166.5" y="619.1" text-anchor="end" font-size="10.5" transform="rotate(-33 166.5 619.1)">IgG</text>
<text x="190.5" y="619.1" text-anchor="end" font-size="10.5" transform="rotate(-33 190.5 619.1)">rhAEBP1</text>
<text x="209.2" y="490.7" font-weight="bold" font-size="14.2">I</text>
<text x="315.6" y="497.3" text-anchor="middle">mCAFs</text>
<path d="M219 502.5 H412" stroke="#1a1a1a" stroke-width="1.3" stroke-dasharray="1.1 1" shape-rendering="crispEdges"/>
<clipPath id="cpI"><rect x="220.4" y="511.5" width="99.79999999999998" height="97.5"/></clipPath>
<g clip-path="url(#cpI)">
<path d="M220.9 560.6 L221.2 560.6 L221.5 560.6 L221.8 560.6 L222.1 560.6 L222.4 560.6 L222.7 560.6 L223 560.6 L223.3 560.6 L223.6 560.6 L223.9 560.6 L224.2 560.6 L224.5 560.6 L224.8 560.6 L225.1 560.6 L225.4 560.6 L225.7 560.6 L226 560.6 L226.3 560.6 L226.6 560.6 L226.9 560.6 L227.2 560.6 L227.5 560.6 L227.8 560.6 L228.1 560.6 L228.4 560.6 L228.7 560.6 L229 560.6 L229.3 560.6 L229.6 560.6 L229.9 560.6 L230.2 560.6 L230.5 560.6 L230.8 560.6 L231.1 560.6 L231.4 560.6 L231.7 560.6 L232 560.6 L232.3 560.6 L232.6 560.6 L232.9 560.6 L233.2 560.6 L233.5 560.6 L233.8 560.6 L234.1 560.6 L234.4 560.6 L234.7 560.6 L235 560.6 L235.3 560.6 L235.6 560.6 L235.9 560.6 L236.2 560.6 L236.5 560.6 L236.8 560.6 L237.1 560.6 L237.4 560.6 L237.7 560.6 L238 560.6 L238.3 560.6 L238.6 560.6 L238.9 560.6 L239.2 560.6 L239.5 560.6 L239.8 560.6 L240.1 560.6 L240.4 560.6 L240.7 560.6 L241 560.6 L241.3 560.6 L241.6 560.6 L241.9 560.6 L242.2 560.6 L242.5 560.6 L242.8 560.59 L243.1 560.57 L243.4 560.51 L243.7 560.37 L244 560.04 L244.3 559.35 L244.6 558.03 L244.9 555.73 L245.2 552.1 L245.5 546.92 L245.8 540.3 L246.1 532.83 L246.4 525.61 L246.7 519.96 L247 517.1 L247.3 517.69 L247.6 521.59 L247.9 527.91 L248.2 535.36 L248.5 542.64 L248.8 548.82 L249.1 553.48 L249.4 556.63 L249.7 558.56 L250 559.64 L250.3 560.18 L250.6 560.43 L250.9 560.54 L251.2 560.58 L251.5 560.59 L251.8 560.6 L252.1 560.6 L252.4 560.6 L252.7 560.6 L253 560.6 L253.3 560.6 L253.6 560.6 L253.9 560.6 L254.2 560.6 L254.5 560.6 L254.8 560.6 L255.1 560.6 L255.4 560.6 L255.7 560.6 L256 560.6 L256.3 560.6 L256.6 560.6 L256.9 560.6 L257.2 560.6 L257.5 560.6 L257.8 560.6 L258.1 560.6 L258.4 560.6 L258.7 560.6 L259 560.6 L259.3 560.6 L259.6 560.6 L259.9 560.6 L260.2 560.6 L260.5 560.6 L260.8 560.6 L261.1 560.6 L261.4 560.6 L261.7 560.6 L262 560.6 L262.3 560.6 L262.6 560.6 L262.9 560.6 L263.2 560.6 L263.5 560.6 L263.8 560.6 L264.1 560.6 L264.4 560.6 L264.7 560.6 L265 560.6 L265.3 560.6 L265.6 560.6 L265.9 560.6 L266.2 560.6 L266.5 560.6 L266.8 560.6 L267.1 560.6 L267.4 560.6 L267.7 560.6 L268 560.6 L268.3 560.6 L268.6 560.6 L268.9 560.6 L269.2 560.6 L269.5 560.6 L269.8 560.6 L270.1 560.6 L270.4 560.6 L270.7 560.6 L271 560.6 L271.3 560.6 L271.6 560.6 L271.9 560.6 L272.2 560.6 L272.5 560.6 L272.8 560.6 L273.1 560.6 L273.4 560.6 L273.7 560.6 L274 560.6 L274.3 560.6 L274.6 560.6 L274.9 560.6 L275.2 560.6 L275.5 560.6 L275.8 560.6 L276.1 560.6 L276.4 560.6 L276.7 560.6 L277 560.6 L277.3 560.6 L277.6 560.6 L277.9 560.6 L278.2 560.6 L278.5 560.6 L278.8 560.6 L279.1 560.6 L279.4 560.6 L279.7 560.6 L280 560.6 L280.3 560.6 L280.6 560.6 L280.9 560.6 L281.2 560.6 L281.5 560.6 L281.8 560.6 L282.1 560.6 L282.4 560.6 L282.7 560.6 L283 560.6 L283.3 560.6 L283.6 560.6 L283.9 560.6 L284.2 560.6 L284.5 560.6 L284.8 560.6 L285.1 560.6 L285.4 560.6 L285.7 560.6 L286 560.6 L286.3 560.6 L286.6 560.6 L286.9 560.6 L287.2 560.6 L287.5 560.6 L287.8 560.6 L288.1 560.6 L288.4 560.6 L288.7 560.6 L289 560.6 L289.3 560.6 L289.6 560.6 L289.9 560.6 L290.2 560.6 L290.5 560.6 L290.8 560.6 L291.1 560.6 L291.4 560.6 L291.7 560.6 L292 560.6 L292.3 560.6 L292.6 560.6 L292.9 560.6 L293.2 560.6 L293.5 560.6 L293.8 560.6 L294.1 560.6 L294.4 560.6 L294.7 560.6 L295 560.6 L295.3 560.6 L295.6 560.6 L295.9 560.6 L296.2 560.6 L296.5 560.6 L296.8 560.6 L297.1 560.6 L297.4 560.6 L297.7 560.6 L298 560.6 L298.3 560.6 L298.6 560.6 L298.9 560.6 L299.2 560.6 L299.5 560.6 L299.8 560.6 L300.1 560.6 L300.4 560.6 L300.7 560.6 L301 560.6 L301.3 560.6 L301.6 560.6 L301.9 560.6 L302.2 560.6 L302.5 560.6 L302.8 560.6 L303.1 560.6 L303.4 560.6 L303.7 560.6 L304 560.6 L304.3 560.6 L304.6 560.6 L304.9 560.6 L305.2 560.6 L305.5 560.6 L305.8 560.6 L306.1 560.6 L306.4 560.6 L306.7 560.6 L307 560.6 L307.3 560.6 L307.6 560.6 L307.9 560.6 L308.2 560.6 L308.5 560.6 L308.8 560.6 L309.1 560.6 L309.4 560.6 L309.7 560.6 L310 560.6 L310.3 560.6 L310.6 560.6 L310.9 560.6 L311.2 560.6 L311.5 560.6 L311.8 560.6 L312.1 560.6 L312.4 560.6 L312.7 560.6 L313 560.6 L313.3 560.6 L313.6 560.6 L313.9 560.6 L314.2 560.6 L314.5 560.6 L314.8 560.6 L315.1 560.6 L315.4 560.6 L315.7 560.6 L316 560.6 L316.3 560.6 L316.6 560.6 L316.9 560.6 L317.2 560.6 L317.5 560.6 L317.8 560.6 L318.1 560.6 L318.4 560.6 L318.7 560.6 L319 560.6 L319.3 560.6 L319.6 560.6 L319.7 560.6 L220.9 560.6 Z" fill="#cfcfcf"/>
<path d="M220.9 560.6 L221.2 560.6 L221.5 560.6 L221.8 560.6 L222.1 560.6 L222.4 560.6 L222.7 560.6 L223 560.6 L223.3 560.6 L223.6 560.6 L223.9 560.6 L224.2 560.6 L224.5 560.6 L224.8 560.6 L225.1 560.6 L225.4 560.6 L225.7 560.6 L226 560.6 L226.3 560.6 L226.6 560.6 L226.9 560.6 L227.2 560.6 L227.5 560.6 L227.8 560.6 L228.1 560.6 L228.4 560.6 L228.7 560.6 L229 560.6 L229.3 560.6 L229.6 560.6 L229.9 560.6 L230.2 560.6 L230.5 560.6 L230.8 560.6 L231.1 560.6 L231.4 560.6 L231.7 560.6 L232 560.6 L232.3 560.6 L232.6 560.6 L232.9 560.6 L233.2 560.6 L233.5 560.6 L233.8 560.6 L234.1 560.6 L234.4 560.6 L234.7 560.6 L235 560.6 L235.3 560.6 L235.6 560.6 L235.9 560.6 L236.2 560.6 L236.5 560.6 L236.8 560.6 L237.1 560.6 L237.4 560.6 L237.7 560.6 L238 560.6 L238.3 560.6 L238.6 560.6 L238.9 560.6 L239.2 560.6 L239.5 560.6 L239.8 560.6 L240.1 560.6 L240.4 560.6 L240.7 560.6 L241 560.6 L241.3 560.6 L241.6 560.6 L241.9 560.6 L242.2 560.6 L242.5 560.6 L242.8 560.59 L243.1 560.57 L243.4 560.51 L243.7 560.37 L244 560.04 L244.3 559.35 L244.6 558.03 L244.9 555.73 L245.2 552.1 L245.5 546.92 L245.8 540.3 L246.1 532.83 L246.4 525.61 L246.7 519.96 L247 517.1 L247.3 517.69 L247.6 521.59 L247.9 527.91 L248.2 535.36 L248.5 542.64 L248.8 548.82 L249.1 553.48 L249.4 556.63 L249.7 558.56 L250 559.64 L250.3 560.18 L250.6 560.43 L250.9 560.54 L251.2 560.58 L251.5 560.59 L251.8 560.6 L252.1 560.6 L252.4 560.6 L252.7 560.6 L253 560.6 L253.3 560.6 L253.6 560.6 L253.9 560.6 L254.2 560.6 L254.5 560.6 L254.8 560.6 L255.1 560.6 L255.4 560.6 L255.7 560.6 L256 560.6 L256.3 560.6 L256.6 560.6 L256.9 560.6 L257.2 560.6 L257.5 560.6 L257.8 560.6 L258.1 560.6 L258.4 560.6 L258.7 560.6 L259 560.6 L259.3 560.6 L259.6 560.6 L259.9 560.6 L260.2 560.6 L260.5 560.6 L260.8 560.6 L261.1 560.6 L261.4 560.6 L261.7 560.6 L262 560.6 L262.3 560.6 L262.6 560.6 L262.9 560.6 L263.2 560.6 L263.5 560.6 L263.8 560.6 L264.1 560.6 L264.4 560.6 L264.7 560.6 L265 560.6 L265.3 560.6 L265.6 560.6 L265.9 560.6 L266.2 560.6 L266.5 560.6 L266.8 560.6 L267.1 560.6 L267.4 560.6 L267.7 560.6 L268 560.6 L268.3 560.6 L268.6 560.6 L268.9 560.6 L269.2 560.6 L269.5 560.6 L269.8 560.6 L270.1 560.6 L270.4 560.6 L270.7 560.6 L271 560.6 L271.3 560.6 L271.6 560.6 L271.9 560.6 L272.2 560.6 L272.5 560.6 L272.8 560.6 L273.1 560.6 L273.4 560.6 L273.7 560.6 L274 560.6 L274.3 560.6 L274.6 560.6 L274.9 560.6 L275.2 560.6 L275.5 560.6 L275.8 560.6 L276.1 560.6 L276.4 560.6 L276.7 560.6 L277 560.6 L277.3 560.6 L277.6 560.6 L277.9 560.6 L278.2 560.6 L278.5 560.6 L278.8 560.6 L279.1 560.6 L279.4 560.6 L279.7 560.6 L280 560.6 L280.3 560.6 L280.6 560.6 L280.9 560.6 L281.2 560.6 L281.5 560.6 L281.8 560.6 L282.1 560.6 L282.4 560.6 L282.7 560.6 L283 560.6 L283.3 560.6 L283.6 560.6 L283.9 560.6 L284.2 560.6 L284.5 560.6 L284.8 560.6 L285.1 560.6 L285.4 560.6 L285.7 560.6 L286 560.6 L286.3 560.6 L286.6 560.6 L286.9 560.6 L287.2 560.6 L287.5 560.6 L287.8 560.6 L288.1 560.6 L288.4 560.6 L288.7 560.6 L289 560.6 L289.3 560.6 L289.6 560.6 L289.9 560.6 L290.2 560.6 L290.5 560.6 L290.8 560.6 L291.1 560.6 L291.4 560.6 L291.7 560.6 L292 560.6 L292.3 560.6 L292.6 560.6 L292.9 560.6 L293.2 560.6 L293.5 560.6 L293.8 560.6 L294.1 560.6 L294.4 560.6 L294.7 560.6 L295 560.6 L295.3 560.6 L295.6 560.6 L295.9 560.6 L296.2 560.6 L296.5 560.6 L296.8 560.6 L297.1 560.6 L297.4 560.6 L297.7 560.6 L298 560.6 L298.3 560.6 L298.6 560.6 L298.9 560.6 L299.2 560.6 L299.5 560.6 L299.8 560.6 L300.1 560.6 L300.4 560.6 L300.7 560.6 L301 560.6 L301.3 560.6 L301.6 560.6 L301.9 560.6 L302.2 560.6 L302.5 560.6 L302.8 560.6 L303.1 560.6 L303.4 560.6 L303.7 560.6 L304 560.6 L304.3 560.6 L304.6 560.6 L304.9 560.6 L305.2 560.6 L305.5 560.6 L305.8 560.6 L306.1 560.6 L306.4 560.6 L306.7 560.6 L307 560.6 L307.3 560.6 L307.6 560.6 L307.9 560.6 L308.2 560.6 L308.5 560.6 L308.8 560.6 L309.1 560.6 L309.4 560.6 L309.7 560.6 L310 560.6 L310.3 560.6 L310.6 560.6 L310.9 560.6 L311.2 560.6 L311.5 560.6 L311.8 560.6 L312.1 560.6 L312.4 560.6 L312.7 560.6 L313 560.6 L313.3 560.6 L313.6 560.6 L313.9 560.6 L314.2 560.6 L314.5 560.6 L314.8 560.6 L315.1 560.6 L315.4 560.6 L315.7 560.6 L316 560.6 L316.3 560.6 L316.6 560.6 L316.9 560.6 L317.2 560.6 L317.5 560.6 L317.8 560.6 L318.1 560.6 L318.4 560.6 L318.7 560.6 L319 560.6 L319.3 560.6 L319.6 560.6" fill="none" stroke="#8a8a8a" stroke-width="1.3"/>
<path d="M220.9 585.2 L221.5 585.2 L222.1 585.2 L222.7 585.2 L223.3 585.2 L223.9 585.2 L224.5 585.2 L225.1 585.2 L225.7 585.2 L226.3 585.2 L226.9 585.2 L227.5 585.2 L228.1 585.2 L228.7 585.2 L229.3 585.2 L229.9 585.2 L230.5 585.2 L231.1 585.2 L231.7 585.2 L232.3 585.2 L232.9 585.2 L233.5 585.2 L234.1 585.2 L234.7 585.2 L235.3 585.2 L235.9 585.2 L236.5 585.2 L237.1 585.2 L237.7 585.2 L238.3 585.2 L238.9 585.2 L239.5 585.2 L240.1 585.2 L240.7 585.2 L241.3 585.05 L241.9 584.24 L242.5 583.55 L243.1 582.78 L243.7 582.33 L244.3 580.47 L244.9 578.65 L245.5 576.12 L246.1 574.08 L246.7 571.81 L247.3 569.72 L247.9 567.22 L248.5 564.46 L249.1 561.45 L249.7 559.58 L250.3 556.95 L250.9 555.06 L251.5 552.83 L252.1 550.9 L252.7 549.39 L253.3 548.27 L253.9 545.2 L254.5 544.09 L255.1 541.21 L255.7 545.24 L256.3 543.94 L256.9 545.37 L257.5 543.96 L258.1 545.91 L258.7 545.33 L259.3 546.86 L259.9 546.65 L260.5 549.5 L261.1 547.78 L261.7 549.19 L262.3 548.04 L262.9 549.42 L263.5 551.52 L264.1 553.88 L264.7 555.1 L265.3 555.66 L265.9 556.16 L266.5 557.9 L267.1 557.64 L267.7 556.3 L268.3 555.26 L268.9 555.85 L269.5 558.67 L270.1 559.83 L270.7 559.61 L271.3 559.23 L271.9 559 L272.5 560.37 L273.1 560.93 L273.7 561.59 L274.3 562 L274.9 562.51 L275.5 562.85 L276.1 563.1 L276.7 564.33 L277.3 564.41 L277.9 563.71 L278.5 562.7 L279.1 563.72 L279.7 565.57 L280.3 566.55 L280.9 566.78 L281.5 566.09 L282.1 566.11 L282.7 566.61 L283.3 568.18 L283.9 568.71 L284.5 569.71 L285.1 569.27 L285.7 570.26 L286.3 571.2 L286.9 572.51 L287.5 573.26 L288.1 574.43 L288.7 576.53 L289.3 577.49 L289.9 578.27 L290.5 578.26 L291.1 579.5 L291.7 580.03 L292.3 580.81 L292.9 581.25 L293.5 581.87 L294.1 581.97 L294.7 582.24 L295.3 582.3 L295.9 582.66 L296.5 582.95 L297.1 583.26 L297.7 583.54 L298.3 583.76 L298.9 583.96 L299.5 584.12 L300.1 584.29 L300.7 584.43 L301.3 584.57 L301.9 584.69 L302.5 584.84 L303.1 584.98 L303.7 585.15 L304.3 585.2 L304.9 585.2 L305.5 585.2 L306.1 585.2 L306.7 585.2 L307.3 585.2 L307.9 585.2 L308.5 585.2 L309.1 585.2 L309.7 585.2 L310.3 585.2 L310.9 585.2 L311.5 585.2 L312.1 585.2 L312.7 585.2 L313.3 585.2 L313.9 585.2 L314.5 585.2 L315.1 585.2 L315.7 585.2 L316.3 585.2 L316.9 585.2 L317.5 585.2 L318.1 585.2 L318.7 585.2 L319.3 585.2 L319.7 585.2 L220.9 585.2 Z" fill="#a9c1e2"/>
<path d="M220.9 585.2 L221.5 585.2 L222.1 585.2 L222.7 585.2 L223.3 585.2 L223.9 585.2 L224.5 585.2 L225.1 585.2 L225.7 585.2 L226.3 585.2 L226.9 585.2 L227.5 585.2 L228.1 585.2 L228.7 585.2 L229.3 585.2 L229.9 585.2 L230.5 585.2 L231.1 585.2 L231.7 585.2 L232.3 585.2 L232.9 585.2 L233.5 585.2 L234.1 585.2 L234.7 585.2 L235.3 585.2 L235.9 585.2 L236.5 585.2 L237.1 585.2 L237.7 585.2 L238.3 585.2 L238.9 585.2 L239.5 585.2 L240.1 585.2 L240.7 585.2 L241.3 585.05 L241.9 584.24 L242.5 583.55 L243.1 582.78 L243.7 582.33 L244.3 580.47 L244.9 578.65 L245.5 576.12 L246.1 574.08 L246.7 571.81 L247.3 569.72 L247.9 567.22 L248.5 564.46 L249.1 561.45 L249.7 559.58 L250.3 556.95 L250.9 555.06 L251.5 552.83 L252.1 550.9 L252.7 549.39 L253.3 548.27 L253.9 545.2 L254.5 544.09 L255.1 541.21 L255.7 545.24 L256.3 543.94 L256.9 545.37 L257.5 543.96 L258.1 545.91 L258.7 545.33 L259.3 546.86 L259.9 546.65 L260.5 549.5 L261.1 547.78 L261.7 549.19 L262.3 548.04 L262.9 549.42 L263.5 551.52 L264.1 553.88 L264.7 555.1 L265.3 555.66 L265.9 556.16 L266.5 557.9 L267.1 557.64 L267.7 556.3 L268.3 555.26 L268.9 555.85 L269.5 558.67 L270.1 559.83 L270.7 559.61 L271.3 559.23 L271.9 559 L272.5 560.37 L273.1 560.93 L273.7 561.59 L274.3 562 L274.9 562.51 L275.5 562.85 L276.1 563.1 L276.7 564.33 L277.3 564.41 L277.9 563.71 L278.5 562.7 L279.1 563.72 L279.7 565.57 L280.3 566.55 L280.9 566.78 L281.5 566.09 L282.1 566.11 L282.7 566.61 L283.3 568.18 L283.9 568.71 L284.5 569.71 L285.1 569.27 L285.7 570.26 L286.3 571.2 L286.9 572.51 L287.5 573.26 L288.1 574.43 L288.7 576.53 L289.3 577.49 L289.9 578.27 L290.5 578.26 L291.1 579.5 L291.7 580.03 L292.3 580.81 L292.9 581.25 L293.5 581.87 L294.1 581.97 L294.7 582.24 L295.3 582.3 L295.9 582.66 L296.5 582.95 L297.1 583.26 L297.7 583.54 L298.3 583.76 L298.9 583.96 L299.5 584.12 L300.1 584.29 L300.7 584.43 L301.3 584.57 L301.9 584.69 L302.5 584.84 L303.1 584.98 L303.7 585.15 L304.3 585.2 L304.9 585.2 L305.5 585.2 L306.1 585.2 L306.7 585.2 L307.3 585.2 L307.9 585.2 L308.5 585.2 L309.1 585.2 L309.7 585.2 L310.3 585.2 L310.9 585.2 L311.5 585.2 L312.1 585.2 L312.7 585.2 L313.3 585.2 L313.9 585.2 L314.5 585.2 L315.1 585.2 L315.7 585.2 L316.3 585.2 L316.9 585.2 L317.5 585.2 L318.1 585.2 L318.7 585.2 L319.3 585.2" fill="none" stroke="#2f5cc0" stroke-width="1.3"/>
<path d="M220.9 609 L221.5 609 L222.1 609 L222.7 609 L223.3 609 L223.9 609 L224.5 609 L225.1 609 L225.7 609 L226.3 609 L226.9 609 L227.5 609 L228.1 609 L228.7 609 L229.3 609 L229.9 609 L230.5 609 L231.1 609 L231.7 609 L232.3 609 L232.9 609 L233.5 609 L234.1 609 L234.7 609 L235.3 609 L235.9 609 L236.5 609 L237.1 609 L237.7 609 L238.3 609 L238.9 609 L239.5 609 L240.1 609 L240.7 609 L241.3 609 L241.9 609 L242.5 609 L243.1 609 L243.7 609 L244.3 609 L244.9 609 L245.5 609 L246.1 609 L246.7 608.84 L247.3 608.38 L247.9 607.92 L248.5 607.43 L249.1 606.88 L249.7 606.24 L250.3 605.29 L250.9 604.29 L251.5 603.72 L252.1 602.21 L252.7 601.2 L253.3 599.93 L253.9 598.03 L254.5 595.14 L255.1 591.25 L255.7 589.59 L256.3 588.96 L256.9 586.67 L257.5 583.57 L258.1 581.11 L258.7 580.94 L259.3 581.26 L259.9 579.81 L260.5 579.89 L261.1 578.87 L261.7 578.4 L262.3 575.3 L262.9 573.26 L263.5 572.02 L264.1 571.91 L264.7 572.12 L265.3 574.2 L265.9 576.23 L266.5 578.08 L267.1 579.29 L267.7 580.23 L268.3 580.42 L268.9 580.52 L269.5 580.78 L270.1 579.87 L270.7 577.57 L271.3 575.03 L271.9 573.5 L272.5 573.41 L273.1 574.02 L273.7 575.59 L274.3 577.15 L274.9 579.91 L275.5 580.32 L276.1 579.71 L276.7 578.39 L277.3 577.58 L277.9 577.58 L278.5 577.49 L279.1 579.11 L279.7 579.26 L280.3 579.07 L280.9 579.98 L281.5 580.92 L282.1 581.27 L282.7 581.16 L283.3 580.46 L283.9 581.49 L284.5 580.84 L285.1 582.46 L285.7 582.52 L286.3 583.05 L286.9 582.31 L287.5 583.04 L288.1 583.32 L288.7 584.28 L289.3 584.8 L289.9 585.43 L290.5 587.19 L291.1 588.34 L291.7 589.43 L292.3 590.18 L292.9 590.62 L293.5 591.2 L294.1 591.59 L294.7 592.53 L295.3 594.07 L295.9 594.92 L296.5 596.16 L297.1 598.14 L297.7 599.37 L298.3 600.08 L298.9 600.27 L299.5 601.13 L300.1 602.49 L300.7 602.89 L301.3 603.61 L301.9 603.99 L302.5 604.6 L303.1 605.13 L303.7 605.73 L304.3 606.34 L304.9 606.74 L305.5 607.12 L306.1 607.52 L306.7 607.96 L307.3 608.41 L307.9 608.85 L308.5 609 L309.1 609 L309.7 609 L310.3 609 L310.9 609 L311.5 609 L312.1 609 L312.7 609 L313.3 609 L313.9 609 L314.5 609 L315.1 609 L315.7 609 L316.3 609 L316.9 609 L317.5 609 L318.1 609 L318.7 609 L319.3 609 L319.7 609 L220.9 609 Z" fill="#f0a8a6"/>
<path d="M220.9 609 L221.5 609 L222.1 609 L222.7 609 L223.3 609 L223.9 609 L224.5 609 L225.1 609 L225.7 609 L226.3 609 L226.9 609 L227.5 609 L228.1 609 L228.7 609 L229.3 609 L229.9 609 L230.5 609 L231.1 609 L231.7 609 L232.3 609 L232.9 609 L233.5 609 L234.1 609 L234.7 609 L235.3 609 L235.9 609 L236.5 609 L237.1 609 L237.7 609 L238.3 609 L238.9 609 L239.5 609 L240.1 609 L240.7 609 L241.3 609 L241.9 609 L242.5 609 L243.1 609 L243.7 609 L244.3 609 L244.9 609 L245.5 609 L246.1 609 L246.7 608.84 L247.3 608.38 L247.9 607.92 L248.5 607.43 L249.1 606.88 L249.7 606.24 L250.3 605.29 L250.9 604.29 L251.5 603.72 L252.1 602.21 L252.7 601.2 L253.3 599.93 L253.9 598.03 L254.5 595.14 L255.1 591.25 L255.7 589.59 L256.3 588.96 L256.9 586.67 L257.5 583.57 L258.1 581.11 L258.7 580.94 L259.3 581.26 L259.9 579.81 L260.5 579.89 L261.1 578.87 L261.7 578.4 L262.3 575.3 L262.9 573.26 L263.5 572.02 L264.1 571.91 L264.7 572.12 L265.3 574.2 L265.9 576.23 L266.5 578.08 L267.1 579.29 L267.7 580.23 L268.3 580.42 L268.9 580.52 L269.5 580.78 L270.1 579.87 L270.7 577.57 L271.3 575.03 L271.9 573.5 L272.5 573.41 L273.1 574.02 L273.7 575.59 L274.3 577.15 L274.9 579.91 L275.5 580.32 L276.1 579.71 L276.7 578.39 L277.3 577.58 L277.9 577.58 L278.5 577.49 L279.1 579.11 L279.7 579.26 L280.3 579.07 L280.9 579.98 L281.5 580.92 L282.1 581.27 L282.7 581.16 L283.3 580.46 L283.9 581.49 L284.5 580.84 L285.1 582.46 L285.7 582.52 L286.3 583.05 L286.9 582.31 L287.5 583.04 L288.1 583.32 L288.7 584.28 L289.3 584.8 L289.9 585.43 L290.5 587.19 L291.1 588.34 L291.7 589.43 L292.3 590.18 L292.9 590.62 L293.5 591.2 L294.1 591.59 L294.7 592.53 L295.3 594.07 L295.9 594.92 L296.5 596.16 L297.1 598.14 L297.7 599.37 L298.3 600.08 L298.9 600.27 L299.5 601.13 L300.1 602.49 L300.7 602.89 L301.3 603.61 L301.9 603.99 L302.5 604.6 L303.1 605.13 L303.7 605.73 L304.3 606.34 L304.9 606.74 L305.5 607.12 L306.1 607.52 L306.7 607.96 L307.3 608.41 L307.9 608.85 L308.5 609 L309.1 609 L309.7 609 L310.3 609 L310.9 609 L311.5 609 L312.1 609 L312.7 609 L313.3 609 L313.9 609 L314.5 609 L315.1 609 L315.7 609 L316.3 609 L316.9 609 L317.5 609 L318.1 609 L318.7 609 L319.3 609" fill="none" stroke="#e0393a" stroke-width="1.3"/>
</g>
<line x1="255.4" y1="543.9" x2="255.4" y2="609" stroke="#231f20" stroke-width="1.2" stroke-dasharray="2.4 1.6"/>
<text x="317.5" y="552.7" text-anchor="end" fill="#6b6b6b">Isotyoe</text>
<text x="317.5" y="575.6" text-anchor="end" fill="#2f5cc0">WT</text>
<text x="317.5" y="600.1" text-anchor="end" fill="#e0393a">rmAEBP1</text>
<rect x="220.4" y="511.5" width="99.8" height="97.5" fill="none" stroke="#231f20" stroke-width="1.2"/>
<path d="M220.4 610 H320.2" stroke="#231f20" stroke-width="2" stroke-dasharray="0.6 2.2"/>
<text x="227.7" y="618.4" font-size="7" text-anchor="middle" fill="#231f20">-10<tspan font-size="4.34" dy="-2.6">3</tspan></text>
<text x="245.8" y="618" text-anchor="middle" font-size="7">0</text>
<text x="264.2" y="618.4" font-size="7" text-anchor="middle" fill="#231f20">10<tspan font-size="4.34" dy="-2.6">3</tspan></text>
<text x="295.5" y="618.4" font-size="7" text-anchor="middle" fill="#231f20">10<tspan font-size="4.34" dy="-2.6">4</tspan></text>
<line x1="220.4" y1="626.4" x2="285.2" y2="626.4" stroke="#231f20" stroke-width="1.2"/>
<path d="M288.2 626.4 L282.7 623.8 L282.7 629 Z" fill="#231f20"/>
<text x="291.4" y="630.1" font-size="10.2">PD-L1</text>
<line x1="352.5" y1="522.6" x2="352.5" y2="610.2" stroke="#231f20" stroke-width="1.2"/>
<line x1="352" y1="609.7" x2="410.2" y2="609.7" stroke="#231f20" stroke-width="1.2"/>
<line x1="349.7" y1="609.7" x2="352.5" y2="609.7" stroke="#231f20" stroke-width="1.1"/>
<text x="348.9" y="612.1" text-anchor="end" font-size="6.8">0.0</text>
<line x1="349.7" y1="592.28" x2="352.5" y2="592.28" stroke="#231f20" stroke-width="1.1"/>
<text x="348.9" y="594.68" text-anchor="end" font-size="6.8">0.5</text>
<line x1="349.7" y1="574.86" x2="352.5" y2="574.86" stroke="#231f20" stroke-width="1.1"/>
<text x="348.9" y="577.26" text-anchor="end" font-size="6.8">1.0</text>
<line x1="349.7" y1="557.44" x2="352.5" y2="557.44" stroke="#231f20" stroke-width="1.1"/>
<text x="348.9" y="559.84" text-anchor="end" font-size="6.8">1.5</text>
<line x1="349.7" y1="540.02" x2="352.5" y2="540.02" stroke="#231f20" stroke-width="1.1"/>
<text x="348.9" y="542.42" text-anchor="end" font-size="6.8">2.0</text>
<line x1="349.7" y1="522.6" x2="352.5" y2="522.6" stroke="#231f20" stroke-width="1.1"/>
<text x="348.9" y="525" text-anchor="end" font-size="6.8">2.5</text>
<text x="334.6" y="565" text-anchor="middle" transform="rotate(-90 334.6 565)">Relative PD-L1 MFI</text>
<path d="M360.9 609.7 L360.9 575.31 L376.8 575.31 L376.8 609.7" fill="none" stroke="#2f5cc0" stroke-width="1.4"/>
<line x1="368.85" y1="609.7" x2="368.85" y2="612.5" stroke="#231f20" stroke-width="1.1"/>
<line x1="368.85" y1="574.62" x2="368.85" y2="576.01" stroke="#2f5cc0" stroke-width="1.3"/>
<line x1="364.85" y1="574.62" x2="372.85" y2="574.62" stroke="#2f5cc0" stroke-width="1.3"/>
<line x1="364.85" y1="576.01" x2="372.85" y2="576.01" stroke="#2f5cc0" stroke-width="1.3"/>
<line x1="360.9" y1="575.31" x2="376.8" y2="575.31" stroke="#2f5cc0" stroke-width="1.4"/>
<circle cx="365.35" cy="573.81" r="1.9" fill="#2f5cc0"/>
<circle cx="368.85" cy="575.91" r="1.9" fill="#2f5cc0"/>
<circle cx="372.35" cy="573.81" r="1.9" fill="#2f5cc0"/>
<path d="M385.8 609.7 L385.8 544.55 L401.6 544.55 L401.6 609.7" fill="none" stroke="#e0393a" stroke-width="1.4"/>
<line x1="393.7" y1="609.7" x2="393.7" y2="612.5" stroke="#231f20" stroke-width="1.1"/>
<line x1="393.7" y1="539.32" x2="393.7" y2="549.78" stroke="#e0393a" stroke-width="1.3"/>
<line x1="389.7" y1="539.32" x2="397.7" y2="539.32" stroke="#e0393a" stroke-width="1.3"/>
<line x1="389.7" y1="549.78" x2="397.7" y2="549.78" stroke="#e0393a" stroke-width="1.3"/>
<line x1="385.8" y1="544.55" x2="401.6" y2="544.55" stroke="#e0393a" stroke-width="1.4"/>
<circle cx="393.7" cy="533.75" r="1.9" fill="#e0393a"/>
<circle cx="389.7" cy="548.73" r="1.9" fill="#e0393a"/>
<circle cx="396.7" cy="547.68" r="1.9" fill="#e0393a"/>
<line x1="368.4" y1="526" x2="393.9" y2="526" stroke="#231f20" stroke-width="1.3"/>
<text x="381.15" y="522.5" text-anchor="middle" font-size="7.3"><tspan font-style="italic">P</tspan> = 0.0035</text>
<text x="372.3" y="619.1" text-anchor="end" font-size="10.5" transform="rotate(-33 372.3 619.1)">IgG</text>
<text x="397.2" y="619.1" text-anchor="end" font-size="10.5" transform="rotate(-33 397.2 619.1)">rmAEBP1</text>
<text x="418.2" y="490.7" font-weight="bold" font-size="14.2">J</text>
<text x="562.8" y="498.2" text-anchor="middle">hCAFs</text>
<path d="M446 502.5 H685" stroke="#1a1a1a" stroke-width="1.3" stroke-dasharray="1.1 1" shape-rendering="crispEdges"/>
<line x1="449.4" y1="534.6" x2="449.4" y2="621.1" stroke="#231f20" stroke-width="1.25"/>
<line x1="448.9" y1="620.6" x2="549" y2="620.6" stroke="#231f20" stroke-width="1.25"/>
<line x1="446.8" y1="620.6" x2="449.4" y2="620.6" stroke="#231f20" stroke-width="1.1"/>
<text x="445.2" y="622.9" text-anchor="end" font-size="6.5">0</text>
<line x1="446.8" y1="599.1" x2="449.4" y2="599.1" stroke="#231f20" stroke-width="1.1"/>
<text x="445.2" y="601.4" text-anchor="end" font-size="6.5">5</text>
<line x1="446.8" y1="577.6" x2="449.4" y2="577.6" stroke="#231f20" stroke-width="1.1"/>
<text x="445.2" y="579.9" text-anchor="end" font-size="6.5">10</text>
<line x1="446.8" y1="556.1" x2="449.4" y2="556.1" stroke="#231f20" stroke-width="1.1"/>
<text x="445.2" y="558.4" text-anchor="end" font-size="6.5">15</text>
<line x1="446.8" y1="534.6" x2="449.4" y2="534.6" stroke="#231f20" stroke-width="1.1"/>
<text x="445.2" y="536.9" text-anchor="end" font-size="6.5">20</text>
<path d="M457.3 620.6 L457.3 591.19 L471.6 591.19 L471.6 620.6" fill="none" stroke="#2f5cc0" stroke-width="1.4"/>
<line x1="464.45" y1="586.03" x2="464.45" y2="596.35" stroke="#2f5cc0" stroke-width="1.3"/>
<line x1="459.95" y1="586.03" x2="468.95" y2="586.03" stroke="#2f5cc0" stroke-width="1.3"/>
<line x1="459.95" y1="596.35" x2="468.95" y2="596.35" stroke="#2f5cc0" stroke-width="1.3"/>
<circle cx="464.45" cy="585.34" r="2.2" fill="#2f5cc0"/>
<circle cx="464.45" cy="589.64" r="2.2" fill="#2f5cc0"/>
<circle cx="464.45" cy="599.96" r="2.2" fill="#2f5cc0"/>
<line x1="464.45" y1="620.6" x2="464.45" y2="623.1" stroke="#231f20" stroke-width="1.1"/>
<path d="M480 620.6 L480 556.1 L494.7 556.1 L494.7 620.6" fill="none" stroke="#e0393a" stroke-width="1.4"/>
<line x1="487.35" y1="553.52" x2="487.35" y2="558.68" stroke="#e0393a" stroke-width="1.3"/>
<line x1="482.85" y1="553.52" x2="491.85" y2="553.52" stroke="#e0393a" stroke-width="1.3"/>
<line x1="482.85" y1="558.68" x2="491.85" y2="558.68" stroke="#e0393a" stroke-width="1.3"/>
<rect x="485.25" y="545.83" width="4.2" height="4.2" fill="#e0393a"/>
<rect x="481.25" y="552.71" width="4.2" height="4.2" fill="#e0393a"/>
<rect x="489.25" y="552.71" width="4.2" height="4.2" fill="#e0393a"/>
<line x1="487.35" y1="620.6" x2="487.35" y2="623.1" stroke="#231f20" stroke-width="1.1"/>
<path d="M508.2 620.6 L508.2 551.59 L523 551.59 L523 620.6" fill="none" stroke="#2a8a48" stroke-width="1.4"/>
<line x1="515.6" y1="546.43" x2="515.6" y2="556.75" stroke="#2a8a48" stroke-width="1.3"/>
<line x1="511.1" y1="546.43" x2="520.1" y2="546.43" stroke="#2a8a48" stroke-width="1.3"/>
<line x1="511.1" y1="556.75" x2="520.1" y2="556.75" stroke="#2a8a48" stroke-width="1.3"/>
<path d="M515.6 539.11 L512.8 544.01 L518.4 544.01 Z" fill="#2a8a48"/>
<path d="M515.6 552.44 L512.8 557.34 L518.4 557.34 Z" fill="#2a8a48"/>
<path d="M515.6 556.74 L512.8 561.64 L518.4 561.64 Z" fill="#2a8a48"/>
<line x1="515.6" y1="620.6" x2="515.6" y2="623.1" stroke="#231f20" stroke-width="1.1"/>
<path d="M531.3 620.6 L531.3 558.25 L545.6 558.25 L545.6 620.6" fill="none" stroke="#a33ed6" stroke-width="1.4"/>
<line x1="538.45" y1="555.67" x2="538.45" y2="560.83" stroke="#a33ed6" stroke-width="1.3"/>
<line x1="533.95" y1="555.67" x2="542.95" y2="555.67" stroke="#a33ed6" stroke-width="1.3"/>
<line x1="533.95" y1="560.83" x2="542.95" y2="560.83" stroke="#a33ed6" stroke-width="1.3"/>
<path d="M538.45 556.32 L535.65 551.42 L541.25 551.42 Z" fill="#a33ed6"/>
<path d="M533.95 561.91 L531.15 557.01 L536.75 557.01 Z" fill="#a33ed6"/>
<path d="M542.95 561.91 L540.15 557.01 L545.75 557.01 Z" fill="#a33ed6"/>
<line x1="538.45" y1="620.6" x2="538.45" y2="623.1" stroke="#231f20" stroke-width="1.1"/>
<text x="434.09" y="578" text-anchor="middle" font-size="10.8" transform="rotate(-90 434.09 578)">IFN-γ<tspan font-size="7" dy="-4">+</tspan><tspan dy="4"> (% of CD8</tspan><tspan font-size="7" dy="-4">+</tspan><tspan dy="4">)</tspan></text>
<line x1="463" y1="540.7" x2="486" y2="540.7" stroke="#231f20" stroke-width="1.3"/>
<text x="474.5" y="538.1" text-anchor="middle" font-size="6.2"><tspan font-style="italic">P</tspan> = 0.0006</text>
<line x1="485.6" y1="529" x2="514.6" y2="529" stroke="#231f20" stroke-width="1.3"/>
<text x="500.1" y="526.4" text-anchor="middle" font-size="6.2"><tspan font-style="italic">P</tspan> = 0.9615</text>
<line x1="513.2" y1="522.2" x2="543.3" y2="522.2" stroke="#231f20" stroke-width="1.3"/>
<text x="528.25" y="519.6" text-anchor="middle" font-size="6.2"><tspan font-style="italic">P</tspan> = 0.6085</text>
<line x1="485.6" y1="512" x2="535.8" y2="512" stroke="#231f20" stroke-width="1.3"/>
<text x="510.7" y="509.4" text-anchor="middle" font-size="6.2"><tspan font-style="italic">P</tspan> = 0.8601</text>
<line x1="456.2" y1="635.7" x2="501.4" y2="635.7" stroke="#231f20" stroke-width="0.9"/>
<text x="478.8" y="643.8" text-anchor="middle" font-size="7">IgG</text>
<line x1="507.1" y1="635.7" x2="546.7" y2="635.7" stroke="#231f20" stroke-width="0.9"/>
<text x="526.9" y="643.8" text-anchor="middle" font-size="7">Anti-PD-L1</text>
<text x="459.3" y="633.2" text-anchor="middle" font-size="7">shNC</text>
<text x="485.6" y="633.2" text-anchor="middle" font-size="7">sh<tspan font-style="italic">AEBP1</tspan></text>
<text x="515.4" y="633.2" text-anchor="middle" font-size="7">shNC</text>
<text x="540.5" y="633.2" text-anchor="middle" font-size="7">sh<tspan font-style="italic">AEBP1</tspan></text>
<line x1="579.4" y1="533.9" x2="579.4" y2="620.4" stroke="#231f20" stroke-width="1.25"/>
<line x1="578.9" y1="619.9" x2="678.9" y2="619.9" stroke="#231f20" stroke-width="1.25"/>
<line x1="576.8" y1="619.9" x2="579.4" y2="619.9" stroke="#231f20" stroke-width="1.1"/>
<text x="575.2" y="622.2" text-anchor="end" font-size="6.5">0</text>
<line x1="576.8" y1="598.4" x2="579.4" y2="598.4" stroke="#231f20" stroke-width="1.1"/>
<text x="575.2" y="600.7" text-anchor="end" font-size="6.5">5</text>
<line x1="576.8" y1="576.9" x2="579.4" y2="576.9" stroke="#231f20" stroke-width="1.1"/>
<text x="575.2" y="579.2" text-anchor="end" font-size="6.5">10</text>
<line x1="576.8" y1="555.4" x2="579.4" y2="555.4" stroke="#231f20" stroke-width="1.1"/>
<text x="575.2" y="557.7" text-anchor="end" font-size="6.5">15</text>
<line x1="576.8" y1="533.9" x2="579.4" y2="533.9" stroke="#231f20" stroke-width="1.1"/>
<text x="575.2" y="536.2" text-anchor="end" font-size="6.5">20</text>
<path d="M586.6 619.9 L586.6 588.94 L601.6 588.94 L601.6 619.9" fill="none" stroke="#2f5cc0" stroke-width="1.4"/>
<line x1="594.1" y1="586.57" x2="594.1" y2="591.3" stroke="#2f5cc0" stroke-width="1.3"/>
<line x1="589.6" y1="586.57" x2="598.6" y2="586.57" stroke="#2f5cc0" stroke-width="1.3"/>
<line x1="589.6" y1="591.3" x2="598.6" y2="591.3" stroke="#2f5cc0" stroke-width="1.3"/>
<circle cx="594.1" cy="583.78" r="2.2" fill="#2f5cc0"/>
<circle cx="589.1" cy="590.01" r="2.2" fill="#2f5cc0"/>
<circle cx="599.1" cy="590.01" r="2.2" fill="#2f5cc0"/>
<line x1="594.1" y1="619.9" x2="594.1" y2="622.4" stroke="#231f20" stroke-width="1.1"/>
<path d="M610 619.9 L610 556.48 L624.6 556.48 L624.6 619.9" fill="none" stroke="#e0393a" stroke-width="1.4"/>
<line x1="617.3" y1="553.47" x2="617.3" y2="559.49" stroke="#e0393a" stroke-width="1.3"/>
<line x1="612.8" y1="553.47" x2="621.8" y2="553.47" stroke="#e0393a" stroke-width="1.3"/>
<line x1="612.8" y1="559.49" x2="621.8" y2="559.49" stroke="#e0393a" stroke-width="1.3"/>
<rect x="615.2" y="548.78" width="4.2" height="4.2" fill="#e0393a"/>
<rect x="615.2" y="553.73" width="4.2" height="4.2" fill="#e0393a"/>
<rect x="615.2" y="558.89" width="4.2" height="4.2" fill="#e0393a"/>
<line x1="617.3" y1="619.9" x2="617.3" y2="622.4" stroke="#231f20" stroke-width="1.1"/>
<path d="M638.2 619.9 L638.2 558.41 L652.9 558.41 L652.9 619.9" fill="none" stroke="#2a8a48" stroke-width="1.4"/>
<line x1="645.55" y1="556.26" x2="645.55" y2="560.56" stroke="#2a8a48" stroke-width="1.3"/>
<line x1="641.05" y1="556.26" x2="650.05" y2="556.26" stroke="#2a8a48" stroke-width="1.3"/>
<line x1="641.05" y1="560.56" x2="650.05" y2="560.56" stroke="#2a8a48" stroke-width="1.3"/>
<path d="M645.55 550.02 L642.75 554.92 L648.35 554.92 Z" fill="#2a8a48"/>
<path d="M645.55 555.18 L642.75 560.08 L648.35 560.08 Z" fill="#2a8a48"/>
<path d="M645.55 559.05 L642.75 563.95 L648.35 563.95 Z" fill="#2a8a48"/>
<line x1="645.55" y1="619.9" x2="645.55" y2="622.4" stroke="#231f20" stroke-width="1.1"/>
<path d="M660.8 619.9 L660.8 546.37 L675.5 546.37 L675.5 619.9" fill="none" stroke="#a33ed6" stroke-width="1.4"/>
<line x1="668.15" y1="540.35" x2="668.15" y2="552.39" stroke="#a33ed6" stroke-width="1.3"/>
<line x1="663.65" y1="540.35" x2="672.65" y2="540.35" stroke="#a33ed6" stroke-width="1.3"/>
<line x1="663.65" y1="552.39" x2="672.65" y2="552.39" stroke="#a33ed6" stroke-width="1.3"/>
<path d="M662.15 543.58 L659.35 538.68 L664.95 538.68 Z" fill="#a33ed6"/>
<path d="M674.15 543.58 L671.35 538.68 L676.95 538.68 Z" fill="#a33ed6"/>
<path d="M668.15 559.92 L665.35 555.02 L670.95 555.02 Z" fill="#a33ed6"/>
<line x1="668.15" y1="619.9" x2="668.15" y2="622.4" stroke="#231f20" stroke-width="1.1"/>
<text x="564.09" y="575.8" text-anchor="middle" font-size="10.8" transform="rotate(-90 564.09 575.8)">TNF-α<tspan font-size="7" dy="-4">+</tspan><tspan dy="4"> (% of CD8</tspan><tspan font-size="7" dy="-4">+</tspan><tspan dy="4">)</tspan></text>
<line x1="593" y1="541.8" x2="619" y2="541.8" stroke="#231f20" stroke-width="1.3"/>
<text x="606" y="539.2" text-anchor="middle" font-size="6.2"><tspan font-style="italic">P</tspan> = 0.0012</text>
<line x1="615.6" y1="532.3" x2="645" y2="532.3" stroke="#231f20" stroke-width="1.3"/>
<text x="630.3" y="529.7" text-anchor="middle" font-size="6.2"><tspan font-style="italic">P</tspan> = 0.9940</text>
<line x1="643.8" y1="522.2" x2="667.6" y2="522.2" stroke="#231f20" stroke-width="1.3"/>
<text x="655.7" y="519.6" text-anchor="middle" font-size="6.2"><tspan font-style="italic">P</tspan> = 0.1672</text>
<line x1="615.6" y1="512" x2="667.6" y2="512" stroke="#231f20" stroke-width="1.3"/>
<text x="641.6" y="509.4" text-anchor="middle" font-size="6.2"><tspan font-style="italic">P</tspan> = 0.2344</text>
<line x1="586.2" y1="635.7" x2="631.4" y2="635.7" stroke="#231f20" stroke-width="0.9"/>
<text x="608.8" y="643.8" text-anchor="middle" font-size="7">IgG</text>
<line x1="637.1" y1="635.7" x2="676.6" y2="635.7" stroke="#231f20" stroke-width="0.9"/>
<text x="656.85" y="643.8" text-anchor="middle" font-size="7">Anti-PD-L1</text>
<text x="589.6" y="633.2" text-anchor="middle" font-size="7">shNC</text>
<text x="615.6" y="633.2" text-anchor="middle" font-size="7">sh<tspan font-style="italic">AEBP1</tspan></text>
<text x="643.2" y="633.2" text-anchor="middle" font-size="7">shNC</text>
<text x="668.7" y="633.2" text-anchor="middle" font-size="7">sh<tspan font-style="italic">AEBP1</tspan></text>
</svg></body></html>
